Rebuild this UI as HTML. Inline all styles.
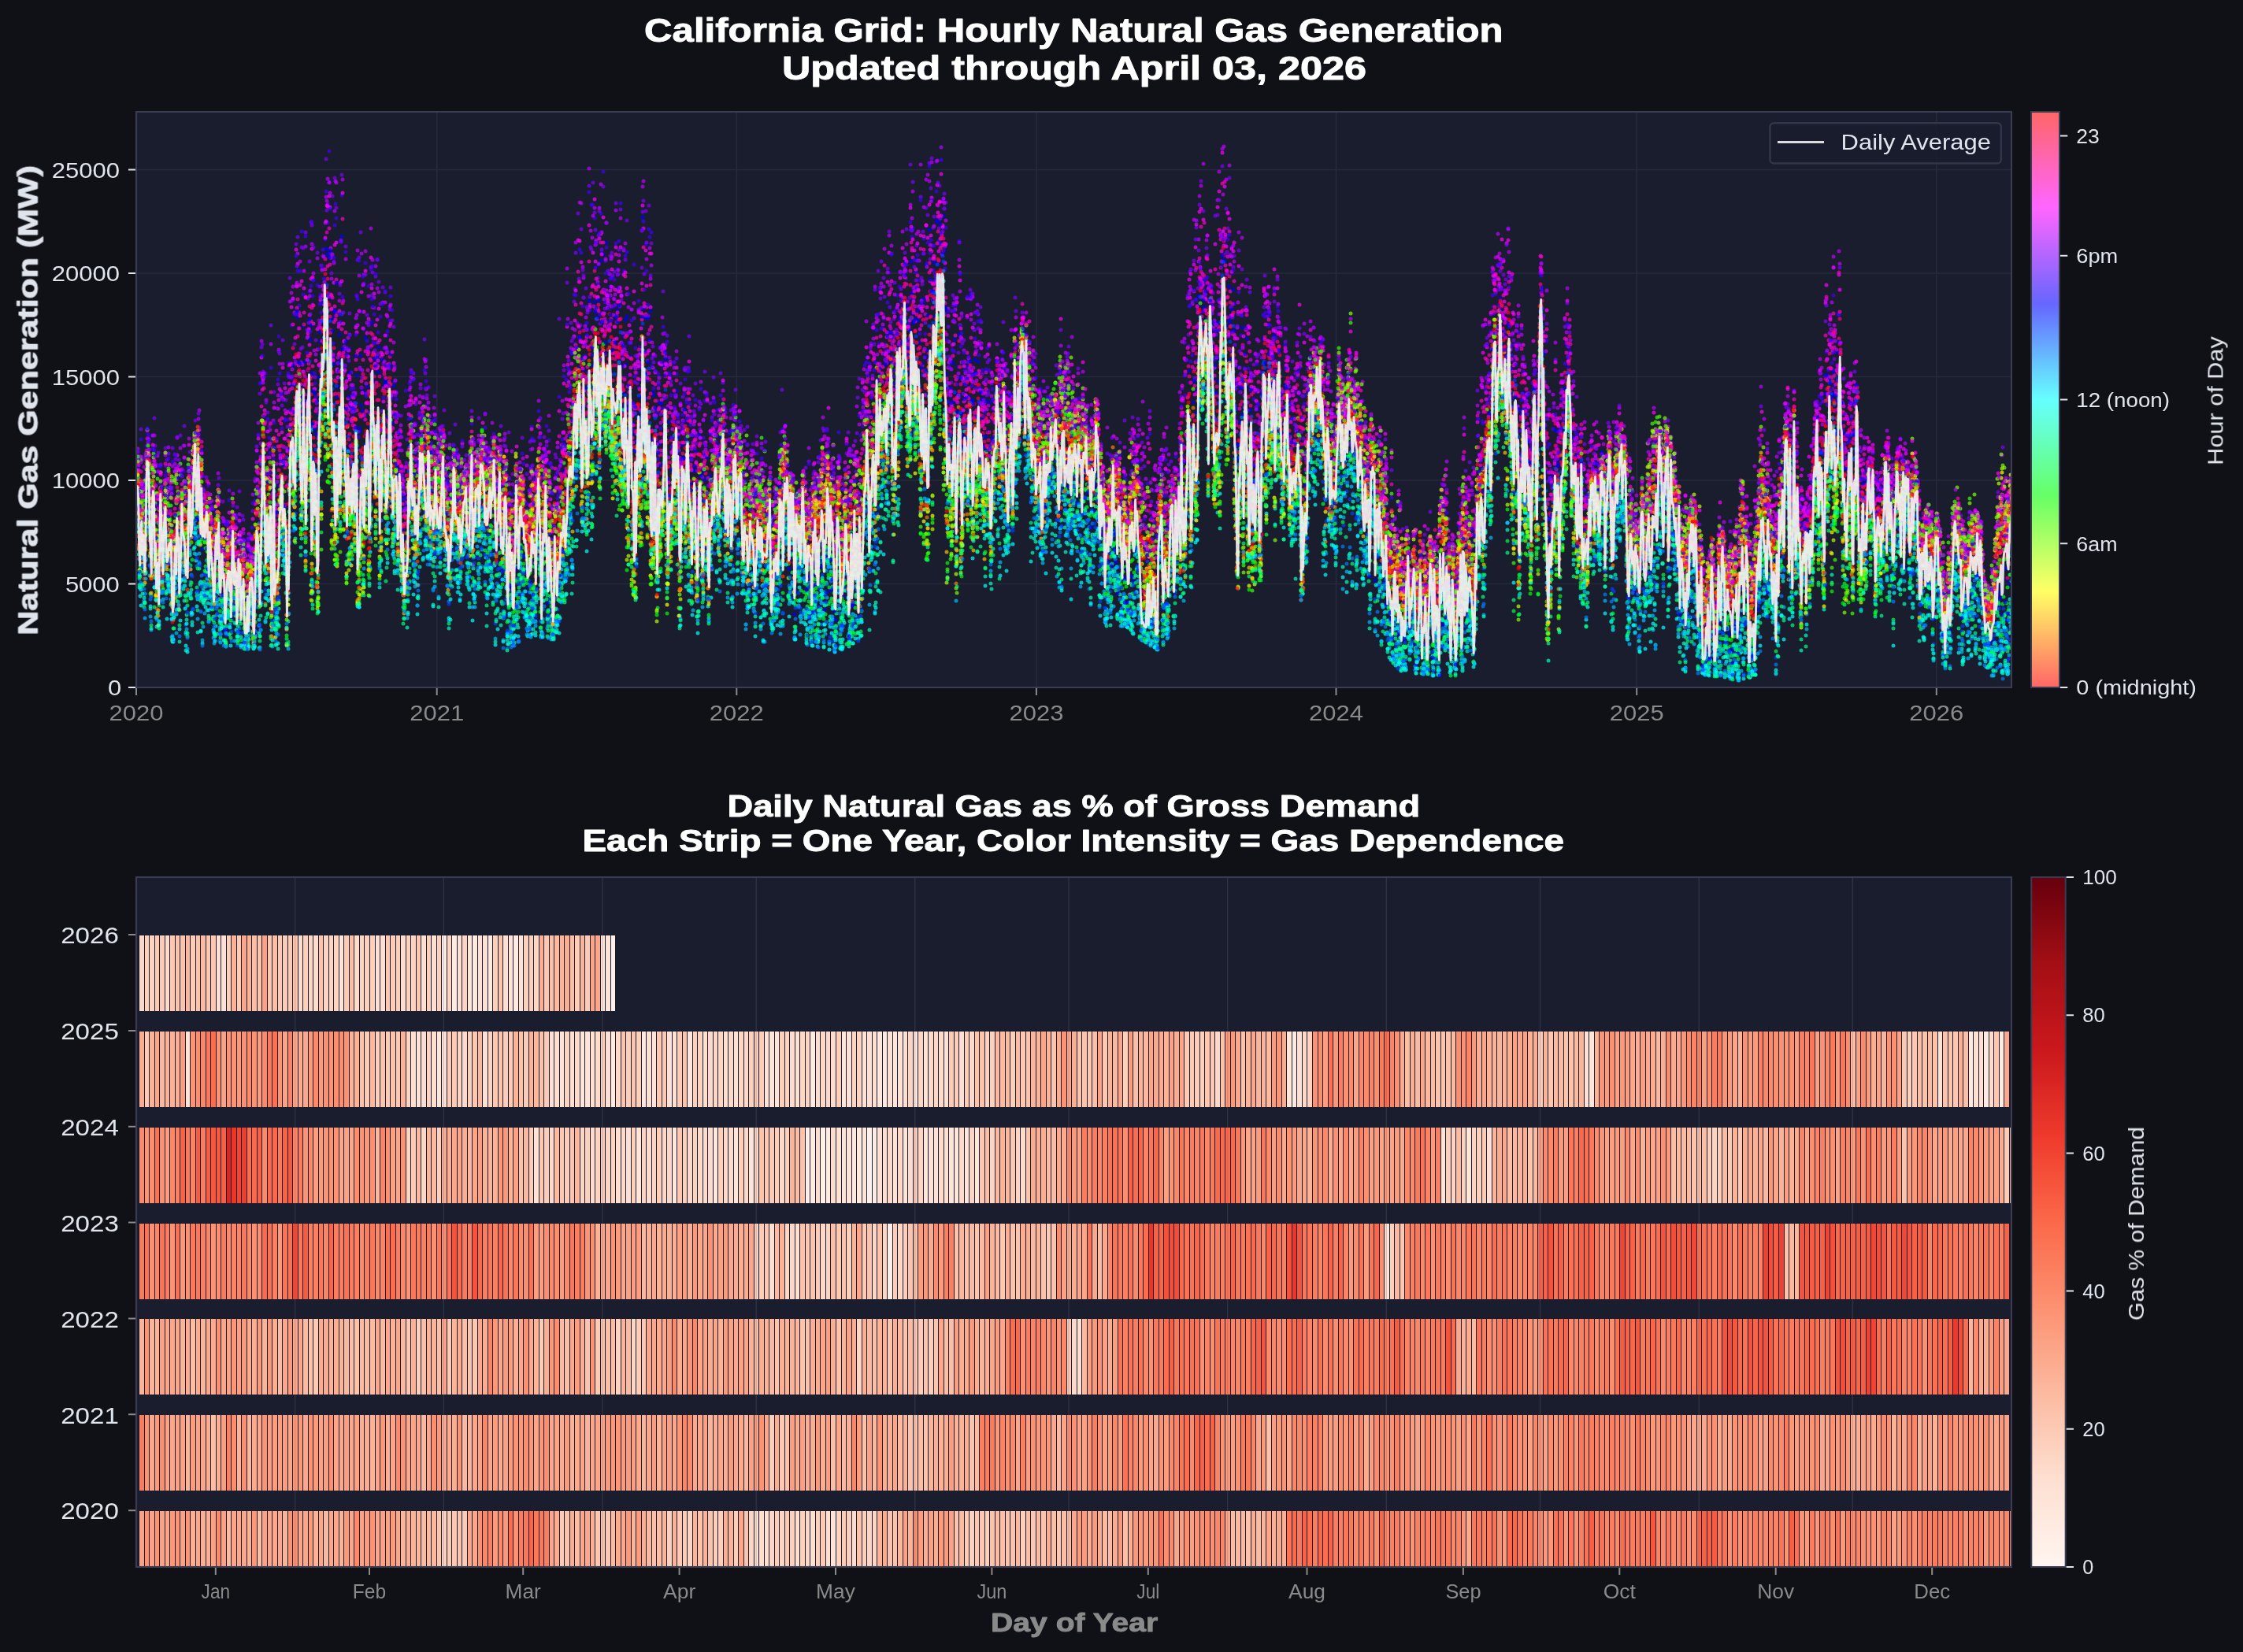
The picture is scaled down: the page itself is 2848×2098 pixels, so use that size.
<!DOCTYPE html>
<html><head><meta charset="utf-8"><title>California Grid: Hourly Natural Gas Generation</title><style>html,body{margin:0;padding:0;background:#101116;}svg{display:block}</style></head><body>
<svg width="2848" height="2098" viewBox="0 0 2848 2098" font-family='"Liberation Sans", sans-serif'>
<rect width="2848" height="2098" fill="#101116"/>
<rect x="173" y="142" width="2381" height="731" fill="#1a1d2e"/>
<path d="M173 873.0H2554M173 741.5H2554M173 610.0H2554M173 478.5H2554M173 347.0H2554M173 215.5H2554M173.0 142V873M554.7 142V873M935.3 142V873M1315.9 142V873M1696.5 142V873M2078.2 142V873M2458.8 142V873" stroke="#272a3d" stroke-width="1.6" fill="none"/>
<clipPath id="c1"><rect x="173" y="142" width="2381" height="731"/></clipPath>
<defs>
<marker id="m0" markerUnits="userSpaceOnUse" markerWidth="6" markerHeight="6" refX="3" refY="3" overflow="visible"><circle cx="3" cy="3" r="2.5" fill="#ff0000" fill-opacity="0.7"/></marker>
<marker id="m1" markerUnits="userSpaceOnUse" markerWidth="6" markerHeight="6" refX="3" refY="3" overflow="visible"><circle cx="3" cy="3" r="2.5" fill="#ff3f00" fill-opacity="0.7"/></marker>
<marker id="m2" markerUnits="userSpaceOnUse" markerWidth="6" markerHeight="6" refX="3" refY="3" overflow="visible"><circle cx="3" cy="3" r="2.5" fill="#ff7f00" fill-opacity="0.7"/></marker>
<marker id="m3" markerUnits="userSpaceOnUse" markerWidth="6" markerHeight="6" refX="3" refY="3" overflow="visible"><circle cx="3" cy="3" r="2.5" fill="#ffbf00" fill-opacity="0.7"/></marker>
<marker id="m4" markerUnits="userSpaceOnUse" markerWidth="6" markerHeight="6" refX="3" refY="3" overflow="visible"><circle cx="3" cy="3" r="2.5" fill="#ffff00" fill-opacity="0.7"/></marker>
<marker id="m5" markerUnits="userSpaceOnUse" markerWidth="6" markerHeight="6" refX="3" refY="3" overflow="visible"><circle cx="3" cy="3" r="2.5" fill="#bfff00" fill-opacity="0.7"/></marker>
<marker id="m6" markerUnits="userSpaceOnUse" markerWidth="6" markerHeight="6" refX="3" refY="3" overflow="visible"><circle cx="3" cy="3" r="2.5" fill="#7fff00" fill-opacity="0.7"/></marker>
<marker id="m7" markerUnits="userSpaceOnUse" markerWidth="6" markerHeight="6" refX="3" refY="3" overflow="visible"><circle cx="3" cy="3" r="2.5" fill="#3fff00" fill-opacity="0.7"/></marker>
<marker id="m8" markerUnits="userSpaceOnUse" markerWidth="6" markerHeight="6" refX="3" refY="3" overflow="visible"><circle cx="3" cy="3" r="2.5" fill="#00ff00" fill-opacity="0.7"/></marker>
<marker id="m9" markerUnits="userSpaceOnUse" markerWidth="6" markerHeight="6" refX="3" refY="3" overflow="visible"><circle cx="3" cy="3" r="2.5" fill="#00ff3f" fill-opacity="0.7"/></marker>
<marker id="m10" markerUnits="userSpaceOnUse" markerWidth="6" markerHeight="6" refX="3" refY="3" overflow="visible"><circle cx="3" cy="3" r="2.5" fill="#00ff7f" fill-opacity="0.7"/></marker>
<marker id="m11" markerUnits="userSpaceOnUse" markerWidth="6" markerHeight="6" refX="3" refY="3" overflow="visible"><circle cx="3" cy="3" r="2.5" fill="#00ffbf" fill-opacity="0.7"/></marker>
<marker id="m12" markerUnits="userSpaceOnUse" markerWidth="6" markerHeight="6" refX="3" refY="3" overflow="visible"><circle cx="3" cy="3" r="2.5" fill="#00ffff" fill-opacity="0.7"/></marker>
<marker id="m13" markerUnits="userSpaceOnUse" markerWidth="6" markerHeight="6" refX="3" refY="3" overflow="visible"><circle cx="3" cy="3" r="2.5" fill="#00bfff" fill-opacity="0.7"/></marker>
<marker id="m14" markerUnits="userSpaceOnUse" markerWidth="6" markerHeight="6" refX="3" refY="3" overflow="visible"><circle cx="3" cy="3" r="2.5" fill="#007fff" fill-opacity="0.7"/></marker>
<marker id="m15" markerUnits="userSpaceOnUse" markerWidth="6" markerHeight="6" refX="3" refY="3" overflow="visible"><circle cx="3" cy="3" r="2.5" fill="#003fff" fill-opacity="0.7"/></marker>
<marker id="m16" markerUnits="userSpaceOnUse" markerWidth="6" markerHeight="6" refX="3" refY="3" overflow="visible"><circle cx="3" cy="3" r="2.5" fill="#0000ff" fill-opacity="0.7"/></marker>
<marker id="m17" markerUnits="userSpaceOnUse" markerWidth="6" markerHeight="6" refX="3" refY="3" overflow="visible"><circle cx="3" cy="3" r="2.5" fill="#3f00ff" fill-opacity="0.7"/></marker>
<marker id="m18" markerUnits="userSpaceOnUse" markerWidth="6" markerHeight="6" refX="3" refY="3" overflow="visible"><circle cx="3" cy="3" r="2.5" fill="#7f00ff" fill-opacity="0.7"/></marker>
<marker id="m19" markerUnits="userSpaceOnUse" markerWidth="6" markerHeight="6" refX="3" refY="3" overflow="visible"><circle cx="3" cy="3" r="2.5" fill="#bf00ff" fill-opacity="0.7"/></marker>
<marker id="m20" markerUnits="userSpaceOnUse" markerWidth="6" markerHeight="6" refX="3" refY="3" overflow="visible"><circle cx="3" cy="3" r="2.5" fill="#ff00ff" fill-opacity="0.7"/></marker>
<marker id="m21" markerUnits="userSpaceOnUse" markerWidth="6" markerHeight="6" refX="3" refY="3" overflow="visible"><circle cx="3" cy="3" r="2.5" fill="#ff00bf" fill-opacity="0.7"/></marker>
<marker id="m22" markerUnits="userSpaceOnUse" markerWidth="6" markerHeight="6" refX="3" refY="3" overflow="visible"><circle cx="3" cy="3" r="2.5" fill="#ff007f" fill-opacity="0.7"/></marker>
<marker id="m23" markerUnits="userSpaceOnUse" markerWidth="6" markerHeight="6" refX="3" refY="3" overflow="visible"><circle cx="3" cy="3" r="2.5" fill="#ff003f" fill-opacity="0.7"/></marker>
</defs>
<g clip-path="url(#c1)" fill="none" stroke="none">
<path style="marker:url(#m19)" d="M174 608l8 14 4-50 5 51 4-27 4 97 4-67 4 38 4-38 5 23 4 38 4-81 4 20 4-1 4-1 5-26 4 0 4-31 4-46 4 118 4 25 5 43 4-61 4 26 4-37 4 38 4 32 5-42 4 5 4-10 4 27 4 10 4 9 5-26 4 7 4-74 4-74 4-104 5 103 4 61 8 57 4-152 9 19 4-23 4-126 4 25 4-75 4 138 5 18 4-51 8 18 4-117 4 49 5-19 4-131 4 88 4 19 4 138 4-113 5 75 4 98 4-19 4-14 4-99 4 67 5-118 4 61 4 30 4-10 4 24 4 91 5-52 8-104 4 155 4-45 5 47 4 52 4 6 4-109 4 45 4-32 5-5 8-37 4 62 4 21 4 5 5-10 8 22 4 87 4-32 4-49 5 17 8 6 4 4 4-69 4 84 5-61 8-27 4 47 4 7 4 15 5-1 4 37 4-80 4 120 4-6 9-40 4-18 4 44 4 20 4-76 5 19 4-2 4-5 4 7 4 5 4-4 5 54 4-101 4 42 4-146 4-123 4 186 5-78 4-38 4 21 4-79 4 66 4-32 5 2 8 45 12-86 5 52 4 1 4-36 4 58 4 28 5-30 4 105 4 46 4-90 4-245 9 78 8 213 4-48 4-77 4 50 5 27 4 46 4-22 4 68 8-102 9 82 4-37 4 78 4-13 4-82 17 83 4-16 4-27 9 34 4-39 4 58 4-42 4 11 5 111 4-99 4 4 4 40 4 10 9 35 4-1 4-3 4 10 9-118 4 24 8 86 4-20 4 39 5-73 4 87 4-70 4-32 4 17 4 15 5-34 4-31 4 99 8-11 4-63 5 91 4-114 4 11 4 85 4-81 4-35 5-22 4-109 4 61 4-53 9 46 4-50 4 46 4-159 4 137 4 7 5-48 4-101 4 50 4 71 4-138 4 112 5-58 4 26 4 42 4 59 4-252 4 166 5-63 4 14 4-11 4 80 4 77 4-60 5 65 4-76 4 61 4 45 4-98 4 13 5-20 4 43 4 74 8 94 5-100 4-51 4 49 4-42 4 4 4 79 5-40 4-23 4-59 4 7 4 22 4 44 5-46 4 93 4-44 4-19 8 68 5-31 4-2 4-34 4 13 4 33 4-13 5-30 4 34 4 13 4-63 4 57 4 23 5 18 4-63 4 71 4 13 4 40 5-7 4-14 4-11 4 0 4 18 4-14 5 51 4-100 4 34 4 24 4-28 4 49 5 74 4-29 4-81 4 3 4-17 4 65 5-71 4 48 4 30 4-13 4-118 4-94 5 10 4 104 4-75 4-76 4-157 4 134 5-3 4 2 4 38 4-153 4 43 4-111 5 85 8 61 4 84 4 68 5 18 4 9 4-54 4 20 4-46 4 99 5-164 4 8 4 62 4-18 4 47 4 13 5 39 4-64 4 107 4-44 4 25 4-116 5 92 4 57 4-109 4 24 4-10 4-15 5-24 4 121 4-37 4 42 4 7 4-122 5 35 4 29 4-71 4 37 4-13 5 75 4-58 4 57 4 39 4-3 4 67 5 13 4-25 4-36 4 89 4-114 4 87 5-36 4 117 4 0 4-59 4 51 4-20 5 21 4-24 8-37 4 11 4 9 5 23 4 2 4-101 4 108 4 29 4-71 5 31 4-57 4-126 4 102 4 38 9-155 12-78 4 38 5-124 4 44 4-60 4-5 8 84 5-8 4 7 4 175 4-132 4 53 4 46 5-97 4 72 4-127 4 2 4 41 4 51 5 4 4 69 4 40 4-124 4 26 4-96 5 104 12 88 4 28 4-38 5-1 4-28 4-19 4 6 4 75 5-89 4 108 4-80 4 5 4-33 4 15 5 114 4-38 4 49 8-33 4 41 5-116 4 36 4-12 4-17 4-24 4-11 5-4 4 13 4 32 4 36 4 48 4 46 5-28 4 3 4 8 4 4 4 17 4-13 5 9 4 21 4-28 4 43 4-82 5-8 4 56 4-44 4 26 4-41 4-7 5-22 4 13 4 52 4 29 4-21 4-96 5 9 4 27 4-2 4 19 4-9 4-94 5 7 4-23 4 75 4-5 4 33 4-6 5 8 4-8 4-35 4 50 4-139 4 10 5 14 4-157 4 97 4-95 4 49 5-114 4 179 4 28 4-27 4-5 4-33 9 174 4 18 4-53 4-14 4 55 5-20 8-18 4-47 4 50 4 10 5-37 4 46 4 43 4-81 4 26 4-37 5 35 4 83 4-21 4-28 4 5 4 33 5-11 4 4 4 19 4 67 8-90 5 3 4-6 4-7 4 41 4-53 5 17 4 15 4-5 4 27 4 61 4 2 5 6 4-90 4-27 8-49 4 5"/>
<path style="marker:url(#m3)" d="M173 638l4 72 4-19 9-8 4-48 4 122 4-57 4 36 5-35 4-3 4 73 4-13 4-5 5-100 4 46 4-76 4 45 4-64 4-6 5 72 4 6 4 30 4-24 4 12 4-72 5 81 4 83 8-92 4 9 4 3 5 22 4 69 4-16 4-62 4 43 4-61 5-27 4 6 4 25 4 55 4-12 4 5 5-119 4 38 4 88 4-177 4 31 5-72 4 116 4-59 4-46 4 55 9 137 4-207 4-34 4-2 4-47 4 104 5 147 8-58 4 84 4-72 4-52 5-2 4 113 4-27 4-91 8-39 5 27 4 142 4-121 4 33 4-140 4 180 5-56 8 81 4 9 4-14 5-44 4 30 4-49 4-37 4 39 4-46 5 41 4-36 8 9 4 79 4 60 5-76 4-1 4 37 4-45 4-20 4 28 5-117 4 98 4-25 4-28 4 41 4 16 5-43 4 13 4 23 8-39 4 133 9-30 4-42 4-42 4 32 5 40 4-9 4-13 4-56 4 65 4-28 5 38 4-7 8 68 4-64 4-44 5 26 4-63 4-27 4 30 4-75 4-32 5 148 4-163 8 61 4 30 4-125 5 70 4 10 4 20 4 6 4 6 4 26 5-15 12 161 4-105 4-214 5 193 4-39 4 9 4 104 4 19 5-76 4-115 4 193 4-41 4-63 4 43 5-21 4 18 4 10 4 91 4-121 4 73 5-21 4-22 8 41 4-77 4 33 5-41 4 30 4 45 4-8 4-66 4 37 5-62 4 64 4 83 4-49 4 55 4-88 5 50 8-27 4 69 4-34 5-2 4-29 4-55 4-42 8 97 5-23 4 40 4-66 4 99 4-62 4-27 5 10 4 25 4-27 8 26 9 2 4-24 4 55 4-90 4 114 4-10 9-81 4 68 4-85 4 76 4-83 5 52 4-73 8-61 4-32 5 88 4 41 4-50 4-71 4-48 4 73 5-49 8 14 4 133 4-70 4 80 5-122 4-35 4-54 4 22 4 71 4 131 5-8 4-79 4 31 4 93 4-111 4 52 5-11 4-44 4 19 4-1 4 35 9 65 4-112 4-67 4 66 4-86 4 125 5-35 4-4 4-26 4-73 4-33 5 60 4 31 4 23 4 60 4-47 4 14 5-14 8-40 4 57 4 34 4-77 5 37 4-7 4-2 4 4 4 0 4-49 5 11 4 23 8-32 4 101 4-41 5 100 8-73 4-1 4-22 4 83 5-28 4 38 4-74 4-4 4 32 5 52 4 57 4 27 4-14 4-16 4-88 5-33 4 68 8-61 4 91 4-73 5-105 4 133 4-159 4 180 4-98 4-25 5-127 4-33 4 78 4-62 4 169 4 7 5-202 4-18 4 102 4-32 4 63 9 54 4 105 4-50 4-93 4 74 5-5 4 69 4-178 4 131 4-114 4-47 9 85 4 52 4-38 4 77 4-29 5-30 8 140 4-61 4-168 4 50 5-35 4-38 4 50 4 130 4-84 9 55 4-138 4 29 4 8 4-47 4 43 5 1 4 26 4-5 4 56 4 15 5-33 4 121 4-24 4-20 4-35 4 95 5-80 4 45 4 5 4 52 4 21 4-89 5 66 4-22 4 43 4-45 4-2 4 32 5-53 4 7 4 40 4-17 4-46 9 146 4-65 4-6 4-67 4-54 4 136 5-46 4 50 4-151 4 25 4 34 4-103 5 31 4-168 4 76 4-112 4 89 5 12 4 7 4 112 4-83 4 196 4-188 5 10 4 76 4-61 4 75 8-52 5 78 4 50 4-56 4-41 4 146 9-187 4-101 4 118 4 9 4 85 4 19 5-31 4-17 4-49 4-18 4 56 4-75 5 124 4-133 8 49 4-32 5-22 4-7 4 159 12-12 5-55 4 39 4-100 4 102 4-59 4-14 5-49 4 33 4-45 4 20 4 59 4 24 5 29 4 46 4-43 4-24 4 33 9 38 4 19 4-17 4 0 4-26 4 43 5-79 4-5 4 53 4-25 4 1 5-13 4-13 4-75 8 169 4-15 5-48 4-72 4-8 4 78 4-46 4 78 5 58 4-159 4-27 4-55 4 168 4 5 5-18 8-13 4 1 4-29 4 43 5-78 4 41 4-73 4-14 4 30 4 71 5-58 4-89 4 17 4 127 4-1 9-67 4 16 4 108 4-51 4-67 5 22 4 20 8 29 4-56 9-15 4 64 4-94 8 97 4-82 5 62 4-45 4-15 4 67 4 52 9-40 4 50 4-75 4 23 4 57 4 25 5-17 4-86 4 17 4 16 4 12 4-1 5-18 4 5 4-13 4 23 4 24 5 45 4 7 4-22 8-104 13-13"/>
<path style="marker:url(#m12)" d="M174 661l4 96 4-47 4-50 8 6 5 130 4-43 4-2 4-22 4 7 4 79 5-35 4 19 4-74 4 95 4-128 4 102 5-82 4 4 4 101 4-46 4 18 4-37 5 43 4-54 4 26 4 52 4-39 4 8 5-30 4-3 4 26 4 38 4 5 5-55 4 40 4-78 4 20 4-27 4 55 5 21 4-1 4 18 4-168 4 56 4 33 5-135 4 57 4-89 8 47 4-34 5-7 4 42 8-108 4-30 4-31 5 31 4 69 4 138 4-25 4-71 4 140 5-94 4-42 4 10 4 88 9-122 4 129 12 14 4-95 5 67 4-162 4 179 4-66 4 34 4 44 5 26 4 5 4-51 4 11 4-30 4-47 5 58 4-67 4 34 4-11 4 116 4-112 5 47 4 90 8-51 4 12 4-44 5-25 8-33 4 113 4-32 4-45 5 40 4 35 4-33 4-4 4 81 9-91 4 96 4 7 4-25 9-51 4 35 4 29 8-41 4-58 5 109 4-66 4 42 4-20 4 47 4-20 9-119 4 50 4-82 4 53 4-8 5-91 4 9 4 96 4-120 4 63 4-44 5 20 4-132 4 48 4-18 9 47 4 47 4-14 8-47 4 117 5 49 4-131 4-137 4 191 4-69 4 14 5 80 4 28 4-13 4-149 4 182 4-28 5-66 4 54 4-55 4 85 4 14 4 36 5-66 4 96 4-53 4-17 4 58 4-11 5-103 4 45 4-72 4 46 4 66 5 20 4-83 4 46 4-71 4 74 4 46 5-61 4 34 4-51 4 100 4-41 4-18 5 54 4-25 4 29 4 1 4-98 4-44 5 25 4 88 4-40 4 57 8 30 5-23 4-17 8 29 4-24 4-10 5 28 4-35 4 43 4-31 4 39 5-92 4 96 4 1 4-59 4-30 4 22 5-82 4 58 4-61 4 107 8-139 5 14 4-120 4 67 4 52 4-28 4-94 5-67 4 72 4-36 4 72 4-63 4 93 5-28 4 68 4-133 4-18 4-32 4-8 5 90 8 103 4-102 4 63 4 131 5-146 8 49 4-63 4 132 5-30 4-9 4-27 4 97 8-185 5 110 4-117 4 156 4-67 4-5 4 15 5-110 4-40 4 125 4-24 4 15 4 69 5 32 4-15 4-22 4-20 4-37 4 95 5-36 4-36 4 54 4-33 4 38 4-17 5-10 4 1 4 38 4 16 4-30 9 64 4-45 4 80 4-46 4-18 5 18 4-1 4 51 4-7 4-2 4-43 5-12 4 37 4 45 4-3 4 3 4-23 5-2 4-68 4-42 4 81 4 38 4-73 5 58 4-97 4-85 4 123 8 9 5-97 4-22 4-139 4-21 4 90 5-107 4 186 4-10 4-153 4-54 4 62 9 52 4 209 4-155 4 98 4-32 5-81 4 69 4-19 4 74 4-165 4 135 9-146 4 66 4 12 4 57 4-51 5 53 4 25 4-28 4 10 4 96 4-37 5-138 4 33 4-41 4-39 4 53 4 153 5-55 4-3 4 43 4-90 4-31 5 11 4 100 4 38 4-135 4 46 17 41 4 107 4-60 4 73 5-10 4-17 4-8 4-32 4 96 4 1 5-2 4-100 4 84 4-40 4 51 9-8 4 26 4-89 8 63 4-1 5-20 4 34 4 8 8-34 5-79 4-1 4 84 4-8 4 34 4-155 5-1 8-67 4 0 4-129 4 53 5-116 4 101 4 24 4-2 8-2 5 160 12-85 4-41 4 57 5-147 4 100 4 87 4 61 4-83 4 9 5 102 8-153 4-122 4 136 5 34 4 41 8 9 4-21 4-45 5-17 4 56 4-60 4 148 4-137 4 147 5-90 4-27 4-28 4 17 4 151 4-83 5 74 4-41 4-40 4 61 4-89 4 121 5-47 4-50 4-67 4 21 4-34 4-7 5 92 4-6 4 70 4 6 4-9 4 0 5 13 8 21 4 36 4-3 5-11 4-16 4 30 4-24 4 5 4 5 5 16 4-37 4 26 4-37 8-39 5 91 4-33 8-65 4-53 4 67 5-10 8 85 4-158 8-77 5 170 4-3 4-29 4-25 4-5 4-16 5-1 8-16 4 7 4-78 5 8 4-7 8 23 4-72 4 10 5 119 4 8 4-70 4-14 4 39 4 97 9-123 4 43 8-17 4 72 5-41 4-28 4 4 4 82 4-116 4 112 9-84 4 59 4-30 4 31 4 43 5 42 4-50 4 3 4 73 4-53 5-2 4 11 4 37 8-81 4-6 5-8 4 101 4-43 4 11 4-16 9 56 4-17 4 21 4-19 4 2 4-6 5 9 4 19 4-37 4-11 4-10"/>
<path style="marker:url(#m22)" d="M174 621l4 40 4 4 4-63 5 64 4-49 4 91 4-44 4 34 4-39 5 4 4 78 4-70 4 38 4-59 5 40 4-84 8 8 8 45 5 5 4 42 4-13 4-17 4-24 4 25 5 85 4-76 12 20 4 6 5 67 4-30 4-37 4-13 4-104 4 1 5 4 4 63 4 1 4 45 4-103 4-40 5 28 4 30 4-161 4 69 4-105 5 122 4-33 4-46 4 8 4 88 9-99 4-31 4-82 4 39 4 49 4 132 5-11 4-41 4 76 4-18 4-26 4-33 5 51 4-46 4-15 4 69 4-91 4 2 5 140 4-52 4-32 4-94 4 149 4-27 5 28 4 53 4 9 4-57 4-5 5-20 4-19 4-9 4-7 4 25 4 35 5-10 4 5 4-11 4 33 4 77 4-45 5-40 4 31 4 1 8 19 4-99 9 20 4 5 4 14 4 10 4-9 5-1 4 36 4 6 4-50 4 137 4-37 5 1 4-51 4-24 4 57 4 16 4-47 5-20 4-3 4 54 4-37 4 48 5-8 4 46 4-48 4-32 4-73 4-26 5 23 4-95 4 55 4-76 4-26 4 90 5-85 4 58 4-36 4 66 4-159 4 6 5 38 4 52 4 0 4-27 4 89 4-1 5-15 4 92 4 43 8-277 4 103 5-37 4 86 4 92 4-23 4-29 5-70 4 97 4 1 4-47 4 48 4 2 5-29 8 93 4-79 4 74 4-7 5-42 4 96 4-75 4-40 4 46 4-32 5-29 4 88 4-20 4-88 4 82 4-54 5 57 4 58 4-69 4 76 4-57 4 21 5 22 4-20 4 33 4-7 4 7 5-46 4-76 4 17 4 20 8 41 5 54 4-81 8 59 4-52 4 18 5 28 4-37 4-65 4 87 4-57 4 66 5-43 4 61 4-84 4 80 4 29 4-79 5-44 4 19 4-109 4 72 4-27 4 43 5-85 4 24 4-31 4-93 4 127 5-39 4-12 4-89 4 7 4 85 4-108 5 91 8-3 4 29 4 42 9-131 4-55 4 22 4 51 4 78 4 73 5-95 4 60 4 28 4-38 8-47 5 14 4-20 4 37 4 49 4-12 4 74 5-75 4-43 4 32 4-46 4 84 4-30 5 1 4-1 4-71 4-29 4 24 5 43 4 1 4 74 4-37 4 4 4 19 5 0 4-28 4-20 4 19 4 2 4 38 5-31 4 7 4-9 4 13 4-26 4-3 5 45 4 7 4-74 4 104 4-14 4 66 5-33 4-14 4 10 4-42 4 79 4-49 5 103 4-119 8 43 4 40 5 71 4 0 4-23 4-61 4-15 9 17 4 1 4-25 4 46 4-44 4-126 5 23 4-86 4 149 8-135 4-134 5 49 4 18 4-34 4 131 4-63 4-106 5-50 4 87 4 68 4-20 4 149 4-60 5 65 4-26 4-38 4 46 4-50 5 50 4-107 4 31 4 8 4-63 4 82 5 2 4 51 4-69 4 89 4-19 4-1 5-40 4 131 4-17 4-153 4 36 4-28 5-19 4 6 4 106 4-47 4 58 4 24 5-135 4 25 4 21 4-88 4 80 4-9 5 43 4-11 4 16 4 46 4-18 9 81 8-16 4 63 4-72 5 51 4 20 4 29 4 16 4-75 4 66 5-26 4 39 4-17 4-17 8-13 5-48 4 51 8-49 4 83 9-29 4 4 4-47 4-79 4 100 4 12 5 0 4-90 4-11 4-19 4-108 4 71 5-165 4 54 4-66 4 19 4-11 5 76 4 56 12-41 9 89 4-62 4 61 4-140 4 49 4 72 5 47 8 15 4 63 4-126 4-12 5-113 4 148 4-2 4 52 4 57 4-2 5-30 4-28 4-25 4 20 4-29 4 94 5-117 4 106 8-92 4-21 5 23 4 137 4-52 4 38 4-4 4-38 5 43 4-62 4 25 4-84 4 33 4-54 5 17 4-15 4 5 4 55 4 46 9 66 4-28 4-12 4 12 4 20 4 19 5 25 4 3 4-19 8 19 4-68 5-15 4 59 4-35 4 8 4-25 5 2 4-39 4 13 4 103 8-65 5-82 4 7 4 65 4-37 8 64 9-147 4-37 4 122 4 33 4-28 5-1 4 11 8-52 4 60 4-118 5 11 4-22 4-82 4 34 4-21 4 28 5-92 4 102 4 71 4-68 4 8 4-8 5 75 4 67 4 3 4-83 4 21 5 18 4 14 4 17 4-56 4-19 4 25 5 59 4-78 8 86 4-71 4 36 5-36 4 4 4 74 4-4 4 18 4-3 5 43 4-63 4 33 4 11 4 57 9-102 4 14 4-17 4 44 4 3 4-15 5 2 4-7 4 20 4 1 4 61 5 2 4-20 4-29 4-62 4-17 4 1 5 17 4 5"/>
<path style="marker:url(#m7)" d="M173 596l4 65 5-20 4-66 4 76 4-60 4 87 5-16 4 5 4-47 4 41 4 36 4-42 5 40 4-55 4 27 4-61 4 25 4-20 5-18 4 41 4 16 4 89 4-48 4 5 5-33 4 45 4 47 4-31 4-4 13 0 4 49 4 6 4-58 4-8 5-84 4-36 8 93 8 11 5-7 4-64 4 35 4 85 4-189 5 28 4-35 4 101 4-57 4-20 4 31 5 10 4 158 4-262 4-22 4 12 4-15 5 99 4 130 4-10 4-45 4 79 4-71 5-37 4 15 12-46 4 110 5-141 4 12 4 158 4-141 4 26 4-110 5 125 4-22 4 7 4 58 4 21 5-88 4-3 4 6 4-51 4-21 4-4 5 17 4 62 4-33 4-21 4-9 4 46 5 91 4-81 4-19 8-8 4 17 5 24 4-61 4 72 8-68 4 33 5-4 4-21 4 10 4 32 8-3 5 113 4-22 4 6 4-65 4-18 5 55 4 19 4-11 4-21 4-29 4 77 5-57 8 8 4 71 4-40 4-40 5-72 4 24 4-51 4-55 4 49 4-77 5-22 4 124 4-81 4 52 4-8 4 29 5-96 4 56 4-10 4 67 4-17 4 75 5-40 4-13 4-2 8 158 4-123 5-167 4 130 4-12 4 41 4 84 5 7 4-54 4-113 4 164 4-31 4-59 5 8 4-5 4 63 4-86 4 111 9-58 4 31 8 30 4-102 4-56 5 60 4-17 4-4 4 59 4-33 4-64 5 47 4-39 4 28 4 93 8-59 5-25 4 52 4 3 4 7 4 22 5-16 4-2 4-62 4-5 4-24 4 33 5 57 8 32 4-64 8 26 5-1 4 18 4-33 4 50 4-60 4 56 9 2 8 30 4-114 4 91 5 2 4-60 4-42 4 38 4-73 4-13 5-12 4 74 4-76 8-20 5-45 8 120 4-21 4-83 4-27 5 96 4-74 4 77 4-28 8 50 5 68 4-67 4-42 4-94 4 54 4 52 5 129 4 7 4-124 4 60 8-29 5 48 4 21 4-98 4 27 4 4 4 28 5-2 4 83 4-145 4-54 4 14 5-29 4 77 4-25 4 6 4-40 4-64 5-10 4 25 4 21 4 9 4 65 4-24 5-18 4 49 4 2 4-36 4-7 9-32 4 48 4-14 4-18 4 20 4 56 5-34 4-2 8 56 4-80 4 111 5-11 4 73 4-41 4-26 4 10 4 4 5 66 4-54 4 48 4-74 4-1 5 49 4 24 4 45 4 41 4-59 4-31 5-36 4-44 4 81 4 20 4-57 4 52 5-47 4-106 4 76 4-112 4 144 4-51 5-45 4-126 4-6 4 67 4-44 4 158 5-46 4-99 4-28 4 26 4 10 4 47 5 198 4-137 4 128 4-68 4-61 9 24 4 81 4-176 4 114 4-79 5-49 4 53 4 17 4 59 4-96 4 108 5-21 4-29 4-11 4 74 4-14 4-161 5 55 4-45 4-8 8 95 4-37 5 25 4 0 4-126 4 63 4-13 4-19 5 39 4-22 4 49 4-20 4 22 9-1 4 115 4 26 4-18 4-88 5 119 4-67 4 46 4 30 4 56 4-4 5-55 8 32 4 41 4-20 4-2 9-45 4-2 4 47 8-67 5 49 4 47 4-47 4 20 4-67 4-48 5 63 4 16 4 22 4-144 4 24 4 36 5-95 4 23 4-145 4 96 4-140 5 117 4 13 4 25 4 94 4-96 4 212 5-207 4 48 4 48 4-39 4 63 4-148 5 129 4 27 4 59 8-75 4 121 5-88 4-82 4-131 4 127 8 56 5 65 4-37 4-36 4-48 4-8 4 50 5-70 8-12 4 104 4-59 5-34 4-18 4 19 4 116 4-59 4 32 5 13 4-16 4 6 4-112 8 2 5 2 4-13 4 30 4-35 4 8 4 41 5 33 12 62 4-19 4 35 5 22 4 9 4 30 4 1 4-5 4-28 5 46 4-66 8 37 4 0 5-26 4-12 4-3 4-34 4-18 4 123 5-42 4-20 4-73 4-14 4 56 4-12 5 47 4 11 12-207 4 189 5 18 4-27 4-8 4 12 4-22 4-6 5 56 4-66 4 46 4-105 4 2 4 25 5 76 4-10 4-127 4 36 4 140 4-7 5-63 4-11 4-12 4 93 4-37 5-87 4 31 4 3 4-16 4 67 4-88 5-13 4 4 4 54 4-80 4 66 4 26 9-63 4 4 4-20 4 67 4 27 5-50 4 23 4 12 4-12 4 12 4 15 5 54 4-36 4-55 4 12 4 0 4-7 5 51 4-91 8 44 4 8 5 45 4 18 4 23 4-22 4-51 9-23 4-30 4 43 4-26"/>
<path style="marker:url(#m16)" d="M174 621l4 47 4-12 4-56 4 83 5-63 4 106 4-72 4 63 4-53 4 18 5 86 4-91 4 63 4-90 8-16 5 48 4-73 8 88 4-22 9 48 4-5 4-56 4 64 4 75 4-55 5 0 4-11 4-28 8 104 5-15 4-62 4 16 8-125 4 17 5 37 4 20 4 24 4-56 4-77 4 1 5 32 4-133 4 36 4-123 8 111 5-56 4-45 4 86 8-65 4-26 5-86 4 56 4 18 4 108 4-45 4 15 5 97 4-6 4-36 4-52 4 71 5-50 4-7 4 52 4-59 8 109 5-35 4-12 4-81 4 147 4-51 4 38 5 48 4 49 4-100 4 6 4 19 4-27 5-48 4 46 4-18 4 41 4-21 4 48 5-50 4 52 4 60 4-50 4-14 4 32 5-13 4-31 4 46 4-107 4 92 5-67 8 75 4-24 4-26 4-26 5 57 4 89 4-94 4 138 4-33 4-31 5-9 4-59 4 90 4 13 4-10 4-45 5-56 4 89 4-45 4 57 4-37 4 63 5-28 4-40 4-102 4 25 4-42 4-100 5 80 8-91 4 63 8-69 5 30 4 28 4-199 4-15 4 56 5 77 4 11 4 3 4 44 4-36 4 13 5 62 4 97 4-116 4-243 4 127 4 0 5 95 4 64 4 2 4-45 4-63 4 80 5 37 4-36 4 44 4-16 4 15 4-30 5 120 4-97 4 40 4 20 4-24 4 100 5-76 4-61 4 64 4-41 4 31 5 19 4-1 4-62 4 4 4-8 4 73 5 75 4-92 4 65 8-17 4 30 5-27 4 48 4-37 4 23 4-28 4-64 5-37 4 30 4 80 4-25 4 61 4-79 13 39 4 3 4 18 4 22 5-70 4 81 4-17 8 4 5 21 4-57 4 94 4-26 8-100 5 11 4-91 4 81 4-143 4 100 4-100 5-20 4 18 4-103 4 102 4 10 4-16 5-109 4-19 8-18 4 89 4-54 5 55 4-9 4 29 4-123 4 43 4-66 5 15 4 39 4 111 4 41 4-111 4 70 5 24 4-37 4 68 4-80 4-1 5-16 4 38 4 71 8 77 4-86 5-93 4 61 4-34 4 112 4-49 4 27 5-46 4-85 4-4 4 12 4 54 4 17 5 66 4-15 4-27 4 50 4 0 9-79 4 54 4-39 4 57 4-24 4-10 5-7 4 33 4 15 4-44 4 31 5 27 4-35 4 78 4-13 4 87 4-54 5-23 4 55 4-20 4 67 4-26 4 42 5-82 4-64 4 87 4 62 4 26 4-13 5-8 4-34 4-92 4 14 4 35 4 18 5-86 4 106 4-89 4-94 4 23 4-59 5 101 4-79 8-209 4 50 5 15 4-14 4 140 4-121 4-24 4-55 5 74 4 52 4-37 8 116 4 71 9-86 4 35 4-44 4 102 4-184 5 54 4-10 4 2 4 57 4-31 4 89 5-63 4 99 8-65 4-8 4 140 5-33 4-171 4 66 4-45 4-33 4-1 5 143 4-61 4 51 4 18 4-111 5 20 4-10 4-34 8 60 4 16 5 16 4 19 4 19 4-21 4 135 4-39 5 15 4 21 4 5 4-26 4 25 9 106 4-46 4-68 4 77 4-53 4 81 5-37 4 45 4 9 4-118 4-16 4 85 5-16 4-17 4 20 4 44 4-46 5 5 4-87 4 2 4 72 4-27 4 78 5-215 4 21 4 17 8-64 4-148 5 60 4-123 4 61 4 16 4 20 4 92 5-65 4 157 4-161 4 41 4 42 4-39 5 35 4-136 4 39 4 108 4 57 4-42 5 26 4 31 4-74 4-39 4-99 5 128 4 1 4 58 4 42 4 15 4-45 5 0 4-61 4 56 4-69 4 142 4-143 5 137 4-89 4-41 4-9 4 19 4 167 5-95 4 91 4-26 4-56 4 61 4-69 5 60 4-63 8-81 4 19 4-27 5-8 4 99 4 43 8 57 5-29 4-18 4 26 4 32 4 10 4 58 5-16 4-44 4 15 4 38 4-45 4 9 5-13 4-16 4-6 4 9 4 4 4-15 5-37 4 131 4-43 4-57 4-71 4-32 5 85 4-46 4 80 8-130 4-46 5-40 4 162 4 11 4-27 4-11 4-1 5-18 4 10 4 9 4-115 4 57 5-60 4-72 4 65 4-59 4 44 4-102 5 89 4 80 4-16 4-52 4 7 4 24 5 141 4-56 4-54 4 21 4 35 4-16 5 41 4-59 4-41 4 25 4 97 4-118 5 95 4 29 4-102 4 74 4-60 4-1 5 67 4 18 4 2 4-2 4 70 5-122 4 48 4 61 4 19 4 9 4-110 5 4 4 17 4 41 4-15 4-2 4-4 9-2 4 12 4 57 4 18 4-24 5-19 4-5 4 32 4-79 4 19 4 5"/>
<path style="marker:url(#m0)" d="M173 627l4 82 4-36 5-65 8 10 4 131 4-60 4 35 5-4 4-19 4 89 4-71 4 7 4-57 5 28 4-79 12-47 4 81 5 21 4 45 4-8 4-36 4-37 4 56 5 43 4-66 4 38 4-12 8 15 5 29 4 50 4-63 4-10 4-81 5-33 4 31 4 45 4 58 4-2 4-17 5-116 4 54 4 86 4-173 4 10 9 36 4-53 4-70 4 37 4 70 4 147 5-257 4-15 4-87 8 148 4 125 5-12 8 36 4-84 4-13 4 5 5 70 4 5 4-120 4 123 4-160 9 149 4-61 4 28 4-138 4 157 5-62 4 21 4 101 4 12 4-81 4 22 5 18 4-51 4-63 4 109 4-84 4 48 5-52 4 88 4-71 4 24 4 107 4-74 9 19 4-21 4-40 4 59 4-102 5 103 4-70 8 36 4-3 4-21 5-17 4 60 4 5 4-85 9 105 4-17 4-11 8 23 4 13 5-50 4 37 4-77 4 87 4-66 4 71 5 6 8 0 8-88 4 21 5-47 4-23 8-59 4-30 4 95 5-53 4 20 4-16 4 59 4-159 4 73 5-95 4 105 4 14 4 4 4 47 5-20 4-5 4 98 4 62 4-97 4-154 5 126 4-56 4 25 4 102 4 35 4-32 5-128 4 150 4-18 4-68 4 56 4-35 5 40 4-34 4 62 4-44 4 41 4 6 5-47 4 86 4-28 4-105 4 57 4-31 5 38 4 42 4-3 4-96 4 57 5-57 4 81 4 39 4-45 4 27 4-74 5 91 4-32 4-20 4 72 8-48 5-10 4-83 4 12 4 6 4 75 4-19 5 28 4-62 4 83 4-11 4-49 4-16 5 5 4 7 4-33 4 40 4 2 4 38 5-56 4 107 4-147 4 126 4-33 4-42 5-1 4-10 8-10 4-55 5 25 4-57 4-7 4-18 4-32 4 87 5 7 4-77 4-52 4-5 4 48 4-35 5 67 4-19 4 88 4-39 4 112 4-202 5 17 4-116 4 49 8 184 4 14 5-95 4 71 4 60 4-109 4 79 4-53 5-56 4 36 4-7 4 71 4-3 5 61 4-99 8-63 4-17 4 139 5-54 4 6 4-16 4-92 4-37 9 94 4 27 4 54 4-28 4-7 4-2 5 15 4-18 4-30 4 38 4-26 4 26 5-20 4 4 4 19 4 15 4-35 4-29 5 65 4-8 4-56 4 101 4-30 5 103 4-45 4-51 4 37 4-38 4 54 5-17 4 74 4-102 4-6 4 34 4 37 5 86 4 0 4-27 4-46 4-29 4-22 5 51 8-57 4 81 4-45 4-114 9-61 4 158 4-73 4-4 4-158 5 9 4-6 4-4 4 140 4-14 4-118 5-81 4 137 4 2 4 6 4 229 5-161 4 135 4-104 4-46 4 76 4-49 5 57 4-168 4 58 4-40 4-10 4 87 5-30 4 77 4-57 4 79 4 4 4-49 5-30 4 159 4-48 4-195 4 58 4-45 5 0 4 15 4 123 4-49 8 32 5-120 4 43 8-31 4 10 5 37 4 19 4 19 4 12 8-8 5 103 4 0 4-19 4-7 8 64 5-30 4-3 4 106 4-36 4-76 4 78 9-20 4-26 4 2 4 46 4-82 5 10 4 31 4 23 4-91 4 63 4 88 5-77 4 22 4-51 4-37 4 58 5 3 4 15 4-111 4 23 4-29 4-75 5 45 4-174 4 97 4-130 4 102 4 5 5-19 4 132 4-91 4 176 4-148 4 26 5 33 4-48 4 66 4-197 4 104 4 120 5 68 4-88 4 6 4 93 4-95 4-78 5-75 4 99 4 1 4 102 4 11 4 6 5-55 4-34 4 8 4 21 4-53 5 116 4-126 4 119 8-100 9-19 4 150 4-57 4 40 4-4 4-61 9-7 4 33 4-14 4-51 4-55 5 37 4-34 4 18 4 53 4 35 4 30 5 52 4-43 8-11 4 34 4 40 5 12 4-19 4 12 4-32 4 49 5-70 4 1 4 34 8-33 4-10 5-33 4 11 4-21 8 98 4-43 5-62 4-32 4 81 4-20 4 44 4 28 5-150 8-57 4 158 4-8 9-8 4 11 4-17 4-2 4 25 4-110 5 42 4-27 4-65 4 44 4-21 5 55 4-102 4 24 4 130 4-48 4-71 5 52 4-2 4 131 4-66 4-53 4 17 5 14 4 2 4 43 4-55 4-57 4 36 5 56 4-85 4 91 4 9 4-65 4 36 5-66 4 16 4 69 4 35 4-38 9 66 4-63 4 7 8 96 9-92 4-29 4 17 4 47 4 15 5-50 4 15 4-42 4 63 4-4 4 56 5 2 4-1 4-57 4-47 4-3 4-11 5 6 4-16"/>
<path style="marker:url(#m10)" d="M173 663l5 60 4-36 4-39 8 0 4 136 5-44 4 9 4 5 4-9 8 18 5 31 4-75 4 84 4-131 4 107 9-91 4 103 4-31 4 25 4-50 5 33 4-44 4 39 4 51 4-37 9 5 4-38 4 31 4 44 4-8 4-57 5 36 4-44 4-31 4 7 4 17 4 69 5-19 4 5 4-158 4 71 4 28 9-64 4-103 4 137 4-85 4-20 5 11 8 78 4-147 4-44 4-11 5-26 4 96 4 105 4 5 8 65 9-126 4 35 4 52 4 37 4-143 13 2 4 130 4-94 4 113 5-216 4 170 4-53 4 51 4 32 4 26 5-26 4-36 4 31 4-51 4-34 5 41 4-48 4 67 4-78 8 14 5 70 4 94 4-58 4-26 4 44 4-49 5-24 4 42 4-101 4 120 4-39 4-24 5 75 4-26 4 14 4-36 4 48 4 28 5-77 4 105 4-10 4-25 4-9 4-28 5-12 4 50 4 5 4-31 4-57 4 106 5-62 4 73 4-34 4 16 4 13 5-72 4-31 4 24 4-72 4-21 4 63 5-102 4-9 4 70 4-86 4 65 4-32 5 21 4-145 4 70 4 22 4 37 4-40 5 41 4 29 4-48 4-14 4 106 4 83 5-131 4-164 4 157 4-41 4 16 4 102 5 25 4-72 4-105 4 156 4-28 5-31 4 39 4-35 4 33 4 66 4 18 5-108 4 118 4-79 4-25 4 64 4-19 5-46 4 12 8-22 4 91 4-14 5-76 4 71 4-113 4 82 4 53 4-61 5 72 4-70 4 98 4-53 8 44 5-19 4-6 4 7 4-85 4-26 5 6 4 78 4-26 4 47 4-68 4 115 5-6 4-54 4 4 4 23 4 32 4-68 5 43 8-4 4-28 4 32 4-69 5 75 4-9 4-25 4 0 4-4 4-113 5 112 4-46 4 41 4-159 4 16 4 45 5-98 4 97 4 9 4-21 4-111 4-60 5 73 4-28 4 67 4-49 4 75 5-22 4 60 4-54 4-90 8-38 5 75 4 105 4 52 4-158 4 81 4 91 5-121 4 84 4 16 4-112 4 130 4-6 5 9 4-75 4 102 4-104 4-78 4 97 9 37 4-69 4 13 4 33 4-140 5-28 4 88 4 22 4-4 4 61 5-8 4-22 4 9 4 2 8 50 5-58 4-1 4 50 4-67 4 18 4 43 5-34 8 24 4 54 4-37 4-48 5 136 4-77 4 85 4-60 4-12 4 35 5-7 4 51 8 4 4-31 4-52 5 27 4 77 4 1 4-6 4 0 5 7 4-108 4-6 4 74 4 34 9-39 4-65 4-111 8-22 4 176 5-112 4-11 4-150 4 4 4 54 4-85 5 175 4-22 4-137 4-11 4 56 4 26 5-38 4 231 4-140 4 106 4-38 4-73 5 85 4-49 4 82 8-38 4-115 5-25 4 68 4-18 4 40 4-18 5 72 4 25 4-67 4 21 4 112 4-55 5-166 4 71 4-57 4-11 4 39 4 126 5-78 4 44 4 41 4-101 4-25 4 3 5 60 4 71 4-106 4 50 4-17 4 17 5 78 4-71 4 122 4-62 4 92 4-35 5-12 4 22 4-43 4 64 4 35 5-28 4-90 4 67 4-18 4 45 4-8 5 4 4 22 4-92 4-5 4 71 9-6 4-10 4 46 4-43 4 2 4-75 5 4 4 86 8-1 4-134 4 17 5 39 4-110 4 27 4-180 4 69 4-92 5 111 4-30 4 41 4 100 4-132 5 207 4-186 4 33 4 61 4-56 4 42 5-126 4 112 4 62 4 52 4-59 4-28 5 142 4-161 4-29 4-103 4 137 9 69 4 30 4-19 4-12 4-60 4-32 5 80 4-74 4 116 4-128 4 173 4-97 5-36 4-27 4 38 4 127 4-71 5 58 4-28 4-49 4 59 4-67 4 40 5-5 4-11 4-85 4 20 8-26 5 71 4 33 4 53 4 21 4-42 4-12 5 56 8-2 4 31 8-30 5 1 4 49 4-39 4-9 8 44 9-63 4 5 4-8 4-35 4 106 5-38 4-22 4-56 4-43 4 78 5-9 8 85 4-191 4 1 9 94 4 35 8-73 4 2 4-22 5 18 4 15 8 6 4-133 4 36 5 31 4 66 4-88 4-94 4 46 4 164 5-46 4-17 4-43 4 11 4 103 4-61 5-64 4 35 4 18 4-28 4 75 5-55 4-35 4 18 4 55 4-97 4 118 5-6 4-103 4 89 4-50 4 26 4 56 5 44 4-55 8 81 4-53 4-16 5 45 4 7 4 2 4-96 4 24 4-15 5 68 4-31 4 6 4-4 4 48 4 3 5-14 8 19 4-2 4-9 5 6 4 2 4-27 4-16 4 17"/>
<path style="marker:url(#m20)" d="M174 612l4 30 4-20 4-34 5 44 12-4 4 32 4-37 5 43 4 27 4-61 4 27 4-16 4 8 5-67 4 23 4-42 4-19 4 100 4 5 5 57 4-39 4 25 4-58 4 40 4 64 5-89 4 23 4-2 4 7 9 27 4-12 4-11 4-43 4-83 4-103 9 153 4 2 4 59 4-149 4-22 5-4 4 30 4-133 4 64 4-119 4 153 5 1 4-66 4-69 4 140 4-76 4-37 5-11 4-108 4 65 4 32 4 110 4-58 5 22 4 85 4-6 4-7 4-83 9-26 4 27 4 33 4-8 4 20 5 110 4-68 4-110 4 14 4 179 4-69 5 40 4 61 4 20 4-136 4 46 4-49 5 5 4-6 4-11 4 40 4 41 4-23 5 6 4 3 4 33 4 69 4-45 4-28 5 21 4-48 4 59 4 14 4-73 5 39 4-43 4 5 4 13 4 39 4-27 5 0 4-5 4 42 4-30 4 132 9-60 4-34 8 3 4 40 4-78 5 15 4-21 4 71 4-94 4 51 4 13 5 19 4-91 4 68 4-143 4-72 4 93 5-81 4 50 4-43 4-56 4 50 4-38 5 26 4-11 4 67 4-196 4 7 5 86 4 65 4-4 4-64 4 90 4-8 9 92 4 60 4-106 4-233 4 57 5 4 4 145 4 85 4-52 4-55 4 17 5 18 4 65 4-43 4 41 4 6 4-25 5-65 4 119 4-28 4 27 4 36 4-86 5 116 4-85 4-21 4 39 4-1 5-11 4 60 8-101 4 86 4-47 5 14 4 91 4-89 4 19 4 17 4 21 5 36 4-10 8 5 4 2 4-67 5-34 4 18 4 16 8 41 4 26 5-44 4 95 4-78 4-22 4 23 4-6 5-41 4-32 4 78 4-48 4 55 5-42 4 72 4-121 4 72 4 35 4-60 5-79 4-17 4-67 4 25 4 15 4 39 5-54 4-17 4 0 4-128 4 141 4-7 5 4 4-144 12 3 4 90 5-19 4 6 4 37 4 72 4-253 4 116 5-48 4-7 4 22 4 67 4 113 4-114 5 102 4-72 8 135 4-166 5 36 8 7 4 69 4-61 4 152 5-69 4-41 4 17 4-34 4 49 4 8 5-11 4-23 4-50 4-23 4 17 4 50 5-11 4 108 4-60 4-6 4 29 4 5 5-43 8-51 8 61 4-4 5-42 4 42 4 31 4-91 4 59 5 39 4 8 4-46 4 93 4-18 4 47 9-29 4 15 4-23 4 50 4-17 5 27 4-120 4 39 4 29 4-37 4 80 5 50 4-8 4-107 4 30 4-50 4 85 5-44 4 19 4 20 4-17 4-126 4-53 5-40 4 149 4-63 4-104 4-132 5 109 4 25 4-28 4 96 4-204 4 36 5-62 4 33 4 131 4-93 4 122 4 57 5-36 4 78 4-50 4 13 4-33 4 93 5-182 4 13 4 57 4-20 8 58 5 49 4-57 4 85 4-53 4 43 4-158 5 158 4 41 4-126 4 39 9-69 4 15 8 98 4 16 4 2 5-90 8 51 4-59 4 88 4-95 5 89 8-1 4 43 4-41 4 75 5 29 8-99 4 135 4-105 4 90 5-43 4 121 4-28 4-17 4 40 4-30 5 21 4-11 4-56 4 59 4-41 4 9 5 27 4 0 4-74 4 71 4 28 5-53 4 27 4-62 4-107 4 99 4 29 5-81 4-63 4 47 4-60 4-82 4 42 5-125 4 59 4-88 4 3 4-23 4 116 5-26 4 44 4 140 4-145 4 64 4 47 5-116 4 64 8-76 4 6 4 99 5 1 4 48 4 44 4-133 4 19 5-91 4 86 4 40 8 82 4 22 5-34 4-10 4-18 4-17 4-10 4 95 9-44 4-21 4-6 4-18 4 17 5 126 4-69 4 51 4 4 4-40 4 35 5-122 4 21 4-10 4-9 4-21 4 23 5-11 4 13 4 56 4 11 4 36 5 42 4-28 4-23 4 28 13 33 4 39 4-36 4-32 4 67 4-124 5 43 4 52 4-38 8-29 4-22 5 3 4-17 4 119 4-12 4-50 17-27 4-10 4 5 4-95 5-4 4-18 4 83 4-26 4 41 4 24 5-26 4 12 4-66 4 53 4-121 5 7 4 9 4-143 4 83 4-43 4-6 5-70 4 155 4 28 4-45 4 24 4-15 5 83 4 50 4 11 4-46 4-12 4 58 5-5 4 15 4-49 4-28 4 40 4 21 5-56 4 56 4 51 4-85 4 33 4-52 5 33 4 57 4 22 4-42 4 28 5-4 4-8 4 13 4 48 4 38 9-94 8-6 4 13 8-15 9 15 4 2 4 54 13 11 4-77 4-13 4-41 4 15 4 39 5-19"/>
<path style="marker:url(#m5)" d="M173 618l4 74 5-38 4-58 4 69 4-33 4 97 4-55 5 21 4-19 4-10 8 32 4 21 5-49 4 20 4-69 4 8 4-36 4 0 5 54 8 74 4-40 4-1 4-42 5 60 4 67 4-92 4 30 4-25 5 10 4 39 4 53 4-36 4-21 4 17 5-102 4 4 4-12 4 60 4 48 4 19 5-29 4-124 4 54 4 76 4-189 4 78 5-83 4 139 4-64 4-26 4-16 4 28 5 172 4-247 4-12 4 37 4-83 4 95 5 120 4-39 4 28 4 45 4-67 5-53 8 102 4 7 4-105 4 113 5-134 4-6 4 157 8-73 9 31 4-60 4-3 4 71 4 53 4-51 5-52 4 11 4-48 4-57 4 66 4-45 5 60 4-47 4 49 4-42 4 45 9 23 4-23 4 9 4-45 4 8 5 45 4-81 4 55 4-41 4-4 4 18 5 41 4-35 4-2 4 15 4 38 9 89 4-89 4 26 4-49 4-29 4 56 5 40 4-51 4 12 4-43 4 60 4-51 5 54 4-11 4 36 4-23 4-39 4-22 5-46 4 17 4-48 4-5 4-29 5-32 4 183 4-164 4 96 4-45 4 41 5-100 4 77 4-15 8 0 4 37 5 21 4-12 4-17 4 95 4 78 4-140 5-129 4 117 4-45 4 66 4 72 4 9 5-48 4-102 4 139 4-7 4-52 9-19 4 63 4-38 4 93 4-101 4 67 5-40 4 7 4 77 4-55 4-98 5 39 4-33 4-8 4 96 4-20 4-78 5 16 4-29 4 48 4 100 4-78 4 27 5-58 4 49 4 27 4-20 4 24 4-24 9-32 4-45 8 15 4 44 5 1 4 22 4-26 8 11 4-48 5 26 4 18 4-25 4-53 4 92 5-107 4 120 4-58 4 75 4-71 4 67 5-9 4-30 4-44 4 50 4-68 4 36 5-60 4 54 4-76 4-12 4 16 4-37 5 41 4 62 12-127 4 51 5-43 4 82 4-27 4 48 4-24 4 69 5-88 4-75 4-67 4 53 4 75 5 119 4 38 4-134 4 55 4 87 4-127 5 55 4-37 4-24 4 90 4-54 4 27 5-37 4 88 4-134 4-38 4 44 4-79 5 126 4-41 4 16 4-64 4-57 4-36 5 36 4 55 4 14 4 64 4-45 4-23 5 41 8-44 4 18 4 2 4-26 5 50 4-32 4-14 4 27 4 20 5-67 4 13 4 80 4-22 4-68 4 110 5-20 4 64 8-52 4 47 4-42 5 48 4-19 4 44 4-113 4 13 4 62 5 15 4 80 4 17 4-32 4-14 4-58 5-50 4 101 4-4 4-49 4 56 4-44 5-95 4 89 4-148 4 153 4-49 5-39 4-154 4 38 4 45 4-58 4 172 5 16 8-194 4 80 4-14 9 191 4-109 4 115 8-143 4 70 5-22 4 93 4-201 4 149 4-132 4-18 5 70 4 15 4 22 4-53 4 87 4-45 5-17 4-4 4 150 4-60 4-169 5 56 4-43 4-43 4 35 4 102 4-44 5 44 4 28 4-160 4 22 4 20 4-39 5 43 4-31 4 82 4-39 4 9 4 55 5-27 4 101 4-39 4 37 4-57 4 99 9-32 4 14 4 60 4-27 4-53 9 50 4 42 4-40 13-19 4-11 4 54 4-24 4-47 5 50 4 68 4-77 8-26 4-79 5 97 4 12 4 38 4-153 4 43 4 22 5-124 4 55 4-142 4 71 4-110 4 73 5 28 4 3 4 113 12-99 9 91 4-24 4 42 4-153 4 107 9 158 4-95 8 131 5-104 4-98 4-92 4 123 4 28 4 23 5 14 4 8 4-49 4-46 4 4 4 56 13-112 4 104 4-28 4-49 5-36 4 39 4 126 4-64 4 37 4 12 5-57 4 68 4-113 4 27 4 12 4-55 5-20 4 40 4-53 8 33 13 161 4-60 4-8 4 28 5 35 4-6 4-14 4 35 4 2 4-50 5 69 4-72 4 13 4 21 4-24 4 1 9-26 4-37 4 28 4 90 4-18 5-46 4-51 4-33 4 77 8 23 5 35 4-120 4-46 4-54 4 195 9-25 4-10 4 38 4-50 4 9 5 50 4-89 4 57 4-100 4 14 4 22 5 62 4-42 8-71 13 109 4-47 8 113 4-39 4-104 5 34 4 28 4-24 4 68 4-87 4-23 5 4 4 69 4-96 4 69 4 31 4-74 5 70 4-81 4 8 4 59 9 0 4 16 4 43 4-56 4-8 4 66 5 33 4-33 4-63 4-2 4 15 4-1 5 23 4-44 4 35 4-31 4 2 4 65 5 34 4 8 4-12 4-81 4-72 4-19 5 53 4 2 4 14"/>
<path style="marker:url(#m14)" d="M174 675l4 67 8-93 4 69 4-61 5 130 4-34 4 12 4-5 4-28 4 75 5-29 4 30 4-72 4 57 4-108 5 89 4-99 4 39 4 106 4-64 4 34 5-37 4 4 4-9 4 22 4 45 4-63 5 20 4-16 4 0 4 15 4 46 4 3 5-68 4 15 4-4 4 2 4-66 4 62 5 18 4 9 4 18 4-165 4 65 4 15 5-111 8-85 4 124 4-70 5-35 4 3 8 198 8-286 5-64 4 51 4 74 4 127 4-3 4-28 5 59 4-60 4-10 4-9 4 52 4 0 5-78 4 101 4-121 4 39 4 133 4-106 5 55 4-151 4 174 4-56 4 23 4 66 9 13 8-47 4-44 5-27 4 67 4-55 4 41 4-42 9 11 4 66 4 54 4-53 4-6 4 18 5-4 4-45 4 59 4-85 4 100 4-27 9 18 4-27 4-8 4-28 4 75 5 15 4-67 4 118 4 5 4-2 4-85 5 8 4 8 4 49 4-1 4-34 4-69 5 93 4-19 4 7 4-19 4 53 5-22 4-66 4-65 4 63 4-55 4-54 5 40 4-76 4 10 4 38 4-74 4 38 5-19 4 15 4-100 4 40 4-36 4 68 5-8 4 15 4 4 4 3 13 140 4-139 8 11 4-18 4 5 5 86 4 40 4-46 4-124 4 142 5-4 4-71 4 46 4-31 4 60 4-7 5 93 4-88 4 68 4-29 4-18 4 45 9-91 4 44 4-40 4 28 4 64 5 6 4-71 4 32 4-82 4 92 4 59 5-62 4 47 4-58 4 85 4-34 4-30 5 73 4-38 4 10 4-6 4-58 5-48 4 26 4 66 4-34 8-1 5 109 4-21 4-21 4 5 4 11 4 0 5-51 4 51 4-6 4 15 4-23 4 18 9 6 4-12 4-46 4 21 17-113 4 88 4-149 9 18 8 11 4 12 8-133 5-42 4 68 4-75 4 96 4-47 5 55 4-31 4 82 4-117 4-35 4-67 5 6 4 106 4 99 4 3 4-60 4 45 5 43 4-52 4 58 4-25 4-59 4 68 5-78 4 72 4 2 4 102 4-85 9 15 4-112 4 126 4-64 4 11 4 23 5-112 4-13 4 79 4-13 4 20 5 73 8-56 4 54 8-67 5 91 4-11 4-76 4 50 4-14 4 24 5-7 4 1 4-18 4 65 4 47 4-83 5-37 4 143 4-73 4 91 4-56 4-29 5 38 4 1 4 45 4 4 4-21 4 4 5-72 8 95 8 9 5-11 4-10 8-74 4 44 4 32 5-85 4 55 4-63 4-130 4 122 4-132 5 144 4-70 4-30 4-158 4 0 4 69 5-76 4 153 4-16 4-153 4-50 4 142 5-32 12 91 4 110 4-63 5-65 4 59 4-19 4 78 4-191 5 113 4-80 4-9 4 58 4 19 4 49 5-60 4 99 4-11 4-32 4 9 4 115 5-39 4-160 4 71 4-79 4-20 4 42 5 140 4-53 4 0 4 46 4-116 4-6 5 39 8 96 4-79 4 34 4-25 5 49 4 12 4-39 4 139 8-7 5 3 4 15 4-32 4-13 4 51 5 17 4 13 8-31 4-26 9 17 4 13 4 29 4-94 4 4 4 62 5-16 4 18 4-10 4 35 4-50 4 9 5-72 4 34 4 19 4-4 4 41 9-134 4 76 4-152 8-154 4 66 5-78 8 81 4 15 4 61 5-66 4 165 4-173 4 20 4 42 4-21 5 41 4-159 4 97 4 86 4 40 4-18 5-1 8-9 4-65 4-110 4 100 5 34 4 64 8 55 4-38 4-59 5 19 4 50 4-94 4 149 4-142 4 151 5-96 4-29 4-22 4 39 4 117 5-64 4 78 4-24 4-65 4 54 4-56 9 50 4-50 4-54 4-2 4-35 5 27 4 61 4 45 4 39 4 30 4-28 5-21 4 37 4 37 4 3 4 12 4 4 5-24 4-7 4 35 4-38 4-12 4 29 5 10 4-44 4 3 4-3 4 36 4-86 5 101 4-43 4-10 4-33 4-87 5 73 4 4 4 56 4 33 4-172 4-20 5-67 4 176 4 10 4-52 4-29 4 31 5-33 4 14 4 10 4-67 4 39 4-99 5 9 4-2 4 15 4 30 4-131 4 51 5 114 4-28 4-73 4 39 4 52 4 74 5-30 8-44 4-1 4-1 5 80 4-80 12 69 4-111 5 119 4-12 4-81 4 85 4-34 4-17 9 117 4-54 4 7 4 82 4-69 5 1 4 35 4 29 4 21 4-115 4 15 9 73 4-41 4-13 4 19 4 33 5-7 4 5 4 2 4 29 4-7 5-2 4-16 4 41 4-64 4 20 4-29"/>
<path style="marker:url(#m23)" d="M174 617l4 64 4 2 5-85 4 67 4-53 4 108 4-67 4 59 5-44 4 24 4 65 4-76 4 58 9-49 4-53 4 21 8-56 4 69 5-12 4 70 4-4 4-33 4-68 4 63 5 73 4-36 8-22 4 18 4-19 5 78 8-62 4 21 4-102 5-62 4 32 8 102 4 22 4-64 5-63 4 38 4-1 4-93 4-25 4-70 5 99 4 6 4-74 4 18 4 35 4 139 5-202 4-50 4-39 4 35 4 127 4 65 5 0 4-56 4 129 4-99 4-18 4-5 9 13 4-21 4 48 4-105 4 36 5 95 4-85 4 35 4-98 9 79 4 30 4 80 4 40 4-95 4 14 5-23 4 3 4-37 4 6 4-1 4 28 5-5 4 44 4-38 4 32 4 56 4-46 5-1 4-16 4 18 4-10 4 29 4-100 5 81 4-49 4-17 4 66 4-28 4 1 5-16 4 34 4 46 4-61 4 116 5-57 4 17 8-66 4 29 4 66 9-57 4-51 4 52 4-10 4 36 5-10 4 83 4-65 4-43 4-85 4 20 5-7 4-89 4 54 4-64 4-73 4 136 5-79 4 27 4-10 4 40 4-134 4 63 5-55 4 32 8 2 4 110 5 2 4-19 4 55 4 91 4-110 4-171 5 118 4-36 4 40 4 113 4 42 9-174 4 126 4-8 4-60 4 26 4 21 5 9 4-50 4 99 4-57 4 27 4 18 5-30 4 86 4-70 4-53 4 42 4-32 5 17 4 56 4-9 4-84 4 45 5-41 4 47 8 19 4 31 4-20 5 26 8 10 4 47 4-31 4-11 5-20 4-48 4-23 4 13 4 58 4-11 5 27 4-52 4 81 4-8 4-79 4 28 5 3 4 7 4-68 4 49 4 1 4 57 5-21 4 45 4-91 4 93 4 4 4-113 5 1 4 22 4-147 4 120 4-125 5 90 4-65 8-18 8 57 5-25 4-47 4-66 4-10 4 87 4-101 5 74 4 19 4 38 4-24 4 105 4-199 5 28 4-62 4 16 4 57 4 99 4-6 5-61 4 91 4 7 4-57 4 75 4-24 5-52 4-22 4 29 4 69 4-25 5 87 4-93 4-66 4-9 4-2 9 63 4 7 4-49 4-32 4-47 4 51 5 33 4 18 4 50 4-64 4 64 4 2 5-8 4-35 4 8 4-13 4 5 9-2 8 25 4 11 4-51 4 24 5 27 4 5 4-46 4 108 4-33 5 87 4-61 4-16 8-4 9 27 4 105 8-146 4 50 9 132 8-61 4-9 4-53 4-12 5 43 4 18 4-73 4 64 4-46 4-125 5 64 4-98 4 129 4-98 4-39 4-130 5 57 4-7 4 9 4 108 4-10 4-141 5-57 4 97 8 30 4 210 5-108 4 96 4-77 4-42 4 83 9-3 4-159 4 65 4-44 4-7 4 64 5 7 8 2 4 89 4-26 4-8 5-66 4 123 4-9 4-164 4 53 4-18 5-23 4 2 4 155 4-63 4 49 4-24 5-113 4 39 4 4 4-55 4 63 5-3 4 20 4-4 4 13 4 40 4-29 5 135 4-47 4 17 4-10 4 50 4-26 5 17 4 33 8 20 4-72 4 52 5-26 4 58 4-22 4-23 4 45 4-79 5 14 4 27 4 1 4-2 4-7 4 62 5-34 4 7 4-85 4-56 4 116 5-17 4 23 4-164 4 35 8-74 5 15 4-139 4 82 4-127 4 50 4 33 5 32 4 57 4-55 4 202 4-197 4 62 5 28 4-55 4 64 4-166 4 111 4 48 5 56 4-22 4 17 4 45 4-102 4-17 5-118 4 152 4-13 4 40 4 66 4-17 5-34 4-17 8-3 4-32 5 90 4-101 4 125 4-61 4-73 4-23 5 35 4 155 4-89 8 62 4-58 5 49 4-95 4 73 4-39 4-26 9-27 4-34 4 7 4 77 4 34 4 43 5 24 4-24 4-33 8 38 4 36 5 25 4-4 4-22 4-3 4 32 5-60 4-13 4 55 4-29 4-20 4-4 5-4 4 20 4-46 4 120 4-27 4-64 5-48 4-11 4 50 4-23 4 36 4 48 5-141 4-44 4-28 4 167 4 15 4-55 5 1 4 17 12 3 4-130 5 52 4-61 4-25 4 35 4-23 5 30 4-98 4 64 4 83 4-44 4-53 5 61 4 20 4 118 4-45 4-91 4 28 5 35 4-17 4 58 4-70 4-12 4 2 5 55 4-87 4 85 4 15 4-75 4 54 5-25 4-13 4 53 4 49 4-29 4-8 5 84 4-125 4 59 4 49 4 17 5-16 4-64 4 11 4-31 4 61 4-12 5-11 4 8 4-24 4 3 4 41 4 25 5 35 4-13 4-45 4-12 4-27 4-39 5 8 4 2"/>
<path style="marker:url(#m2)" d="M173 632l4 67 9-80 4 67 4-76 4 145 4-39 4 27 5-22 4-12 4 104 4-97 4 37 4-68 5 32 4-82 8-39 4-8 5 78 4 15 4 57 4-35 4 13 4-65 5 59 4 41 4-51 4 3 4 14 4-15 5 27 4 63 4-6 4-40 4 38 4-91 9-42 4 48 8 62 4-7 5-128 8 85 4-144 4 32 9 31 4-50 8 22 4 27 5 117 4-223 4-47 4-20 4-1 4 83 9 109 4-59 4 127 4-97 4-21 5-21 4 118 4-30 4-59 4 77 4-131 5 12 4 136 4-86 4 59 4-153 9 107 4 5 4 72 4 35 4-41 4-48 5 39 4-39 4-34 4 12 4-37 4 60 5-23 4 73 4-90 4 58 4 57 5-48 4-12 4 19 4-12 8 23 5-110 4 71 4-29 4-61 8 83 5-27 4-16 4 46 4-10 4-32 4 117 5-35 4 14 4-74 4-17 4 69 4 27 5-70 4 20 4-42 4 82 4-38 4 50 5 6 4 44 4-9 4-73 4-48 5 23 4-55 4 5 4-8 4-65 4-36 5 143 4-133 4 57 4-31 4 43 4-104 5 43 4-37 4 64 8 35 4-9 5 37 4-44 4 107 8-57 4-167 5 134 8 6 4 93 4 8 4-36 5-128 4 182 4-31 4-60 9 16 4 23 4 2 8-28 4 72 5 1 4-23 4 50 8-108 4 27 5-16 4 19 4 63 4 1 4-82 4 10 5-51 4 79 4 59 4-28 4 19 4-39 5 24 4 4 4-15 4 55 4-30 4-9 5-23 4-38 4-61 4 53 4 47 4-21 5 41 4-76 4 96 4-60 4-24 5 4 4 24 4-29 4-18 4 33 4-34 5 65 4-12 4 52 4-94 4 94 4 38 5-64 4-52 4 44 4-67 4 97 4-120 5 56 4-112 8 40 8 5 5 16 4-84 4-65 4-32 4 118 4-96 5 106 4-37 4 73 4-6 4 63 5-135 4-10 4-108 4 38 4 107 4 137 9-114 4 22 4 75 4-86 4 80 5-2 8-15 4-65 4 86 4-45 5 56 4-84 4-46 4 25 4-58 4 122 5-16 4-36 4-19 4-75 4-42 4 67 5 27 4 48 4 52 4-36 4-10 5 18 4-22 4-34 4 11 4 53 4-36 5 8 8 1 4 41 4-30 4-18 5-5 4 13 4-17 4-63 4 151 4-39 5 72 4-56 4-11 4 7 4-11 4 76 5-46 4 48 4-81 4 13 4 47 4 45 5 68 4-3 4-30 4-19 4-53 5-44 4 60 4 82 4-139 4 82 4-47 5-97 4 79 4-129 4 136 4-69 4-7 5-158 4 14 4 17 4-26 4 162 9-180 4 1 4 42 4 17 4 48 4 196 5-133 4 113 4-88 4-30 4 34 4-49 5 104 4-195 4 114 4-74 4-16 4 64 5-1 4 44 4-48 4 75 4-9 5-37 4 11 4 131 4-65 4-158 4 38 5-32 4-3 4 19 4 154 4-79 4 15 5 6 4-143 4 39 4 12 4-73 4 87 5-17 4 29 4-1 4 22 4 30 4-25 5 110 4-21 4 9 8 43 4-64 5 29 4 32 4 58 4-19 4-59 5 52 4-34 4 45 4-29 4-17 4 38 5-78 4 24 4 40 4-17 4-45 4 60 5 66 4-51 4-6 4-58 4-16 4 46 5 31 4 31 4-172 4 30 4 56 9-72 4-190 4 86 4-128 4 92 4 30 5-17 4 89 4-43 4 148 4-160 5 39 4 56 4-59 4 55 4-171 9 186 8 20 4-14 4 97 9-170 4-89 4 116 4-15 8 112 5 0 4-43 4-36 4-13 4 58 4-82 5 145 4-145 4 116 4-58 4-44 4-31 5 32 4 135 4-63 4 70 4-25 4-51 5 38 4-56 4 17 4 3 4-29 9-40 4-31 4 9 4 58 4 23 5 54 4 26 4-27 4-14 4 6 4 21 5 23 4 11 4 1 4-1 4-30 4 59 5-90 4 12 4 53 4-45 8-37 5 16 4-37 4 27 4 88 4-13 4-44 5-66 4-31 4 88 4-19 4 48 5 35 4-157 4 18 4-77 4 162 4 15 5-25 4-19 8-4 4 13 4 18 5-82 4 21 4-54 4-15 4 5 4 65 9-137 4 63 4 100 4-15 4-61 5-24 4 41 4 114 4-8 4-127 4 56 5 12 4-16 4 53 4-68 4-28 5 32 4 56 4-125 4 129 4-9 4-77 5 86 4-75 4-11 4 66 4 59 4-21 5-18 4 56 4-75 4 21 4 45 4 37 5-19 4-72 4-10 4 11 4 38 4-14 5-42 8 13 8 49 4 41 5 2 4-26 4-25 4-64 4-42 4 20 5-5 4 40"/>
<path style="marker:url(#m9)" d="M173 640l5 79 4-25 8-16 4-61 4 144 5-50 4 36 4-29 4-14 4 109 4-52 5 14 4-72 4 55 4-116 4 69 4-50 5-4 4 104 4-42 8 3 9 5 4 14 4 75 8-66 5-4 4 8 4 26 4 19 4 17 4-77 5 42 4-63 4-18 4-21 4 76 4 56 5-41 4-5 4-109 4 19 4 66 4-124 5 15 4-67 4 93 4-49 4-64 4 71 5-1 4 148 4-251 4-6 8-33 5 67 4 170 4-39 4-29 4 75 5-58 4-37 4 5 8 109 4-143 5 129 4-138 4 5 8 12 4 84 5-160 4 155 4-31 4 6 4 63 4 29 5-9 4-63 4 15 4-9 4-69 4 79 5-82 4 67 4-63 4 63 4-56 4 52 5 83 4-85 4 10 4 31 4-5 5-63 4 62 4-83 8 58 4-49 5 68 4 12 4-42 4 21 4 13 4 43 5-60 4 102 4 16 8-65 4-38 5 39 4 46 4-1 4-42 8 34 5-63 4 42 4 1 4 52 4-62 9-80 4 37 4-57 4-40 4 0 5-51 4 15 4 108 4-130 4 43 4-55 5 96 4-133 4 75 4-23 4 74 4-28 5 4 4 28 4-24 8 73 4 70 5-120 4-173 4 184 4-72 4 19 4 85 5 55 4-68 8 34 4-22 4-19 5 15 4-15 4 38 4-9 4 50 4-83 5 70 4-5 4-25 4 70 4-62 5-61 4 28 4-31 4 3 4 78 4-5 5-91 4 72 4-90 4 85 4 75 4-87 5 91 8-37 4 2 4-13 4 48 5-33 4 28 4-19 4-68 4-39 4 29 5 43 4-2 4 36 4-61 4 129 4-31 5-23 4-26 4 59 4-26 4-47 5 52 4 2 4 8 4-21 4 26 4-88 5 109 4 3 4-38 8-36 4-81 5 47 4-69 4 102 4-142 4-8 4 22 5-76 4 132 4-19 4 3 8-171 5 77 4-76 4 107 4-50 4 80 4-37 5 108 4-138 4-16 4-79 4 34 5 106 4 97 4 24 4-150 13 25 4 93 4 21 4-104 4 81 4-11 5 7 4-49 4 93 4-93 4-85 4 65 5-67 4 135 4-70 4 10 4-30 4-80 9 29 8 39 4 58 4-5 5-2 4 7 4-9 4-34 4 35 4 5 5-35 4 39 4-15 4-7 4 26 5-5 4 14 4-14 4 47 4-36 4-38 5 102 4-40 4 99 4-82 4-4 4 19 5-5 4 96 4-23 4 25 4-42 4-67 5 39 4 82 4 19 4-5 4-22 4 28 5-106 4-39 4 77 4 25 4-83 9-8 4-88 4 92 4-108 4 157 5-113 4-50 4-121 4-8 4 85 4-85 5 183 4 4 4-167 4-2 4 43 4 6 5 16 4 199 4-148 4 88 4-25 4-57 5 74 4-52 4 121 4-197 4 151 4-132 5-26 4 74 4 2 4 51 4-69 4 69 5 11 4-52 4 0 4 143 4-57 5-150 4 52 4-56 4-22 4 27 4 150 9-35 4-10 4-90 4-19 4 18 5 20 4 28 4-31 4 47 4-10 4 26 9-20 4 146 4-40 4 9 4 8 5 29 4 4 4-20 4 36 4 20 4 40 5-121 4 78 4-35 4 48 4 1 5 0 4 34 4-110 4 9 4 44 4 18 5-6 4-25 4 73 4-47 4 8 4-96 5 4 4 60 4-4 4 58 4-170 4 23 5 52 4-156 4 40 4-143 4 58 4-97 9 91 4 12 4 107 4-80 4 156 5-172 4 34 4 70 4-38 4 42 4-128 5 124 4 45 4 25 4-47 4-27 5 103 4-73 8-177 4 122 4 49 9 50 8-62 4-27 4-24 5 88 4-94 4 119 4-121 4 139 4-79 5-51 4-30 4 21 4 136 4-67 4 100 5-55 4-36 4 66 4-83 4 69 4-21 5-49 4-65 4 3 4-28 4 5 5 68 4 49 4 58 4 19 8-68 5 43 4 24 4 23 4 21 4 7 4-20 5-11 4 32 4-51 4 4 4 20 9-10 4-25 4-13 4 35 4-60 4 125 5-48 4-24 4-49 4-27 4 55 4-24 5 40 4 44 4-160 13 106 4-1 8-40 4-2 4-30 13 4 4 39 4-120 4 14 9 105 4-76 4-78 4 13 4 129 5-23 4-4 4-36 4 4 4 71 4-18 5-89 4 52 4 12 4-14 4 69 4-83 5-11 8 75 4-99 4 101 4-10 5-95 4 115 4-76 4-27 4 83 5 34 4-26 4-25 8 3 4 22 5 52 8 24 8-96 4 11 5 63 4-33 4 11 8-11 4 14 5 9 4 20 4 30 4 3 4-37 4-28 5 44 4-32 4-8 4-3"/>
<path style="marker:url(#m18)" d="M174 610l8 6 8 10 5-41 4 102 4-74 4 45 4-66 4 38 5 59 4-80 4 42 4-37 4-2 5-38 4 52 4-60 4-23 4 62 4 35 5 79 4-55 4-3 4-54 4 77 4 54 5-115 4 51 4-20 8 36 4 5 5 2 4-15 4-74 4-55 4-112 4 98 5 29 4-10 4 84 4-154 4 14 4-15 5-10 4-95 4 55 4-136 4 142 9-64 4-97 8 39 4 57 5-13 4-106 4 68 4 5 4 66 4-36 5 78 4 84 4-13 4-8 4-127 4 93 5-109 4 40 4 9 8 43 4 82 5-72 4-18 4-51 4 166 4-61 4 50 5 47 4-7 8-41 4-34 5 11 4-20 4-47 4 72 4 41 4-17 5 11 4-23 4 58 4 51 4-24 4-87 5 68 4-40 4 31 4 4 4-80 4 61 5-52 4 26 4-32 4 43 4 8 4 16 5-15 4 50 4-71 4 146 4-44 4-23 5-18 4-12 4 43 4 0 4-77 4-11 5 56 4-1 4-60 4 44 4-11 5 55 4-43 4-11 4-119 4-111 4 130 5-106 4 72 4-42 4-63 4 40 4-13 5 39 4-37 4 32 4-174 4 46 4 65 5 31 4 30 4-20 4 61 4-27 4 31 5 60 4 36 4-57 4-224 4-1 4-7 5 179 4 118 4-97 4-22 4-1 5 16 4 75 4-25 4 62 4-27 4-72 5-40 4 140 4-80 8 118 4-133 5 162 4-104 4 12 4 26 4 10 9 1 4 24 4-70 4 45 4-37 4 5 5 134 4-96 4 19 4 2 4 26 4 7 5 8 4 18 4-17 4 0 4-98 5-6 4 23 8 66 4 0 4 22 5-52 4 80 4-47 4-33 4 18 4 13 5-86 4-2 4 101 4-80 8 20 5 51 4-61 4-5 4 78 4-50 4-118 5 30 8-41 4 7 4 43 9-121 4 57 4-162 4 160 9-45 8-56 4 65 4-125 4 75 9-7 4 49 4 58 4-267 4 156 5-67 4 6 4 17 4 102 4 71 4-107 5 69 4-46 4 58 4 45 4-125 4 31 5 6 4-8 8 51 4 121 4-63 5-40 4 18 4-34 4 10 4 29 4 11 5-18 4-49 4-42 4 7 4 88 5-35 4 123 4-71 4-18 4 65 4-8 5-15 4-63 4-2 4 6 4 42 4-31 5 3 4 19 4 55 4-68 4 44 4 1 9-24 4 114 4-32 4 44 4-26 5-10 4 2 4 25 4-1 4-10 4 20 5-117 4 41 4 36 4-45 4 67 5 72 4-15 4-77 4 10 4-6 4 29 5-52 4 23 4 42 4-4 4-147 4-69 5-10 4 105 4-50 4-114 4-136 4 130 5 0 4 3 4 47 4-137 4 27 9-10 4 100 4-65 4 89 4 61 4 17 5 29 4-48 4-10 4-10 4 86 5-149 4 12 8 31 8 36 9-5 4 113 8-69 4-91 5 140 4 30 4-132 4 41 4-22 4-14 5-29 4 134 8-20 4 23 4-112 5 32 4 27 4-67 4 65 4-22 4 67 5-49 4 27 4 39 4-16 4 75 4 30 5-18 4-88 8 39 4 60 5-20 4 120 4-13 4-61 4 58 4-31 5 24 4-24 4-31 4 25 4-7 4-7 5 45 4-27 4-76 4 111 4 27 9-68 4-59 4-99 4 82 4 64 4-96 5-98 4 89 4-28 4-128 4 75 4-148 9-12 4 5 4-38 4 135 5-14 4-18 4 168 4-129 8 108 5-97 4 63 4-114 4 12 8 95 9 46 4 43 4-111 4 6 4-90 5 108 8 22 4 68 4 21 4-14 5-25 4-13 8-4 4 63 4-103 5 103 4-46 4-25 4-14 4 0 5 139 4-60 4 58 4 1 4-48 4 43 5-127 8 40 4-30 4-11 4 14 5-40 4 28 4 19 4 46 4 51 4 61 5-42 4-29 4 5 4 34 4 12 4 9 5 11 4-5 4-17 4 56 4-101 4 2 5 59 4-71 4 43 4-23 8-60 5 34 8 82 4-46 4-78 5-3 4 58 4-8 4 3 4 9 4-98 5-20 4-38 8 108 4 42 13-24 4-24 4 36 4-144 4 59 5-42 4-120 4 70 4-30 13 62 4 43 8-24 4-57 4 100 5 33 8-16 4-2 4 45 5-28 4 55 4-42 4-47 4 26 4 50 5-78 4 47 4 47 4-68 4 20 4-3 5-1 4 75 4-9 4-22 4 7 4 31 5-13 4-7 4 33 4 68 4-68 4-32 5 19 8-18 4 34 4-57 4 42 5-18 4 26 4 25 4 41 4-7 5-19 4-20 4-80 4-73 8 68 5 36"/>
<path style="marker:url(#m4)" d="M173 620l4 104 5-44 4-65 4 48 4-23 4 116 4-57 5 25 4-17 4-7 4 112 4-84 4 46 5-99 4 21 4-77 4 39 8-65 5 63 4 0 4 52 4-23 4 19 4-48 5 28 4 91 4-97 4 14 4-9 9 46 4 55 4 15 4-75 4-1 5-41 4-15 4-34 4 67 4 73 4-8 9-115 4 3 4 85 4-144 4 17 5-62 4 122 4-80 8 16 4 28 5 105 4-240 4-5 4 19 4-49 4 105 5 149 4-46 4-30 4 85 4-77 4-34 5 2 4 79 4 54 4-169 4 94 5-97 4-12 4 139 4-84 8-126 5 181 4-79 4 30 4 63 8-44 5 9 4 40 4-51 4-65 4 51 4-29 5 53 4-68 4 75 4-52 4 63 4 58 5-66 4-14 4 38 4-32 4-30 4 29 5-97 4 107 4-87 4 10 4 58 4-18 5-38 4 30 8 43 4-85 5 130 4-26 4 6 4-52 4-39 4 68 5 43 8-50 4-30 4 48 4-41 5 76 12 18 4-52 4-30 5-13 4-47 4-42 4 15 4-16 4-44 5 130 4-104 4 69 4-61 4 82 4-164 5 94 4-31 4 116 4-71 4 20 5 30 4 3 4-22 4 104 4 62 4-136 9-14 4-18 4 32 4 61 4 48 5-58 4-146 4 173 4-54 8 24 5-43 8 56 4 55 4-81 4 48 5-6 4-49 8 9 8 7 5-62 4 34 4 64 4-25 4-76 5 44 4-65 4 86 4 71 4-64 4 22 5-39 4 14 4 23 4 11 4 22 4-46 5 41 4-69 4-47 4-5 4 17 4 43 5-22 4 77 4-101 4 107 4-22 4-62 5 19 12-38 8 13 5 53 4-33 8-27 4 112 4-2 5-93 4 19 8-49 4 103 5-155 4 121 4-125 4 6 4-1 4-65 5 115 4 41 4-56 4-112 4-20 4 88 5-55 4 104 4-83 4 95 8 58 5-88 4-91 8-59 4 94 9 153 4-111 8 140 4-118 4 69 5-13 4-59 4 94 4-40 4 33 5-53 8-23 4-74 4 37 4-72 5 155 4-62 4-7 8-89 4-25 5 35 8 72 4 22 4-10 4-26 5 34 4-1 4-40 4-47 8 44 5 32 4-4 8 8 4 3 4-39 5 4 4 33 4 27 4-72 4 125 5-37 4 53 12-75 4 23 5 46 4-41 4 71 4-84 4 4 4 31 5 63 4 38 4-1 4-27 4-32 4-35 5-4 4 52 4 23 8 5 13-72 4-116 4 127 4-64 4-12 5-140 4-3 4 58 4-79 4 200 4-40 5-131 8 7 4 44 4-5 5 216 4-129 8 34 4-55 4 85 5-77 4 102 4-169 4 144 4-102 4-55 5 74 4 0 4 42 4-32 4 79 4-18 5-52 4 19 4 104 4-64 4-142 4 38 5-66 4 4 4 17 4 144 4-68 4 38 5 9 4-160 4 55 4-5 4-32 5 9 4 29 4 60 4-32 4 43 9-36 4 121 4-7 4 6 4-64 13 56 4 40 4 60 8-76 5 55 4-19 4 17 4 10 8-8 5-41 4-11 4 41 4 10 4-59 9 112 4-34 4-24 4-64 4-28 5 95 4-17 4 82 4-195 4 29 4 20 5-101 8-124 4 93 4-131 4 107 5 19 4 29 4 63 4-70 4 159 4-145 5 18 4 30 4-19 4 60 4-148 9 171 4 59 4-57 4-37 8 29 5-91 4-87 4 135 4 21 4 68 5 18 4-30 4-54 4-34 4-7 4 25 5-45 4 132 4-138 4 99 4-45 4-55 5-25 4 23 4 166 4-91 8 54 5-52 4 44 4-96 4 12 4 10 4-1 5-82 4 37 4-36 4 16 4 72 4-10 5 75 4 65 4-75 4 9 8 16 5 25 4 25 4-6 4-38 4-5 5 61 4-84 4 26 4 30 4-27 4-8 5-13 8-27 8 83 4-13 5-9 4-84 4-24 4 79 4-45 13-20 4-30 4-70 4 178 4 18 5-9 4-26 4 12 4-21 4 8 4 1 5-67 4 76 4-109 4 3 4 57 5 14 4-3 4-81 4 3 4 136 4-45 5-10 4-30 4 0 8 90 4-104 5 27 4 26 4-15 4 58 4-82 4-9 5-14 4 75 4-96 4 101 4-1 4-100 5 71 4-43 4-5 4 72 4 21 4-7 5-29 4 66 4-82 4 25 4 49 5 31 4-16 4-65 4 9 8 4 5 8 4-22 4 25 4-41 4 26 4 31 5 38 4 0 4-5 4-56 4-41 4-66 5 11 4 52 4-30"/>
<path style="marker:url(#m13)" d="M174 670l4 77 4-39 4-81 4 104 4-64 5 118 4-22 4-2 8-14 4 67 5-10 8-87 4 88 4-113 4 88 5-76 4-1 4 110 4-68 4 30 5-4 4-10 4-20 4 16 8 21 5-32 4 26 4-10 4 6 4 51 4 2 5-71 4 57 4-89 4-48 4 48 4 23 5 53 4 2 4-10 4-117 4 45 4 26 5-139 4 54 8 3 4-65 4-40 5-8 4 53 4 164 4-244 4-35 4-32 5 14 4 77 12 57 5 106 4-88 4-8 4-43 4 119 4 57 5-176 4 98 4-114 4 3 4 188 4-140 5 66 4-134 4 170 4-73 4 43 9 71 4-17 8-22 4-40 4-8 5 30 4-54 4 52 4-50 4 123 4-119 5 55 4 94 4-64 4 12 4 1 5-32 4-23 4 36 4-68 4 121 4-29 5-44 4 28 4-5 4 5 4-31 4 81 13 42 4-16 4 7 4-42 5-4 4 21 4 17 4 8 4-49 4-50 5 91 8-3 4-33 4 46 4-19 5-51 4-40 4-6 4-38 4-13 5 30 8-95 4 67 4-103 4 101 5-52 4 15 4-134 4 64 4-14 9 45 8 33 4-30 4-14 13 59 8-23 4-70 4 49 5 107 8-22 8 42 4-32 5-40 4 18 4-28 4 51 4 17 4 61 5-111 4 96 4-17 4-44 9 53 4-56 4 30 4-44 4 33 4 73 5-22 4-75 4 80 4-104 8 131 9-13 4-53 4 96 4-24 4-24 5 42 4-5 4-33 4 50 4-98 4-33 5 5 4 63 4-24 4 88 4-95 4 105 5-20 4-9 4-31 4 21 4 1 5-19 4 34 4 4 4-2 4 18 4 10 5-95 4 70 4 0 4-3 4-45 4 10 5-84 4 92 4-117 4 63 4-97 4-41 5 63 4-135 4 93 4 35 4 7 4-131 5-28 4 71 4-83 4 88 4-44 4 58 5-49 4 115 4-131 4-14 4-89 5 33 4 90 4 80 4 36 4-82 4 16 5 73 4-70 4 59 4-58 4-21 4 94 5-61 4 52 4-3 4 85 4-87 4-71 5 67 4-114 4 146 4-44 4 34 4-47 5-70 4-40 4 105 4-26 8 88 5 37 4-19 4-14 4-7 4-61 5 130 8-98 4 45 4-18 4 5 5 13 4-20 4 6 4 17 4 44 4-41 5-30 4 74 4-7 4 66 4-60 4-12 5 20 8 58 4-24 8 23 5-97 4 74 4 11 8 30 4-14 5 24 4-125 4-29 4 125 4 17 4-93 5 34 4-63 4-98 4 105 4-138 5 190 4-127 4-37 4-150 4 21 4 57 9 92 4-5 4-147 4-62 4 115 5 6 4 16 8 40 4 136 4-88 5-44 4 76 4-43 4 80 4-208 4 131 5-83 4 0 4 42 4 15 4 61 4-51 5 91 4-2 4-49 4-39 4 164 5-71 4-115 4 32 4-29 4-28 4 15 5 157 4-48 4-6 4 42 4-68 4-43 5 6 8 141 4-109 4 29 4-13 5 43 4 41 4-52 4 113 4-33 4 56 9-22 4-12 4-8 4 67 4 12 5-29 4-86 4 85 4-42 4 59 5-25 4 28 8-71 4-17 4 70 5-3 4-8 4 10 4 30 4-28 4-11 5-73 4-1 4 77 4-5 4 29 4-167 5 26 4 82 4-144 12-84 9-46 4 11 4 47 4 72 4-101 5 194 4-196 4 39 4 38 4-18 4 57 5-172 4 92 4 108 4 26 4-36 5-24 4 119 4-102 4-65 4-76 4 115 9 78 4 52 4-56 4-13 4-42 5-11 4 51 4-88 4 157 4-132 4 158 5-83 4-55 4 5 4-3 4 128 4-45 5 68 4-35 4-59 4 47 4-47 4 30 5 35 8-144 4 31 4-31 5-5 4 69 4 9 4 83 4 45 4-62 5-11 4 59 4 8 4-12 4 27 4-4 5-29 4-6 4 43 4 4 4-22 4-5 5 40 4-59 4 19 4-11 4 30 9 13 4-18 4-43 4-42 4-71 4 94 5-24 4 35 4 71 4-162 4-26 5-79 4 185 4 4 4-45 4-15 4 21 5-35 4-1 4-1 4-25 4-8 4-55 5 24 4-4 4 33 4-28 4-106 4 43 5 121 4-44 4-16 4-31 4 62 4 106 9-135 4 31 4 13 4-14 9 4 8-13 4 39 4-69 4 109 5-1 4-65 4 58 4-23 9 53 4 51 4-69 4-13 4 109 4-68 5-3 4 53 4-4 4 12 4-89 4 7 5 11 4 82 4-61 4-3 4-17 4 59 5 18 8-6 4 4 4 10 13-19 4-3 4 10 4-38"/>
<path style="marker:url(#m21)" d="M174 623l4 28 4-4 4-63 5 62 4-56 4 102 4-23 4 24 4-45 5 40 4 16 4-65 4 27 4-16 4 23 5-63 4 10 4-54 4 5 4 67 5 11 4 68 4-35 4-6 4-53 4 70 5 76 4-75 4 6 4-20 4 25 4-7 5 29 4-7 4-19 4-6 4-94 4-85 9 91 4 12 4 42 4-94 4-29 5 19 4 3 4-98 4 23 4-105 4 160 5-39 4-49 4-44 4 134 4-98 4-28 5-33 4-45 4 36 4 35 4 102 5-40 4 1 4 111 4-17 4-35 4-81 5 79 4-49 8 17 4-29 4 18 5 102 4-45 4-95 8 127 4-39 5 61 4 21 4 21 4-99 4 42 4-11 5-40 4-8 4 31 4-5 4 80 4-59 5 6 4-10 4 49 4 90 4-47 5-55 4 21 4-38 4 19 4 30 4-87 9 37 4 10 4 10 4 11 4-16 5-20 4 53 4 27 8 71 4-45 5 17 4-76 8 32 4 15 4-21 5-35 4-16 4 58 4-12 4 17 4-13 5 50 4-48 4-52 4-53 4-59 5 45 4-91 4 53 4-40 4-17 4 41 5-53 4 13 4 15 4 1 4-149 4 61 5 6 4 62 4 15 4-2 4 46 4-46 5 26 4 86 4 40 12-203 5 20 4 67 4 85 4-53 4 5 4-49 5 50 4 11 4-12 4 58 4-19 5-17 4-38 4 152 4-101 4 41 4 28 5-65 4 101 4-83 4-14 4 42 4-20 5-1 4 31 4-11 4-84 4 64 4-21 5 38 4 78 4-67 4 20 4 11 4 8 5 7 4-4 4 30 4-4 4 2 4-59 5-33 4-28 4 38 4 55 4-18 4 57 5-55 4 77 4-87 4-25 4 47 5 16 4-92 4 7 4 97 4-74 4 85 5-78 8-53 4 61 4 56 9-97 4-32 4-57 4 30 4-33 4 97 9-121 4-19 4-73 4 114 4 13 5-67 4-98 8 105 4-126 4 105 5-18 4 30 4 0 4 100 4-213 5 70 4-58 4-32 4 86 4 82 4 30 5-71 4 79 4-45 4 48 4 46 4-125 5 21 4 25 4-39 4 108 8 94 5-102 4-46 4-9 4 18 4 8 4 25 5 6 4 4 4-106 4 7 4 18 4 46 5-14 4 100 4-70 4-11 4 50 5 9 4-36 4 4 4-42 4 42 4 6 9-37 4 5 4 58 4-69 4 44 5 14 4 12 4-58 4 128 4 3 4-5 5 6 4-27 4-33 4 12 4 42 4 4 5 42 4-109 4 0 8 43 4 51 5 57 4-14 8-76 8 6 5-46 4 6 4 75 4-37 4-124 5-46 4-24 4 106 4-64 4-64 4-138 5 90 4 27 4-24 4 96 4-116 4-57 5-73 4 95 4 88 4-57 4 125 4 16 5 61 4-27 8-34 4-24 4 93 5-200 8 67 4 5 4 50 4 7 9 3 4 78 4-56 4 27 5-83 4 112 4 30 4-118 4 13 4-30 5 10 4 3 4 108 4-59 4 53 4-2 5-118 4 37 4 6 4-54 4 58 4-13 5 71 4-26 4-24 4 59 4 8 4 78 5 9 4-7 4-65 4 96 4-85 4 58 5 23 4 61 4-8 4-49 4 50 5-26 4 42 8-64 4 31 4-35 5-10 4 39 4 25 4-118 8 151 5-85 4 28 4-55 4-99 4 103 4 19 5-94 4-74 4 63 4-20 4-114 4 42 5-139 4 76 8-61 4-2 4 65 5 26 4-8 4 125 4-105 4 18 5 83 4-71 4 60 4-143 4 4 4 63 5 38 4 2 4 66 4 37 4-136 4 36 5-127 4 135 8 49 4 31 4 39 5-43 4-33 4-6 4 6 4-28 4 100 5-98 4 102 4-71 4-17 4-34 4 19 5 125 4-33 4 54 4-7 4-58 4 71 5-126 4 23 4 11 8-50 5 7 4-12 4 4 4 46 4 22 4 53 5 41 4-41 4-21 8 61 9 11 4 32 4-26 4-25 8-49 5 44 4 13 4-20 4-1 4-30 4 11 5-47 4 6 4 116 4-5 4-57 4-80 5-10 4 60 4-36 4 34 4-1 5-72 4-28 4-33 4 114 4-17 4 34 5 1 4 6 4-33 4-17 4 39 4-116 5 40 8-159 4 6 4 3 4-12 5-77 4 178 4 45 4-31 4-31 4-15 5 94 4 39 4 36 4-58 4-9 4 54 5-26 4 41 4-30 4-70 4 49 5 13 4-50 4 49 4 50 4-88 4 26 5 1 4 1 4 77 4-16 4-16 4 20 5 20 4-47 4 29 4 33 4 51 4-54 5-31 4 1 4-1 4 26 4-9 4-20 5 19 4-1 4 12 4-3 4 52 4 4 5-11 4-44 4-54 4-22 4 32 4 5 5-17"/>
<path style="marker:url(#m1)" d="M173 637l4 61 4-20 5-63 4 70 4-56 8 83 4 20 5 0 4-36 4 75 4-61 4 59 4-92 5 56 4-104 4 43 4-101 8 94 5 0 4 51 4-15 4-15 4-33 4 50 5 66 4-77 4-18 4 19 4 12 5 22 4 59 4-21 4-39 4 19 4-73 9-27 4 73 4 21 4-4 4 13 5-130 4 48 4 33 4-133 4 8 9 42 4-43 4-42 4 44 4 37 4 131 5-281 4 24 4-56 4 19 4 108 4 108 5-41 4-23 4 70 4-41 4-24 5 0 4 47 4-7 4-69 4 119 4-131 5 7 4 105 4-101 4 75 4-149 13 117 8 91 4-29 4-32 9-21 4-38 4 68 4-90 4 88 13-57 4 48 4 106 4-71 9 4 4-3 4-46 4 19 5-87 4 104 4-59 4-29 4 56 4 30 5-61 4 27 4-2 4 34 4-37 4 106 5-45 12-72 4 41 4 30 5 0 4-69 4 11 4 45 4-40 4 90 5-15 4 30 4-21 4-45 4-25 4-45 5-23 4-42 4 20 4-18 4-61 4 113 5-92 4 53 8 3 4-120 5 76 4-76 4 76 4 2 4 31 4 43 9-56 4 110 4 82 4-109 4-221 5 187 4-26 4 19 4 93 4-12 4-2 5-138 4 167 4-30 4-90 4 30 4 1 5 61 8 81 4-106 4 50 4 2 5-7 4 68 4-80 4-59 4 48 5-43 4-16 4 82 4-2 4-61 4 54 5-62 4 79 4 50 4-62 4 60 4-66 5 40 4-9 4-11 4 46 4-19 4 9 5-47 4-48 4-18 4 10 8 22 5 57 4-58 4 90 8-106 9 33 4-28 4-14 4 74 4-51 5 73 4-80 4 91 4-122 4 133 9-52 4-32 4 21 4-110 4 91 4-94 5 77 4-104 8 6 4-43 4 89 5 61 4-107 4-46 4-31 4 56 4-39 5 63 12 29 4 43 4-149 17 34 4 105 5-3 4-52 4 17 4 123 4-127 9 5 4 20 4-12 4-3 4 42 4 7 5 78 4-103 4-97 4 65 4-67 4 88 5 1 4 13 4-59 8-107 4 80 5 20 4 45 4 28 4-45 4 24 4 1 5 29 4-52 4-25 4 42 8-1 5-9 4 22 4-44 4 46 4-27 5-27 4 21 4 43 4-87 4 121 4 4 5 63 4-62 4-26 8-10 4 62 5 4 4 17 4-67 8 33 4 61 5 20 4 20 4 15 4-63 4-49 4-8 5 56 4 35 4-100 4 91 4-70 4-110 5 123 4-149 4 153 4-87 4-5 5-179 4 25 4 32 4-14 4 150 4-54 5-97 4-37 4 58 4 22 4-11 4 237 5-146 4 103 4-54 4-79 4 114 4-61 5 55 4-159 4 96 4-68 4-34 4 84 5-31 8 4 4 89 4-51 4 39 5-24 4 140 4-73 4-159 4 58 5-68 12 129 4-57 4 47 5 5 4-125 4 29 4 13 4-51 4 45 5 2 4 46 4-26 4 61 4 2 4-46 5 127 4-10 4 25 4-66 4 77 4-55 5 20 4 41 4 59 4-33 4-59 4 61 5-20 4 17 8-41 4 51 4-70 5 18 4 50 4-25 4-39 4 34 5 75 4-63 4 11 4-56 4-39 4 79 5 9 4 24 4-135 4 13 4 15 4-116 5 20 16-103 4 38 5-2 4 91 4-69 4 196 4-192 4 38 5 47 4-36 4 58 4-170 4 89 4 89 5 58 4-45 8 65 4-92 5-55 4-84 4 108 4 8 4 62 4 30 5 2 4-43 4-47 4-5 4 54 4-73 5 115 4-134 4 116 4-41 4-54 4-43 5 28 4 171 4-85 4 53 4 4 4-57 5 43 4-84 4 60 4-47 4 9 4-65 5 12 12 55 4 33 5 28 4 40 4-33 4-20 4 3 4 45 5 18 4 29 4-25 8-15 4 26 5-59 4 4 4 33 4-11 4-2 4-42 5 19 4-46 4 0 4 108 4-14 4-28 5-86 4-20 4 91 4-64 4 64 4 59 5-148 4-22 4-53 8 192 4-54 5 2 8-27 4 14 4 44 5-97 16-10 4-7 5 29 4-98 4 25 4 118 4-45 4-62 5 31 4 37 4 85 4-34 4-75 4 17 5 28 4-21 4 57 4-68 4-33 4 29 5 77 4-127 4 112 4 9 13-67 4-4 4 52 4 57 4-22 5-12 4 30 4-45 4 29 4 37 4 35 5-4 4-101 4 0 4 20 4 42 4-24 5-11 4-14 4-7 8 56 4 15 5 25 4-32 4-31 4-36 4-37 4 14 5 18 4-19"/>
<path style="marker:url(#m8)" d="M173 625l9 23 4-70 4 87 4-69 4 110 5-39 4 25 4-16 4-19 4 107 4-57 5 8 4-63 4 42 4-81 4 35 4-14 5-46 4 85 4 23 8 47 4-15 5-45 4 28 4 102 4-91 4 20 9-12 4 19 4 47 13-36 4-62 4-30 4-3 4 69 4 50 5-8 4-70 4-68 4 30 4 67 4-191 9-27 4 159 4-88 4-23 9 68 4 146 4-283 4 31 4-54 9 107 4 135 4-40 8 66 4-95 9-59 4 129 4-22 4-111 5 140 4-151 4 3 4 134 4-105 4 97 5-174 4 130 4-67 4 39 4 57 4 27 5-49 4-10 4-25 4 2 4-76 4 29 5 8 4 65 4-63 4 38 4-64 4 57 5 77 4-47 4-29 4 3 4 16 4-46 5 56 4-85 4 61 8-26 4 43 5-4 4-59 8 93 4 37 5-68 4 111 4-3 4-4 8-59 5 29 4 20 4 6 4-41 4-54 4 63 5-10 4 45 4 14 4 36 4-48 4-78 5-21 4-8 4-46 4-31 4 23 4-57 5-23 4 102 4-107 4 42 4 2 4 67 5-180 4 92 4-15 4 104 4-34 5 58 4-5 4-39 4-14 4 98 4 72 5-139 4-122 4 153 4-51 4 35 4 38 9-17 4-99 4 124 4 8 4-50 5 33 4-51 4 55 4-24 4 116 4-144 5 32 8 23 4 52 4-87 4-53 5 43 4-20 4-17 8 73 5-67 4 16 4-30 4 38 4 88 4-49 5 18 8-42 4 31 4 8 4 42 5-28 4 17 4-53 8-67 4 63 9 12 4 57 4-69 4 105 4 2 5-60 8 17 4 24 4-83 4 91 5-31 4 20 4 28 4-18 4-63 4 90 5-38 4-48 4 23 4-13 4-76 9-69 8-8 4 24 4 2 5-50 4 87 12-117 4-39 5 90 4-68 8 93 4 71 9 66 4-110 4-88 4-49 4 7 4 90 5 103 8-119 4 83 4 72 4-89 5 70 4-6 4-63 4 40 4-51 5 39 4-3 4 59 4-99 4-67 4 31 5-75 4 158 4-68 4 15 4-20 4-94 9 10 4 54 4 0 4 65 4-58 5-32 4 70 4 5 8-32 4-9 5-23 8 17 4 17 4 15 4 28 5-3 4-69 8 65 4-58 5 115 4-2 4 96 4-63 4-24 9 27 4 68 4-27 4 67 4-92 4-28 5 59 4 46 8 21 4-18 4 0 5-108 4 8 4 33 4 24 4-79 4 66 5-56 4-113 8-21 4 121 17-192 4 40 4-68 5 183 4-45 4-110 8 46 4 3 9 220 4-139 4 126 4-71 4-54 5 43 4-20 4 102 4-195 4 145 4-117 5-34 4 73 4-19 4 47 4-64 4 107 5-38 4-20 4-6 4 125 4-41 4-193 5 56 4-35 4-45 4 43 4 123 4-52 5 39 8-149 4 36 4 16 5-24 4 69 4 2 4 1 4 1 4 18 5 31 4-12 8 91 4-12 4-9 5 77 4-16 4-4 4 67 4 8 9-108 8 56 4 77 4-45 4 25 5 37 4-133 4 14 4 66 4-23 4 43 5-41 4 47 8-32 4-77 5-26 4 105 4-27 4 79 4-188 4 8 5 36 4-105 4 37 4-160 4 63 9-28 4 11 4 37 4 120 4-110 4 168 5-147 4 14 4 44 4-21 4 48 4-145 5 122 4 13 4 92 4-60 4-22 4 114 5-83 4-99 4-93 4 129 4 33 5 41 4 23 4-20 4-46 13 18 4-89 4 115 4-118 4 106 4-63 5-33 8-16 4 153 4-73 4 62 5-20 4-37 4 45 4-101 4 26 4 1 9-93 4 68 4-40 4-6 9 100 4 45 4 43 4-47 4-13 4 34 5 24 4 2 4 63 4-4 4-42 5-2 4 49 4-15 4-40 4 24 4-11 5-21 4-1 4-32 4 30 4-88 4 176 5-47 4-42 4-73 4-22 4 53 4-35 5 75 4 44 4-151 8-95 4 174 5 34 4-28 4-39 4 17 4 11 4-13 5 15 4-36 4 27 4-78 4-15 5 20 4 109 4-87 4-76 4 61 4 92 5 24 4-44 4-58 4 21 4 56 4-9 5-86 4 38 4 16 4-21 4 41 4-68 5-18 4 9 4 81 4-127 4 92 4 19 5-74 8-4 4-10 4 71 4 19 5-5 4-12 4 68 4-81 4 24 5 41 4 32 4-2 4-93 4-12 4 31 5 32 4 7 4-25 4 17 4-40 4 33 5 47 4 17 4 9 4-12 4-34 4-16 5 32 4-77 4 16 4 8"/>
<path style="marker:url(#m17)" d="M174 610l4 13 4 14 4-71 4 60 5-55 4 114 4-46 4 17 4-57 4 55 5 66 4-127 4 53 8-30 4-22 5 0 4-28 4-8 4 45 4 34 5 62 4-27 4 3 4-50 4 61 4 48 5-99 8 31 4 17 4 21 4 18 5-24 4-28 4-34 4-84 4-66 4 62 5 53 4 30 4 25 4-174 4 18 4 32 5-58 4-61 4-14 4-55 8 128 9-109 4 111 4-112 4 12 4-20 5-71 4 39 4 5 4 155 4-73 5 35 4 96 4-23 4-24 4-118 9 43 4 15 4 8 4-6 4 27 4 100 5-57 4-79 4-19 4 160 4-60 4 62 5 47 4-23 4-106 4 61 4-10 4-11 5 3 4-46 4 51 4 40 4-27 4 30 5-27 4 40 4 70 4-28 4-56 5 17 4-34 4 35 4 25 4-82 4 85 5-62 4 0 4-18 4 43 4-4 4 11 9 58 4-64 4 112 8-47 5-24 8 28 4-4 4-59 4 27 5-24 4 71 4-59 4-20 4 2 4 78 5-35 4-43 4-112 4-66 4 81 5-119 4 97 4-51 4-42 4 32 4-16 5 27 4-26 4 4 4-181 4 96 4 62 5 13 4 12 4-18 4 59 4 7 4-14 5 77 4 49 4-94 8-157 4-19 5 161 8 36 4-47 4 8 4 25 13 76 4-4 4-64 5-11 4 82 4-45 8 87 4-86 5 142 4-117 4 15 4 41 4-8 4-61 5 89 4-16 4-74 4 67 4-21 4 35 5 84 4-100 4 45 4-9 4 31 9 8 4 26 4-19 4-10 4-72 4-1 9 19 4 48 8 3 4-41 5 62 4-43 4-6 4-8 4 36 5-72 4-35 4 103 4-53 8-16 5 89 4-106 4 67 4 25 4-73 4-55 5 13 4-81 4 2 8 84 4-109 5-20 4 27 4-98 4 111 4 5 13-132 4 80 4-109 4 97 4-42 5 25 4 43 4 25 4-195 4 93 5-41 4 4 4 31 4 54 4 100 9-29 4-43 4 48 4 64 4-162 4 45 5-10 4 30 4 85 4-81 4 162 4-69 5-64 4 33 4-36 8 60 4 0 5-10 4-60 4-26 4 9 4 90 4-38 5 89 4-88 4 33 4 22 4 18 5-42 4 32 4-33 4-19 4 33 4-17 5-12 4 17 4 37 4-58 4 29 4 35 5 12 4-73 8 99 4 57 4-37 5-16 4 19 4-8 4 19 4-32 4 76 5-98 4 3 4 37 4 8 4 60 4 60 5-51 4-61 4-4 4-33 4 66 4-72 5 22 4 75 8-181 4-39 5-37 4 134 4-92 4-59 8-30 9-28 4 92 17-153 4 99 4-17 4 103 4 0 4 22 5 24 4-40 4 12 4-45 4 90 4-152 5 12 4 28 4-11 4 56 4 9 4 44 5-54 4 99 4-68 4 30 4-78 5 97 4 22 4-126 4 47 4-41 4 4 9 106 4-43 4 21 4 13 4-93 5 40 4 4 8-5 4-4 4 54 9-3 4 46 4-31 4 101 4 5 5 5 4-74 4 68 4-48 4 56 4-47 5 127 4-10 4-71 4 69 4-33 9-2 4 3 4 3 4-17 4-15 5 52 4-10 4-81 4 58 4 86 4-73 5 24 4-71 4-62 4 83 4 8 4-30 5-125 4 54 4-50 4-120 4 88 4-137 5 56 4-81 4 34 4-28 4 84 4 3 5-13 4 178 4-150 4 31 4 56 4-73 9-55 4 15 8 118 5-19 4 38 4 66 4-106 4-41 4-61 5 115 4-7 4 11 4 84 4 14 4-30 5-23 4-6 4-9 4-13 4 104 4-124 5 94 4-52 4-8 4-32 4 8 4 143 5-68 12 16 4 48 4-100 5 38 4-26 8-65 4 43 5-42 4 24 4 52 4 23 4 50 4 34 5-36 8-5 4 54 8 14 5 4 4-17 4-27 4 57 4-84 9 69 4-30 4-19 4-22 4-18 4-46 5 32 4 126 4-32 4-30 4-88 4-16 5 69 4-15 4 32 4 22 4-142 5-7 4-31 4 124 4 8 4 3 4-21 5 0 4-14 4-17 4 33 4-110 4 1 9-80 4-8 4-9 4 29 4-91 5 113 4 81 4-31 4-48 4-3 4 70 5 76 4-2 4-61 8 40 4-12 5 42 4-50 4-37 4 48 4 43 5-87 4 61 4 63 4-100 4 34 4-11 5-17 4 63 4 40 4-21 4-5 4 39 5-72 4 34 4 41 4 61 4-15 4-97 5 3 4 10 4 53 4-29 4-38 4 24 5-9 4 23 4 15 4 41 4 20 4-7 5-54 4-38 4-54 4 21 4 11 4-7"/>
<path style="marker:url(#m6)" d="M173 604l4 33 5 13 8-7 8 68 4-64 5 40 4-60 4 45 4 61 8-53 5-33 4-10 4-39 4 34 4-44 5-7 4 60 4 28 4 30 4-26 4 13 5-61 4 73 4 62 4-59 4 0 4-6 9 33 8 22 4-35 4-14 5-50 4-117 4 80 4 45 4 55 4 8 5-47 4-70 4 19 4 69 4-102 4 17 5-117 4 163 4-71 4-5 4 10 5 29 4 148 8-254 8-17 5 63 4 159 4-64 4 21 4 67 4-74 5-40 4 9 4 35 4 83 4-153 4 125 5-175 8 139 4-80 4 47 4-152 5 151 4-59 4 34 4 37 4 30 4-40 5-32 4-6 8-65 4-1 4 8 5 48 4-27 4 9 4-16 4 22 5 74 4-33 4-39 4 19 4-30 4 23 5 11 4-88 4 99 4-62 4-5 4-13 5 49 4-23 4 33 4 18 4 22 4-66 5 113 4-18 4-17 4-43 4-15 9 75 4-33 8-52 4 27 4-37 5 78 8 71 4-86 4 7 5-88 4 0 4-8 4-45 4 43 4-73 5-23 4 136 4-88 4 59 8 43 9-65 4-45 4 71 4 0 4 42 5 0 4-15 4-32 8 179 9-296 4 193 4-103 4 40 4 115 4 8 5-61 4-104 4 146 4 5 4-51 9-43 4 60 4-46 4 122 4-106 5 32 4 4 4-22 4 46 4-58 4-69 5 71 4-20 4-21 4 62 4-47 4-51 5 50 4-36 4 27 4 88 4-89 4 17 5 26 4 12 4 30 4-47 4 68 4-16 5-38 4-56 4-13 4 7 4 20 5 63 4-37 4 50 4-55 4 70 4-35 9 9 4-8 4-41 4-28 9-9 4 107 4-51 4 71 4-95 4 63 5 8 4-56 4-31 4 4 4-63 4 70 5-51 4 64 4-113 4 6 8-39 5 123 4-7 4-39 4-52 4-38 9-1 4 106 4-35 4 60 4-12 5 110 4-120 4-62 8-16 4 61 5 123 4 26 4-161 8 185 4-140 5 77 4-11 4-94 4 83 4-51 9 21 4 58 4-86 4-57 4-1 4-15 5 74 4-32 4 3 4-27 4-75 4-18 5 14 4 60 4 4 4 49 4-32 5-19 4 49 4 11 4-51 4 16 4-57 5 18 4 49 4-22 4-27 4 22 4 27 5-54 4 49 4 40 4-3 4-68 4 120 5-7 4 79 4-71 4-29 4 11 4-7 5 61 4-6 4 43 4-143 4 59 4 3 5 19 4 47 4 73 4-58 4-53 5 0 4-49 4 88 4 11 4-67 4 53 5-29 8-54 4-82 4 162 4-109 5-10 4-126 4 2 8-16 4 204 5-28 4-129 4-4 4 9 4 38 4-6 5 204 4-120 4 133 4-72 4-100 4 90 5-13 4 94 4-233 4 131 4-85 4-58 5 98 4-12 4 60 4-85 9 70 4-30 4-28 4 132 4-47 4-149 5 34 4-60 4 5 4 3 4 117 4-67 5 65 4-10 4-129 4 50 4-4 4-31 9 9 4 64 4-48 4 40 4 39 5-27 4 79 4 35 4-26 4-48 4 95 5-100 4 121 4-59 4 109 4 5 5-67 8 50 4-13 4 1 4-20 5-10 4 20 4-13 4 34 4-11 4-81 5 87 4 51 4-71 4 36 4-80 4-58 5 76 4 22 4 24 4-160 4 51 4-23 5-76 4 71 4-166 4 107 4-132 4 88 5 55 4-13 4 87 4-53 4 177 5-183 4 42 4 37 4-23 4 38 4-125 5 90 4 78 4 72 4-64 4-31 9 8 4-99 4-81 4 122 4-15 4 104 9-12 4-37 4-54 4-8 4 38 5-53 4 100 4-101 4 93 4-84 4-9 5-30 4 7 4 133 4-54 4 44 4 11 5-45 4 53 8-117 4-3 5-9 4 2 4 6 8-27 4 72 5-4 4 31 4 67 4-57 4 13 4-8 5 45 4 25 8-1 4-5 4-48 5 78 4-80 4 4 4 42 4-29 4 8 5-39 4-1 4-56 4 56 4 77 4-3 5-40 4-82 4-15 4 71 4-40 9 72 4-84 4-37 4-46 4 154 5 9 4-19 4 12 4 12 4-15 4 3 5 10 4-62 4 33 4-39 4-32 4 42 13-59 4 11 4 177 4-28 9-112 4 36 4 75 4-33 4-84 5 7 4 54 4-35 4 47 4-78 5-26 4 26 4 56 8-23 4 41 5-85 4 12 4-11 8 67 4-12 9-4 4 32 4-48 4 24 4 13 5 67 4-38 4-48 4 9 4 0 4 1 5 44 4-85 4 46 4-14 4 24 4 14 5 38 4 19 4-2 4-69 4-48 5-56 4 61 4-7 4 34"/>
<path style="marker:url(#m11)" d="M173 668l5 64 4-28 4-56 4 58 4-40 9 85 4 20 4-19 4-14 4 71 5-35 4 41 4-90 4 101 4-143 4 107 5-107 4 39 12 60 4-21 5 2 4-2 4 22 4 36 4-41 4-14 5-9 4 26 4-6 4 21 4 23 4-56 5 39 4-59 8-23 4 60 4 40 5-22 4 26 4-192 4 79 4 31 5-147 4 42 4-52 4 110 4-72 4-50 9 71 4 61 4-177 4-29 4-18 9 71 4 120 4-34 8 75 5-67 4-40 4-21 4 115 4 42 4-165 5 107 4-112 8 174 4-126 4 30 5-109 4 144 4-46 8 71 5 31 4-29 4-26 4 41 4-49 4-61 5 53 8-2 4-26 4 129 4-133 5 56 4 104 4-53 8-4 4-44 5-22 4 71 4-93 4 112 4-17 4-66 5 61 4 5 4-17 4-16 4 58 4 21 5-70 4 94 4-10 4 8 4-23 5-59 4 44 4 30 4-2 4-59 4-56 5 116 4-58 4 38 4-2 8 15 5-67 4-15 8-65 4 35 4-2 5-112 4 21 4 81 8-35 4-39 5 6 4-114 4 55 4-20 4 54 4-29 5 36 4-15 4 24 4-28 4 102 5 86 4-163 4-151 8 132 4 35 5 72 4 65 4-91 4-126 4 151 4-7 5-36 4 48 4-64 4 50 4 56 4 20 5-76 4 102 4-39 4-15 4 39 4-61 5-17 4 4 4-30 8 108 4-39 5-53 4 41 4-65 4 63 4 66 4-48 5 47 4-88 4 95 4-8 4-39 5 35 4-9 8 27 4-108 4-8 5 16 4 54 4-12 4 31 4-48 4 102 5-44 4-11 4 0 4 19 4 1 4-57 5 63 4-16 8 19 4 30 4-71 5 54 4 13 4-61 8-3 4-89 5 136 4-127 4 92 4-143 4-4 5 42 4-103 4 64 8 46 4-180 5-1 4 74 4-64 4 54 4-17 4 78 5-38 4 63 4-101 4-46 4-71 4 40 5 62 4 115 4 58 4-168 4 87 4 110 5-174 4 119 4-23 4-71 4 91 4-11 5 31 4-18 4 75 4-101 4-94 5 82 4-108 4 159 4-54 4 2 4 18 5-112 4-20 8 70 4 37 4 39 5 30 4-35 4-5 4 12 8 60 5-28 4-69 8 24 4-1 4 31 5 2 4-18 4 23 4 54 4-60 4-36 5 113 4-59 4 76 4-52 4 3 4 18 5-7 4 58 4-17 4 10 4 8 5-95 4 58 4 24 4 26 4-1 4-3 5-39 4-42 4-4 4 69 4 4 4-60 5 52 4-84 4-103 4 111 4-149 4 187 5-120 4 28 4-174 4-18 4 109 4-104 5 165 4 20 4-197 4-45 4 115 4-22 5 19 4 209 4-133 4 116 4-110 5-35 8 45 4 81 4-187 4 135 5-94 4-47 4 81 4 12 4 40 4-28 5 66 4-34 4-11 4-11 4 138 4-39 5-161 4 70 4-64 4-24 4 24 4 159 5-53 4 12 4 40 4-96 4-39 9 126 4 35 4-78 4-15 4-18 5 53 4 37 4-46 4 109 4-30 4 33 5-12 4 0 4 33 4-24 4 38 4 28 5-30 4-80 4 77 4-30 4 60 4-29 5 26 4 5 4-90 4-8 4 63 4 0 5-36 8 71 4-26 4-6 4-84 5-29 4 121 4-32 8-124 4-2 5 114 4-171 4 54 4-165 4 65 5-132 4 90 4 14 4 31 4 78 4-71 5 166 4-174 4 31 4 30 4-51 4 72 5-152 4 72 4 107 4 34 4-36 4-23 5 149 4-117 4-88 4-75 4 134 4 4 5 40 8 32 4-54 4-9 4 0 5 36 4-57 4 98 4-123 4 158 5-50 4-67 4-15 4 26 4 131 4-107 5 96 4-55 4-31 4 50 4-60 4 65 5 3 4-57 4-68 4 23 4-45 4 21 5 89 4 7 4 57 4 24 4-48 4-15 5 52 4 27 4-11 4 31 4-4 4-12 5-18 4 39 4-34 4 0 4 5 5 10 4-17 4-1 4-15 4 17 4-66 5 103 4-33 4-38 4-6 4-82 4 81 5-20 4 28 8-112 4-1 4-66 9 167 4-44 4-14 4 13 9-33 4 39 4-66 4 30 8-52 9 79 4-80 4-87 4 32 5 140 4-34 4-30 4 0 4-19 9 60 4-50 4 15 4 14 4-15 4 67 5-58 4-16 4 5 4 71 4-85 4 79 5 28 4-117 8 43 4 20 9 100 4-53 4-13 4 83 4-67 4 8 5 25 4 38 4 15 4-107 4-2 4-1 5 99 4-53 4-3 4-3 4 51 5 4 4-29 4 25 4 14 4-6 4 14 9 3 4-40 4 8 4-22"/>
<path style="marker:url(#m15)" d="M174 652l8 45 4-64 4 51 5-43 4 136 4-71 4 45 4-17 4-18 5 95 4-58 8-48 4 66 4-98 5 100 4-88 4-13 4 84 4-26 4 21 5 14 4 4 4-45 8 74 9-31 4-30 4 21 4 17 4 45 4-17 5-57 4 55 12-143 4 65 5 66 4-12 4-2 8-130 5 113 4-180 4 40 4-110 4 130 4-82 5-47 4 32 4 68 4 92 4-234 4-8 5-44 4 7 4 92 4 93 4-3 4-74 5 148 4-87 4 3 4-23 4 66 4-25 5-40 4 78 4-115 4 19 4 142 4-123 5 67 4-121 4 137 4-51 4 27 5 62 4 59 4-77 4-29 4 15 4-13 5-55 4 88 4-63 4 41 4-70 4 111 5-80 4 52 4 94 4-68 4-20 4 35 5-5 4-58 4 45 4-84 4 96 4-22 5-32 4 50 4-24 4 8 4-25 4 60 5 60 4-110 4 132 4-2 4-20 5-42 4-14 4 8 4 47 4-40 4 25 9 22 4-43 4 49 4-34 4 37 5-24 4-66 4-54 4 9 4-33 4-60 5 37 12 20 4-98 4 34 5-29 4 58 4-102 4-5 4-52 4 76 9 55 4-6 8-45 5 90 4 116 4-135 4-173 4 95 4-38 5 53 4 129 4 1 4-16 4-140 4 142 5-1 4-30 4 21 4-11 4 23 4-14 5 101 4-92 4 67 4-13 4-7 4 79 5-39 4-103 8 9 4 1 4 88 5-17 4-64 4 62 4-84 4 72 4 67 5-65 4 56 4-85 4 69 4 8 5-18 4 46 4-33 4 38 4-24 4-64 9-27 4 97 4-52 4 74 4-103 5 138 4-23 4-25 4-15 4 4 4 18 5-41 4 84 4 5 4-5 8-15 5-96 4 119 4-52 4-44 4 0 4 23 5-97 4 75 4-88 4 54 4-133 5 17 4-11 4-39 4 93 4 18 4-116 5-41 4-21 4 50 4-52 4 60 4-31 5 58 4-39 4 85 4-122 4-28 4-59 5 26 4 50 4 113 8-68 4 66 5 6 4-27 4 97 4-72 4-38 4 46 5 9 4 29 4 24 4 42 4-97 5-55 4 48 4-62 4 120 4-37 4 21 5-27 4-84 4-61 4 109 4 11 4 21 5 50 4 56 4-53 4-5 4-24 4-41 5 90 4 1 4-48 4 13 4-35 4 28 5-1 4 22 4-9 4 2 4 36 4-49 5-16 4 115 4-24 4 94 4-87 4-18 5 23 4 13 4 63 8 7 5-22 4-71 8 114 4-19 4 26 5-3 4-23 4-70 4-38 4 63 4 59 5-105 4 52 4-68 4-119 4 123 4-148 5 145 4-74 4-13 4-192 4 25 4 27 5-45 4 195 4-97 4-103 4-77 4 153 5-4 4 1 4 160 4-90 4 90 5-69 4-26 4 67 4-64 4 61 4-149 5 89 4-58 4-15 4 72 4-5 4 40 5-47 4 99 4-5 4-23 4-52 4 168 5-55 4-151 4 53 4-43 4-11 4 23 5 121 4-37 4 13 4 25 4-120 4 6 5 22 4-6 4 87 4-61 4 27 5 8 8 44 8 91 4-18 5 16 4 10 4-5 8-3 4 88 5-1 4-32 4-79 4 77 4-31 13 51 4 17 4-90 4-29 9 89 4-49 4 29 4 32 13-107 4-20 4 94 13-139 4 0 4 61 4-151 4 36 4-173 5 95 4-120 4 71 4 11 4 14 4 84 5-67 4 162 4-163 4 29 4 41 4-53 5 65 4-145 4 69 4 96 4 58 4-50 9 64 4-90 4-27 4-119 4 138 5 20 4 62 4 60 4-34 13-85 4 68 4-78 4 115 4-122 5 145 4-73 4-54 12 142 5-48 4 63 4-24 4-77 4 84 4-63 5 25 4 17 4-48 4-79 4 15 4-11 9 82 4 18 4 55 4 19 4-29 5-28 4 49 4 4 4 11 4 49 4-5 5-34 4 12 4 25 4-35 4-7 5 15 4 40 8-63 4-12 9-39 4 114 4-38 4-26 4-88 4-17 5 59 4-9 4 35 4 61 4-186 4-15 9 101 4 21 4-25 8-43 5-19 4 27 4 15 4-109 4 68 4-96 5-19 4 36 4 12 4-23 4-99 9 191 8-120 4 32 4 42 5 110 4-8 4-116 4 39 4 25 4-22 5 62 4-63 4-46 4 32 4 59 4-98 5 120 4 3 4-101 4 68 8-34 5 48 8 36 4-17 4 95 4-90 5 19 4 26 4 38 4 11 4-105 4 15 5-15 4 63 4-23 8 10 5 15 4 14 4 5 4 18 4 18 4-12 5-23 4 12 8-35 4 33 4-24"/>
<path style="marker:url(#m16)" d="M175 593l4 50 4 24 4-84 4 110 5-88 8 18 4 61 4 3 4-4 5 88 4-165 4 98 4-23 8-57 5-28 4 64 4-28 8 20 5 20 4 67 4-39 4 49 4 7 4 47 5-38 4-63 8 37 4 12 4 48 5-12 4-57 4-12 4-11 8-19 5-10 4 67 4-25 4-103 4-36 4 61 5-55 4-63 4 12 4-59 4 29 4-46 5 9 4 6 4 70 4 74 4-186 4-107 5 124 4-45 4-3 4 89 4-40 5 42 4-12 4 55 4 6 8-90 5 138 4-90 4-27 4-17 4-2 4 23 5 11 4 42 4-80 4 40 4 102 4 4 5 88 4-40 4-92 4 66 4 8 4-62 9 50 8 34 4-23 4-13 5-29 4 57 4 10 4-24 9 44 4-32 4-34 4 78 4-27 4-48 5 79 4-121 4 64 4-9 4-16 4 72 5-78 4 82 4-29 4 48 4 65 4-41 5 32 4-49 4 1 4 38 4-42 4-12 5-94 4 175 8-6 4 7 4-99 5 40 4-51 4 10 4-111 4-44 5-69 4-37 4 43 4 53 4 36 4-127 5-34 4 20 4-72 4 94 4-34 4 9 5 35 4-41 8 33 4-25 4 51 5 13 8 38 8-100 4 28 5 70 8 10 4-47 8 50 5 62 4-81 4 171 4-81 4 31 4-33 5-16 4 81 4-97 4 137 4-50 5 81 4-146 4 19 4 4 4-33 4 56 5-31 4 55 4-76 4 9 4 75 4 20 5 8 4-12 4 47 8-58 4 38 5-37 8 50 4 11 4-102 4-5 5 38 8 130 4-97 4 34 9 26 4-8 4-4 4 46 4-57 5 54 4-114 4 14 4 77 4-89 4 132 5-73 4 29 4-10 4-58 4-40 4 68 5-57 4-115 4 85 12-155 5 33 4 25 4-80 4 41 4 5 4-89 5 42 4-56 4 85 4-76 4 7 4 30 5-48 4-51 4-44 4 128 4-37 5-73 4 11 4 72 4 100 4 18 4-2 5-84 4 142 4-34 4-29 4 4 4-51 5 37 4 13 4 3 4 38 4 10 4-32 5-29 4 43 4 14 4 52 4-105 4-55 5 22 4-27 4 51 4 1 4 29 4 30 5 47 4 1 4-21 4 11 4-61 9 16 4 7 4-9 4 35 4 12 5-31 4 80 4-52 4 12 13 50 4-86 4 129 4-25 4 72 4-42 5-77 8 76 4 37 4-10 4-17 5 33 4-39 4 50 4 25 4 3 4-59 5 43 4 41 4-128 4 56 4-39 4 33 5-85 4 6 4-30 4-19 4 42 5-168 4 94 4-40 4-149 4 43 4 16 5 97 4-108 4 40 4 20 4-66 4-87 5 201 4-139 4 99 4 91 4-90 4 26 9-25 4 128 4-102 4 121 4-212 5 41 4-19 4-26 4 38 4 38 4 98 5-111 4 81 4-10 4-9 4 13 5 69 4-19 4-106 4-36 4 4 4-10 5 70 4 40 4 32 12-70 5 52 4-27 4-13 4 20 4 3 4 19 5 78 8 63 4-138 4 79 4-22 5 35 4-9 8 134 8-6 5-5 4 1 4-20 8 37 5 1 4 37 4-68 4-4 4-27 4 62 5 34 4-117 4 43 4 2 4 27 4 7 5-79 8 14 4 3 4-3 4 39 5-162 4-14 4 54 4-122 4 36 4-160 9-27 4 67 8 39 4 52 5 20 4 20 4-47 4 17 4 70 4-138 5 137 4-258 4 77 4 149 4 59 5-40 4-8 8-49 4-85 4 1 5 87 8 68 4 66 4 3 4-80 5-20 4 24 4 37 4-39 8-37 5 33 4-24 4 6 4 34 4-29 4 138 5-47 4 19 4 26 4-96 4 79 4-73 5 43 8-110 4 33 4 4 5 96 4-71 8 55 4 1 4 43 5 14 4-93 4 46 4 89 4-72 4 102 5-56 4-14 4 92 4-53 4 27 4-77 5 35 4 41 4-33 4 35 4-86 4 50 5-42 4 71 4-25 4-106 4 57 4-78 5 82 8-17 13-57 4-116 4 3 4 56 4 11 4 57 9 56 4-48 4-36 4-105 4-23 5 86 4-143 4 6 4 18 4 83 4-149 5 116 4 73 4-64 4 117 4-100 4 90 5-14 4 10 4-75 4 33 8 48 5 4 4-67 4-8 4 23 4 24 9-22 4 9 4-26 4 15 4-8 5 100 4 38 4-58 4 31 4-2 4 0 5-41 4 62 4 64 4-30 4 17 4-119 5 0 4 62 4 8 4 11 4-70 4 22 5-31 4 1 4 91 4 25 8 19 9-52 4-39 4 14 4-31"/>
<path style="marker:url(#m7)" d="M174 598l5-14 4 27 4-65 4 106 4-76 4 50 5-26 4 66 4-34 8 67 4-85 5-25 4 65 4 29 4-68 4-43 4 57 5 10 4 20 4-5 4-3 4 91 4-66 5 66 4-10 4 15 8-66 4 24 5-15 4 28 4 71 4-23 4-66 5-33 4-2 4-131 4 141 8 59 5-8 4-19 4-119 4 92 4 50 4-167 5 60 4-52 4 90 4 6 4-120 4 196 5-58 4 73 4-60 4-261 4 160 4-19 5 133 4-91 4-9 8 30 4 18 9 93 4 4 4-42 4-82 5 12 8-42 8-70 4 144 5-143 4 74 4 20 4-21 8 50 5-87 4 4 4 31 8-8 4-31 5 58 4-1 4-16 4-26 8 16 5-27 4 46 4 11 4-20 4 17 4-25 9-8 4 22 4 27 4-91 4 56 5 2 4 19 4 14 4-20 4 17 5-40 4 76 4-25 8 54 4-35 5 12 4 32 4-58 4 30 8 60 5-111 4 78 4-11 4-57 4 49 4-59 5-5 4-100 4 29 4-44 4-55 4 51 5 26 4 64 4-65 4-99 4 8 4 47 5-11 4-7 4 60 4 9 9 9 4-8 4 126 4-131 4 219 4-91 5 2 4-39 4-49 4 67 4 37 4 20 5-43 4-33 4 25 4 18 4-25 4-95 5 190 4-102 4 3 4 14 4-9 4 32 5-76 8 57 4 47 4-119 4 3 5 6 4-41 4 48 4-30 4 30 5-71 8 73 4 10 8-2 5 50 4-17 4-88 4 70 4-2 4 83 5-60 4 29 4-105 4-17 4 72 9 83 4-75 4 48 4 6 4 11 4-27 5 3 4 57 4-88 4 43 8-29 5 27 4-37 4 98 4-59 4 15 4-23 5-52 4 7 4 55 4-69 4-88 9 13 8-67 4 61 4 27 5-80 4 95 4-42 4-55 4-2 4 5 5 53 4-19 4-44 4 32 4 8 9 25 4 122 4-159 4-29 4-30 4 124 5 25 4 73 4-40 4-57 4 132 4-98 5-26 4 26 4-12 8 21 5 52 4-72 4 70 4-94 4-75 4 43 5 25 4 44 4-81 4-76 4 26 4-41 5 32 4 12 4 46 8 22 4-8 5-11 4-20 4 7 4-21 4 18 4-54 5 31 4 11 4 18 4 32 4 43 4-63 5 28 4 36 4 6 4 3 4-58 5 97 4-16 4 87 4-72 4-54 4 20 5 3 4 91 4-4 4-65 4 46 4-49 5 22 4 53 4 33 4-69 4 67 9-102 4 76 4-44 4 31 4-67 4-3 5-12 4-10 4 35 4-98 4 178 4-113 5-140 4 9 8 139 4-151 5 152 4-18 4-59 4-105 4 127 4-26 5 113 4 58 4-128 4 29 4 106 4-133 5 105 4-75 4 120 4-213 4 34 4 48 5-78 4-39 4 99 4 45 4-99 4 74 5 5 4-42 4 19 4 25 4-41 4-111 5 21 4-34 4 6 4 56 4 8 4 11 5 46 4-22 4-65 4 15 4-2 5-10 4 27 4-57 4 74 4 56 4 44 5-83 4 20 4 65 4-70 4 47 4-7 5 111 4 5 4 11 4-4 4-8 4 34 5-36 4 55 4-24 4-4 4 38 4-34 5 25 4-46 4 49 4 21 4-96 4 54 5-40 4 53 4 5 4-54 4 57 5-29 4-23 4 1 4 40 4-141 4-10 5 50 4-110 4 36 4-163 4 70 4-59 5 50 8 53 4 177 4-75 4 0 5-55 4 90 4 71 4-176 4 134 4-243 5 136 4 167 4-30 4-56 4 36 4-18 5-55 4-55 4-44 4 72 4 58 5-4 4 88 4-19 8-119 4-8 5 45 4-54 4 32 4-85 4 56 4-9 5-35 4 39 4-15 8 38 4 32 5-8 4-39 4 32 4-23 4 45 4-19 5-95 4 17 4-12 4 104 4-69 4-11 5 99 8-1 4 5 4-44 4 42 9 31 4 93 4-55 4-10 5 73 4-46 8-43 4 13 4 0 5 9 4 26 4-107 4 81 4-49 4 36 5 11 4-71 4-11 4-40 4 9 4 21 5 42 4-32 4-16 8-99 4 39 5 75 4-11 4 35 4 20 4 72 4-29 5-29 4-127 4 39 4 81 4-145 5 0 4-1 4 91 4-119 4 121 4 51 5-34 4 107 4-108 4 58 8-33 5-83 4 23 4 126 4-75 4-10 4-82 5-2 4 45 4 15 8-42 4 27 5-30 4-5 4 9 8 90 4-31 5-14 4 16 4 13 4-28 4 71 5 22 4-16 4 10 4-101 4-4 4 27 5 26 4-11 4-9 4 4 4-26 9 87 4 27 4 15 4-30 4-43 4 4 5-13 4-46 4-9"/>
<path style="marker:url(#m22)" d="M175 589l4 31 4 56 5-99 4 108 8-24 4-40 4 36 5 2 4 19 4 47 4-106 4 35 4 6 5 14 4-67 4-30 4 17 4 41 4 30 5-35 4 33 4 57 4-54 4 64 4-23 5 24 8-58 4 34 4 8 4 15 5 66 4-47 4-65 4-16 4-21 5-119 4 82 8 124 4-38 4-99 9 9 4 13 4-93 4 27 4-81 5 23 4-9 4-24 4 26 4 121 4 50 5-242 4-88 4 154 4-32 4 32 4 54 5-85 4 72 4 3 4 41 4 44 9-120 4 123 4-103 4-54 4 20 4 30 5 36 4-69 4 74 4-61 4 35 5 62 4 14 4 78 4-40 4-93 4 37 5 34 4-71 4 28 4 18 4 51 4 7 5-18 4 3 4-87 4 100 4 25 4-45 5 22 4-14 4 12 8-13 9-18 4 46 4-101 4 33 4 6 4 4 9-2 8 28 4 24 5-10 4 10 8 4 4 24 4 11 5-31 4-5 4-86 4 174 4-112 4 106 5-35 4-79 4 48 4-68 8-90 5 34 4-77 4-58 4-14 4 107 4 31 9-193 4 48 8 35 4-9 5-13 4 43 4 0 4-43 4 103 5-55 4 31 4 84 4-17 4-14 4-108 5 20 4 51 4 59 4 47 4-55 4-19 5-3 8 44 4-47 4 177 4-127 5 47 4-12 4 23 4 22 4-79 4 97 5-45 4 49 4-82 8 0 4-35 5 66 4-32 8-37 4 20 4 54 5 28 4 16 4-33 4 69 9-101 4 67 4-37 4 101 4-74 4 28 5-98 4-27 4 46 4 6 4 98 4-83 5 49 4-14 4 33 4-21 4-51 4 100 5-113 4 35 4-49 4 29 4 30 4-20 5 100 4-75 4 25 4-11 4-70 4 8 5 62 4-61 4-139 4 67 4-95 9-11 4 32 4 22 4-68 4 102 5-48 4-74 4 18 4-47 4 97 4-93 5 12 4 42 4-35 4-1 4-71 4 152 5-80 4-60 4-35 8 211 4 1 5 24 4-114 4 127 4-27 4-27 9-19 4 9 4 44 4-22 9 45 4-29 4-35 4 30 4 6 4 64 5-86 4-80 4 59 4-51 4 56 4-13 5 64 4 5 4-11 4 57 4-30 4-32 5-4 4 1 4 15 4-40 4-4 4 12 5 59 4-34 4 75 8-64 4 31 5 47 4-45 4-31 4 129 4-59 5 58 4-65 4 0 4 5 4-9 4 58 9-52 4 11 4 2 4 19 4 19 9-29 4 29 4 99 4-128 4 49 5-28 4 37 4-63 4-32 4 17 4-62 9-82 4 51 4-87 4-31 4-9 9 128 4-114 4 27 4 0 4-56 5-33 4 134 8-2 4 121 5-130 8 27 4-3 4 124 4-98 5 94 4-193 4 11 4 30 4-26 4-9 5 60 4 70 4-93 4 99 4-5 4-76 5 45 4-5 4 29 4-82 4-16 9-5 4 54 4 12 4 53 8-6 5-70 4 58 4 4 4-70 4 51 5 4 4 18 4 39 4 40 4 10 4-63 5 63 4-51 4 29 4-19 4 115 9 36 4-25 4-20 4 63 4-46 4 14 13 46 8-47 4-20 5 41 4 26 4-113 4 59 4-35 4 75 5-1 4-56 4 32 4-21 4-19 9 9 8-163 4 75 4-123 5-2 4-121 4 16 4-9 4 44 4 45 5 5 4 34 4 37 4 28 4-49 4 32 5 73 4-158 4 131 4-258 8 189 5 104 4-80 4 34 4 16 4-72 9-80 4 66 4 64 4 17 4 56 4 10 5-79 4-5 4 7 4 20 4 14 5-6 4-81 4 34 4-7 4-18 4 36 5-9 8 80 4-18 4 49 4-84 9 19 4 42 4-50 4-66 4 29 5-19 4 93 4-47 4 16 4 37 4 37 5-2 4 27 4-86 8 129 4-81 5 114 4-62 4-24 4 78 4-38 5-16 4-37 4 11 8 17 4 58 5-116 4 61 4-50 4 45 4 11 4-54 5-73 4-14 4 18 4 34 4 35 4-35 5-1 4 39 4-140 4 2 4 23 4 51 5 10 4 45 4 16 4-14 4-71 4-64 5-22 4 39 4-114 4-9 4 35 5 47 4-126 4 150 4 62 4-71 9 27 4 73 4 5 4-3 4-62 4 28 5 61 4-43 4-23 8-31 9 47 4-33 4 1 4 54 4-35 4 13 5-30 4 92 4 48 4-67 4 25 4-16 5 44 4-54 4 74 4 32 4-35 5 14 4-106 4 35 4 29 4-9 4 12 5-26 4 2 4-29 4 4 8 104 5 20 4-39 4-34 4-14 4-30 4 32 5-67"/>
<path style="marker:url(#m12)" d="M175 641l4 128 4-3 4-152 4 156 4-87 5 95 4-80 4 14 4 74 4-47 4 76 5-93 4 66 4-61 4 65 4-87 4-29 5 94 4-14 4-14 4-16 4 2 5 72 4-37 4 19 4 14 4 25 4-15 5-97 4 91 4-32 4-2 4 52 4 3 5-40 4-43 4 66 4-126 4 81 4 4 5 50 4-4 4-15 4-140 4 75 4 51 5-190 4 81 4-114 4 99 4-26 4-87 5 143 4 4 4 87 4-178 4-206 4 185 5-64 4 106 4-3 4-36 4-11 5 24 4 21 4 51 4 104 4-83 4 56 5-129 4 45 4-75 4 15 4 11 4-51 5 156 4-153 4 138 4-60 4-6 4 122 9-138 4 137 4-54 4-26 4 34 5-18 8 79 4-93 4 24 4-22 5 21 4 28 4-25 4-17 4 46 5-28 4-10 4 77 4 17 4-105 4 62 5-74 4 37 4 38 4-4 4 77 4-74 5-9 4-4 8 28 4 47 4 1 5-49 4 7 4 22 4-6 4-29 4-74 5 124 4-101 8 93 4-45 4 44 5-30 8-75 4 11 4-140 5-9 4 10 8 79 4-95 4-57 5 25 4-11 4-27 4 12 4 69 4 12 5 60 4-119 4 42 8-43 4 152 9-41 4-59 4-6 4 20 4 124 5 30 4-86 4-23 4 47 4 5 4-37 5-42 4 190 4-110 4 73 4 5 4 31 5-68 4-38 4 62 4-25 4 77 5-136 4-12 4 63 4-82 4 112 4-96 5 133 4-146 4 68 4 60 4-27 4 36 9 46 4-93 4-11 4 78 4-41 5 53 4-32 4 12 4-79 4-34 4 20 5 9 4 122 4-84 4 62 4 1 4 9 5 12 4-28 4 37 4-39 4 40 5-111 4 24 4 84 4-73 4 77 4-49 5 4 4 26 8-66 4 14 4-2 5-130 4 131 4-26 8-168 4 52 5 20 4-92 4 125 4-98 4-17 9-49 4 39 4 0 8-18 4 25 5 41 4-69 4 77 4-131 4-49 5-4 4 136 4 13 8 94 4-123 5 163 4-96 4-43 4 67 4-4 4-54 5 46 4 136 4-126 4 95 4-124 4 92 5-48 4 61 4 7 4-91 4-54 4-18 5-52 4 69 4 38 4 120 4-42 4 25 5 8 4-79 4 42 4-84 4 37 5 14 8-40 4 57 4 2 4 2 5 57 8-9 4-30 4 51 4-4 5-62 4 124 4-66 4 69 4-50 4-33 5 18 4 15 4 43 4 17 4-14 4 23 5-52 4 33 8 28 4-62 4 65 5 4 4-126 4 94 4-19 4 0 4-101 5-7 4 17 4-45 4 112 4-172 5 142 4-26 8-190 4-41 4 164 5-169 4 172 4-29 4-86 4-83 4 141 5-69 4 110 4 138 4-156 4-14 4 69 5-72 4 101 4-59 4 116 4-213 4 29 5 14 4-18 4-1 4 36 4 91 4-141 5 92 4 40 4-19 4 37 4-1 5-14 4-64 4 6 4-86 4-19 4 218 5-110 8 84 4 6 4-139 4 173 5 19 4-25 4-82 4 97 4-89 4 81 5-19 4 59 4-127 4 96 4-56 4 81 9 49 4 11 4 17 4-3 4-10 5 19 4-31 4-18 4 49 13-43 4 2 4-26 4 48 4 24 5-86 8 34 4 20 4 20 4-63 9 57 4-27 4-17 4 49 4-107 5-67 8-62 4 49 4-160 4 35 5-20 4 5 4 148 4-90 4 166 4-112 5 50 4-76 4 38 4 63 4-144 4 127 5-252 4 106 4 181 4-4 4-52 5 18 4 65 8-145 4-68 4 94 9 49 4 89 4 20 4-125 4-12 5 40 4 26 8-8 8 13 5-13 4-65 4 15 4 3 4 110 4-31 5-15 4 89 4-119 4 129 4-72 4-3 5 70 4-166 4 29 4-8 4 109 5-113 8 139 4-52 4 45 9-76 4 36 4 88 4-58 4 58 4-45 5-24 4 62 4-18 4 30 4-75 4 4 5 69 4-8 4 14 8 3 4-88 5 56 4-30 8 20 4-48 4 8 5-32 8-8 4-18 4 11 5-112 4-12 4 53 4 54 4 8 4 16 5 53 4-34 4-32 4-115 4 0 4 109 5-166 4-17 4 18 4 65 4-88 4 81 5 49 4-42 4 102 4-70 4 61 4 16 5-14 4-106 4 48 4 88 4-23 4 22 5-112 8 102 4-42 4 1 4-21 9-31 4 50 4-1 4 66 5 29 4-70 4 49 4-31 4 49 4-72 5 100 4 3 4-33 4 43 4-98 4 34 5 21 4 3 4 23 4-61 4 7 4-20 5 10 4 68 4 20 4 2 4 25 4-34 5 8 4-45 4 66 4-92"/>
<path style="marker:url(#m3)" d="M174 610l4 74 5 34 4-134 4 100 4-51 4 94 4-79 5 34 4 41 4-37 4 81 4-133 9 46 4 14 4-69 4-48 4 72 4-29 5 60 8-27 4 67 4-50 4 75 5-32 4 25 8-57 4 21 4 19 5 9 4 67 4-26 4-27 9-18 4-73 4 66 8 74 4 17 5-110 4-78 4 59 4 99 4-186 4 36 5-68 4 68 8-79 4 211 4-73 5 63 4-128 4-217 4 174 4-36 4 147 5-45 4-34 4-54 4-17 4 97 4 14 5 111 4-79 4 21 4-104 4 63 4-87 5 28 4-1 4-63 4 104 4-86 5 84 4-30 4 14 4 113 4 4 4-124 5 53 4-23 4-27 4 19 4 26 4 8 5 20 4-58 4-4 4-54 4 101 4-1 5-21 4 5 4-17 8-34 9 86 4-74 4 55 4-118 4 70 4-21 5-6 4 32 4-52 4 67 4-48 5 67 4-9 4-16 4 52 4-71 4 36 9-47 4 17 8 123 4-139 5 119 4-34 4-17 4 18 4 10 4-32 5-45 4-28 4-59 4-6 8 16 5 72 4-82 4-51 4-10 4 13 4-23 5 18 4 38 4 29 4 17 4-67 5 61 4 108 4-147 4 191 4-89 4 18 5-83 4-32 4 119 4 38 4 23 4-76 5 4 4 28 4-13 4-14 4-80 4 202 5-141 4 67 4 14 4-20 4 15 4-84 5 104 4-36 4 72 4-116 4-9 4 58 5-136 4 125 4-59 4 70 4-95 5-11 4 111 4-10 4 4 4-16 4 58 5-50 4-29 4 49 4-58 4 98 4-50 5 19 4-114 4-5 4 21 4 1 4 124 5-100 12 52 4-15 4-36 5 87 4-92 4-1 4-29 4 12 4 65 5-28 8 42 4 16 4-6 4-20 9 18 4-55 4-123 4 139 5-105 4-48 4 2 4 35 4 40 4-64 5 86 4-71 12-42 9 2 4-25 8 61 4 1 4-49 5 138 4-125 4-56 4-51 4 157 4 38 5 76 4-39 4-78 4 125 4-96 4-20 5 35 4-17 4-6 4 7 4 130 5-103 4 75 4-116 4 11 4-3 4 50 5 33 4-98 4-78 4 10 4-28 4 58 5 11 4 22 4 27 4 10 4 40 4-63 9-12 4 3 8 25 4-47 5 47 4 35 4-48 4 42 8-44 5 20 4 27 4 25 4-107 4 142 5-60 4 75 4-56 4-51 4 24 4-20 5 81 4-6 4-43 4 52 4-46 4 31 5 47 4 54 4-51 4 33 4 60 4-125 5 66 4-8 8-91 4-8 4 4 5 9 4 86 4-184 4 110 4-45 4-140 5-9 4-30 8 34 4 171 4-75 5-69 4-77 4 153 4-76 4 126 5 93 4-151 4 10 8 13 4 113 5-109 4 134 4-199 4 29 4-17 4-16 5 8 4 34 4 70 4-144 4 115 13 9 4 100 4-84 8-114 5-17 4-35 4 119 4-24 8 64 5-66 4-57 4 50 4 5 4-45 5 48 4-23 4 37 4 66 4 6 4 18 5-73 4 78 4-56 4 65 4-43 4 93 5 38 4-12 4-24 4-29 4 75 4-31 5 12 8-1 4 9 4-45 4 45 5-31 4 36 4 18 4-87 4 37 4-8 5 53 4 21 4-93 4 82 4-46 5-5 4 17 4 48 4-164 4-2 4 78 5-160 4 78 4-188 4 27 4-8 4 37 5 104 4-69 4 158 4-60 4-4 4-42 5 38 4 72 4-157 12 2 5 182 4-14 4-47 4 24 4 20 4-60 5-57 4-62 4 85 4 48 4 12 5 63 4-4 4-105 4-23 4 56 4 2 5-29 4 14 4-75 4 53 4-28 4 4 5 15 8 113 4 8 4-35 4 29 5-97 4 37 4-27 4 36 4-66 4-52 5 35 4-15 4 98 4-62 4-16 4 103 5-12 4 1 4 28 4-72 8 94 5-51 4 95 4-59 4-14 4 59 5-19 4 2 4-50 4 2 4 34 4-16 5 36 4-105 4 67 4-38 4 39 4 9 5-61 4 4 4-27 4 41 4 8 4 0 5-25 4 0 4-2 4-132 4 21 4 69 5 17 4 53 4-12 4 66 8-36 5-132 4-8 4 135 4-128 4-37 5-9 8-68 4 163 4 22 4-41 5 127 4-98 4 91 4-16 4-46 4-75 5 29 4 125 4-40 4-33 4-100 4 9 5 64 4 12 8-50 4 37 4-57 5 36 4-28 4 102 4 31 4-53 4 20 9 33 4-73 4 92 4 5 5 3 4 2 4-121 4 17 4 49 4 3 5 2 4-32 4 17 4-32 4 29 4 50 5 22 4-1 4 8 4-74 4-15 4-5 5-32 4-23"/>
<path style="marker:url(#m19)" d="M175 570l4 17 4 6 4-46 5 106 4-100 4 26 4 24 4 49 4-44 5 13 4 61 4-126 4 13 8 64 9-67 4 35 4 5 4 30 9 11 4 55 4-66 4 66 4-25 4 6 9-56 8 26 4 35 5 68 4-72 4-56 8 2 4-155 5 33 4 58 4 61 4 22 4-205 4 61 5-6 4-35 4 5 4-7 4-13 9-136 8-3 4 184 4 63 9-274 4 94 4-23 4-86 4 186 4-147 5 136 4-14 4 60 4 33 4-204 5 4 8 119 4-151 4 88 4-12 9 93 4-57 4-15 4 48 4 96 5 9 4 71 4-36 4-83 4-11 4 101 5-94 4 50 4-32 4 112 8-34 5-37 4 3 4 54 4-39 4 39 4 15 5 14 4-13 4-16 4-18 4 10 5-6 4 48 4-84 4 8 4 24 4-49 5 32 4 5 4 39 4-3 4-3 4-34 5 45 4-7 4-7 4 60 4-7 4-60 5 3 4-91 4 162 4-85 8 39 9 14 4-74 4 37 4-197 4 37 5-23 8-161 4 177 4-41 4-101 5-29 4 94 4-124 4 146 4-2 5-49 4 51 4 3 4-106 4 41 4 56 5 47 4-36 4 80 4-4 4-231 4 99 5 25 8 188 4-81 4-37 4 50 5-15 4 69 4-82 4 168 4-94 4 66 5-92 4 68 4-9 4-35 4 103 4-50 5 63 4-90 4 8 4-24 4 7 5-5 4 28 4-13 4 1 4 15 9 30 4 31 4-12 4 10 4 24 4-81 5 28 4 24 4 76 4-68 4 41 4-87 9 24 4 13 8 12 4 39 9-15 4-10 4-27 4 92 4-123 5-28 4 12 4 22 4 32 4-6 5 87 4-68 4 4 4-26 4-45 4-50 5 94 4-141 4 5 4-8 4-36 4-26 5-39 4-1 4 58 4-60 4 82 4-18 5-81 4 33 4-68 4 82 4-149 4 121 5 25 8-161 4 2 4 141 4-11 5-86 4-18 4 24 4 154 4 4 4-45 5-63 4 149 4-5 4-19 4 29 5-44 4-2 4 58 4-43 4 62 4-12 5-2 4 3 4-33 4 27 4 71 4-150 5 23 4-4 4-27 4 50 4-10 4 49 5 20 4-8 4 28 4-17 4-11 4-10 5 6 4 12 4-81 4 55 4-36 4 74 5 2 4 32 4-11 4-17 4 26 5 19 4-28 4-35 4 98 4 5 4 57 5-71 4-19 4-33 4 16 4 42 4 45 5-88 4 14 4 6 4-46 4-36 4 98 5-78 4 78 4 100 4-111 4-13 4 12 5 67 4-54 4-33 8-142 4 23 5-84 4 13 4-43 4-39 4 61 9 0 4 33 8-50 4-16 5-31 4 121 4-96 4 101 4-43 13 39 4 52 4 75 4-53 4 84 5-206 4 58 4 13 4-80 4-15 4 75 9 31 8 26 4-44 4 22 5-50 4 16 4-19 4 33 4 4 5-17 4 35 4 23 4-15 4 42 4 28 5-64 4 26 4 10 4-23 4 28 4-64 5 86 4 30 4 27 4-27 4 3 9-8 4 9 4 9 4 110 4-22 4 54 5-9 4-8 4 5 4-5 4 21 4-52 5 46 4-2 4-12 4 34 4-53 4 57 5 26 4-150 4 73 4-37 4 72 5 25 8-23 4-61 4-43 4 50 5-32 4-123 4-44 4 36 4-55 9-105 4-59 4 68 4 39 4 54 4-14 5 18 4 40 4 31 4-16 4-17 4 75 5-112 4 80 4-198 4 87 4-63 4 222 5-79 4 23 4 13 4-31 4-95 5 10 4 40 8 109 4 55 4-4 5-70 4 42 4-68 8 66 4 4 5-54 4 46 4-41 4-39 4 68 4-7 5 3 4 25 4 43 4 18 4-46 4 10 9-11 4-25 4-59 4 35 4-37 5 105 4-28 4-37 4 98 4 17 5-60 4 60 4-59 4 5 4 108 4-50 5 74 4-59 8 61 4-10 4-17 5-45 4 16 4-23 4-17 4 75 4-125 5 59 4-18 4 0 4 25 4-39 4-86 5-33 4 31 12 17 4 39 5 6 4-100 4 16 4 3 4 33 4 84 5-5 8-12 8-113 5-75 8-76 4 43 4 0 4 73 5-161 4 178 8-14 4 121 4-114 5 62 4 50 4-11 4-34 4 28 4 52 5-21 8-53 4-14 4 26 4-1 5-19 8-8 8 54 4-25 5 46 4 49 4-15 4-13 4-6 5 39 8 31 4 22 4-16 4 6 5-88 4 12 4 9 4 11 4 25 4-23 5-15 4-11 4 7 4 75 4 16 4 25 5-65 4-35 4-11 4-22 4-2 4-13"/>
<path style="marker:url(#m15)" d="M175 614l4 79 4 36 8-9 5-73 4 91 4-79 4 44 4 32 4-23 5 101 4-135 4 65 4-46 4 73 4-101 5-8 4 48 4 9 4 33 4-39 4-2 5 75 4-24 4 29 4-6 4 22 9-124 4 76 4 26 4-13 4 47 5-17 4-16 4-59 4 20 4-116 4 119 5 5 4 37 4-16 4-17 4-132 4 59 5 68 4-192 4 91 4-107 4 85 4-3 5-125 8 129 4 47 4-157 4-153 5 170 4-84 4 111 4 8 4-31 4 6 5 6 4 21 8 117 4-112 5 91 4-106 8-17 4 24 4 42 5-75 4 108 4-103 4 117 4-24 4-17 5 99 4 20 4-161 4 134 4-39 4-55 5 26 4 7 4 53 4 16 4-63 4 37 5-81 4 66 4 22 4-52 4 38 4 2 5 1 4-39 4 82 4 9 4-81 4 48 5-96 4 92 8 0 4 87 5-70 4 4 4-38 4 82 4-20 4 39 5 24 4-53 4-9 4 18 4-3 4-51 5-88 4 182 4-119 4 92 4-5 9-21 4-26 4-28 4-57 4 6 4-87 5-54 4 46 4-41 4 99 4-93 4-27 5-46 4 31 4-7 4 0 4 5 5-2 4 24 4-77 4 101 4 26 4-57 5 124 4-31 4-2 4-90 4-18 4 62 5 99 4 31 4-89 4-6 4 46 4 14 5-41 4-66 4 196 4-119 4 74 4-24 5 0 4 70 4-70 4 97 4-55 4 67 5-130 4-14 4 74 4-109 4 93 9 43 4-111 4 39 4 60 4 3 5 39 4-19 4 50 4-74 4-17 4 55 5-70 4 86 4-30 4 20 4-74 4-7 5-8 4-6 4 157 4-83 4 50 4-44 5 50 4-3 4-4 4 28 8-12 5-83 4-1 4 95 8-6 5-52 4 25 4 23 4-62 4-13 4 17 9-161 4 150 4-70 4-163 4 36 5 11 4 59 4-92 4 87 4-62 4-70 5 16 4-19 4 94 4-89 4-36 4 63 5-14 4-2 4-60 4 101 4-77 4-69 5-44 4 160 4 65 4 58 4-18 4-87 5 171 4-142 4-3 4 11 4 6 5-36 4 45 4 111 4-70 4 60 4-52 5-56 4 25 4 15 4 82 4-100 4-98 5 22 4-42 4 80 4 1 4 102 4-27 5 29 4 11 4-63 4 24 4-46 4 16 5 23 4 20 4-47 4 64 4 32 4-33 5 35 4 7 4-28 4 9 4 28 5-9 4-55 4 139 4-60 4 57 4-37 5-50 4 55 8 36 4 21 4-20 5-23 4-36 4 76 4 29 4-15 4-40 5 34 4 22 4-102 4 50 4-11 4-22 5-75 4 5 4-23 4 27 4 34 4-118 9 40 4-159 4 6 4-24 5 179 4-186 4 110 4 47 4-150 4-72 5 189 4-109 4 66 4 146 8-144 5 29 4-17 4 83 4-38 4 97 4-212 5 45 4-18 4-4 4 7 4 40 4 85 5-123 4 130 4-7 4 11 4 45 4 3 5 10 4-132 4-13 4-50 4 16 4 108 5-20 8 66 4-35 4-76 5 120 4-43 4 10 4-34 4 59 4-39 5 76 4 11 8-70 4 67 4-31 5 41 4 13 4 60 4 48 4-27 4-6 5 24 4 22 4-51 4 6 4 48 4-34 13 2 8 19 4 6 5-76 4 52 4-35 4 23 4 18 5-51 4 51 4-31 4-37 4 4 4 52 5-134 4-33 4 47 4-137 4 66 4-172 5 21 4-35 4 28 4 62 4-19 4 117 5-57 4 49 4-79 4 51 4 39 4-116 9-118 4 79 4 164 4 41 4-41 5 14 4-10 4-47 4-75 4-9 5 77 4 65 4 4 4 75 4 6 4-101 5-19 4 26 4 44 4-29 8-75 5 76 4-5 4-30 4-2 4 0 4 137 5-31 4-11 4 46 4-105 4 103 4-67 5 24 4 30 4-120 4 27 8 70 5-67 4 51 4 69 4-47 4 44 5 24 4-116 4 51 4 89 8 34 5-64 4-16 4 52 4-13 4 25 4-52 5-15 8 56 4 10 4-49 4 65 5-85 4 27 4 34 4-57 4-11 9 19 4-46 4 0 4-31 4-5 4 6 5-133 4-6 4 72 4 54 4 1 4 16 5 66 4-38 4-63 4-121 4 17 5 84 4-104 4-66 4 64 4 32 4-106 5 90 4 48 4-15 8 16 4 91 5-42 16 81 4-81 5-1 8-69 4 105 4-29 4 15 5-59 4 40 4-52 4 51 4-22 4 85 5 29 4-60 4 64 4-38 4 24 5-57 4 104 4 11 4-31 4 33 4-114 5 51 4-20 4 38 4 21 4-70 4 34 5-50 4 23 4 57 4 32 4 16 4-5 5-17 4 24 4-54 4 33 4-34"/>
<path style="marker:url(#m11)" d="M175 651l4 97 4 11 4-139 4 153 4-96 5 102 4-87 4 26 4 20 4 10 4 64 5-116 4 43 4 9 4 39 4-85 4-45 5 100 4-15 4 23 4-40 4-7 9 34 4 48 4-12 4 28 4-34 4-47 5 26 4 28 4-16 4 51 4-12 5-4 4-70 4 49 8 3 4-49 9 78 4-73 8-24 4 67 5-187 4 82 4-125 4 125 4-13 4-124 5 191 4-67 4 106 4-139 4-210 4 116 5-19 4 147 4-80 4-16 8 17 5 55 4 36 4 56 8 0 5-71 4-1 4-65 4 25 8-75 5 156 4-134 4 97 4-10 4-26 4 135 5 26 4-148 4 89 4-53 4 35 4-9 5-37 4 35 4 59 4-111 4 34 4-12 5 26 4 28 4-47 4 38 4-24 4 4 5-26 4 71 8-63 4 43 4-61 5 55 4-26 4 37 4 81 4-71 5-30 4 23 4 32 4-3 4-10 4 41 5-20 4-26 4 43 4-26 4 3 4-114 5 149 4-78 4 47 4 34 4-107 4 80 5-39 4 14 4-70 4-27 4-84 9 9 4-13 4 69 4-69 4-56 4 8 5-2 4-53 4 22 4 40 4 51 5 52 4-136 4 39 4 94 4-106 4 168 5-73 4-4 8-56 4 57 4 51 5 54 4-77 4-15 4 30 4-2 9-55 4 192 4-143 4 55 4 56 9-33 4-78 4 88 4-21 4 66 4-123 5-31 4 70 4-79 4 108 9 29 4-131 4 61 4 27 4 5 4 41 5-24 4 45 4-76 4 6 4 50 4-40 5 68 4-30 4 14 4-109 8 23 5-14 4 135 4-82 4 57 4-10 4 23 5 16 4-34 4 22 4-29 4 48 4-125 5 30 4 94 4-72 4 76 4-36 4 30 5-22 4-66 4 14 4 16 4-34 5-87 4 61 4-23 4-124 4-7 4 70 5 12 4-79 4 163 4-141 8-77 5 7 4 65 4-61 4-31 4 59 4 21 5-2 4-49 8-8 4-74 4-9 5 115 4 43 4 105 4-33 4-57 4 135 5-126 4-43 4 116 4-44 4-73 5 85 4 97 4-100 4 116 4-134 4 64 5-60 4 45 4 21 4-56 4-69 4-27 5-37 4 70 8 117 4 2 4-16 5 23 4-60 4 21 12-1 5 19 4-89 4 73 4 17 4-3 4 63 5-3 4-2 4-50 4 38 4-16 5-22 4 83 4-39 4 75 4-68 4-33 5 37 4 24 4 9 8 24 4 8 5-92 4 106 4 2 4 4 4-72 4 70 5 1 4-94 4 46 4 21 4-12 4-92 5-9 4-13 4-8 4 77 4-202 4 158 5-15 4-142 4-40 4-35 4 129 5-104 4 125 4 0 4-41 4-153 4 150 5-72 4 111 8-7 4-12 4 89 5-97 4 83 4-61 4 122 4-189 4 9 5 77 4-62 4-36 4 49 4 120 4-167 5 114 4 8 4-21 4 73 4 2 4 19 5-130 4-17 4-28 4-26 4 178 4-71 5 53 4 3 4 19 4-136 4 162 5 19 4-36 4-66 4 110 4-102 4 90 5-28 4 91 4-148 4 54 4 0 4 42 5 1 4 88 4 3 4-13 4-10 4 9 5 26 4-41 4-3 4 17 21-48 4 51 4 22 4-75 5 53 4-5 4 19 4-11 4-28 5 36 4-15 4-47 4 26 8-37 5-112 4 78 4-148 4 67 4-173 4 44 5-13 4 6 4 160 4-102 8 117 5-29 4-47 4 49 4 40 4-152 4 104 5-248 4 138 4 186 4 7 4-58 4 34 9-28 4-34 4-122 4 109 5 26 4 16 4 67 4 50 4-140 4-3 5 54 4 17 4-34 4 41 4-128 4 83 5 76 4-130 4 30 4-4 4 128 4-40 5-13 4 65 4-125 4 128 4-69 4 10 5 52 4-152 4 51 4-47 4 128 4-100 5 62 4 64 4-50 4 55 4-1 4-76 5 37 4 81 4-55 4 54 4-43 5-16 4 69 4-32 4 31 4-56 4-1 5 57 4-22 4 29 4-32 4 12 4-51 5 60 4-6 4-86 4-4 8 10 5-28 4 42 4-21 4-32 4 13 4-127 5-10 4 84 4 26 4 32 4-4 4 68 5-36 4-45 4-87 4-38 4 90 5-98 4-69 4 46 4 83 8-11 5 63 4-67 4 107 4-83 4 74 4-28 5 24 4-116 4 22 4 145 4-42 9-102 4 5 4 87 4-21 4-9 4-18 9-36 4 25 4 25 4 63 4 30 5-66 4 58 4-40 4 7 4-12 13 60 12-20 5-6 4-1 4 18 4-43 4 11 4-40 5 29 4 58 4 4 4 28 4-9 4 0 5 18 4-29 8-25"/>
<path style="marker:url(#m6)" d="M174 585l4 27 5 51 8 3 4-85 4 46 5-16 4 44 4-13 4-23 4 94 4-115 5 5 4 43 4 9 4-43 4-40 4 23 5 24 4 51 4-33 4 16 4 80 4-74 5 38 4-11 4 20 4 15 4-88 4 74 5 1 4 19 8 28 4-56 4-33 9-132 4 73 4 21 4 128 4-8 5-78 4-83 4 104 4 70 4-160 5 16 4-70 4 60 4 71 4-136 4 133 5 9 4 82 4-107 4-225 4 178 4-37 5 136 4-84 4-48 4 20 4 41 4 11 5 34 4 79 4-55 8-56 4-5 5-76 4 37 4-10 4-69 4 107 4-135 5 103 4 20 4-21 4 100 4-12 5-132 4-13 4 73 4-47 4-10 4 21 5 66 4-1 4-37 4-6 8 16 5-28 4 17 4 0 4 24 4-13 4-29 5 22 4-39 4 34 4 23 4-80 4 43 5 13 4-33 4 60 8-10 4-20 5 28 4 2 4 8 8-18 5 45 4-7 4-65 4 76 4-134 4 175 5-103 4 71 4 5 4-66 4 22 9 10 4-123 4 49 4-92 4-20 4 7 5 71 4 31 4-53 4-46 4-11 4-2 5 6 4 7 4 68 4 22 4 29 4-26 5-4 4 72 4-86 4 201 4-115 4 43 9-102 4 87 4 54 4-18 5-90 4 35 4 54 4-49 4-41 4-48 5 190 4-123 4 25 4-1 4 15 4 38 5-109 4 116 4-53 4 47 4-96 4-22 5 17 4-38 4 5 4 1 4 22 4-56 5 28 4 22 4 26 4 22 4-7 4 9 5-17 4-29 4-24 4 50 4 88 5-73 4 19 4-72 4-22 4 52 4 2 5 60 4-50 4 48 4-1 4-5 4-17 5-2 4 41 4-94 4 32 4-39 4 44 5 3 8 76 4-48 4 24 4-25 5-50 4-30 4 64 4-46 4-90 4 69 5-68 4-46 4 21 4 32 4 31 5-50 4 94 4-62 4-64 4 37 4-23 9 34 4-17 4 43 4-7 9-44 4 137 4-130 4-71 4 11 4 106 5 51 4 71 4 1 4-75 4 77 4-60 5-47 4 45 4-19 4-45 4 55 4 62 5-91 4 82 4-86 4-63 4 54 5-4 4 51 8-171 4 28 4-32 5 64 8 30 4 28 4 1 4 17 5-25 4-22 4-13 4 3 4 24 4-83 5 47 4-32 4 65 4 8 4 17 4-4 5-27 4 61 4 6 4 7 4-75 4 103 5-21 4 74 4-86 4-11 4-6 4 23 5 79 4-15 4-86 4 42 4-10 5 16 4 19 4 46 4-69 4 54 4 55 9-60 4-34 4 68 8-99 5 18 4-6 4 42 4-141 4 129 4 0 5-190 4-12 4-10 4 143 4-115 4 163 5-36 4 10 4-177 4 150 4-44 9 213 4-144 4-6 4 89 4-64 5 65 4-98 4 145 4-205 4 15 4 36 5-28 4-28 4 42 4 50 4-106 4 89 5-18 4-1 4-5 4 54 4 13 4-136 5-38 4-2 4-16 4 65 4 13 4 9 5 29 4-23 4-61 4 8 4 42 4-42 5 33 4-51 4 66 4 57 4 26 5-61 4 4 4 57 4-35 4 27 4-42 5 108 4-11 4 63 4-17 4-19 4 57 5-24 4 5 4-58 4 51 4 31 4-43 9-8 4 61 4 16 4-149 4 83 5-5 4 43 8-66 4 45 4-40 5-14 4 31 4 0 4-124 8 51 5-96 4 20 4-154 4 74 4-61 5 79 4 100 4-43 4 131 4-9 4 4 5-66 4 54 4 62 4-191 4 135 4-222 5 124 4 234 4-65 4-77 4 61 4-7 5-79 4-49 4-47 4 60 4 50 4 8 13-40 4-10 4 16 4 14 5-34 4 23 4-78 4 57 4-33 5-29 4 60 8 44 8 10 5-3 4-43 4 22 4-39 4 37 4-40 5-63 4 52 4-58 4 115 4-41 4-29 5 88 4 30 4-38 4 26 4-34 9 85 4-53 8 54 4-11 4 43 5-9 4-17 4-35 4 4 4 5 5-11 4 32 4-115 4 114 4-44 4-2 5 9 4-48 4-63 4-18 4 21 4 63 5 20 4-44 4 33 4 1 4-100 4 6 5 43 4 45 4 21 4 22 4 64 4-4 5-89 4-54 4-10 4 104 4-127 4-13 5 1 4 63 4-105 4 110 8 4 5 83 4-68 8 68 4-4 5-116 4 36 8 45 4-19 4-79 5 5 4 60 4-17 4-40 4 5 4 15 5-16 4 11 4-29 4 81 4 38 4-29 5 4 4-8 4 20 4-12 4 46 4 35 5-42 4 27 4-87 4-37 4 27 4 26 5 15 8-12 4-17 4 12 5 75 4 22 4 0 4-12 4-98 4-2 5-3 4 0 4-41"/>
<path style="marker:url(#m17)" d="M175 573l4-15 4 59 4-73 4 94 5-66 4 27 4-7 4 51 4-23 4-2 5 72 8-90 4-2 4 53 5-46 4-42 4 60 4-30 4 31 4 18 9 69 4-62 4 44 4-14 4-3 5 16 4-38 4 1 4 8 4 33 9 25 4-82 4-12 4-16 4-159 4 22 5 82 4 99 4-6 4-222 4 117 4-10 5-73 4 20 4 7 4-35 4-159 5 6 4 118 4-136 4 205 4 38 4-128 5-93 4 118 4-45 4-91 4 176 4-155 5 158 4-13 4 42 4 27 4-141 4 16 5 137 4-87 4-104 4 57 4-70 4 73 5 67 4-48 4-45 8 180 4-6 5 84 4-43 4-89 4-20 4 90 5-26 4 24 4-55 4 123 4-23 9-30 4-29 4 58 4-32 4 12 9 22 4 1 4-19 4 26 4-22 4-8 5 35 4-59 4 16 4-2 4-22 4 11 5 10 4 33 4-15 4 7 4 20 4-5 5 9 4-56 4 77 4-1 4-110 4 66 5-86 12 142 4-20 5-36 4 21 4-60 4 0 4-104 4-19 5-9 8-116 4 135 4-30 9-149 4 84 4-90 4 99 4 2 4-18 5 1 4-13 4-84 4 86 4-24 4 116 5-100 4 138 4-33 4-160 4 63 4-43 5 192 4 30 4-82 4-26 4 90 5-29 4 58 4-59 4 141 4-89 4 30 5-44 4 18 4 22 4-33 4 120 4-75 5 102 4-95 4-11 4-21 4 2 4-23 5 31 4 24 4-48 4 37 4 40 4 8 5 50 4-36 4-3 4 22 4-62 4-10 5 48 4 82 4-61 8-76 5-25 4 81 4-10 4 83 4-65 4 32 5 4 4 5 4-3 4-50 4 79 4-79 9-39 4 34 4 18 4-9 4 91 5-69 4 21 4-35 4-17 4-30 4 46 5-116 4-58 4 32 4-69 4 2 4-52 5 38 4 76 8-3 4-23 4-91 5 24 4-52 4 92 4-138 4 56 5 78 4-102 4-35 4-76 4 170 4-25 5-78 4 11 4 0 4 176 4-21 9-138 4 154 4 28 4-35 4 37 4-60 5 21 4 19 4 15 4 11 4-11 4 38 5-34 4-33 4 55 4 64 4-121 4-34 5 35 4-30 4 43 4 5 4 23 5 53 4-8 4 47 4-46 4-38 4 2 5 26 4-13 4-47 4 29 4-6 4 59 5-24 4 69 4-43 4-19 4 42 4 0 5 17 4-49 4 88 4-12 4 74 4-70 5-30 4-16 4-4 8 94 9-49 4-38 4 2 4 31 4 83 5-149 4 134 4 51 12-152 5 96 4-71 4-29 4 22 8-100 5-113 4 62 4-71 4-23 4 21 4-3 5 49 4-36 8 11 4-60 4-16 5 138 4-114 4 110 8-31 4 42 5 0 4 11 4 86 8 13 5-176 4 12 4 42 4-86 4 19 9 149 8-5 4-12 4-42 4 22 5 12 4-23 4-37 8 5 4-18 5 87 4-12 4 7 4 18 4 11 13-47 4 3 4 33 4-36 4 74 5 46 4-19 4 5 4-16 4 41 4-74 5 65 4 29 4 43 4 11 4 43 5-31 8 29 4-43 4 23 4 3 5 19 4 19 4-37 4 31 4-49 4 49 5 26 4-136 4 69 4-10 4 45 4 17 9-31 4-7 4-62 4 45 4-34 5-155 8 77 4-97 4-91 4-23 5-62 4 53 4 21 8 58 5 60 4 20 4-1 4-27 4 0 4 93 5-123 4 88 4-236 8 91 4 174 5-74 4 34 8-33 4-97 4 10 5 43 4 62 4 49 4 64 4 2 4-62 5-5 4-11 4 44 4-33 4 27 4-77 5 53 4-28 4-4 4 40 4-33 5 96 4-20 4 25 4 11 4-59 4 51 5-49 4 30 4-37 8-16 4-24 5 91 4-59 4-22 8 106 4-32 5 36 4-43 4-18 4 115 4-48 4 70 5-56 4 4 4 55 4-33 4 11 4-59 5 7 4 45 8 27 4-139 4 67 5-30 4 64 4-6 8-115 5-13 4 28 4 17 4 33 4-57 4 24 5-4 4-100 4 12 4 17 4 71 4 18 5 10 4 14 4-32 4-44 4-75 4-40 5 85 4-141 8 22 4 52 4-121 5 146 4 28 4-21 4 66 4-66 4 68 5 24 4-12 4-41 4 12 4 60 5-35 4-20 4-23 4-9 4 28 4 21 5-31 4-13 4 50 4-37 4 35 4-34 5 81 4 39 4-40 4-3 4 7 9-5 4 66 4 12 4-12 4 21 4-111 9 27 8 49 4-47 4 17 5-32 4 2 4 86 4 1 4 28 5-15 8-67 4-21 8-43"/>
<path style="marker:url(#m8)" d="M174 589l5 37 12 56 4-82 4 73 5-54 4 52 4 30 4-41 4 92 4-113 5 45 4-10 4 21 4-87 4-7 4 35 5 10 4 28 4 0 4 15 4 74 4-51 5 64 4-34 4 20 4-6 4-72 5 71 4-31 4 35 4 52 8-54 5-55 4 25 4-121 4 122 4-2 4 66 5-61 4 0 4-124 4 72 4 89 9-132 8 37 4-23 4-116 4 169 5-12 4 68 4-105 4-235 4 192 4-64 5 139 4-48 8-55 4 23 5 35 4 57 4 41 4-12 4 19 4-130 5 30 4-69 4 52 4-31 4-48 4 140 9-56 4-1 4-14 4 106 4-6 5-131 4 49 4 11 4-75 4 33 4 34 5 20 4 5 4-30 4-25 4-56 4 87 5 11 4-37 4 18 4 10 4 10 5-34 4 47 4-35 4-2 4 46 4-129 5 96 4-39 4 52 4 60 4-86 4 41 5-47 4 110 4 2 4 2 4 22 4-58 5-4 4 40 4-30 8-102 4 167 5-131 4 136 4-7 4-81 4 32 4-26 5-29 8-72 4-48 4-28 5 38 4 15 4 34 4-75 4-44 4-2 5 12 4-27 4 39 4 30 4-4 4 92 5-39 8 137 8 2 4-75 5 9 4-24 4-91 4 94 8 100 5-50 4-45 4 60 4-48 8-62 5 143 4-73 12 17 4 7 5-73 4 96 4-27 4 46 4-121 5-1 4 18 4-50 4 53 4-29 4 47 5-101 4 26 4 39 4 45 4 6 4-8 5 62 4-52 4-49 8 22 4 105 9-21 4-101 4-9 4 12 4 2 5 130 4-74 4 26 4-1 4 37 4 6 5-8 4 17 4-19 4 3 4-111 5 54 4 68 4-75 4 115 4-29 4-54 5 45 4-63 4 15 4-25 4-11 4-135 5 120 4-88 4-77 8 55 4 77 5-116 4 121 4-78 4-37 4-33 4 0 5 94 8-95 4 42 4 23 4 15 5-51 4 151 4-141 4-46 4-33 5 134 4 47 4 73 4-54 4-74 4 167 5-120 4-52 4 60 4-23 4-58 4 74 5 88 4-83 8-43 4-17 4 26 5-20 4 97 4-145 4-63 4 10 4-28 5 72 4-31 4 55 4 10 4 34 4 31 5-63 4 31 4-46 4 7 4 3 4-32 5 14 4 14 4 41 4-7 4 49 5-54 4 13 4 39 4 40 4-33 4-55 5 130 4-70 4 109 4-64 4-44 4 38 5 9 4 51 4 19 4-50 4 16 4-24 5 58 4 64 4-36 4-16 4-2 4 52 5-122 4 73 4-1 4-20 4-102 4 8 13 75 8-47 5-36 4-146 4 7 4-32 4 139 4-130 5 171 4-41 4-50 4-118 4 148 4-65 5 151 4 58 4-142 4 17 4 101 4-100 5 71 12-164 4 59 4 16 5-32 4-32 4 33 4 100 4-145 4 91 5 11 4 25 4-5 4 72 4-103 5-93 4-15 4-21 4-25 4 128 4-9 5 26 4-7 4-34 4-27 4 37 4-54 5-8 4 56 4-26 4 40 8 80 5 4 4-77 4 81 4-27 4 55 4-10 5 63 4 54 4-12 4-4 4 13 4 12 5-37 8 42 4-7 4 28 5-70 4 37 4-46 4 54 4 33 4-76 5 24 4-5 4 14 4 17 4-69 4 88 5-59 8-9 4 38 4-143 4-18 5 40 4-113 12-54 4-40 5 10 4 168 4-70 8 67 4 60 9-25 4 75 4-186 4 128 4-222 5 82 4 243 4-44 4-65 4 40 5 27 4-94 4-22 4-107 4 96 4 6 5 30 4 79 8-100 8-5 5 41 4-39 4 31 4-100 4 61 4-48 5-1 4 25 4-32 4 95 4-16 4 30 5 4 4-60 4 61 4-50 4 23 4-48 9-10 4-11 4 79 4-51 5 42 4 33 4 4 4 8 4 37 4-77 9 126 4-56 4 107 4-64 4-40 5 98 4-43 4 12 4-85 4 28 4 67 5-44 4 15 4-49 4 42 4-43 4 31 5 20 4-104 4 45 4-23 4 27 4-30 9-1 4-36 8-106 5 20 8 91 8 32 4 65 5-24 4-45 4-67 4-7 4 63 4-86 5-46 12-28 4 132 4 13 5-40 8 26 4 87 4-15 4-12 5-102 4 15 4 143 4-49 4-21 4-86 5-15 4 85 4-9 4-36 4-18 4 18 5-43 4 31 4-11 4 73 4 41 5-51 4 1 4-16 4 57 4-64 4 81 5 3 4-18 4 32 4-109 4 16 4 11 5 46 4 2 4-34 4-12 4-17 9 92 4 12 4 34 4-10 4-29 4-33 5-23 4-26 4-16"/>
<path style="marker:url(#m1)" d="M174 616l4 39 4 44 5-109 4 113 4-72 4 142 4-152 4 71 5 21 4-16 4 81 8-57 4-47 5 37 4-90 4-34 4 34 4 27 5 21 4-3 4-13 4 88 4-80 4 63 5-38 8 48 4-72 4 43 4 30 9 81 4-48 4-55 4-35 4 66 5-172 8 130 4 93 4-42 4-21 5-100 4 55 4 37 4-140 4 59 4-83 5 72 4-9 4-89 4 146 4-45 5 90 4-173 4-167 4 165 4-33 4 104 5-12 4-6 4-24 4 9 4 34 4 47 5 57 4-119 4 78 8-68 9 23 4-39 4-58 4 79 4-93 4 94 5 15 4-29 4 126 4 9 4-153 4 87 5-46 4-54 4 19 4 57 4 38 4-22 5-30 4 7 4-65 8 115 9-23 4-2 4-12 4-57 4 93 5-19 4-47 4 34 4-74 4 40 4-10 5-29 4 77 8-12 4-35 4 31 9 28 4 24 4-99 4 58 4 40 5-33 4-3 4-69 4 150 4-121 4 113 5-9 4-68 4 70 4-72 4-5 5-46 4-12 4-103 4 19 4 51 4-7 5 59 4-103 4-29 4-23 4 14 4-4 5 4 4 0 8 95 4-103 4 77 5 63 4-100 4 164 8-67 4-70 5 2 4 86 4 54 4 24 4-48 4-40 5-7 4 54 4-56 4-46 4 158 5-72 4 27 4-9 8 51 4-78 5 66 4-17 12-56 4 37 5-77 8 3 4 70 4-89 4 33 5 58 4 30 4-8 4 0 4 60 4-52 5-40 4 27 4-16 4 82 4-33 4-6 5-74 4-53 4 57 4-14 4 119 4-86 5 39 4 1 4 11 4 5 4-78 5 93 4-117 4 66 4-86 8 76 5-11 8 24 4 28 4-14 4-33 5-15 4 38 4-88 4-60 4 127 4-80 5-86 4 8 4 38 4 39 4-103 4 88 5-19 4-100 4 12 4 6 4 84 4-66 5-25 4 46 8-15 4 7 5 34 4-70 4-15 4-89 4 156 4 49 5 85 4 21 4-120 4 161 4-124 4-33 5 29 4-39 4-16 4 52 4 47 4-24 5 51 4-86 4-3 4 27 4-21 4 81 5-101 4-87 4 32 12-12 5 64 4 44 4 25 4 4 9-14 4-68 4 25 4-7 4 16 13 17 4-28 4 58 4-16 4-32 5 39 4 8 4-14 4-58 4 102 4-5 5 46 4-49 4-54 4 23 4 12 4 52 5-5 4-2 4-6 4-7 4 22 4 9 5 49 4-13 4 9 4 55 4-118 5 45 4 36 4-22 4-83 4-9 4-12 5 10 4 75 4-154 4 124 4-84 4-123 5 3 4-24 4 160 4-153 4 98 4 22 9-152 8 67 4 105 4 126 5-154 4-2 4 23 4-21 4 89 4-59 5 114 8-173 4-11 4-14 4 0 5 36 4 72 4-121 4 103 4-18 9 5 4 159 4-106 4-113 4-29 9-28 4 92 4 19 4 40 4-5 5-49 4-46 4 6 4 3 4-9 4 35 5 18 8 74 8 11 4-67 5 80 4-86 4 78 4-1 4 77 4-18 5 20 8-4 4 19 4-19 5-5 4-25 8 44 4-5 4 14 5-36 4 58 4 28 4-143 4 63 4-9 5 47 4 5 4-62 4 89 4-66 4-11 5 13 4 24 4-151 4 1 4 65 4-125 5 45 4-160 4 44 4-36 4 28 4 76 5-30 4 130 4-53 4 35 4-70 5 20 4 87 4-159 4 172 4-270 4 108 5 185 4-12 4-40 4-13 4 51 4-99 5-93 8 79 4 65 4 11 4 59 5-18 4-60 4-26 4 21 4 19 4-32 5 24 4-69 4 21 4 37 4-54 4 27 5-12 4 129 4-28 4 5 4 15 4-84 5 59 4-50 4 59 4-53 4-46 5 32 4-35 4 95 4-73 4 32 4 51 5 13 4-11 4 42 4-93 4 5 4 108 5-45 4 68 4-42 4-23 4 70 4-30 5 7 4-56 4 17 4-15 4-12 4 71 5-112 8 29 4 35 4 9 9-71 4-16 4 32 4 11 4-1 5-9 4-23 4 34 4-131 4 13 4 62 5 20 4 32 4 14 8 38 4-74 5-104 4 35 4 106 4-192 4-17 4 60 5 67 8-41 4 76 4-56 4 108 5-70 4 104 4-71 4 1 4-78 4 19 9 55 4 5 4-73 4-30 5 100 4-36 4 20 8-5 4-46 5 28 4-24 4 94 4 41 4-65 4 45 5-19 4 26 4-60 4 69 4 32 4-22 5 22 4-103 4 8 4 31 4 14 4 2 5-52 8 6 4 7 4 78 4 19 5 7 4 0 4-84 8-11 4-20 5-47"/>
<path style="marker:url(#m21)" d="M175 586l4 13 4 59 4-101 5 89 8-17 4-28 4 54 4-22 5 20 4 54 4-112 4 63 4 0 5 12 4-63 4-37 4 48 4-13 4 51 5-45 4 44 4 96 4-72 4 21 4-23 5 15 4 11 4-65 4 65 4-24 4 32 5 63 4-36 8-88 4-24 4-131 5 76 4 26 4 119 4-50 4-114 4-21 5 56 4-35 4-59 4 12 4-41 9-86 4 42 4-29 4 150 4 64 5-172 4-91 4 97 4-64 4 14 4 138 5-109 4 75 4 13 4 27 4 12 4-99 5 38 4 141 4-155 4-47 4 27 4 17 5-14 4 18 4-8 4-31 4 38 4 94 5-16 4 101 4-30 4-71 4-9 5 52 4-37 4 40 4-37 4 68 4 17 5-25 4-38 4-24 4 72 4-38 4 44 5-15 4 28 4-43 4-13 4 27 4 6 5-21 8-34 4 27 4 11 4-19 5 43 4-35 4 43 4-46 4 56 4-12 5 8 4-3 4-34 4 61 4 25 4-71 5 21 4-101 4 198 4-140 4 83 5-8 4-80 4 52 4-40 4-3 4-141 5 17 4-32 4-103 4 40 8 81 5-93 4 3 4 2 4-70 4 64 4 19 5-2 4 42 4-34 4-27 4 15 4 41 5 41 4-3 4 83 4-26 4-207 4 76 5-28 4 156 4 73 4-89 4-53 5 98 4-35 4 60 4-89 4 173 4-106 9-16 4 32 4 23 4-23 4 84 9 18 4-80 4-3 4-5 4-32 5 11 4 15 4 33 4-53 4 34 9 48 4 54 4-67 4 56 8-68 5 13 4 27 4 62 4-59 4 34 5-100 8 41 4-6 4 95 9-39 4 22 4-39 4-3 4 3 4 13 5-71 4 16 4-14 8 11 4 25 5 82 4-62 4 13 4-4 4-65 4-32 5 71 4-122 4-22 4 76 4-128 4-20 5-2 4 13 4 46 4-72 4 90 5-39 4-50 8-54 4 69 4-103 5 37 4 85 4-60 4-103 4 60 4 45 5-24 4-110 4 29 4 92 4 109 4 30 5-35 4-77 4 130 4-33 4-9 4 21 9-43 4 47 4-30 4 38 4 4 5 7 4-15 4-24 4 6 4 99 4-153 5-17 4 38 4-47 4 60 4-8 5 23 4 40 4-1 4 7 8-1 5-20 8 12 4-45 4-3 4 14 5 36 4 9 4 52 4-54 4-29 4 36 5 42 4-10 4-75 4 107 4 14 4 32 5-45 8-26 8 78 4-23 5-65 4-7 4-1 8 56 5 46 4-105 4 91 8-32 4-13 5 9 4 56 4-72 4-11 4 12 4-84 9-117 4 57 4-6 8-83 5 17 4 44 4-46 4-50 4 76 4-61 5-20 4 135 4-127 4 117 4 19 4-32 5 29 4-54 4 60 4 98 4-85 5 101 4-167 4 2 4 9 4-68 4 28 9 149 4-93 4 105 4-42 4-59 5 81 4-46 4-3 4-63 4-15 4 45 5-12 4 61 4 10 4 11 4-2 4 0 5-39 4 24 8-7 4 58 4-114 5 119 4 31 4 36 4-85 4 22 4 62 5-60 4 54 4-41 4 93 4-10 5 48 4 12 4-40 4 36 4-6 4 29 5-26 4 8 4 21 4-30 4 24 4-29 5 40 4 25 4-162 4 113 4-52 4 73 5 9 4-86 8 3 4-21 4 52 5-42 4-103 4-59 4 56 8-132 5-72 4-8 4 14 4 60 4 25 5 4 4 70 4-9 4 12 4-14 4 23 5 46 4-100 8-144 4 87 4-9 5 210 4-94 4 46 4-29 4-13 4-90 5-11 4 90 4 29 4 37 8 46 5-48 4 15 4-40 4 30 4-4 4 44 5-71 4 35 4-36 4-17 9 29 8 67 4 34 4 1 9-17 12-21 4-81 4 14 5-9 4 108 4-56 4-22 4 53 9-5 4 36 4-29 4-4 4 100 9 31 4-49 4-17 4 56 4-27 4-8 5-45 4 35 4 3 4-7 4 31 5-129 4 110 4-41 4 3 4 26 4-61 9-74 4 15 4 34 4 11 4-3 5-9 8-95 4 24 4 4 4 23 5 65 4-2 4 33 4-39 4-34 4-82 5-53 4 55 4-152 4 60 4 8 4 43 5-92 4 127 8-5 4 95 4-97 5 94 4 16 4 5 4-60 4 22 5 66 4-12 4-69 4-11 4-11 4 64 5-4 4-20 4-10 4 18 4-7 4 15 5-37 4 106 4 6 4-30 4 9 4 2 9 0 4 72 4 28 4-35 4 14 5-96 4-18 4 27 4 47 4 7 4-35 5 0 4-21 4 5 4 71 4 27 5 20 4-47 4-39 4-12 4-18 4 7 5-18"/>
<path style="marker:url(#m13)" d="M175 634l4 115 4 14 4-154 4 174 4-130 9 43 4 18 4 23 4 15 4 28 5-85 4 60 4-46 4 90 4-100 5-34 4 88 4-13 4 56 4-54 4-13 5 81 4-29 4 16 4-16 4 23 4-8 5-71 4 40 12 59 4-17 9-64 4 51 4-106 4 100 4-34 5 67 4-38 4-20 4-141 4 103 4 99 5-221 4 69 4-138 4 124 9-126 4 222 4-71 4 68 4-189 4-180 5 146 4 0 4 139 4-70 4 10 4-31 5-3 4 55 4 35 4 65 4-66 4 60 5-115 8-62 4 85 4-3 4-94 5 140 4-108 4 142 4-62 4-20 9 160 4-140 4 73 4-26 4-5 5 21 4-10 4 19 4 31 4-91 4 24 9 30 4 21 4-47 4 18 4-9 5 5 4-5 4 53 4 24 4-97 4 66 5-76 4 27 4 29 4 26 4 65 4-54 5-21 4-21 4 74 4-33 4 41 4 18 5-53 8 33 4-23 4 1 4-140 9 99 4 78 4 2 4-85 5 62 4-66 4 13 4-35 4-44 4-28 5-44 4-11 4 17 4 43 4-106 4-12 5-14 4-14 4-20 4 4 4 77 4 7 5 25 4-79 4 18 4 102 4-87 4 102 5-11 4 3 4-21 4-33 4 22 4 84 5 16 4-56 4-10 4 24 4-13 5 3 8 82 4-76 4 46 4 45 5 33 8-113 4 109 4-47 9-41 4-51 4 104 4-114 4 97 4-69 5 115 4-132 4 52 4 42 4 5 4 10 5-13 4 62 4-82 4-5 4 111 4-97 5 48 4-32 4 43 4-102 4-14 5 38 4 4 4 108 8-29 4-4 5 20 8-5 4 20 4-51 4 54 5-106 4 10 4 88 4-55 4 63 4-39 5 2 4 30 4-77 4 2 4 36 4-53 5-87 4 120 4-48 4-160 4-2 9 93 4-87 4 133 4-120 4-3 4-52 5-20 4 83 4-75 4 1 4 9 5 27 4 57 4-64 4 22 4-67 4-71 5-28 4 112 4 80 4 49 4-4 4-81 5 157 4-121 4-18 4 76 4-54 9 21 4 85 4-67 4 71 4-95 4 50 9 22 8-61 4-61 4 9 5-61 4 76 4 29 4 79 4 5 5-19 4 10 4-64 4 38 4-63 9 71 4 12 4-70 4 87 4-23 4 8 5 48 4 34 4-30 4-27 4 24 4 15 5-71 8 100 4 30 4-56 4-53 5 67 4-7 4 26 4 11 8 28 5-50 4 30 4 17 13-11 4 23 4-116 4 92 4 12 4 2 5-119 4-29 4 7 4 2 4 35 9-17 4-20 4-155 4 10 4-81 4 176 5-134 4 121 4-3 4-62 4-118 4 137 5-60 4 92 4 118 4-133 4-12 4 112 5-102 4 100 8 39 4-193 5 51 4 9 4-52 4 19 4 15 4 99 5-139 4 124 4 3 4-33 4 85 4 22 5-15 4-119 8-56 4-13 4 200 5-113 4 61 4 18 4 23 4-116 4 163 5-22 4-54 4-43 4 88 4-70 4 67 5 12 4 64 4-137 4 70 4-29 4 50 9 79 4-5 4 19 4-7 5 1 4 16 4-35 4-9 4 43 4-17 9-5 4 3 4-35 4 10 4 50 5-90 4 60 4-17 8 36 4-74 5 59 4 14 4-55 4 13 4 45 4-124 5-76 4 105 4-163 4 98 4-208 4 32 5-17 4 11 4 163 4-123 4 149 5-64 4 39 4-94 4 58 4 72 4-192 5 157 4-258 4 97 4 235 4-20 9-38 4 14 4-94 4-16 4-84 4 101 5 70 4-15 4 88 4 14 4-108 4-12 5 66 4 6 4-25 4 9 4-75 4 112 5 2 4-97 4 26 4-3 4 126 5-46 4-16 4 99 4-146 4 90 4-27 5 19 4 64 4-177 4 28 4 0 4 91 5-74 4 27 4 86 4-55 4 31 4 23 5-102 4 41 8 36 8 19 5-22 4 64 4-9 4 26 4-65 4 7 5 54 4-4 4 3 4-43 4 27 4-60 5 52 4 3 4-42 4 20 4-28 9-20 4-10 4 15 4-35 4 0 5-131 4-7 4 73 8 55 4-7 5 85 4-60 16-33 5-146 4-51 4 75 4 62 4-137 4 106 5 37 4-38 4 135 4-128 4 92 4-14 5-3 4-99 4 47 4 118 4-48 5 33 4-124 4-13 4 127 4-47 4-26 5 1 4 11 4-21 4 22 4 26 4 40 5 39 4-55 4 54 4-42 4 21 4-36 5 81 4 18 4-39 4 29 4-105 4 55 5 1 4 17 4 13 4-43 4-3 4-13 5 14 4 49 4 27 4 22 4 4 5-27 4 21 4-50 4 21 4-41"/>
<path style="marker:url(#m4)" d="M174 601l4 92 5 33 4-141 4 117 4-84 4 101 4-85 5 46 4 22 4-10 4 72 4-111 4 68 5-61 4 11 4-42 4-30 4 47 4-23 5 31 4 3 4 18 4 55 4-87 4 92 5-43 4 53 4-16 8-10 9 4 4 70 8-64 4-16 5 19 4-130 4 135 4-15 4 73 4-46 5-13 4-115 8 147 8-124 5-91 4 101 4-24 4-99 4 212 4-46 5 72 4-116 4-235 4 162 4-43 9 85 4-21 4 6 4 9 4 39 5 5 4 106 4-18 8-126 9-24 4 32 4-20 4-62 4 142 4-152 5 118 4-25 4-17 4 135 4-8 4-120 5 75 4-36 4-92 4 52 4 41 4 21 5 15 4-66 4 6 4-48 4 81 4 23 5-52 4 23 4 15 4-3 4-62 5 92 4-1 4-81 4 38 4-90 4 58 5-28 4 40 4 4 4-36 4 51 4-39 5 61 4-34 4-6 4 33 4-29 4 7 5 27 4-52 4 49 4-95 4 166 4-121 5 78 4 12 4-66 4 53 4-39 4 22 5-39 4-49 4-89 4-14 4 56 4 23 5 22 4-66 4-46 4 5 4 8 5-7 4 2 4 16 4 49 4 18 4-41 5 5 8-8 4 198 4-96 4 32 5-111 4-22 4 60 4 78 4 55 9-65 4 23 4-39 4-8 4-71 4 215 5-141 4 47 4 7 4-23 4 16 9 19 4-16 4 76 4-116 4-36 5 40 4-81 4 105 8-11 4-93 5 24 4 49 4 48 4-12 8 50 5-61 4-31 4 42 4-36 4 101 4-77 5 52 4-97 4-38 4 31 4 13 4 119 5-98 4 47 4-15 4 20 4-42 4-34 5 70 4-48 8-40 4 2 5 11 4 30 4 71 4-54 4 26 4 19 5-52 4-28 4 67 4-63 4-83 4 127 5-111 4-70 4-5 4 53 4 44 4-74 5 113 4-100 4-40 4-17 4-2 4 88 5-69 4 8 8 45 4 35 4-91 5 163 4-164 4-28 4-31 4 151 9 104 4-31 4-79 4 106 4-52 5-80 4 73 4-25 4-44 4 33 9 15 4 20 4-44 4-10 4 10 4 9 5 69 4-110 4-85 4 37 8 30 9 48 4 0 4 15 4 11 4-40 5 26 4-57 8 16 4-7 4-30 5 32 4 70 4-45 4 37 4-39 5-33 4 48 4 32 4 9 4-81 4 110 5-30 4 60 4-71 4-7 4 19 4-26 5 95 4-21 4-89 4 82 8-44 5 107 4 30 4-76 4 60 4 39 4-106 5 51 4-18 4 35 4-104 4-2 4 0 5 11 4 46 4-141 4 130 4-55 5-143 4-17 4-5 4 157 4-168 4 184 5-31 4-72 4-112 4 137 4-3 4 81 5 112 4-161 4-9 4 126 4-124 4 109 5-87 4 115 4-216 4 49 4 47 4-54 5-4 4 43 4 72 4-149 4 132 4-4 5-37 4 10 4 67 4-13 4-135 5-34 4-18 4-15 4 97 4 6 4 94 5-25 4-79 4-39 4 35 4 3 9 10 4-27 4 61 4 30 4 1 4 39 5-79 4 59 4-50 4 45 8 61 5 22 4 43 4-18 4-61 4 90 4-45 5 8 4-8 4 33 4 1 4-40 4 33 5-44 4 54 4 19 4-111 4 36 5 21 4 46 4 10 4-71 4 65 4-15 5-50 4 7 4 79 4-148 4-26 4 67 5-135 4 50 4-182 4 62 4-82 4 80 5 121 4-61 4 149 4-61 4 14 4-69 5 47 4 101 4-184 4 122 4-233 4 117 5 218 4-30 4-73 4 39 4 66 5-139 4-45 4-51 4 83 4 54 4 4 5 64 4 2 4-107 4-7 4 34 4 24 5-46 4 6 4-83 4 68 4-46 4 9 5 24 4-31 4 112 4-4 4-11 4 27 5-72 4 26 4-33 4 36 8-97 5 38 4-29 4 105 4-67 4-8 5 69 4 13 4-11 4 35 4-78 4 16 5 115 4-85 4 80 4-50 4 9 4 49 5-9 4-22 4-35 4 25 4-16 4-15 9-47 4 95 4-62 4 41 4 0 5-58 4-39 4-10 4 48 8 28 5-2 4-16 4-3 4-116 4 32 5 44 4 45 4 11 4 15 4 72 4-30 5-43 4-101 4 10 4 54 8-134 5 20 4 84 8-14 4 54 4-56 5 99 4-74 4 93 8-30 4-85 5 10 4 121 4-78 4-15 4-67 4-1 9 41 4-16 4 10 8-24 5 30 4-13 4 67 4 22 4-22 5 14 4-14 4 11 4-26 4 72 4 32 5-41 4 8 4-87 4-4 4 29 9 34 4-33 4-6 4-20 4 17 4 64 5 34 4 16 4-41 4-66 4 18 4-34 5-29 4-22"/>
<path style="marker:url(#m18)" d="M175 574l4-29 4 38 9 59 4-111 4 60 4-1 4 50 4-56 5 37 4 67 4-133 4-2 4 13 9 41 4-52 4 55 4-20 4 31 4-15 5 32 4 81 4-68 4 49 4-63 4 29 5 7 4-31 4 16 4-34 4 31 4 86 5-29 4-63 4-56 8-156 5 74 4 30 4 91 4-3 4-183 4 69 5-7 4-29 4-1 4-19 4-42 4-103 5-19 4 115 4-124 4 193 4 74 4-216 9 36 4-26 4-121 4 235 4-156 5 159 4-19 4 28 4 39 4-182 4-35 5 233 4-85 4-104 4 52 4-61 4 56 5 56 4 5 4-82 4 50 4 111 5 2 4 92 4-62 4-74 4-10 4 89 5-70 4 37 4-28 4 85 4 21 4-33 5-24 4 1 4 52 4-54 4 42 4 24 5 5 4-14 4-29 4 12 4-32 4 31 5 12 4-46 4 15 4 20 4-34 4 58 5-34 4 57 4-70 4-18 9 69 4 29 4-91 4 102 4 10 4-109 5 41 8 56 4-84 4 62 4 9 5-66 4 19 8-26 8-160 5-43 4-96 4 20 4 144 4-38 4-83 5-44 4 83 8 15 4 9 4-52 5 20 4 4 4-83 4 50 4-36 5 155 4-31 4 83 4-23 4-209 4 53 5 42 4 110 4 49 4-67 4-72 4 92 9 74 4-81 4 159 4-110 4 92 5-43 4-51 4 61 4-53 4 96 4-40 5 77 4-91 4 2 4-20 4-2 4-8 5 35 4 5 4-69 4 79 4-4 4 31 5 24 4-18 4 21 4-9 4-50 5-8 4 78 4 42 4-49 4 34 4-92 5-17 4 78 4-33 4 79 4-48 4 39 5-36 4 24 4-3 4-58 4 95 4-135 5 30 4 11 4 8 4-7 4-14 4 115 5-50 4-9 4-18 8-75 4 67 5-108 4-39 4-28 4-30 4-12 5-21 4-26 4 108 4-71 4 39 4-10 5-73 4 67 4-122 4 87 4-147 4 125 5 35 4-97 4-30 4-57 4 105 4 39 5-115 4 58 4-37 4 196 4-58 4-8 5-79 4 128 4 46 4-22 4 17 4-80 5 37 4 41 8 25 4-13 9-5 4-36 4 46 4 57 9-171 4 89 8 1 4-3 4 27 5 22 4 36 4-14 4 4 4-48 4 15 5-5 4 9 4-92 4 55 4-21 4 64 5 5 4 45 4 15 4-68 4 57 4 14 5 6 4-67 4 86 4-6 4 40 5-66 4 1 4-3 4-14 4 81 4 21 5-114 4 18 4-3 8 10 4 50 5-103 4 101 4 73 4-108 4 14 4-30 5 96 8-74 4 3 4-104 4-17 5-106 4 13 4-79 4 14 4 35 4 20 5 10 8-109 4 108 4-83 4 4 5 124 4-113 4 124 4-39 4 1 5 69 4-52 4 60 4 91 4-73 4 50 5-195 4 15 4 81 4-63 4-28 4 61 5 122 4-47 4 29 4-22 4-63 4 18 5-29 4 64 4-60 4-12 4 38 4-16 5 47 4 0 8 41 4 36 4-97 5 16 8 25 4 39 4-50 9 112 4 3 8-43 4 61 5-74 4 58 4-24 8 74 4 62 5 2 4-54 4 58 4-27 4 31 4-35 5 34 4 25 8-6 4-49 4 48 5 33 4-169 4 89 4-12 4 65 4-12 5-67 12-16 4 33 5-31 4-111 4-64 4 84 4-87 4-87 5-31 4-31 4 63 4 21 4 46 4-25 5 60 4 19 8-15 4 20 4 53 5-104 4 90 4-218 4 54 4 10 4 196 5-90 4 66 4-36 4-22 4-90 4-13 5 62 4 20 4 68 4 58 4 7 4-49 5 9 4-27 4 22 4 15 4 16 5-73 4 48 4-55 4-28 4 83 4-23 5 18 4 31 4 42 4 2 4-54 4 30 5-29 4 35 4-50 4-54 4 26 9 80 4-62 4 15 4 31 8 14 5 26 4-20 8 71 4-41 4 84 5-45 4-15 4 63 4-18 4-6 5-50 4 24 4-11 4 2 4 41 4-139 5 103 4-30 8 0 4-14 4-115 5-14 4 24 4 39 4 21 4-31 4 29 5 12 4-106 4 19 4 8 4 1 4 78 5-6 4 42 4-15 4-68 4-58 4-63 5 38 4-122 4 24 4 21 4 79 5-172 8 246 4-96 4 125 4-101 5 35 4 49 4 9 4-24 4 18 9 11 4-17 4-27 4-6 4 20 4 29 5-32 4 0 4 29 4-1 4 6 4-18 5 70 4 46 4-47 4-5 4 3 9 1 4 54 4 21 4-12 4 23 4-107 5 0 4 13 4 42 4 3 4-15 5-7 4-23 4 12 4 68 4 29 4 11 5-21 4-91 4 13 4-11 4-31 4 23"/>
<path style="marker:url(#m9)" d="M174 615l5 88 4 39 4-154 4 118 4-81 4 126 5-93 4 24 4 30 4 35 4 38 4-131 5 98 4-47 4 58 8-114 5 41 4-2 4 56 4-18 4-13 4 61 5-29 4 46 4-20 4 48 4-43 4-88 5 84 4-22 8 47 4-7 4-32 5-23 4 36 4-131 12 153 5-2 4 5 4-163 4 52 4 130 4-215 5 89 4-127 8 101 4-105 5 183 4-47 4 74 4-92 8-107 5-23 4 129 8-44 4-45 4 39 5 39 4-1 8 28 4 46 4-82 5 33 4-85 4 24 4-10 4-72 4 160 5-170 4 145 4-47 4 13 4 101 4-1 5-124 4 94 4-63 4-22 4 10 4 24 5 28 4 26 4-66 4 11 4-44 5 64 4 44 4-73 4 17 4 9 4-16 5-24 4 85 4 8 4-90 4 72 9-33 4-9 4 7 4 78 4-86 4 41 5-3 4 61 4-42 4 46 4 1 4-70 5 29 4 37 4-54 4 1 4-72 4 149 5-93 4 91 4-6 4-86 4 52 5-8 4 15 4-114 4-12 8-106 5 45 4 15 4 41 4-87 4-67 4 50 9-16 4-25 4 78 4-5 4 42 5-39 4 23 4 110 4-146 4 155 4-66 5 55 4-94 4-66 4 92 8 112 5-86 4 17 4 2 4-14 4 3 5-87 4 201 4-114 4 61 4 0 9-29 4-25 4 99 4-53 4 69 4-155 5 8 4 33 4-72 4 98 4-82 4 96 5-106 4 17 4 71 4 3 4 20 4 1 5 47 8-113 4 79 4-58 4 104 5-22 4-19 4-74 4-7 4 9 5 0 4 137 8-46 4 2 4 18 5 0 4-44 4 88 8-28 4-107 5 27 4 66 4-55 4 89 4-64 4 29 5 23 8-107 4 63 4-61 4-110 5 123 4-91 4-116 4 45 4 45 9-80 4 154 4-84 4-53 4-24 4-34 5 108 4-59 4-30 4 42 4-14 5 50 4-58 4 138 4-148 4-48 4-14 5 156 4 20 4 47 4 12 4-80 4 108 5-91 4-47 8 72 8-26 5 120 4-118 4 63 4-68 4 26 4-29 5 40 4 19 4-69 4-96 4 34 4-52 5 47 8 88 4-10 4 47 5 12 4-80 4 46 4-77 4 28 4 9 5 33 4-43 4 16 4 54 4-45 9 60 4-20 4 7 4 46 4 3 4-70 5 101 4-28 4 50 4-48 4-45 9 53 4 81 4-28 4-27 4 22 4-14 5 50 4-4 4 19 8-30 5 45 4-146 4 127 4-8 13-127 4-22 8 78 4-137 4 82 5-25 4-115 4-25 4-35 4 155 4-153 5 145 4-5 4-35 4-112 4 99 4-32 5 108 4 96 4-139 4 8 4 109 4-102 5 91 4-76 4 113 4-189 4 28 4 26 5-15 4-50 4 20 4 99 4-142 5 120 8-6 4 35 4 45 4-7 5-176 4 11 4-28 4-16 4 148 4-37 5 27 4 27 4-32 4-84 4 122 4-83 5 5 4 43 8-6 4 51 4 26 5 56 4-141 4 77 8 4 4 14 5 109 4 0 4-13 4 17 4-18 5 17 4-21 4-4 4 35 4-40 4 57 5-60 4 41 8 3 4 19 4-114 5 65 4-39 4 42 4 43 4-96 4 80 5-19 4-25 4-10 4 46 4-121 4-24 5 41 4-134 4 75 4-181 4 22 4-3 5 2 4 186 4-130 4 219 4-88 5 15 8 2 4 35 8-39 5-265 4 135 4 227 4-87 4-38 4 30 5 21 8-68 4-103 8 132 5-22 4 100 4 5 4-115 4-17 4 21 5 22 4-14 4 19 4-91 8 70 5-59 4 20 4-16 4 156 4-23 5-24 4 56 4-120 4 108 8-30 5-22 4-104 4 52 4-18 4 82 4-75 5 46 4 70 4-28 4 47 4 10 4-99 5 26 4 111 4-65 4 90 4-71 4-13 5 81 4-30 4 6 4-77 8 79 5-21 4 24 4-68 8-37 4 81 5 10 4-68 8-2 4 24 5-11 4-6 4-18 12-149 5 7 4 98 4 40 4-17 4 8 4 37 5 9 4-61 4-93 4 6 4 82 4-115 5-29 4 21 4 68 4-106 4 140 9-39 8-6 8 91 4 6 5-122 4 19 4 146 4-29 4 13 5-139 4-5 4 91 4-45 8 1 5 7 4-41 4 14 4 18 4 59 4 36 5-61 4 74 4-42 4 23 4-46 4 77 5 10 8 1 4-112 4 23 4 41 5-3 4 23 8-35 4-45 4 33 5 55 4 20 4 28 4 6 4-27 5 8 4-51 4 8 4-36"/>
<path style="marker:url(#m2)" d="M174 613l4 87 4 17 5-117 4 105 4-84 4 142 4-105 4 30 5 30 4-5 4 74 8-63 5-39 4 6 8-103 4 65 4-10 5 20 4-20 4 29 4 67 4-74 4 58 5-19 4 37 4-12 4-60 4 58 4-14 5 40 4 52 4-18 4-51 4-19 4 5 5-122 4 167 4-73 4 114 4-44 4-24 5-106 4 39 4 36 4-96 4 30 5-73 8 52 4-89 4 195 4-62 5 68 4-88 4-251 4 176 4-32 4 117 5-38 4-10 4-31 4 22 4 36 4 32 5 95 4-89 4 9 4-111 4 53 4-55 5 27 4 31 4-100 4 129 4-112 4 86 5 20 8 105 4-60 4-75 5 32 4 18 4-75 4 49 4 9 4 16 5 42 4-59 4-18 4-51 4 86 4 61 5-86 4 22 4 0 4-8 4-30 9 89 4-90 8-42 4 54 4-6 5 0 4 21 8 4 4-2 4-19 5 47 4-35 4 41 4-44 4 14 5 44 4-63 4-9 4-24 4 143 4-127 5 119 4-19 4-52 4 38 4-41 4-8 5-101 4 61 4-77 4-34 4 80 4-41 5 41 4-57 8-73 4 45 4-60 5 20 4 75 4-26 4 26 4-59 9 189 4-124 4 153 4-96 4 17 4-38 5-64 4 79 4 92 4-1 4-62 5 9 4 24 4 25 4-43 4-90 4 178 5-93 4 16 4 28 4 27 4-11 4-51 5 56 4-36 4 80 8-120 4 49 5-111 8 39 4 81 4-99 4 20 5 90 4 2 4 41 4-32 4 36 4-51 5-13 4 17 4-40 4 98 4-38 5-2 4-63 4-50 4 29 4 9 4 97 5-87 4 51 4-9 4-7 4 25 4-51 5 72 4-59 4-26 4-13 4 1 4 22 5 4 4 77 4-31 4-1 4 18 4-69 5 1 4 37 4-50 4-91 4 136 4-76 5-111 4 6 8 94 9 1 4-52 4-57 4 3 4-34 9 20 4-10 4 53 4 0 4 17 4-72 5 106 4-114 4-23 4-51 4 162 4 33 5 62 4 4 4-128 4 167 4-88 4-51 5 54 4-65 4 16 4 42 4 47 4-44 9-42 4 39 4-33 4 33 4 56 5-102 4-48 4-23 4-16 4 63 5-17 8 70 4 49 4 6 4-56 5 8 8-16 4-9 4 17 4-33 5 48 4 53 4-72 4 56 8-66 5 33 4 13 8-76 4 126 4-17 5 46 4-57 4-60 4 38 4 7 4 71 5 9 4-64 4 45 4-53 4 29 5 51 8-8 4 35 4 63 4-125 5 75 4-54 4 29 4-67 4-12 4-11 5 10 4 67 4-168 4 112 4-49 4-89 5-20 4-58 12 148 4 18 9-183 4 154 4-63 4 70 4 129 5-123 4 6 4 52 4-66 4 82 5-97 4 152 4-210 4 28 4 54 4-77 5-43 4 72 4 96 4-121 4 133 4-45 5 8 4 11 8 32 4-109 4-35 5-31 4-3 4 105 4 5 4 65 4 7 5-64 4-76 4 77 4-33 4-48 4 75 5-76 4 76 4 72 4 9 4 5 5-70 4 79 4-56 4 50 4-52 4 114 5 31 4-15 4-17 4-19 4 65 4-46 5 8 4-23 4 39 4 11 4-46 4 29 5-29 4 23 4 56 4-113 8 34 5 54 4-8 4-52 4 59 4-23 4-61 5 68 4 30 4-154 4-20 4 48 4-101 5 43 4-162 4 43 4-66 4 66 5 77 4-40 4 128 4-19 4 13 4-68 5 54 4 53 4-157 4 144 4-255 4 115 5 215 4-31 4-72 4 38 4 10 4-55 5-93 4-10 4 81 4 49 4-6 4 65 9-75 4-45 4 43 4 25 4-51 5 37 4-90 4 58 4-32 9 26 4-23 4 135 4-34 4 9 4 27 5-92 4 61 4-65 4 62 4-47 4-75 5 33 4-27 4 129 4-86 4 10 4 47 5 34 4 2 4-16 4-57 4 5 4 131 5-65 4 72 4-64 4-18 4 76 4-25 5 1 4-70 4 34 4 17 4-38 5 53 4-100 4 65 4-26 4 40 4 9 5-51 4-8 4-58 4 63 4-21 4 26 5-27 4 17 4 19 4-143 4 17 4 56 5 25 4 21 4 29 12-7 5-124 4 58 4 29 4-112 4-47 4 41 9-57 4 137 8-7 4 111 5-91 4 80 4-38 4-1 4-87 5 29 4 132 4-61 4-31 4-61 4-7 5 36 4 20 4-10 8 25 4-57 5 24 4 7 4 69 4 31 4-50 9 8 4 28 4-42 4 74 4 23 4-22 5 19 4-109 12 46 4 24 9-16 4-48 4-4 4 80 5 22 4 9 4-2 4-84 4 26 4-62 5-17 4-3"/>
<path style="marker:url(#m23)" d="M175 601l4 9 4 65 5-103 4 116 4-73 4 89 4-82 9 59 8 82 4-126 4 56 4-34 5 33 4-54 4-72 4 61 4-5 4 23 5-19 8 100 4-49 4 46 4 4 5 29 4-30 4-60 4 43 4 3 5 8 4 54 4-1 4-74 4-6 4-23 5-98 4 81 4 25 4 78 4-20 4-108 5-47 4 37 8-73 4 47 4-76 5 81 4-49 4-80 4 169 4-19 4 93 5-244 4-119 4 161 4-38 4 89 4 15 5-65 4 39 4-9 4 47 4 22 5 29 4-63 4 68 4-105 4-52 4 9 5 37 4 8 4-40 4 102 4-89 4 47 5 54 4-22 4 125 4-48 8-47 5 7 4-54 4 23 8 76 4-2 5-51 4-1 4-50 4 77 4 36 4-41 5-9 4 10 4 12 4-45 4 68 5-37 4-18 4 31 4-79 4 47 4-13 5 25 4 24 4-41 4 44 13 1 4 9 4 37 4-56 4 14 4 36 5-68 8-29 4 145 4-126 4 87 5 14 4-66 4 24 4 6 4-52 4-59 5-14 4-85 8-14 4 47 4 50 5-91 4-49 4 1 4-5 4 49 5-23 4-16 4 86 4-14 4-85 4 80 5 37 4-40 4 115 4-2 4-42 4-60 5 10 4 35 4 93 4 32 4-95 4-1 5-15 4 59 4-36 8 135 9-84 4-4 4-14 4 44 4-71 4 87 5-26 4 72 4-114 4-18 4 52 5-79 4 49 4-16 4 81 4-95 4-9 5 78 4 8 4 30 4-22 4 72 4-60 5-52 4 53 4-32 4 83 4-20 4 2 9-129 4 35 4 14 4 104 4-81 5 39 4-5 4 11 4-3 4-32 4 44 5-63 4 27 4-71 4 45 4 53 5-60 4 114 4-50 4 2 4 7 4-63 5-21 4 38 4-50 4-110 4 112 4-87 5-67 4 14 4-3 4 65 4-64 4 37 5 6 4-99 4 18 4 6 4 83 4-53 5-43 4 26 4 10 4 5 4-73 4 90 5-59 4-59 4-30 4 151 4 36 4 57 5-7 4-85 4 170 4-107 4-33 5 35 4-4 4-69 4 39 4 39 4-8 5 35 4-64 4 2 4 14 4 18 4 60 5-115 4-62 4 35 4-27 8 35 5 51 4 20 4 23 4 26 4-55 4 6 5-49 4 20 4 34 4-49 4 24 4 29 5 38 4-29 4 35 4-15 4-55 5 58 4-1 4 24 4-53 4 105 9 29 4-46 4-58 4 28 8 47 5 14 4-50 4 35 4-25 4 26 4 23 5 39 4-55 4 48 4 54 4-119 4 63 5-25 4-3 4-81 4 0 4 4 4-22 5 67 4-170 4 88 4-36 4-131 5 3 4-13 4 129 4-99 4 72 4 26 5-109 4-62 4 133 4-50 4 79 4 159 5-179 4 38 4 25 4-39 8 21 5 124 4-243 12 6 4 4 5 71 4 87 4-124 4 100 4-3 4-54 5 41 4 60 4-50 4-74 4-48 5 24 4-35 4 84 4 18 4 53 4 4 5-47 4-35 4 49 4-36 4-13 4 48 5-3 4 35 4 19 4 40 4 27 4-94 5 71 4-35 4 31 4 8 4 44 4 51 5 2 4-23 4-12 4 56 4-43 13 15 4 43 4-66 4 33 4-26 5 39 4 37 8-70 4 1 5 48 4-11 4-65 4 77 4-51 4-16 5 1 4 29 4-139 4-17 4 33 4-91 9-133 4 17 4-41 4 69 4 55 5-6 4 56 4 15 4 29 4-50 4 20 5 44 4-121 4 125 4-233 4 76 13 168 4-24 4 66 4-87 5-109 4 11 4 74 4 53 4 3 4 83 5-17 4-70 4-10 4 23 4 22 4-46 5 40 4-86 4 76 4-47 4-1 9-9 4 154 4-47 4 11 4 33 4-96 5 60 4-63 4 66 4-49 4-40 4 1 5 19 4 66 8-31 4 41 5 5 4-20 4 44 4-73 4-9 4 144 5-89 4 99 4-58 4-21 4 84 4-15 5-32 4-50 4 28 4 19 4 2 4 37 5-85 4 31 4-52 4 76 4-6 4-65 5-25 4-35 4 36 4 8 4 11 4-9 5-27 4 3 4-111 4 24 4 39 4 5 5 70 4 3 4 55 4-27 4-72 5-77 4-9 4 101 4-124 4-41 4 34 5 48 4-141 4 121 4 33 4-8 4 102 5-84 4 83 4-9 4-30 4-58 4 20 5 89 4-39 4-7 4-55 8 57 9-46 4 18 4 15 4-35 4 32 5-2 4 58 4 52 4-60 4 34 5-20 4 38 4-55 4 68 4 26 4-18 5 23 4-111 4 4 4 26 4 25 4-2 5-32 8-15 4 17 4 85 4 12 5 8 4-12 4-77 4-6 4-11 4-4 5-42"/>
<path style="marker:url(#m14)" d="M175 626l4 114 4 8 4-139 4 152 5-98 4 78 4-69 4 46 4 19 4 2 5 45 4-96 4 57 4-28 13-47 4 49 4 40 8-37 4 6 5 74 4-29 4 41 4-38 4 45 9-106 4 66 4 17 4-20 4 37 4-15 9-29 4 24 4-128 4 92 4-9 5 44 4 20 8-184 4 76 5 73 4-199 4 51 4-73 4 78 4-2 5-93 8 129 8-138 9-3 4-42 4 99 4 27 4-53 4 8 5 16 4 52 4 20 4 28 4-31 4 56 5-138 4 70 4-89 4 53 4 2 9 91 4-171 4 125 4-16 4 14 5 106 4-14 4-111 4 106 4-64 4 17 5 9 4-16 4 28 4 39 4-74 4-1 5-7 4 27 4 17 12-12 5-19 4-12 4 63 12-3 5-84 4 73 4-2 4 3 8 13 5-12 4-19 4 64 4 25 4-7 5 32 4-61 4 26 4 10 4-27 4 15 5-122 4 134 4-107 4 108 4-4 4-75 5 40 4 13 8-38 4-91 9-80 4 39 8 6 4-60 4-30 9-7 4-30 4 4 4-3 4 62 5 29 8-27 4 59 4-101 5 139 4-38 4 2 4-15 4-26 4 11 5 106 8-36 4-21 4-1 4 30 5-48 4-42 4 169 4-82 4 68 4 19 5-33 8-30 4 65 4-29 4 84 9-159 4 45 4-60 4 98 4-85 5 130 4-120 4 14 4 50 4 25 9 1 4 67 4-85 4 1 4 67 5-67 4 93 4-57 4 20 4-89 4-23 5 26 4-4 4 132 8-25 4-4 5 3 4 34 4-58 4 57 8-3 5-114 4 39 4 87 4-78 4 57 4-36 5 11 4 35 4-68 4 3 4 2 9-130 4 122 4-115 4-97 4-12 5 75 4 30 4-103 4 140 4-85 9-91 4 21 4 35 4-50 4-37 4 76 5-20 4 47 4-67 4 69 4-104 4-55 5-29 8 200 4 51 4-2 4-69 5 159 4-134 4-42 4 72 4-26 4-40 5 74 4 32 4-40 4 84 9-19 4-83 4 68 4 39 4-112 4-38 5-21 4-52 4 72 4 14 4 80 4 20 5 10 4-7 4-59 4 57 4-80 4 27 5 4 4 60 4-75 4 72 4 19 4-44 5 58 4 3 4-6 4-21 4 28 4 15 5-63 8 69 8 9 4-54 5 41 4 40 4 33 4-3 9 13 4-46 4 32 4 14 4 4 4-26 5 35 4-13 4-106 4 99 4-12 4-12 5-109 4 3 4-17 4 17 4 40 4-122 5 97 4-53 4-144 4 4 4-51 4 192 5-174 12 18 4-61 4 145 5-44 4 52 4 145 4-161 4 14 9-28 4 112 4-59 4 109 4-213 5 60 4 2 4-32 8 34 4 79 5-105 4 107 4 20 4-38 4 56 4 38 5-39 4-88 4-39 4-31 4-18 9 130 12 53 8 20 5 22 4-21 4-68 4 85 4-64 5 52 4-4 4 83 4-114 4 55 9 34 4-18 4 68 4 24 4 4 4 0 5 8 4-3 4-35 4-5 4 30 4 9 5 15 4-42 12 27 4 20 5-101 4 43 4-9 4 40 4 20 4-89 5 80 4-37 4-21 4 8 4 36 5-144 4-22 4 82 4-151 4 52 4-185 5 45 4-41 4 48 4 113 4-84 4 118 5-13 4-25 4-33 4 45 4 39 4-147 5 145 4-272 8 275 4 43 4-62 5 12 4 23 4-58 4-89 4-34 4 107 5 57 4-26 4 98 4 42 4-137 4-13 5 38 4 12 4 0 4 17 4-100 5 81 4 1 4-55 4 29 4-2 4 142 5-44 4-25 4 81 4-133 4 101 9-44 4 87 4-196 4 42 4 5 4 91 5-107 4 64 4 77 4-28 4 16 4 37 5-109 4 49 4 94 4-68 4 67 4-24 5-53 4 72 4-24 4 33 4-64 9 59 4-15 4 17 4-34 4 37 5-78 4 69 4-15 4-37 4 30 4-65 5-20 4 6 4-7 4 14 4-41 4 18 5-150 4 8 4 101 4 18 4-7 4 37 5 41 4-13 4-73 4-105 8 63 5-92 4-47 4 18 4 70 4-101 5 95 4 62 4-77 4 129 4-66 4 79 5-20 4-23 4-76 4 31 4 131 4-57 9-114 4 30 4 112 4-48 4-8 9 2 8-7 4-1 4 71 5 22 4-49 4 19 4-8 4 43 4-61 5 86 4 19 4-21 4 19 4-101 4 29 5 21 4 4 4 12 4-54 4 24 5-19 8 80 4 1 4 32 4 13 5-8 4-2 4-62 4 25 4-31"/>
<path style="marker:url(#m5)" d="M174 604l4 20 5 52 4-86 4 109 4-94 4 52 4-31 5 51 4-18 4 28 4 73 4-157 4 64 5-18 4 62 4-97 4-20 4 42 5-19 4 63 4-31 4-16 8 38 5 51 4-50 4 59 4 0 4-81 4 66 5-37 4 46 4 48 4-44 4-22 4-27 5 13 4-72 4 74 4 4 4 83 4-52 5 36 4-156 4 58 4 85 4-170 4 104 5-113 4 63 4-11 8 127 5-49 4 56 4-106 4-213 4 135 4-10 5 119 4-27 4-59 4 16 4-36 4 74 5 12 4 102 4-65 4 44 4-71 9-73 4 11 4-17 4-60 4 106 4-96 5 74 4 13 4-20 4 118 8-163 5 82 4-1 4-66 4 34 8 55 5-18 4-6 4-30 4-51 4 71 5 12 4-11 4 5 4-3 4 11 4-51 9 19 4-2 4 32 4-82 4 54 5-18 4-10 4 16 4-1 8 26 5 15 4 6 4 14 4 6 4-80 4 53 5 36 4-68 4 62 4-94 4 169 4-140 5 111 4 13 4-91 4 56 4-9 5-34 4-21 4-27 4-94 4-32 4 65 5-14 4 63 4-86 4-29 4-32 4 50 5-35 4 1 4 76 4 9 4 56 4-79 5 44 4 136 4-170 4 170 4-73 4 44 5-95 8 23 4 100 13-61 4 43 4 16 4-71 4-66 5 179 4-112 4 39 4-9 4 22 4 19 5-91 4 106 8 12 4-116 4-10 5 45 4-90 4 78 4-44 4 38 4-80 5 33 4 4 4 58 4 20 4-35 4 61 5-48 4-27 4 20 4-8 4 75 9 2 4-114 4-23 4 64 4-20 5 95 4-62 4 35 4-13 4 9 4-15 5-41 4 86 4-88 4-4 8-5 5 16 4 8 4 100 4-41 4 14 4-31 5-33 4-46 4 65 4-32 4-84 4 118 5-121 8-55 4 63 4 55 4-77 9 34 4-70 4-8 4-17 4 77 5-39 4-27 4 49 8 28 9 110 4-175 4-51 4-3 4 111 5 53 4 52 4 9 8 22 9-158 4 101 8-83 4 63 4 40 5-47 4 95 4-133 4-15 4 17 4-25 5 99 4-98 4-117 4 57 4-45 4 70 5-33 4 74 4 26 4-21 4 43 5-59 4 22 4-31 4-8 8-58 5 65 4 22 4 13 4-20 4 55 4-38 5-11 4 18 4 29 4 3 4-54 4 99 5-24 4 70 4-76 4-30 4 5 4-18 5 96 4-13 4-21 4-11 4-6 4 42 5-23 4 88 4-59 4 72 4 29 5-127 4 48 4 26 4-25 4-55 4-6 5-8 4-7 4 75 4-126 4 122 4-101 5-82 4-48 4 4 4 168 4-178 4 162 13-188 4 162 4-67 4 122 5 62 4-132 4 38 4 74 4-87 4 102 5-82 4 104 4-206 4 34 4 0 4-5 5-18 4 8 4 122 4-151 4 87 5 7 4 34 4-41 4 83 8-152 5-72 4 27 4-20 4 75 4 34 4 2 5-3 4-9 4-58 4 0 4 44 9 11 4-62 4 64 12 46 5-33 4 76 4-69 4 72 4-23 9 33 4 81 4-6 4-21 4 44 5-28 4 8 4-4 4 2 4 29 4-29 5 12 4-25 4 61 4 14 4-171 4 111 5-5 8 62 4-90 4 74 4-62 5 6 4 7 4 33 4-119 4-37 4 80 5-130 4 43 4-136 4 8 4-26 4 43 5 157 4-105 4 167 4-42 4-8 5-58 4 81 4 62 4-168 8-125 5 93 4 243 4-53 8-20 4 24 5-82 8-104 4 68 4 64 9 51 4 8 8-129 4 31 4 5 5-8 4 8 4-80 4 41 4-24 4-26 5 65 4-41 4 103 4-18 4 5 4 3 5-39 12 26 4-40 5-56 4 36 4-30 4 79 4-59 4-2 5 96 4 13 4-22 4 26 4-55 4-17 5 135 8-3 4-34 4 0 9 24 4-5 4-32 4 5 4 14 4-33 5 66 4-119 4 52 8 5 4 33 5-46 4-90 4-3 4 35 4 16 5 35 4-11 4-1 4-6 4-111 4 12 5 69 8 45 4 44 4 54 4-28 5-40 4-116 4-4 4 118 4-142 4-17 5 23 4 85 8-5 4 53 4-53 5 105 4-80 4 46 4-23 4 23 4-105 5 15 8 72 4-5 9-117 4 51 4 14 4-21 4-24 9 9 4 22 4-18 4 63 4 50 9-57 4 11 4 16 4-24 4 64 4 22 5-13 4 16 4-118 4 26 4-1 4 27 5 14 4-31 4 14 4-33 4 4 4 59 5 39 4 26 4-49 4-57 4 11 5-51 4-1 4-18"/>
<path style="marker:url(#m20)" d="M175 584l4-4 4 49 9 6 4-50 8 15 4 51 4 1 5-39 4 73 4-108 4 19 4 26 4 30 5-59 4-19 4 24 4-1 4 42 9-12 4 102 4-52 4 32 4-52 5 40 4-1 8-27 4-9 4 37 5 58 4-51 4-46 4-8 4-28 4-145 9 103 4 72 4-7 4-138 4 41 5-24 4-38 8-58 4 24 4-96 5 20 4 41 4-102 4 192 4 63 4-164 5-105 4 128 4-38 4-81 4 168 5-122 4 113 4-17 8 88 4-128 5-42 4 209 4-130 4-123 4 46 4 33 5 42 4 20 4-1 4-56 4 50 4 89 5 5 4 73 8-114 4-3 4 80 5-14 4-42 4 9 4 64 4 5 4-13 5-7 4-36 4 62 8-23 5 20 4 15 4 7 4-46 4 12 4-22 5 30 4 12 4-87 4 31 4 13 9 39 8 2 8-7 9 5 4 22 4-27 4 47 8-117 5 73 4-84 4 178 4-125 4 53 4 24 5-57 4 12 4-33 4-15 4-118 5 9 4-55 4-102 4 28 4 163 4-55 9-188 4 124 4-80 4 101 4-23 5-11 4 51 8-101 4 35 4 17 5 89 4-85 4 145 4-66 4-159 4 73 5 27 4 60 4 114 4-102 4-24 4 25 5 0 4 102 4-98 4 169 4-102 5 48 4-60 4 26 4 39 4-48 9 39 4 93 4-120 4 24 4-27 4-2 5 1 4 24 4 16 4-71 4 48 4 17 5 47 4-1 4-27 8 42 4-52 5 31 4-7 4 75 4-70 4 62 9-140 4 83 4-1 4 106 4-88 4 29 5-13 4 4 4 13 4-86 4 123 5-112 4 19 4-23 4 0 4 27 4-11 5 130 4-94 4 24 4-31 4-52 4 4 5 44 4-99 4-14 4 20 4-127 4-7 5-38 4 32 4 25 4-57 4 124 4-49 5-93 4 30 4-51 4 75 4-103 4 38 5 76 8-132 4-26 4 100 5-2 4-102 4 32 4 22 4 150 9-59 4-63 4 143 4 21 4-25 4-6 5-24 8 67 4-15 4 36 4-62 5 38 4-29 4-4 4 39 4 57 4-122 5-33 4 35 4-43 4 67 4-17 4 58 5 19 4-23 4 12 4 2 4-9 5-5 4-5 4 3 4-108 4 68 4 9 9 58 4 47 4-68 4-6 4 55 5 16 4 0 4-42 4 101 4-50 4 51 5-23 4-67 4 47 4-19 4 94 4-26 5-92 8 15 4-7 4-15 4 91 5-97 4 106 8-56 4 31 4-31 5 87 4-64 4-22 4 7 4-113 5-33 4-102 4 78 4-119 4 18 4 26 5 22 8 14 4-84 4 61 4-52 5-21 4 127 4-109 4 114 4-34 4 0 5 82 4-64 4 77 4 68 13-183 4 14 4 59 4-107 4 24 4 57 5 102 4-57 4 68 4-44 4-26 9-31 4 27 4-43 4 13 4 24 9 26 4-2 8 34 9-53 4 44 4 3 4-60 4 68 4-68 5 81 8 80 8-31 4 45 5-80 4 53 4-3 4 103 4-10 4 40 5-32 8 37 8-7 5-51 4 59 4 12 4-15 4-4 4-18 5 36 4 18 4-122 4 71 4-36 13-10 4 48 4-44 4-3 4-1 5-1 4-79 4-95 4 69 8-161 5-29 4-42 8 57 4 94 4-69 5 82 4 26 8-10 4 8 5 57 4-119 8-127 4 108 4-39 5 182 8-45 4 0 4-4 4-96 5 18 4 41 8 83 4 73 4-5 5-69 4 16 4-40 4 70 4-19 4 26 5-77 8 1 4-24 8 41 5 62 8 33 4 2 4-52 4 19 5-15 4 27 4-38 4-50 4 22 5-21 4 99 4-57 8 69 4 41 5-78 4 52 4-37 4 14 4 106 4-69 5 78 4-55 4-2 4 51 4-42 4 6 9-13 4-13 4-27 4 53 4-121 5 111 4-53 4-14 4 31 4-41 4-98 9 29 4 22 13 31 8-92 4 5 4 35 4-3 5 70 4 4 4 21 4-19 4-63 4-65 5-51 8-108 4 76 8 62 5-132 4 129 4 61 4-53 8 19 9 73 4 19 4-55 4 27 4 48 5-17 4-41 8 2 4 26 5 10 4-43 4 28 4 28 4-42 4 5 9 55 4 51 4-35 4-22 4 23 5 35 4-38 8 89 4-21 9-84 4 9 8 45 4 7 4-22 9-33 4 21 4 71 4 20 4 6 5-18 4-84 4 2 4-48 4 8 4-16"/>
<path style="marker:url(#m10)" d="M174 626l5 100 4 45 4-155 4 138 4-81 5 109 8-70 4 39 8 47 9-42 4-42 4 67 4-94 4-32 5 91 4 14 4-13 4-21 4 6 9 15 4 41 4-2 4 9 4-10 4-70 5 77 4-21 4 11 4 30 8-26 5-35 4 72 4-130 4 76 4-19 4 69 5-19 4-27 4-143 4 65 4 124 5-228 8-17 4 64 4 2 4-105 5 201 4-34 4 28 4-88 4-213 4 141 5-19 4 146 4-41 4-45 4-13 9 36 4 57 4 77 4-67 4 55 4-107 5 12 8-1 4-75 4-15 4 151 5-166 4 130 4-40 4-5 4 152 5-29 4-148 4 71 8 17 4-31 5 19 4 14 4 23 4-64 4 16 4-38 5 58 4 3 4-20 4-1 4 23 4-20 9 81 4-22 8-9 4-87 5 74 4-9 8 66 8-15 5-71 4 71 4-22 4 47 4-5 5-45 4 22 4 28 4-9 4-3 4-150 5 179 4-110 4 105 4-1 4-70 4 52 5-24 4 7 4-78 4-23 4-42 4-37 5 2 4-22 4 34 4-23 4-65 9-8 4 2 4-16 4 90 4 10 4 66 5-92 4-41 4 138 4-128 4 217 4-110 5 7 4-27 4-78 4 96 4 72 5 23 4-47 4-5 4 38 4-80 4 38 5-86 4 208 4-141 4 51 4 36 4 21 5-45 4-61 4 79 8 54 4-128 5-22 4 51 4-80 4 93 4-63 4 118 5-116 4 46 4 30 4 7 4 24 4 16 5 28 4-71 4-23 4 77 4-43 5 62 4-37 4-1 4-80 4-8 9-11 4 142 12-41 4 15 5 32 4-42 4 32 4-43 4 45 4-98 5 2 4 102 4-76 4 81 4-45 4 10 5 40 4-94 8 26 4-14 4-141 5 158 4-116 4-79 4 3 4 30 5 42 4-66 4 148 4-159 4-3 4-29 5 1 4 31 4-44 4-39 8 37 5 33 4-61 4 157 4-132 4-92 4 12 5 146 4 42 4 67 8-99 4 118 5-80 4-45 4 48 4-34 4-11 4 64 5 79 4-95 4 85 8-38 5-69 4 81 4 2 4-76 4-62 4-23 5-48 4 68 4 24 4 94 4-15 4 8 5 30 4-74 4 14 4-54 4 33 4 17 5 8 4-41 4 86 4-29 4-8 4 56 5 30 4-14 4-33 4 32 4-17 4-41 5 106 4-30 4 46 4-66 4-19 4 61 5-20 4 35 4 6 4 6 4-11 5-43 4 85 4-21 4-3 4 9 4-19 5 48 4-102 4 88 8-34 4-112 5 11 4-11 4 11 4 47 4-149 9 84 8-134 4-46 4 154 4-157 5 156 4-15 4 0 4-177 4 119 4-40 5 140 4 67 4-126 4-4 4 114 5-104 4 81 8 45 4-178 4 9 5 60 4-57 4-10 4 12 4 121 4-152 5 124 4-15 4-2 4 45 4-24 9-74 4 9 4-73 4-12 4 191 4-89 5 42 4-12 4 29 4-123 8 133 5-15 4-22 4 74 4-75 4 82 5-18 4 65 4-137 4 80 4-16 4 31 5 1 4 85 4 12 4-18 4 26 4 12 5-15 4-23 4-9 4 12 4 4 4 37 5-56 4 23 4-39 4 31 4 43 4-99 5 45 4 5 4 27 4 13 4-98 4 93 5-31 4-11 4-19 4 42 4-104 4-38 5 66 4-160 4 75 4-186 4 19 9 21 4 185 4-134 4 194 4-72 5-12 4-63 4 68 4 37 4-177 4 166 5-266 8 334 4-45 4-66 4 57 5 10 4-67 4 6 4-124 4 53 4 83 5-9 4 91 4 29 4-138 4-6 4 34 5 22 4-15 4 29 4-122 4 109 5-12 4-65 4 15 4 6 4 150 4-27 5-43 8-72 4 110 4-49 4 21 5 44 4-147 4 23 4 8 4 105 4-94 5 48 4 56 4-47 4 58 4 18 4-120 5 61 4 93 4-56 4 50 4-38 4-28 5 83 4-12 4-2 4-54 4-2 9 56 4-19 4-39 4 57 4-69 5 51 4 4 4-42 4 3 4-66 4 43 5-18 4 5 4 16 8-50 4-128 5 10 4 59 4 90 4-24 4 7 4 86 5-66 4-33 4-82 4-2 4 70 4-123 5-18 4 33 4 42 4-114 4 124 5 31 4-56 4 132 4-113 4 115 4-53 5 40 4-152 4 73 4 98 4-14 4 29 5-153 4-1 4 116 8-64 4-22 5 12 4-21 4 10 4 12 4 66 4 62 5-80 4 47 4-25 4 15 4-45 4 70 5 35 4-32 4 30 4-116 4 71 4 11 5-5 8-34 4 17 4-42 5 21 4 78 4 5 4 24 4 8 9-18 4-43 4 56"/>
<path style="marker:url(#m0)" d="M174 589l4 72 4 39 5-126 4 124 4-66 4 100 4-106 4 67 5 4 4-8 4 50 8-38 4-31 9-51 4-32 4 61 4-24 4 48 5-34 4 37 4 44 4-50 4 52 9 33 4-25 4-72 8 43 5 34 4 56 4-26 4-66 4-16 4 31 5-149 4 128 4 34 4 51 8-33 5-139 4 76 4 69 4-150 4 1 4-72 5 86 4 27 4-107 8 115 4 76 5-191 4-162 4 193 4-83 4 130 4 11 5-74 4-5 4 45 4 60 4 13 5 24 4-89 4 92 12-158 5 93 4-46 4-39 4 63 4-78 4 68 5 38 4-21 4 122 4 19 4-141 4 9 5 33 4-66 4 23 4 8 4 74 4 1 5-64 4 21 4-65 4 74 4 25 4-37 5-4 4 23 4-26 4-18 4 63 5-26 4-46 4 49 4-83 4 69 4-31 5-7 4 59 4-45 8 2 4 28 5-10 4 9 4 36 4-36 4 8 9-44 4 39 4-60 4 156 4-133 4 111 5 6 4-96 4 47 4-68 4 27 13-148 4 15 4 40 4 4 4 44 5-94 4-36 4-40 4 58 4-23 5 1 4-1 4 72 4 13 4-107 4 82 5 75 4-92 4 183 8-55 4-115 5 8 4 87 4 52 4 21 4-45 4-51 5 22 4 18 4-39 4-47 4 164 4-92 5 63 4-54 4 16 4 50 4-80 4 99 5-58 4 82 4-123 4-9 4 69 5-101 4 109 4-62 4 25 4-95 4 29 5 88 4 4 4 18 4-27 4 76 4-74 9 38 4-50 4 91 4-57 4 18 5-109 4 3 4 25 4 19 4 73 4-58 5 50 4-6 4-1 8-76 4 96 9-59 4-64 4 29 4 8 5 8 4 100 4-60 4 21 4-13 4-23 5-35 4 65 4-102 8 33 4-64 5-58 4-10 8 81 4-57 4 22 5-43 4-52 4 23 4-14 4 77 4-60 5 3 4 32 4 13 4 19 4-92 4 90 5-65 4-85 4-40 4 154 4 74 5 76 4-46 4-73 4 131 4-87 4-62 5 29 4 2 4-57 4 76 4 58 4-16 5 17 4-71 4-14 4 22 4 4 4 86 9-184 4 12 4-34 4 67 4-26 5 81 4 20 4 7 4 24 4-65 4 48 5-62 4-4 4-7 4 26 4-11 4 28 5 32 4-32 8 23 4-53 5 50 4 10 4-15 4-46 4 123 4-27 5 41 4-36 4-42 4 6 4 1 4 80 5-11 4-28 4 3 4-30 4 18 4 60 5 62 4-111 8 118 4-102 4 39 5-19 4 7 4-52 4 8 4-28 4-12 5 64 4-161 4 129 4-13 9-158 4-40 4 175 4-154 4 102 4 16 5-136 4-13 4 124 4-40 4 51 4 193 5-186 4-22 4 55 4-44 4 137 4-125 5 131 4-201 4 7 4 28 4-65 4 15 5 68 4 63 8 2 4-28 4 40 5-4 4 34 4-64 4-79 4-3 5-43 8 51 4 75 4 34 4-13 9-107 4 43 4-5 4-27 4 45 5-27 4 60 4 62 4-15 4 15 4-76 5 69 4-12 4 44 4-45 4 82 4 17 5 13 4-25 4-19 4 60 4-34 4 16 5-9 4-3 4 54 4-72 4 40 4-25 5 45 4 27 4-113 4 41 9 42 4 25 4-99 4 75 4-33 4-6 5 18 4 13 4-122 4-6 8-86 5 7 4-138 4 33 4-18 4 17 4 56 5 13 4 72 4 4 4 10 4-51 4 36 5 45 4-135 4 157 4-269 4 119 4 159 5 11 4-23 4 2 4 1 9-179 4 36 4 88 4 48 4-6 4 92 5-38 4-79 4-2 4 5 4 25 4-20 9-64 4 62 4-19 4-12 4 31 5-44 4 125 4-5 4 1 4-2 4-73 5 66 4-41 8-9 4-64 4 17 5 5 4 90 4-72 4 2 4 77 5 0 4-2 4 42 8-70 4 91 5-51 4 94 4-67 4-4 4 65 4-32 5-3 4-51 4 11 4 22 4 0 4 15 5-112 4 73 4-29 4 73 4-19 4-35 9-93 4 59 4-7 4 21 4-30 5 1 4 20 8-116 8 65 5 57 4 11 4 63 8-106 5-103 4 30 4 48 4-89 4-29 4 27 5 57 4-103 4 107 4 47 4-58 4 78 5-51 8 58 4-36 4-47 4 37 5 88 4-62 4 12 8-73 4 56 5 17 4-33 4-16 4 40 4-47 4 3 5-22 4 112 4 18 4-49 4 23 5 0 4 21 4-51 4 90 4 25 4-30 5 8 4-82 4-25 4 45 4 27 4 15 5-50 4 10 4-32 4 9 4 71 4 26 5 42 8-84 4-9 4-30 4-4 5-44"/>
<path style="marker:url(#m2)" d="M175 623l4 28 5 78 4-151 4 156 4-18 4-18 4-56 5 9 4 45 4 7 4 50 4-57 9 18 4 11 4-70 4-56 4 55 4 11 5 4 4-9 4 0 4 73 4-52 4 48 5 15 4-20 4-21 4-26 8 31 5 4 4 80 4-44 4 64 4-160 9-89 4 141 4-16 4 5 9-46 4 39 4 15 4-25 4-89 4-22 9 85 4 7 4-92 4 156 4-74 5-69 8-23 4-32 4 143 4 15 5-90 4-85 4 140 4-26 4 74 4-29 5 46 8-111 4-15 4-82 4 102 5-61 4 138 4-113 4 70 4-23 5 45 8 55 4 34 4-43 4-156 5 101 4 52 4-66 4-25 4 28 4 12 5 13 4-17 4 45 4-73 4 104 4 10 5-134 4 61 4 18 4-35 4 40 4-70 5 83 4-92 4 13 4-3 4 14 4-14 5-9 4 100 4-116 4 97 4-82 5 46 4 90 4-143 4 55 4 13 4 11 5 5 4-17 4 75 4-134 4 83 4-83 5 46 4 62 4-11 4 2 4-19 9-111 4 29 4-67 4-6 4 110 4-74 5 33 4 35 4-152 4-12 4 63 4 4 5-64 4 59 4-9 4-14 4 49 5 33 8-13 4 143 4-157 4-3 5-26 4 105 4 89 4-52 4 79 4-76 5-65 4 108 8-156 4 80 4 101 5-118 4-55 4 76 4 44 4 49 4-118 5 101 4-58 4 12 4-33 4-31 4 62 5-140 4 118 4-13 4 11 4-19 5-48 4 120 4-20 4 27 4-9 4 3 5-5 4 8 4-30 4-13 4 55 9-66 8-22 4 67 4-31 4 59 5-45 4-51 4 44 4-14 4 29 4-60 5 49 4-69 4 46 4-69 4 56 9-25 4 84 4-63 4 22 4 3 4-37 5 99 4-38 4-77 4-27 4 30 5-23 4-26 4-21 4 29 4-64 4-15 5 121 4-152 4 36 8 0 4 28 5-48 4 39 4 70 4-36 4 79 4-176 5-32 4 1 4-10 4-41 4 182 4 37 9 143 4-205 4 125 4-76 4 3 5 88 4-82 4 3 4-15 9 68 4-41 4-26 4 5 4-20 4 38 5 29 4 5 4-111 4 14 4-115 4 123 9 30 4 29 4-1 4 50 4-12 5-64 4-6 4-28 4 87 4-33 4-5 5-6 4 6 4-33 4 22 4 10 4-17 5 26 4-9 4-8 4-57 4 90 5 27 4-21 4 37 4-11 4-5 4 50 5-86 4 87 4-52 4 5 4-38 4 104 9 29 4-12 4-23 4 58 4-120 5 89 4-4 4-43 4 14 4-41 4 13 5-28 4-25 4-73 4 23 4 14 4-89 5-15 8-2 4 37 4 53 4-27 5-149 4 47 4 60 4 35 4 47 5 31 4-42 4-58 4 155 4 3 4 37 5-96 4-44 4-52 4 32 4 23 9-56 4 74 4-55 4 78 4 3 4-8 5 1 8 66 4-126 4-45 4 34 5-25 4 30 4 25 4-14 4 15 4 35 5-47 4-26 8 30 4-39 5-20 4 58 4 7 4 73 4-7 4 27 5-57 4 4 4 65 4 2 4 5 4 44 5 22 4-15 4-29 4 78 4-92 4 66 5-49 8 18 4 0 4 9 4 12 5-3 4-4 4 24 8-90 4 33 5 0 4 116 4-97 4 38 4-73 5 22 4 31 4-27 4-75 4-33 4-15 5-11 4-41 4-118 4 51 4 1 4-2 5-1 4 134 4-106 4 70 4 25 4 45 5-22 4 90 4-189 4 39 4-156 4 215 5 187 4-45 4-76 4-37 4 13 4-75 5-59 4 18 4 87 4 66 4-23 5 9 4-21 4 28 4-48 4-17 4 54 5-70 4 40 4-66 4 135 4-119 4-8 5-6 4 73 4 30 4 15 4-9 4 42 5-96 4 77 8-67 4-65 4-5 5 61 4-73 4 101 4-32 4 4 4-10 9 131 4-51 4-10 4-44 4 58 5 15 4 47 4-9 4-75 4 102 5-92 4-16 8 55 4 6 4-31 5 40 4-39 8 19 4 37 4 12 5-80 4-126 4 107 4-38 4 35 4 12 5 19 4-76 4 37 4-82 4 107 4-172 5 103 4 118 4-35 4-21 4-33 4-54 5-61 4 97 4 65 4-115 4-15 5 36 4-4 4-121 4 174 4 37 4-44 5 59 4-177 4 158 4-47 4 33 4-43 5-37 4 95 4-12 4-9 4-92 4 65 5 52 8-71 4 25 4-59 4 87 5-54 8 47 4 26 4 22 4-19 5 9 4-24 4 21 4 54 4 49 5-87 4 11 4-82 4 14 8 72 5 25 8-90 4 28 4-35 4 120 5-21 4 33 4-52 4-69 4-9 4 2 5 2 4-40"/>
<path style="marker:url(#m9)" d="M175 665l5 1 4 88 4-162 4 165 4-47 5-11 4-34 4 13 4 53 4-22 4 3 5 0 4-8 4 19 4 46 4-51 4-71 5 75 4 17 8-28 4 31 4 46 5-57 4 54 4-13 4 7 4-11 4-32 5 38 8-35 4 68 4-36 4 50 5-110 4 97 4-219 4 146 4-43 4 1 5 75 4-121 8 44 4-41 5-46 4-5 4-84 4 122 4 77 4-130 5 189 4-149 8-149 4 89 4-33 5 137 4 49 4-117 4-120 4 157 4 10 5 28 4 11 4 38 4-43 4-41 4-33 5-89 4 93 4-51 4 167 4-99 4 30 5-38 4 95 4-1 4-8 4 69 5-20 4-187 4 122 4 0 4-30 4-44 5 54 4-1 4-15 8 43 4-55 5 83 4 2 4-94 4 54 4 0 9 28 4-57 4 48 4-81 4 43 4-44 5 91 4-32 4-6 4 54 4-53 4 89 5-52 4 14 8-67 4 68 5 3 8 50 4-30 4 24 4-67 5 64 4-115 4 60 4 63 4-37 9-34 4 13 4-86 4 46 4-115 4-10 5 90 4-24 4 1 4 44 4-153 4 2 9 2 4-5 4 62 4-28 4-13 5 83 4-5 4 21 4-53 4 147 4-106 5-43 4-45 4 108 4 71 4-18 5 75 4-69 4-82 4 131 4-92 4-76 5 95 4 94 4-90 4-72 4 53 9 53 4-69 4 94 4-91 4 28 4-2 5-7 4 42 4-164 8 100 4 37 5-43 4-28 4 102 8-4 4 3 5-1 4-14 4 34 4-9 4-29 5 72 8-78 4-5 4-14 4 87 5-53 4 64 4-38 4-44 4 24 4 12 5 74 4-61 4 57 4-107 4 66 4-36 5 44 4 37 4-104 4 95 4-47 4 34 5-37 4-57 4 122 4-51 4-114 4-19 5 75 4-52 4 17 4-2 4-44 5-90 4-26 4 168 4-175 4 34 4-78 5 100 4 34 4-42 4-12 8 14 5 150 4-220 4 3 4 19 4 34 4-119 5 238 4 1 4-4 4 77 4-112 4 69 5-61 4 0 4 68 4-16 4-48 4 3 5 1 4 36 4-19 4-17 4-25 5 0 4 24 4 39 4-5 4-84 4-5 5-124 4 128 4 0 4 25 4 19 4 4 5 69 4-59 8-41 4-38 4 85 5 25 4-8 4-17 4 19 4-76 4 71 5-14 4 11 4 35 4 37 8-95 5 43 4 22 4 30 4 17 4-29 4 77 5-6 4-21 8-33 4 59 5-95 4 34 4 92 4-29 4-8 4-30 5 68 4-131 4 109 4 1 4-85 4 8 5-53 4-1 4 44 4-40 4-124 4 48 5 18 4-117 4 47 4-75 4 69 4-33 5 94 4-17 4-192 8 115 4 40 5 55 4 22 4 9 4-102 4 167 5 35 4-5 4-39 4-69 4-84 4 98 5-38 4 55 4-53 4 74 4-72 4 3 5 78 4-2 4-51 4 136 4-64 4-78 5-97 4 59 4-34 8 79 4-70 5 45 8 18 4-20 4-2 4 11 5-24 4-25 4 74 4-39 4 101 5-7 4 29 4-73 4 34 4 25 4 60 5 34 4-15 4 27 8-20 4 50 5-78 4 47 4-44 4 75 4-24 4 10 5 17 4-41 4 60 4-65 4 66 4-70 5 2 4-28 4-13 4 110 4-105 4 78 5-99 4 10 4 45 4-40 4-65 4-17 5 30 4-59 4-41 4-122 4 81 5-58 4 12 4-10 4 156 4-87 4 39 5 10 4 66 4 13 4 37 4-189 4 56 5-167 4 265 4 96 8-89 4-24 5-3 4-54 4-64 4 18 8 145 5 25 4-6 4-24 4-17 4-31 4-11 5 28 4-73 4 56 4-57 4 167 5-153 4-12 4-3 4 106 4 19 4 29 5-44 4 48 4-104 4 77 4 16 4-47 5-88 8 41 4-67 4 114 4-47 5 3 4-8 4 72 4 108 4-51 4-37 5-49 4 97 4 34 4 16 4 8 4-97 5 92 4-91 4-7 4 80 4-11 5 36 4-94 4 72 4-39 4-26 4 19 5 37 4 7 4-39 8-85 9 47 4-9 4 61 4-116 8-67 5 95 4-147 4 84 4 125 4-33 4-61 5 6 4-58 4-40 4 104 4 44 4-108 5-39 4 66 4-8 4-137 4 225 5-1 4-34 8-77 4 85 9 21 4-69 4-20 4 126 4-54 4-10 5-116 4 148 4-27 4-50 4 33 4 6 5-78 4 86 4-3 4-40 4 56 4 3 5 40 4-59 4 25 4-12 4 18 4 47 5 58 4-90 4 8 4-75 4 3 4 78 5-19 4 36 4-1 4-62 4-14 5 18 4 88 4-12 4 18 4 0 4-49 5 11 4-3 4 40 4-92"/>
<path style="marker:url(#m18)" d="M176 579l4 40 4 40 4-103 5 65 4-55 4 9 4 43 4 24 9-23 4-42 4 53 4 8 4-97 4 109 5-45 4-45 8 33 4 30 13 51 4-35 4 59 4-39 4 3 5 12 8-30 4 32 4-16 5 58 4-19 4 8 4-140 4-67 4-28 5 126 4-61 4 51 4-70 4-69 4-17 5 149 4-228 4 28 4-71 8 131 5 68 4-177 4 22 4 78 4-25 4-65 5-140 4 29 4 18 12-27 5 91 4 145 4 65 4-22 4 47 5-69 4-130 4 64 4-38 4 70 4 4 5 73 4-151 4 163 4-31 4-38 4 114 5-24 4 91 4-24 4-152 4 68 4 14 5 2 4-123 4 118 8-14 4 20 5-13 4-21 4 60 4 21 4-37 4 6 5 62 4-18 4-24 4-28 4-6 5 14 4 15 4-24 4 9 4 25 4-14 5-26 4 18 4 49 4-31 4 34 4-24 5-8 4 1 4 13 4 48 8-65 5 12 4-60 4 37 4-5 4-28 4 79 5-45 4-176 4 127 8-74 4-25 5-112 4 33 4 149 4-65 4 36 4-157 5-25 4 7 4 18 4 75 4-48 5-23 4 66 4-39 4 33 4 99 4 31 5-118 4 92 4-31 4-63 4-43 4 110 5-149 4 219 4 63 4-65 4-20 4-80 5 58 4-24 4 68 4-41 4 56 4-36 5 22 4-7 4 76 4-53 4-11 4-35 5 13 4-33 4 60 4-5 4-48 5 99 4-7 4-37 4 2 4-21 4 89 9-17 4-30 4 47 4-23 4 16 5 28 4 16 4 8 4-33 4-10 4-118 5 107 4 70 4-28 4-9 4 2 4-16 5-27 4-8 4 32 4 13 4-44 4-8 5 5 4-23 4 31 4 71 4-76 5 74 4-64 4-48 4 23 4 10 4-77 5 23 4-30 8-62 4 1 4 48 5-153 4 45 4-36 4 68 4-4 4-15 5-23 4-29 4 97 4-226 4 171 4-68 5-62 4 72 4 56 4-49 4-40 4-84 5 72 12 222 4-124 4 5 5-34 4 154 4-28 4 0 4-99 5 72 4 68 4 0 4-31 4-25 4 21 9-5 4-26 12 30 5-82 4 31 4-29 4 83 8-33 5 2 4 46 4 111 4-89 4 23 4-15 5-11 8-24 4 11 4-52 4 35 5 40 4-56 4 73 8-24 5 14 4 21 4-23 4 35 4 56 4-44 5 7 4 6 4-5 4 66 4-55 4 67 5-59 4-46 4 29 4 38 4 42 4 3 5-18 4 1 4-29 4-35 4-16 4-2 5 73 4-8 4-6 4-91 4-10 4 21 5-204 4 90 4-146 4-29 4 93 5-38 4 68 4-11 4 53 4-171 4-43 5 54 4-39 4 177 4 91 4-176 4 24 5 48 8 166 4-106 4 0 4 4 5-79 4 17 4 81 4-2 4-68 4 95 5-64 4 49 4-4 4 60 4-65 4 75 5-60 4-20 4 9 4-45 4 22 9 78 4-44 4 38 4 44 4-44 5-16 4 0 4-31 4-27 4 37 4 58 5-20 4 77 4-3 4 58 8-95 5 65 4-28 4 4 4 108 8 17 5-92 4 110 4-79 4 62 4-23 4 35 5-25 4-32 4 40 4-20 4-4 4 18 5-44 4 32 4-75 4 56 9 54 4-92 4 20 4-74 4 35 4-17 5 19 4-58 4-87 4-51 8 4 5-91 4 16 4-38 4 31 4-71 4 62 5 110 4-60 4 15 4 46 4 94 4 4 5-91 4 12 4-148 8 198 4 65 5-16 4-21 4-47 4-4 4-124 5 109 4 73 4 70 4-56 4 8 4 42 5-6 4-49 4 32 4-5 4-23 4 23 5-53 4 11 4-12 4-3 4 8 4 51 5 16 4 32 4-5 8-15 4 52 5-93 4-29 4-15 4 8 4 47 4-33 5 71 4-37 4 25 8 59 5 46 8-52 4-31 4 64 4-14 5 75 4-12 4-67 4 103 4-122 4 4 5 73 4-25 4-5 8 4 4-25 5-36 8 47 4-80 4 7 4-126 5 123 4-52 4 73 4-37 4 58 4-77 5-39 4-52 4 13 4-30 4 41 4 97 5 34 4-37 4-22 4-49 4-50 5-36 4 82 4-100 8-117 9 97 4 45 4 9 4-4 4 73 4-64 5 115 4-27 4 71 4-85 4 6 4 32 5 42 4-15 4-70 4 63 4 27 4-45 5-1 4 19 4-34 4 53 4-70 4 9 5 38 4 60 4-20 4-12 9 38 4-11 4 81 4 23 4-73 4 8 5-70 4-2 4 83 4-37 4 22 4-39 5-6 4-8 4 3 4 91 4 6 4 6 5-41 4-100 4 23 4-5 4 40"/>
<path style="marker:url(#m4)" d="M175 618l4 40 5 64 4-134 4 144 4-12 4-16 4-43 5 14 4 34 4-29 4 15 4 4 4-13 5-15 4 53 4-59 4-70 4 31 5 25 4 7 4 16 4 7 4 42 9 0 4-7 4 2 4-27 4-21 4 75 5-59 4 21 4 79 4-42 4 58 9-33 4-203 4 135 4-40 4-4 4 76 5-47 4-18 4 41 4-88 4-34 4-47 5-39 4 137 4 45 4-118 4 151 5-79 4-34 4-101 4 27 4 0 4 137 5 13 4-53 4-105 4 137 4-13 4 73 5-40 4 38 4-58 8-73 9 40 4-84 4 158 4-70 4 2 4-15 9 89 4 14 4 44 4-32 4-156 5 79 4 39 4-69 4-2 4 30 9 1 4 17 4-20 4-12 4 45 5 7 4-93 4 47 4 24 4-19 4 18 5-89 4 69 4-63 4 24 4-1 4 56 5-37 8 38 4-91 4 111 4-44 9 67 4-127 4 41 4 14 9 49 4-38 4 39 4-83 4 88 4-88 5 23 4 102 4 3 4-28 4-10 5 7 4-100 4 34 4-107 4-8 4 82 5-18 4 32 4 0 4-115 4 1 4 31 5-22 4-7 4 68 4-30 4-49 4 93 5 35 4 52 4-66 4 134 4-140 4-15 5-64 4 137 4 5 4 53 4 60 4-83 5-53 4 129 4-89 4-88 4 80 5 77 4-97 4-73 8 96 4 61 5-102 4 55 4-28 4 18 4-33 4-23 5 59 4-134 4 91 8-16 4-16 5-9 4 94 4-27 4 17 4-25 4 36 5-27 4 37 4-26 4 7 4 45 4-17 5-66 4-23 4 11 4 80 4-32 4 45 5-66 8 2 4-5 4-2 5-20 4 21 4-55 4 53 4-73 4 80 5 58 4-58 4 59 4-77 4 56 4-47 9 76 8-113 4-52 9 35 4 3 4-21 4-28 4-18 4-27 5 122 4-171 4 35 4-40 4 75 4 18 5-36 4-10 4 96 4-35 9-72 4-29 4 11 4 34 4-93 4 243 5-37 4 28 4 61 4-164 4 136 4-83 9 67 4-44 4-22 4-16 4 18 5 14 4 10 4-31 4 0 4-2 4-40 9 91 4-76 4-13 4-130 4 127 5 15 4 14 4 5 4 1 4 85 5-69 4-32 4-3 4-21 4 82 4-37 5-7 4-7 4 9 4-22 4-12 4 20 5 16 8 31 4-46 4-31 4 49 5 41 4 9 8-49 4 26 4 71 5-45 4 51 4-61 4-26 4-15 4 97 5 78 4-44 4 4 4 5 4 3 5-91 4 82 4-4 4-26 4-2 4-47 5 1 4 39 4-38 8-76 4 37 5-142 4 6 4-36 4 62 4 27 4 42 5-9 4-174 4 101 4 18 4 47 4 69 5-16 4 29 8 39 4 30 4 40 5-99 4-57 4-95 4 102 4-14 4 53 5-53 4 78 4-94 4 48 4 4 5 11 4-74 4 190 4-100 4-65 4-87 5 33 4-44 8 99 4-26 4 27 9-35 4 3 4-7 8-72 5 54 8 3 4 121 4-3 4 33 5-82 4 17 4 40 4 39 4-8 9 49 4-14 4-22 4 75 4-71 5 25 4-21 4 67 4-44 4 16 4 15 5-40 4 33 4 0 4-11 4-11 4-50 5 39 4-19 4 100 4-101 4 52 4-75 9 80 4-30 4-82 4 14 4-60 5-28 4 8 4-137 4 82 4-22 4-10 5-26 4 168 4-89 8 73 5 52 4 0 4 70 4-196 4 34 4-136 5 195 4 159 4-46 4-44 4-64 4 35 5-63 4-82 4 46 4 108 4 18 4 7 9-18 8-41 4-27 4 37 5-57 4 39 4-60 4 93 4-84 4-12 5 21 4 45 4 47 4 23 4-15 4 25 5-82 4 63 4-83 4-3 9-52 4 65 4-63 4 111 4-63 4 17 5 15 4 55 4 31 4-25 4-22 4-22 5 61 4-13 4 61 8-73 4 111 9-116 4 47 4 3 4-21 4-19 5 28 4-47 4-7 4 63 4-12 4-22 5-33 4-80 8 51 4 20 5 50 4 6 4-73 4 48 4-86 4 106 5-198 4 117 8 97 4-49 9-72 4-44 4 101 4 55 8-142 5 61 4-6 4-148 4 195 4 76 4-108 5 86 4-133 4 91 4-41 4 67 4-72 9 98 4-60 4-3 4-85 5 69 4 31 4-60 4-16 4 21 4-37 5 68 4-102 4 36 4 54 4 35 4-4 5-4 4-22 4 42 4-23 4 67 4 41 5-75 4 10 4-75 4 1 4 73 4-22 5 35 4-55 4-10 4 6 4 6 4 76 5-10 4 18 4-28 4-77 4-38 5 25 4 27 4-82"/>
<path style="marker:url(#m13)" d="M176 676l4 25 4 84 4-174 4 189 5-56 4-2 4-49 4 28 4 29 4 11 5-6 4-21 4 13 8 77 4-67 5-54 4 83 4-47 4 12 4 1 4-8 5 73 8-1 4-28 4-7 4 12 5-33 4 49 4-60 8 61 4-37 5 45 8 4 4-192 4 98 4-23 5 9 4 90 4-130 4 31 4 5 5 4 4-109 4 5 4-117 4 158 4 54 5-132 4 172 4-126 4-31 4-127 4-9 9 151 4 37 4-49 8 2 5 6 4 95 4-45 4 45 4-76 9-17 4-111 4 96 4-51 4 159 4-115 5 85 4-28 4 52 4 40 4-5 9 39 4-167 4 113 4 26 4-44 9 19 4-13 4-23 4 47 4-6 5-49 4 79 4-6 4-55 4 19 4 59 9-24 4-37 4 54 4-100 4 18 5-2 4 86 4-57 8 88 4-85 5 111 4-68 4 35 4 33 4-125 5 34 4 34 4 24 4 27 4-18 4 6 5-77 4 68 4-96 8 102 4-6 5-47 4-23 4 22 4-57 4 30 4-148 9 99 4 5 4-39 4 13 4-78 5-89 4 44 4 10 4-38 4 60 4-27 5-4 4 46 4 33 4 36 4-84 5 161 4-159 4-4 4-79 8 203 9 68 4-63 4-64 4 82 4-41 5-73 4 78 4 127 4-135 4-62 4 65 5 41 4 59 4-100 4 103 4-78 4 25 5-48 8 84 4-171 4 144 4-28 5 53 4-77 4-28 4 99 4 67 4-50 9-2 4-23 4 42 4-10 5-36 4 60 4-5 4-34 4-17 4-35 5 78 4-23 4 58 4-33 4-34 4-11 5-12 4 51 4-4 4 49 4-42 4 1 5-51 4 67 4 28 4-109 4 113 4-78 9 4 4-34 8 101 4-143 5 18 4 28 4-26 4 11 4-8 5-16 4-98 4-71 4 149 4-153 4 4 5-32 4 56 4 40 8-31 9-14 4 115 4-181 4-22 4 16 4-75 5-7 4 173 4 59 4-7 4 170 4-202 5 79 4-43 4 24 4 46 4-41 4-11 5-3 4 1 4 48 4-46 9-12 4 7 4 87 4-23 4-34 4-26 5-16 4-128 4 137 4-30 4 55 4 13 5-6 4 70 4-33 4-46 4-37 4 37 5 64 4 28 4-61 4 12 4 49 4-87 5 23 4 60 4-16 4 35 4 31 4-71 5-25 4 37 4 42 4 29 4-5 4-5 5 15 4 10 4-27 4 23 4-3 5 0 4-81 4 62 4 43 4-6 4 7 5-30 4 30 4-129 4 122 4-6 4-45 5-42 4-29 4 2 4 2 4-37 4-73 5-6 4 67 4-131 4-13 4-87 4 88 5 8 4 81 4 5 8-155 9 66 4 77 4 38 8-127 5 191 4-6 4 8 4-69 4-30 4-77 5 85 4-16 4 63 4-107 4 106 4-47 5 19 4 79 4-38 4-28 4 113 4-50 5-62 4-98 4 105 4-46 4 8 4 84 5-86 4 45 4 39 4-25 4 23 4-15 5-16 4-47 4 15 4 134 4-98 5 96 4-26 4 54 4-112 4 48 4 43 5 42 4 15 4-14 4 40 4 9 4-39 5 30 4-36 4 43 4-53 4 70 4-45 5 37 4 1 4-60 4 70 4-17 4 16 5-55 4-8 4-24 4-2 8-2 5 76 4-90 4 11 4 43 4-44 5-84 4-4 4 3 4-33 8-147 5 54 4-66 4 16 4-2 4 93 4-63 5 99 4-18 4 52 4 4 4 40 4-194 5 65 4-160 4 207 4 161 4-50 4-64 5-13 4-15 8-120 4 37 4 133 5 6 4 36 4 10 4-28 4 1 4-1 5-33 4 10 4-67 4 37 4-34 5 141 4-116 4 32 4-40 4 72 4 99 5-24 4-52 4 80 4-122 4 67 4-4 5 37 4-128 4 6 4 38 4-87 4 130 5-57 4-10 4 36 4 40 4 83 4-87 5 27 4-69 4 106 4 26 4-1 4 2 5-89 4 90 4-84 4 2 4 81 5-2 4 6 4-57 4 62 4-12 4-65 5 48 4-9 4 19 4-15 4-104 4 28 5-55 4 57 4 20 4 42 4-107 4 60 5-133 4 91 4-152 4 64 13 57 4 20 4-95 4-54 4 97 4 34 5-54 8-105 4 49 4-95 5 145 4 96 4-108 4 111 4-203 4 165 5-65 4 77 4-55 4-23 4 91 9-21 8 56 4-30 4-15 4 25 5-13 4-85 4 68 4 56 4-86 4 50 5 56 4-3 4-38 12 21 5 40 4 37 4-59 4-9 4-17 4-27 5 96 4-61 4 69 8-57 5-16 4-8 4 66 4 9 4 2 4-6 5-30 4 25 4 4 4 31 4-61"/>
<path style="marker:url(#m21)" d="M176 607l4 20 4 65 5-121 4 90 4-20 4-12 4 4 4 8 5 2 4-10 4 13 4 24 4-22 4-18 5 45 4-60 4-41 4 38 4 37 4 3 5 19 4-15 4 56 4-26 4 37 4-20 9-4 4-29 4 51 4-45 4 10 5 64 8-19 4-133 4-13 5-92 8 117 4 4 4-54 4-26 5-27 8-12 4-83 4-13 4 18 5 95 4 102 4-214 4 65 4 57 4-59 5-88 4-10 4-75 4 88 4 28 4 44 5-172 4 144 4 98 4 15 4-2 4 70 5-75 4-82 4 1 12 18 5 95 4-92 4 68 4-12 4 2 5 101 4-24 4 62 4-3 4-159 4 89 5 5 4 5 4-68 4 60 4-15 4 11 5 2 4 9 4-45 4 80 4-3 4-47 5 28 4 13 8-8 4-34 4 32 5-34 4 4 4-13 4 46 4-21 4-13 5 9 4-25 4 73 4-58 9 102 4-98 4 33 4 11 4 48 4-15 5-53 4 60 4-90 8 14 4 4 5 74 4-18 4-103 4 21 4 32 4-91 5-43 4-86 4 68 4 62 4-39 4 38 5-98 4-53 4 30 4-24 4 54 4-40 9 30 4-32 4 52 4 47 5 78 4-130 4 95 4-44 4-50 4-46 5 145 4-115 4 176 4 54 4-73 4 6 5-62 8-20 4 75 4 31 4-40 5-28 4 56 4-23 4 77 4-81 13-6 4-11 4 24 4-26 4-15 5 82 4-14 4-52 4 32 4-8 4 85 9-17 4-47 4 53 4-12 5 3 8 8 4 53 4-26 4-19 5-74 8 98 4-37 4 46 4-1 5-58 4-11 4 21 4 35 4-15 4 5 5-85 4 68 4-40 4 59 4 37 4-79 5 63 4-86 4 35 4-12 8-31 5-12 4-24 4-71 4 49 4-40 5 23 4-115 4-61 4 68 4 36 4-8 5-10 4-7 4-52 4 82 4-102 4 53 5-47 4-34 4 1 4 60 4-20 4 4 5-101 4 55 4-59 4 225 4 42 4-71 5 53 4-92 4 119 4-16 4-5 4-26 5 36 4 6 4 12 4-45 4-9 5 23 4 27 4-61 4 23 4 12 4 21 5 8 4-66 4 3 4-89 4 137 4-6 5 1 4-1 12 66 4-15 5-18 4-49 4 99 4-97 4 34 4-26 5-26 4 43 4-7 12 38 5-24 4 16 4-19 4 66 4 33 5-9 4-4 4-2 4-24 4 76 4-69 5 77 4-56 4-55 4 4 4 104 4 54 5-33 4-34 4 9 8-72 4 55 5-33 4 40 4-8 4-26 4-81 4-20 5 45 4-157 4 33 4-105 4-12 4 34 5-36 4 104 4-39 4 49 4-148 4-59 9 61 4 130 4 65 4-123 5 28 4 25 4 64 4 100 4-111 4 13 5 2 4-75 4-6 4 49 4 47 4-78 5 103 4-81 4 40 4 28 4 46 4-84 5 147 4-102 4-9 4-33 4-22 4 18 5 16 4 48 4-24 12 1 5 5 4-7 8-53 4 44 5 29 4-38 4 117 8 37 4-68 5 6 4 48 4-19 4 18 4 72 4 1 5-8 4-25 4 42 4-32 4 39 4-24 5 60 8-64 4 37 4-35 4 20 5 18 4-22 4-6 4-67 4 58 4-8 5 75 4-84 4 13 4-71 4 11 5 14 4 38 4-74 4-130 4-28 4 74 5-70 4-88 4 24 4-55 4 56 9 15 4 51 4-35 4 16 4 43 4 68 5 21 4-87 4 8 4-170 4 188 4 42 5 72 4-27 4-62 4-24 4-4 4-112 5 94 4 99 4 16 4 2 4-14 4 41 5-2 12-24 4-23 5 31 4-51 4 34 4-24 4-16 4 9 5 33 4 14 4 54 4-1 4 42 4-70 5 33 4-67 4-24 4-28 4 6 4 47 5-49 4 70 4-16 4 1 4 10 4 58 5 36 4-41 4-4 8 31 4 24 5 36 4 0 4-67 4 116 4-117 5-16 4 72 4-14 4 22 4-65 4 41 5-35 4-41 4 42 4 30 4-41 4-31 5-109 4 91 4-56 4 68 4-14 4 15 5-54 4-22 4-89 4 41 4-26 4 60 5 56 4 56 4-54 4 8 4-50 4-44 5-47 4 67 4-76 4-79 4-6 5 75 8 25 4 31 4-15 4 49 5-59 4 87 4 13 4 60 4-61 4-33 5 65 4 0 4 4 4-54 4 18 4 50 5-42 4 5 4-6 4-19 4 66 4-54 5-13 4 45 8 37 4-11 4-6 5 33 4 0 4 77 4 17 13-119 4-24 4 83 4-49 4 41 5-20 4-36 4 17 4 3 4 95 4-9 5 8 4-35 4-87 4 1 8 37 5-62"/>
<path style="marker:url(#m1)" d="M175 613l8 122 5-159 4 159 4-5 4-34 4-40 4 10 5 37 4-30 4 36 4-3 4-36 5 2 4 77 4-76 4-69 8 60 5 7 4-1 4 3 4 70 4-41 9 7 4-8 4-6 4-7 4 66 4-42 5 5 4 64 8-15 4-81 4 79 5-210 4 96 4 12 4 18 4 62 4-107 5 16 4 24 4 15 4-98 4-81 5-14 4 131 4 85 4-197 4 212 4-121 5-19 4-114 4 15 4 6 4 153 4 1 5-62 4-78 4 121 4-14 4 60 4 11 5 10 4-54 4-9 4-38 4-110 4 126 5-82 4 156 4-99 4 56 4-32 4 23 5 63 4-10 4 69 4-41 9-42 4 40 4-97 4 7 4 17 4 2 5 0 4 22 4 8 4-12 4 51 4 24 5-148 4 74 4 15 8 13 9-12 4-67 4 20 4-5 4-9 4 20 5-31 4 110 4-136 4 112 4-70 4 29 5 75 4-129 4 41 4 11 4 17 5 32 4-54 4 89 4-116 8 5 5 20 4 65 4 5 4-7 4-21 4 7 5-57 4-41 4-61 4-5 4 97 4-5 5-16 8-134 4 16 4 32 4 0 5-30 4 8 4 61 4-45 4 34 4 32 5 53 4-76 8 24 4-12 4-69 5 130 4 45 4 12 4 53 4-82 5-43 4 86 8-117 4 77 4 91 5-97 4-55 4 41 4 14 4 89 4-145 5 148 4-110 8-5 4 8 4 13 5-97 4 94 4-23 4 32 4-34 4-20 5 108 4-13 4-11 4 19 4 7 4-28 5 54 4-36 4-29 4 44 4 8 5-57 4-12 4-31 4 80 4-33 4 58 5-43 4-45 4 28 4-24 4 39 9-14 4-32 4-2 4-45 4 72 4 99 5-109 4 78 4-59 4-24 4-17 9 126 4-41 4-89 4-59 4 71 4-62 5-10 4 31 4-100 4-59 4 50 5 109 4-154 4 38 4-65 4 110 4 4 5-38 4-39 4 135 4-64 4 85 4-149 5-29 4 23 4-77 4-23 4 197 4 53 5-26 4 119 4-165 4 98 4-55 4-6 5 96 4-107 4 23 4 9 4 9 4-13 5 17 4-24 4-7 4 28 4-43 4 62 5 6 4-80 8-116 4 119 5 10 4 2 4 13 4 26 4 65 4-35 5-42 4-34 4-5 4 67 4 29 4-49 5-42 4 47 4-45 4-5 4 29 4-10 5 15 4 34 4-39 4-19 4 42 4 28 5 19 4 13 4-38 4 25 4 34 4-59 5 62 4-47 4-28 4-15 4 110 5 66 4-49 4-4 4-31 8-45 5 118 4-40 4-32 4 29 4-67 4-1 5 18 4-25 4-121 4 31 4 74 4-192 5 55 4-68 4 60 4 31 4 46 4 0 9-119 4 38 4 28 4 113 4 19 5-91 4-65 4 201 4-19 4 55 5-113 4-68 4-58 4 59 4 23 4 36 5-79 4 83 4-100 4 110 4 6 4 11 5-35 4 156 4-65 4-133 4-45 4-10 5-25 4 61 4 40 4-29 4 30 4 46 5-65 4-3 4 15 8-63 4 37 5 8 4-22 4 119 4-21 4 62 5-90 4 47 4 34 4 5 4 1 4 50 5 26 4-12 4-20 4 29 4-56 4 65 5-52 4 57 4-48 4 17 4-1 4-21 5 21 8 22 4-13 4-86 4 48 5-6 4 109 4-89 8-47 4 44 5 0 4-13 4-58 4-43 8-68 5 6 4-124 4 45 4-43 4 30 5-32 4 108 4-12 4 56 4 34 4 29 5-34 4 86 4-166 4 31 4-166 4 217 5 157 4-30 4-59 4-18 4-10 4-71 5-87 4 72 4 52 4 75 4 4 4-31 5 1 4 19 4-56 4 6 4 12 4-38 5 35 4-60 4 126 4-107 4-21 5 5 4 87 4 40 4-23 4 8 4 48 5-92 8 11 4-60 4-8 4-34 5 94 4-98 4 102 4-28 4 8 4-11 9 172 4-85 4-22 4-52 4 87 5 4 4 70 4-29 4-64 4 102 4-115 5 12 8 32 4 0 4-19 5 44 4-74 8 26 4 45 4-6 5-83 4-72 16 121 5-11 4-70 4 52 4-110 8-53 5 106 4 65 8-2 4-16 4-82 5-54 4 97 4 66 8-140 13-93 4 183 4 43 4-62 4 94 5-201 4 141 8 26 4-67 5-31 4 133 4-34 4-18 4-98 4 65 5 38 4-53 4 9 4 14 8 31 5-80 4 16 4 43 4 27 4 40 4-44 5 23 4-17 8 81 4 41 4-78 5 8 4-86 4 11 4 86 8-6 5-36 4-45 4 25 4-7 4 94 5 0 4 25 4-71 4-44 4-28 9 27 4-57"/>
<path style="marker:url(#m8)" d="M175 607l5 32 4 58 4-120 8 82 4 24 5-32 4 8 4 40 4-24 4 13 4-25 5 9 4 6 4 42 4-46 4-60 5 41 4 36 4-16 4 25 4 6 4 56 5-61 4 67 4-28 4 15 4-15 4-28 5 96 4-73 4 6 4 40 4-33 4 56 5-129 4 91 4-214 4 136 4-16 4 19 5 47 4-78 4 30 4-21 4 34 4-104 5-72 4-18 8 177 4-98 5 136 4-110 4 6 4-119 4 83 4-94 5 202 4 12 4-101 4-133 4 191 4-28 5 33 8 30 4-12 4-14 4-91 5-70 4 101 4-62 8 34 4 27 5-2 4 40 4 65 4 16 4 22 4-50 5-170 4 101 4 27 4-52 4-32 4 50 5-4 4 10 4-10 4-13 4-22 5 57 4 18 4-55 4 36 4 34 4-56 5 57 4-72 4 76 8-66 4-12 5 42 4-31 4 7 4 68 4-74 4 128 5-64 4 32 4 68 4-152 4 67 4 2 5 4 4 30 4-30 4 59 4-96 4 86 5-130 4 99 4 38 8-40 5-38 4-3 4-60 4-48 4-88 4 80 5 57 4-23 4 34 4-45 4-73 9 18 4 15 4-61 4 99 4-60 4 12 9 94 4 3 4-22 4 142 4-125 5-50 4-28 4 134 4 21 4 17 4 64 5-59 8 57 4-131 9 21 4 56 4-107 4-17 4 37 4 39 5 51 4-116 4 96 4-70 4-5 4-11 5-29 4 31 4-94 4 99 4-1 4-3 5-15 4-22 4 57 4 26 4-33 4-10 5 48 8 11 4 7 4-29 4 42 5-15 4-42 4-26 4 8 4 84 5-32 4 78 4-56 4-42 4 29 4 9 5 71 4-99 4 101 4-111 4 60 4-62 5 68 8-25 4 34 4-71 4 72 5-64 4-41 4 153 4-51 4-91 4-65 5 63 4-55 4-1 4-10 4 8 4-77 5-40 4 137 4-131 4 21 4-37 9 102 4-36 4 32 4 39 4-33 5 144 4-223 4-32 4 37 4 32 4-119 9 231 4-10 4 93 4-120 4 81 5-47 4-5 4 53 4-26 4-61 4 12 5-29 4 55 4-32 8-42 4 22 5-28 4 54 4-16 4-82 4 39 4-127 5 122 4 4 4-15 4 8 4 30 5 75 4-50 4-27 4 6 4-25 4 70 5-52 4-37 4 24 4 35 4-33 4 19 5 0 4 9 4 10 4 15 4 1 4-44 5 67 4 31 4 28 4-6 4 11 4-4 5 53 8-2 4-58 4 4 4-27 5 82 4 53 8-17 4-31 5 50 4-113 4 88 8-61 4 7 5-53 4-14 4 32 4-48 4-100 4 66 5 29 4-164 4 34 4-55 4 50 4 4 5 81 4 31 4-205 4 58 4 22 4 55 5 84 4 64 4-96 4-39 8 172 5-10 4-65 4-56 4-69 4 53 4 34 5 56 4-103 4 32 4-31 4 1 5 110 4-68 4-25 4 166 4-99 4-74 5-85 4 21 4-32 4 48 4 64 9-20 4 15 4-6 4-66 4 29 4-3 5-74 8 80 4-12 4 123 4-26 5 29 4-71 8 83 4 20 4 19 5 33 4 42 4-8 4-11 4 23 9 25 4-70 4 87 4-76 4 73 5-5 4-71 4 64 4-39 4 61 4-71 5 4 4-28 4-18 4 107 4-63 4 29 5-90 4 24 4 49 4-61 4-62 4-8 5-42 4-18 4 9 4-162 4 90 4-46 5 16 4 10 4 97 4-69 4 50 17 145 4-192 4 75 5-166 8 343 4-39 4-59 4-34 5-7 4-32 4-59 4 15 4 125 4-4 5 41 4-25 4-41 4 15 4-16 4-36 9-34 4 56 4-79 4 90 4-87 5-24 4 37 8 65 4 31 5-13 4 34 4-68 4 78 4-87 4-10 5-28 4-38 4 69 4-64 4 108 4-48 5 19 4-6 4 64 4 66 4-38 4-20 5-50 8 119 4 35 4 1 4-87 5 113 4-113 4 4 4 87 4-33 4 27 5-58 8 8 4-34 4 41 4 43 5 12 4-66 4-105 4 42 4-28 5 43 4 9 4 22 4-77 4 6 4-60 5 107 8-88 4 137 8-71 5-5 4-81 4-16 4 98 4 52 4-53 5-74 4 53 4-45 8 141 4-19 5-54 4 69 4-167 4 104 4-22 4 57 5-70 4-31 4 116 4-43 4-13 5-93 4 90 4 13 4-37 4-32 4 27 5-53 4 67 4-61 4 1 4 60 4 42 5-1 4-12 4 0 4-9 4 7 4 41 5 59 4-88 4 20 4-74 4 0 4 79 5-22 4 22 16-46 5 88 4 13 4 17 4-51 4-34 5-12 4-25 4 57 4-30"/>
<path style="marker:url(#m17)" d="M176 583l4 32 8-63 5 116 4-89 4 13 4 28 4-9 4 20 5-6 4-27 4 71 8-87 9 16 4-21 4-2 4 73 4-12 4 26 5-15 4 56 4-49 4 74 4-64 4 0 5 14 8 12 4-7 4 2 9 19 4 8 4-139 4-86 4-6 5 121 4-27 4 8 4-26 4-83 4 34 5 64 12-247 4 63 4 85 5 38 4-141 4 6 4 128 4-61 4-104 5-96 4-51 8 67 8-11 5 72 4 123 4 77 8 35 4-62 5-159 4 29 4 17 4 56 4-14 4 125 5-177 4 119 4 17 4-21 4 124 5-6 4 37 4-6 4-161 4 80 4 33 5-34 4-82 8 128 4-63 4 61 5-45 4 6 4 53 4 0 4-44 4 46 5 20 8-10 4-46 4-2 4 0 5 9 4-4 4 2 4 4 4 1 4 30 5-28 4 61 4-35 4 27 4 1 5-40 4 21 4 3 4 23 4-8 4-84 5 85 8-50 4-12 4-21 4 68 5-24 4-99 4 54 4 8 4-97 4-20 5-74 4 53 4 93 4-69 4 57 4-249 5 80 4-4 4-15 4 63 8-31 9 13 4 8 4 66 4 79 5-112 4 71 4-20 8-90 4 115 5-188 4 260 4 28 4-39 4-25 4-85 5 68 4-42 4 116 4-64 4 23 4-24 5 29 4 7 4 74 4-64 4-1 4-54 5 49 4-43 4 13 4 44 4-58 4 99 5 2 4-94 4 41 4-20 4 79 9 8 4-50 4 54 4-17 4 20 5 13 4-15 4 38 4-39 4 6 4-86 5 66 8 27 4 3 4 9 4-36 5 4 4-30 4 89 4-21 8-67 5 3 4-19 4 30 4 107 4-121 4 98 5-92 4 9 4-26 4 1 8-27 5-89 4 13 4 22 4-29 4 12 5-65 8-33 4 45 4 42 4-96 5 7 4-36 4 104 4-168 4 86 4-37 5-77 4 49 4 32 4-14 4 22 4-100 5 53 4-43 4 179 8-44 4-1 5-39 4 172 4-54 4 0 4-89 4 116 5-1 4 28 4-51 4 1 4 24 5 11 4-33 4 5 4 21 4 30 4-2 5-89 4 29 4-63 4 111 4-5 4-26 5-3 4 40 4 112 4-61 4-34 4-8 5-15 4 65 4-72 4 4 4-23 4 31 5 23 4-30 4 44 4 9 4-24 4 30 5-3 4-8 4 23 4 49 8 2 5-4 4-7 4 43 4-47 9 25 4-68 4 14 4 78 4 69 4-47 9 3 4-13 4-83 4 33 4-1 5 33 8-27 4-74 4 18 9-191 8-7 4-48 4 63 4-41 5 53 4 1 4 11 12-109 5-13 4 124 4 65 4-116 4 30 5 16 8 147 4-67 4 17 4-41 5-76 4-1 4 59 4 68 4-128 4 106 5-63 4 67 4 11 8-44 4 111 5-80 4-4 4-17 4-25 4 17 9 54 8 2 4 41 4-18 4-39 5 12 4-4 4-51 4 32 4 63 5-29 4 98 4-19 4 25 4-73 4 30 5 45 4 0 4-3 4 71 4 25 4-13 5-14 4 28 4-55 4 63 4-29 4 44 5-28 4 11 4-1 4-11 4 15 4 8 5-17 8-73 4 43 4-15 4 85 5-109 4 51 4-89 4 40 9 12 4-83 4-64 4-41 4 13 4-22 5-112 4 15 4-21 4 40 8 44 5 27 4-56 4 86 4 16 4 54 4-7 5-98 4 25 4-148 4 203 4 15 4 65 5-8 4-77 4-4 4-40 4-92 4 100 13 76 4 21 4 28 4-2 5-46 4 9 4 29 4-48 4 24 5-47 4 57 4-65 4 22 4-3 4 36 5 22 4 33 4-6 4 71 4-75 4 49 5-58 4-13 4-66 4 13 4 33 4-38 5 91 4-39 4 10 4 19 4 67 4 19 5-24 4-8 4-61 4 80 4-16 9 78 4-90 4 119 4-117 4 6 5 66 4-20 4 36 4-34 4-4 4-48 5-23 4 55 4 19 4-15 4-78 4-74 5 61 4-26 4 59 4 0 4-7 9-81 4-38 4 70 4-92 4 47 4 82 5 24 4-33 4-5 4-72 4-54 4-4 5 64 4-63 4-82 4-57 4 135 9 16 8-15 4 96 4-117 5 139 4-21 4 47 4-67 4-5 4 85 5-8 4-21 4-71 4 76 4 30 9-61 4 25 4-46 4 64 8-53 5 56 4 27 4 8 4-23 4 20 9-3 4 69 8-29 4-22 4-59 5 14 4 69 4-21 4 13 4-25 5-49 4 21 4 9 4 69 4 28 9-23 4-83 4 3 4-13 4 30 4-58"/>
<path style="marker:url(#m6)" d="M175 586l5 58 4 25 4-90 4 71 4-51 9 36 4-3 4 7 4-7 8 37 9-42 4 49 4-38 4-70 4 36 5 24 4 34 4-18 4 8 4 65 4-36 5 27 4-31 4 20 4-1 4-38 4 79 9-46 4 61 4-31 4 31 5-159 4 71 4-120 4 111 4-34 9 72 4-55 4 17 12-64 5-39 4-52 4 130 4 71 4-154 4 216 5-158 4-30 4-78 4 54 4-14 4 160 5-9 4-69 4-89 4 123 4-8 4 56 5-12 4 40 4-58 4-44 4-50 5-78 4 95 4-58 4 139 4-106 4 53 5-24 4-13 4 119 8 17 4-33 5-149 4 59 4 45 4-60 4-49 4 49 5-3 8 6 4 39 4-47 4 61 5-4 4-63 4 33 4 22 4-10 4 1 5-24 8-9 4-8 4 13 4 22 5-26 4 28 4-28 4-34 4 106 5-69 4 83 4 8 4-77 4 12 9 82 4-43 4-53 8-27 4 23 5 9 4-1 4 56 4-9 8-33 5-8 4-36 8-127 4 45 9 64 4 45 4-8 4-116 4-4 4 60 5-2 4-39 4 80 4-18 4-44 9 106 4 27 4-26 4 138 4-123 5-49 4-33 4 132 4 34 4-38 4 57 9-114 4 107 4-68 4-54 4 80 5 39 4-89 4-43 4 39 4 49 4 39 5-103 4 52 4-45 4 16 4-58 4 16 5 1 4-81 4 94 4-6 4-51 5 12 4-16 4 92 4-56 4 34 4-37 5 33 4-16 4 26 4 10 4 18 4 24 5-29 4-26 4-45 4 29 4 76 4-19 5-14 4-7 4-15 4 8 8 33 5-18 4-46 8 37 4-65 9 106 4-46 4 56 4-54 4-35 4-20 5 3 4 58 4-46 4-48 4-38 5 62 4-38 4 31 4-72 4 4 4 6 5-22 4 108 4-141 4 48 8 34 5 35 4-49 4 60 8 19 4 91 5-201 4-2 4 1 4 15 4-69 4 170 5 26 4 21 4 95 4-201 4 136 9-65 4 45 4-17 4-54 4 7 5-24 4 62 4-68 4-5 4-2 4 9 5-25 4 29 4-1 4-103 4 50 4-100 5 76 4 25 4 6 4-13 4 12 4 82 5-44 4-26 4-1 4-12 4 65 4-91 5 6 4-43 4-8 4 81 4-7 4 28 5 9 4-8 4 7 4-14 4-11 5 42 4 55 4-24 4 33 4-14 4 5 5 44 4-68 4 64 4-39 4-36 4-7 5 75 4 38 4-4 4-8 4-1 4-7 9 8 4-22 4 4 4 12 4-31 5-33 4 21 4-27 4-72 4-4 4 79 9-113 4-66 4 69 4-8 4 87 5 8 4-192 4 87 4-27 4 72 5 71 4 12 4-1 4-72 4 152 4 20 5-27 4-57 4-40 4-104 4 86 4-12 5 119 4-131 4 51 4-52 4 35 4 45 5-22 4-81 4 158 4-78 4-91 4-53 9 26 4 17 4 25 4-2 4 10 5 30 4-59 4-2 4 13 4-58 5-69 4 107 4 9 4-1 4 90 4-7 5 38 4-67 4 6 4 79 4-50 4 20 5 57 4 29 4 9 4-69 4 79 4-43 5 42 4-19 4 39 4-20 4-34 4 62 5-45 4 22 4 4 4-22 4 11 4-120 5 102 4-12 4 67 4-84 4 16 5-55 4 50 4-29 4 27 4-71 4-58 5 16 4-23 4-2 4-134 8 54 5-5 8 150 4-69 4 58 4 12 5 34 4 27 4 36 4-183 4 85 4-173 5 255 4 55 4 12 4-69 4-26 4 9 5-89 4-47 4 29 8 164 5-36 4-34 4-2 4 32 4-68 4 0 5-2 4-28 4 24 4-57 4 51 4-59 5 29 4-20 4 65 4-30 4 67 4-17 5 21 4-21 4 39 4-97 4-43 4-2 5 7 4 36 4-47 4 100 4-41 4-3 5 21 4 68 4 16 4-35 4 1 9 26 4 11 4 64 4-16 4-49 5 93 4-106 4 2 4 53 4-7 4 5 5-65 4 55 4-44 8 28 9-42 4-27 4-107 4 87 4-27 4 75 5-5 4 20 4-60 4 5 4-93 4 105 5-128 4 85 4 116 4 1 4-31 4 2 5-70 4-41 4 95 4 45 4-85 5-29 4 22 4 14 8 60 4 48 5-37 4 34 4-148 4 126 4-84 4 84 5-85 4-37 4 137 4-46 4-17 4-78 5 51 4 19 4-36 4-2 4 7 4-38 5 59 4-105 4 56 4 28 4 58 4-7 5-39 8 31 8 57 5 38 4-71 4-7 4-53 4 10 4 37 9 29 8-96 4 26 4 37 5 59 4 1 4-4 4-24 4-115 4 37 5-51 4 43 4-21"/>
<path style="marker:url(#m11)" d="M176 704l4-6 4 56 8 44 4-52 5-8 4-64 4 24 4 36 4 17 4 33 5-20 4-27 4 26 4 41 4-44 4-63 5 106 4-2 4-34 4-32 4 22 5 48 4 0 4 0 4-44 4 15 4 5 5-6 8-18 4-3 4 41 9 29 4-115 4 99 8-48 4-52 9 111 4-128 4 27 4 11 4-9 5-149 4-12 4-42 8 208 4-160 5 203 4-157 4-8 4-109 4 58 9 53 4 85 4-99 4-77 4 126 5-1 4 71 4-10 4 5 4-48 4-11 5-67 4-34 4 63 8 117 9-48 4-60 4 111 4 21 4-18 4 54 5-7 4-181 4 112 4 60 4-88 4-37 5 62 8 7 4-45 4 47 4-44 5 82 4 34 4-103 4 40 4 8 5-42 4 38 4-31 4 25 4-64 4 29 5-31 4 139 4-106 4 76 4 11 4-47 13 53 4 36 4-139 4 72 5-28 4 57 4 16 4-15 4 22 4-103 5 49 4-87 4 31 4 89 4 20 4-40 5-56 8-35 4 83 4-163 5-25 4 94 4 10 4-6 4 1 4-101 5-70 4 49 4-23 4-28 4 61 4 0 5-14 4 71 4-13 4 40 4-68 4 116 5-95 8-30 8 90 4 46 5 41 4-11 4-105 4 139 4-72 4-94 5 76 4 102 4-103 4-66 4 64 4 27 5 69 4-103 4 101 4-101 4 32 5-31 4 64 4-2 4-148 4 135 4-21 5 34 4-71 4-22 4 107 4 56 4-22 5-60 4 31 4-40 8 37 4-37 5 98 4-24 4-41 4-17 4-31 4 69 5 9 4 35 4-37 4-44 4 22 4 12 5 67 4-53 4 48 4-60 4 38 5-59 4 60 4 28 4-96 4 73 4-28 5-2 4-36 4-48 8 122 4-138 5 22 8-27 4 41 4 47 4-84 5-82 4-58 4 130 4-152 4 22 4-74 5 109 4 2 4-50 4 28 4 31 4 1 5 91 4-183 4-33 4-6 4-2 5-59 4 212 4 29 4-9 4 96 4-170 9 72 4 17 4 29 4 23 4-80 5 27 4-3 4 52 4-33 4 1 4-12 9 65 4-16 4-47 8-55 5-122 4 138 4-8 4 35 4 8 4 23 9 27 4-64 4-3 4 4 9 128 4-77 4 21 4 44 4-108 5 33 4 58 4-15 4 31 4 25 4-71 5-17 4 42 4-15 4 87 4 9 4-48 5 35 4-4 4-7 4 21 4-36 4 50 5-84 4 58 4 30 4-22 4 8 4-27 5 57 4-143 4 134 4-24 4-35 4-11 5-42 4-22 4 28 4-26 4-99 9 58 4-111 4-12 4-78 4 59 9 83 4-11 4-163 4 70 4 51 5 12 4 49 4 14 4-25 4-71 4 194 5-2 4 22 8-114 4-86 4 78 5-18 4 62 4-40 4 45 4-42 4 8 5 76 4-34 4-39 8 84 5-46 4-116 4 70 4 3 4-29 4 89 5-95 4 59 4 18 4-23 4 13 4-41 5 11 4-34 4 27 4 114 4-95 4 114 5-31 4 49 4-97 4 40 4 30 4 54 5 15 4-10 4 49 4-16 4 16 4 1 5-62 4 46 4-36 4 64 4-43 5 38 4-5 4-57 4 45 4-4 9-13 4 2 4-50 4-30 4 118 4-76 5 70 4-91 8 31 4-49 4-54 5 6 4 12 4-76 4 26 4-159 4 63 5-63 4 20 4-30 4 174 4-109 4 54 5 18 4 36 4-7 4 88 4-192 4 39 5-176 4 233 4 146 4-34 9-80 8-51 4-79 4 24 4 147 5 9 4 34 4-19 4-7 4-26 4 10 9-9 4-59 4 51 4-91 4 186 5-157 4 43 4-34 4 64 4 74 9-52 4 94 8-61 4 32 4-1 9-107 4 9 4-82 4 147 5-54 4-8 4 25 4 47 4 78 4-62 5 3 4-72 4 99 4 27 4 3 4 5 5-92 4 94 4-82 4 4 4 76 4-21 5 26 4-43 4 33 4-23 4-43 4 35 5 9 4 27 4-52 4-108 4 50 4-40 5 55 4 24 4 48 4-146 4 97 5-146 4 107 4-159 4 61 4 130 4-43 5-36 4 7 4-81 8 70 4 54 5-91 4-46 8-4 4-106 4 218 5-26 4-11 4 52 4-126 4 97 4-70 5 92 4-67 4-31 4 120 4-26 4-9 5-89 4 132 4-21 4-28 8 17 5-82 4 80 4 61 4-98 4 38 5 41 4 20 4-39 4 26 4-30 4 21 5 51 4 31 4-76 4 5 4-34 4-7 5 91 4-36 4 38 4 5 4-77 4 7 5-35 4 109 4-14 4 19 4-2 4-32 5-5 4-4 4 59 4-90"/>
<path style="marker:url(#m15)" d="M176 662l4 0 4 92 4-162 4 166 5-17 4-20 4-28 4-3 4 25 4 15 5-20 4 11 4 6 4-1 4 52 4-56 5-39 4 67 4 26 4-47 4 10 5 10 4 64 4-34 4 25 4-33 4 12 5-14 4-25 4 76 4-80 4 17 4 67 5-40 4 30 4-87 4 66 4-188 4 96 5-8 4 1 4 78 4-71 4-53 4 49 5-8 4-108 4-58 4-24 4 109 4 97 5-246 4 199 4-87 4-30 4-133 4-33 5 76 4 43 4 80 4-29 4-146 5 138 8 96 4-1 8-28 5-39 4-6 4-81 4 107 4-51 4 156 5-130 4 81 4-41 4 19 4 64 4 22 5 48 4-12 4-159 4 97 4 51 4-101 5-17 4 71 4-23 4 15 4 13 4 20 5-66 4 75 4 29 8-51 5 26 4-63 4 50 4-69 4 70 4-61 5-5 4 7 8 18 8 92 5-75 4 91 4-39 4 6 4 70 4-123 9 49 4 37 4 21 4-24 4 9 5-57 4 49 4-104 4 33 8 57 5 29 4-79 4 28 4-119 9-82 4-21 4 129 8-17 4-19 5-134 4 19 4 7 4 3 4-19 4 23 5 18 4-46 4 44 4 33 4 51 9 63 4-141 4-7 4-72 4 137 4 1 9 105 8-117 4 42 4 11 5-63 4 38 4 101 4-99 4-41 4 65 5 8 4 100 4-112 4 88 4-72 5 13 4-20 4 30 4 25 4-141 4 107 5-2 4 27 4-34 4-35 4 117 4 23 5-11 8-37 4 4 8 9 5-17 4 40 4 18 8-73 4-12 9 85 4 13 4-19 4-57 4 8 5 42 4 68 4-58 4 53 4-96 5 43 8 37 4 35 4-147 4 113 5-80 4 46 4-27 4-62 4 113 4-2 5-145 4-12 4 22 4-9 4 15 9-68 4-45 4-43 4 116 8-142 5-62 4 109 4 29 4-110 4 19 4 71 5 38 4-24 4-116 4-15 4-23 5-35 4-20 4 188 4 59 4-43 4 117 5-129 4 93 4-60 4-3 4 62 4-63 5 30 4-2 8 48 4-43 9-15 4 22 4-22 4 76 4-9 4-75 5-1 4-113 4 129 4-22 4 62 4-26 5 57 4 38 4-34 4-45 4-5 5-26 4 83 4 8 4-34 4 41 4-4 5-66 4 35 4 14 8 9 4 59 5-57 4-29 4 35 4 45 4 41 4-6 9 36 4-5 4-27 4 40 4-38 5 3 4-41 4 53 4 34 4-18 4-14 5-29 4 65 4-134 4 112 4-22 4-39 5-18 4-25 8-22 4-21 5-92 4 23 4 41 4-172 4 60 4-85 5 62 4-9 4 90 8-209 4 108 5-15 4 43 4 79 4 25 4-109 4 7 5 134 4 30 4 16 4-60 4-104 4-37 5 42 4 32 4 70 4-114 4 112 9-11 4 38 4-7 4-42 4 170 5-67 4-103 4-90 4 60 4-16 4-6 5 98 4-61 4 27 8 11 4 8 5-31 4 15 4-40 4 17 4 77 4-65 5 98 4-8 4 77 4-130 4 76 4 15 5 69 4-51 4 41 4 57 4-14 9 19 4-57 8-5 4 60 9 15 4-3 4-52 4 30 4-10 5 33 12-75 4-37 4 110 5-82 4 85 4-113 4 25 4 42 4-73 9-72 4-26 4-41 4-11 9-89 4-36 4-30 4 47 4 81 4-73 5 72 4 24 4 18 4-23 4 77 4-148 5 20 4-157 4 167 4 167 4 25 5-78 4-46 4 51 4-113 4-59 4 73 5 55 4 82 4-9 4-12 4 19 4-10 5-33 4 2 4 26 4-80 4 79 4-76 5 155 4-108 4-24 4 4 4 68 4 73 5-15 4-15 4 62 4-108 4 67 4-27 5-17 4-56 4-40 4 85 4-87 5 110 4-58 4 15 4 30 4 22 4 106 5-55 4-20 4-67 4 113 4-2 4 40 5-1 4-105 4 109 4-81 4-15 4 102 5-23 4 17 4-60 4 35 4-28 9 33 4-8 4 31 4-83 4-66 4 41 5-91 4 79 4 35 4 12 4-105 5 49 4-106 4 83 4-149 4 78 4 103 5 1 4-52 4-3 4-77 4-63 4 112 5 33 4-97 4-56 4-52 8-15 5 150 4 55 4-71 4 116 4-205 4 175 5-51 4 81 4-101 4-13 4 67 4 7 5 15 4-101 4 90 4 26 4-72 5 40 4 6 4-69 4 91 4-8 4-50 5 46 4 56 4-23 4 19 4 2 4-22 5 39 4 34 4 47 4-92 4 13 4-50 5-14 4 105 4-60 4 47 4-11 4-35 5-4 4-5 4 84 4-1 4 7 4-17 5-44 4 49 4-12 4 41 4-61"/>
<path style="marker:url(#m19)" d="M176 591l4 38 4 38 4-105 5 59 4-32 4 10 4 32 4-16 4-4 5 16 4-38 12-23 9 27 4-19 4 9 4 37 4 11 5 19 4 13 4 28 4-14 4 24 4-39 5 31 4-12 4-13 4 20 4-2 4-9 5 35 4-4 4-11 4-110 4-113 4 12 5 95 4-35 4-12 4 55 4-127 4 0 5 107 4-186 4-19 4-2 4 35 4 66 5 50 4-137 4 11 4 63 4-35 4-72 5-93 4-18 4 91 4-93 4 181 5-183 4 101 4 116 4 59 4-5 9-29 4-151 4 57 4-15 4 68 4 6 5 111 4-162 4 122 4-4 4-34 4 88 5 16 4 76 4-3 4-166 4 76 4 14 5-22 4-91 4 120 4-9 4-49 4 39 5 8 4-9 8 32 4-14 5 14 4 36 4-25 4 14 4-52 4 15 5 2 4 11 4-5 8-9 4 27 5-18 4-17 4 73 4-67 4 67 4-25 9-28 4-5 4 74 4-33 4-53 5 32 4-47 4 24 4-1 4-50 4 66 5 13 8-98 4 48 4-82 5-58 4-109 4 50 4 119 4-63 4 70 5-182 4 9 4 24 4-40 4 110 4-20 5-59 4 48 4-31 4 32 4 69 4 47 5-98 4 124 4-66 4-54 8 50 5-110 4 190 4 46 4-36 4-35 4-37 5 24 4-22 4 102 4-56 4 38 5-57 4 42 4 3 4 72 8-78 5-24 4 39 4-43 4 62 4-47 4-24 5 87 4-4 4-60 4 28 4-3 4 67 9-16 4-22 4 48 4-22 4-11 5 38 4 6 4 8 4-31 4 5 9-25 4 68 4-26 8 5 4-7 5-16 4-44 4 79 4-29 4-38 5 27 4-23 4-28 4 50 4 88 4-89 5 29 4-28 4-29 4 0 4 0 4-86 5 38 4-46 4 16 4-61 4 12 4-1 5-90 4-44 4 30 4 71 4-20 4-6 5-15 4-31 4 70 4-155 4 105 4-68 5-88 4 54 4 76 4-28 9-107 8 48 4 173 4 32 4-49 5-30 4-8 4 114 4-4 4-12 4-91 5 106 4 12 4 5 4-27 4-34 4 37 13-19 4 5 4 36 4-19 5-76 4 63 8 12 4 17 4-44 5 16 4 30 4 92 4-92 4 31 5-19 4 5 4 47 8-96 4-5 5-32 4 92 4-46 4 77 8-36 5-1 4 14 4-14 4 53 4 44 4-68 5 73 4-19 4-8 4 55 8 18 5-35 4-80 4 37 4 55 4 53 4-44 5-35 4 39 4-35 4-34 4-5 4-35 5 88 4 7 4-17 4-123 4 11 5 20 4-165 4 78 4-162 4-31 4 113 5-57 4 85 4 1 4 22 4-195 4-29 5 39 4-18 4 176 4 78 4-169 4 7 5 62 4 71 4 149 4-135 4-16 4 13 5-73 8 74 4 12 4-73 4 125 5-94 4 37 12-30 5 149 4-93 4-18 4 4 4-25 4 32 5 1 4 21 4 0 4 2 4 51 4-43 5-1 4 19 4-56 4-62 4 89 4 43 5-26 8 86 17 38 4-11 4-29 4 72 4 26 4-9 5-41 4 71 4-33 4 48 4-23 5 57 4-53 4-10 4 45 4-61 4 14 5 0 4-26 4 40 4-108 4 90 4-9 5 59 4-123 4 18 4-30 4 14 4 0 5 28 8-167 4-72 4 65 4-54 5-96 4 36 8 6 4-78 4 65 5 97 4-65 4 37 4 50 4 41 4 16 5-70 4-4 4-123 4 150 4 7 5 118 4-24 4-68 4-19 4-15 4-118 5 108 4 71 4 75 4-48 4 21 4 11 9-37 4 49 4-8 4-44 4 32 5-39 4-21 4 15 4-9 4 22 4 22 5 9 4 72 4-38 8 9 4 35 5-115 4 13 4-25 4 20 4 19 5-36 4 84 4-38 4 16 4 16 4 39 5 50 4-63 4-3 4-8 4 80 4-22 5 62 4-8 4-67 4 121 8-118 5 73 4-30 4 2 4-35 4 36 4-72 9 19 4 38 4-129 4 46 4-147 5 100 4-1 4 54 4-40 4 62 5-51 4-102 4-10 4 25 4-11 4 32 5 70 4 32 8-43 4-46 4-47 5-33 4 48 4-85 4-45 4-74 4 118 5-9 4 33 8 46 4 36 4-53 5 88 4 15 4 35 4-54 4-8 4 40 5 47 4-35 8-12 4 51 5-80 4 25 4-7 4-30 8 19 5 2 4 49 4 54 8-55 4 15 5 23 4 10 4 59 4 18 4-85 4 22 5-81 4 29 4 38 4-7 4 24 4-17 5-39 4 16 4 2 4 76 4 15 4 7 5-29 4-106 4 12 4-32 4 70 4-74"/>
<path style="marker:url(#m3)" d="M175 652l4 2 5 86 4-142 4 155 4-23 4-13 4-43 5-11 4 45 4-26 4 36 4-6 4-5 5-30 4 30 4 16 4-138 8 107 5-44 4 14 4 16 4 79 4-54 4 51 5-62 4 38 4 16 4-54 4 39 5-22 4 14 4 75 4-49 4 45 4-112 5 87 4-223 4 167 4-40 4-4 4 60 5-83 4 16 4 12 4-7 4-62 4-29 5-68 4 114 4 90 4-173 4 211 4-125 5-54 4-102 4 54 4-37 4 203 4-18 5-49 4-129 4 131 4 12 9 9 4 56 4-23 4-42 4-18 4-114 5 126 8 54 4-80 4 25 4 3 5 8 4 61 4 16 4 62 4-69 4-129 9 162 4-119 4-14 4 53 4-17 5 20 4-1 4 16 4-43 4 35 4 61 5-143 4 69 8 0 4 31 5-57 4 54 4-74 4-7 4-12 4 46 5-19 4-24 4 93 4-96 4 115 4-103 5 51 4 45 4-108 4 31 4 17 4 27 9-22 4 67 4-118 4 106 4-101 5 73 4 68 4-1 4-54 4 11 4-5 9-66 4-99 4 9 4 102 4-50 5 23 4-63 4-49 4-13 4 27 5 35 4-56 4 73 4-14 4-54 4 118 5-11 4 20 4-41 4 143 4-158 4 34 9 77 4 31 4-3 4 48 4-57 9 8 4-50 8 6 4 70 5-84 4-63 4 74 4 8 4 90 4-125 5 65 4-54 4 35 4-32 4-5 5 62 4-147 8 78 4 36 4-22 5-48 4 102 4-37 4 70 4-49 4 38 5-20 4 18 4-11 4-42 4 77 4-45 5-17 4-50 4 9 4 89 8-31 5-34 8-19 8 71 4-69 9-38 4 46 4-65 4 86 5 64 4-117 4 90 8-34 4-17 5-35 4 114 4-23 8-141 4 67 5-50 4 19 4-51 4-6 4-6 4-64 5 162 4-180 4 28 4-56 4 97 4 4 5-37 4 39 4 30 4 4 4 96 4-201 5-25 8 5 4-37 4 196 5-1 4-10 4 82 4-133 4 119 4-77 5 8 4 81 4-47 4-29 4-2 4-6 5 19 4 7 4-19 4-44 4 31 4-21 5 47 4 23 4-96 4-9 4-109 4 133 5 7 4 39 4-16 4 13 4 78 4-21 5-89 4 8 4-29 4 91 4-31 4-20 5 8 4 34 4-85 8 44 5-34 4 37 4 21 4-54 4-16 4 28 5 74 4 0 4 33 4-33 4-16 4 26 5 17 4 11 4-49 4-9 4-32 4 103 5 68 4-37 4-11 8 86 4-155 5 129 4-45 8-36 4-27 4-15 5 34 4-24 4-102 4 6 4 44 5-119 4 7 4-59 4 36 4 37 4 88 5 7 4-229 4 64 4 19 4 46 4 88 5 19 4-52 4-31 4 144 4 15 4 11 5-45 4-89 4-71 4 67 4 13 4 61 5-74 4 65 4-63 4 39 4 33 4-15 5-33 4 167 4-70 4-125 4-55 5 25 4-59 4 62 4 13 4 3 4 36 5 34 4-55 4-27 8 20 4-46 5 19 4 16 4-25 4 153 4-48 4 56 5-101 4 23 8 34 4 36 4 68 5-3 4-14 4-14 4 54 4-71 9 11 4 59 4-55 4 33 4 16 4-37 5 22 4-16 4 18 4-17 4-49 5 23 4 5 4 102 4-120 4 77 4-92 5 34 4 13 4 10 4-83 4-5 4-40 5-32 4 34 4-167 4 53 4-23 4-28 5 41 4 91 4-56 4 81 4-7 9 62 4 47 4-195 4 67 8 48 5 187 4-41 4-70 8-26 5-81 4-58 4 31 4 116 4 17 4-7 5 10 8-15 4-39 4-4 4 30 5-82 4 48 4-56 4 92 4-71 4-3 5-5 4 50 4 30 4-4 4 27 4 17 5-66 4 67 4-49 4-23 8-74 5 58 8 57 4-51 4-2 5 22 4 38 4 51 4-33 4-40 4-13 5 68 4 7 4 55 4-29 4-68 4 102 5-100 4-6 4 85 4-35 4-4 4-16 5 17 4-23 4-32 4 55 8 6 5-65 4-103 4 98 4-40 4 59 4 26 5 20 4-68 4 22 4-121 4 153 5-196 4 104 8 89 4-45 4 21 5-93 4-64 4 131 4 41 4-124 4 2 5 31 4 8 4-137 4 196 4 23 4-68 5 81 4-166 4 141 4-57 4 102 4-91 5-47 4 130 4-39 4-18 4-87 4 66 5 40 8-72 4 43 4-70 4 65 5-55 4 13 4 67 4 10 4 15 5-28 4 6 4 10 4 6 4 56 9-47 4 20 4-67 4-4 4 106 4-46 5-5 4-29 4-22 4 15 4-1 4 92 5 7 4-2 4-38 4-52 4-19 4-4 5 39 4-90"/>
<path style="marker:url(#m12)" d="M176 697l4-5 4 73 4-134 8 115 5-14 4-23 4-2 4 24 4 37 4-19 5-25 4 12 4 0 4 92 4-75 5-58 4 66 4 41 4-39 4 12 4-18 5 46 8-14 4 24 4-28 4 12 5-26 8-10 4-18 4 65 4-41 5 56 4-102 8-110 4 131 4-59 5 31 4 71 4-81 4-5 4 20 4-37 5-93 4 12 4-86 4 157 4 28 5-117 4 169 4-126 4-63 4-77 4 35 5-13 4 126 8-24 4-139 4 210 5-48 4 21 4 4 4 57 4-74 4-9 5-29 4-97 4 82 4-28 4 152 4-83 5 44 8 52 4-1 4-2 4 44 5 14 4-193 4 144 4 49 4-103 5-42 4 72 4-3 12 24 5-66 8 99 4-83 4 5 4 80 5-62 4 32 4-17 4 39 4-91 4 5 5 21 4 89 4-93 4 69 4 0 9 60 4-68 4 32 4 40 4-137 4 89 5-7 4 20 4 6 4 15 4 2 4-119 5 121 4-106 4 45 4 58 4-15 5 13 4-47 4-19 4-58 4 40 4-145 5 17 4 83 4-16 4 15 4 11 4-122 5-70 4 64 8-59 8 42 5-35 4 91 4 12 4 29 8 115 5-175 4-6 4-76 4 133 4 63 4-13 5 71 4-71 4-69 4 138 4-77 5-93 4 113 4 104 4-124 4-73 4 92 5 7 4 87 4-114 4 85 4-110 4 60 5-51 4 74 4 11 4-175 8 112 5 65 4-92 4 5 4 101 4 0 4 16 5-34 4 26 4-11 4-7 4 5 4-29 5 77 4-24 4-58 4-1 4-30 5 99 4-43 4 72 8-93 4 19 5 38 8-5 4 41 4-62 4 43 5-73 4 84 4 24 4-112 4 105 4-30 5-32 4-13 4-13 4 55 4-1 4-131 5 49 4-3 4-46 4 82 4-37 4 3 5-127 4-49 8-24 4 30 4-59 5 53 4 56 4-65 4 5 4 48 5-31 4 96 4-162 8-28 4 2 5-92 4 231 4 3 4-28 4 156 4-186 5 131 8-49 4 94 4-83 13-17 8 28 4 25 4-35 5-30 4 90 4 5 4-54 8-73 9 30 4-10 8 33 5 57 4 27 4-27 4-49 4-3 4-5 5 94 4 38 4-109 4 22 4 98 4-148 5 71 4 56 8-12 4 38 9-94 4 12 4 38 4 26 4 16 4-33 5 49 4 5 4-26 4 37 4-31 4 17 9-7 4 37 4-19 4 4 9 23 4-113 8 98 4-56 5-30 4-19 4-40 4 57 4-49 4-94 5 24 4 21 4-110 4 2 4-78 4 78 5-12 4 84 12-96 4-25 5 79 4 74 4-4 4-36 4-45 4 175 5-47 4 47 4-84 4-35 4-72 4 96 5-27 4 83 4-95 4 77 4-42 5 25 4 45 4-33 4-22 4 129 4-47 9-158 4 61 8-12 4 110 5-135 4 62 4 41 4-44 4 28 4-28 5 15 8-41 4 113 4-99 4 119 5-31 4 50 4-85 4 31 4 51 4 20 13 66 4-4 4 8 5 7 4-51 4 28 4-22 4 46 4-42 5 49 4-3 4-77 4 65 4-20 4 30 5-63 4 2 4-22 4-8 4 89 4-51 5 49 4-107 8 38 4-10 4-69 5-20 4-5 4-59 4 17 8-25 5-123 4-7 4 6 4 117 4-62 5 85 4-13 4 18 4 22 4 75 4-201 5 67 8 56 4 93 4 6 4-46 5-38 4 13 8-145 4 47 4 134 5 16 4 30 8-46 4-1 4-11 5-29 4 47 4-70 4 40 8 113 5-154 4 38 4-43 4 97 4 47 5 9 4-50 4 83 4-150 4 91 4 14 5 10 4-150 4 57 4 17 4-109 9 85 4 21 4 40 4-5 4 100 4-53 5-19 4-50 4 80 4 44 4 7 4-8 5-78 4 79 4-68 4-8 4 86 4-2 5-9 4-49 4 56 4-42 4-4 4 3 5 26 4 18 4-68 4-84 4 48 5-44 4 40 4 14 4 51 4-118 4 116 5-167 4 92 4-132 4 44 4 96 9-45 4 7 4-93 4-38 4 105 4 67 5-86 4-56 4 13 4-3 4-127 4 212 5 8 4-17 8-122 4 135 4-44 5 64 4-74 4-25 8 77 5 8 4-94 4 135 8-33 4 28 9-107 4 82 4 1 4-38 4 39 5 63 4-24 4-2 4 11 4-22 4-1 5 55 4 37 4-64 4 8 4-51 4-18 9 42 4 57 4 18 4-63 4-9 5-21 4 97 4 11 4-7 4-7 5-43 4 23 4-17 4 51"/>
<path style="marker:url(#m22)" d="M176 616l4 22 4 72 5-118 4 99 4-33 4-12 4 5 9 23 8-22 4 19 4-10 4-12 5 39 4-18 4-95 4 58 8 15 5 10 4 11 4 71 4-44 8 13 5 0 4-13 4-15 4 52 9-23 4 68 4-50 4 23 4-113 4-25 5-76 8 61 4 17 4 65 4-113 5 11 8-27 4-109 4 35 4-28 5 65 4 96 4-221 4 187 8-75 5-98 8-16 4 86 4 27 4 0 5-115 4 103 4 70 4 22 4-11 5 93 4-79 4-50 4-36 4-58 4 61 5 8 4 104 4-115 4 70 4-20 4-17 5 101 4 35 4 25 4-32 4-131 4 89 5 19 4-70 4-20 4 56 4-11 4 30 5 6 4-11 4-30 4 75 4-2 4-73 5 45 4 12 4-4 4-13 4-33 5 52 4-58 4 7 4 11 4 35 4-45 5-17 4 75 12-49 4 60 5 38 4-106 4 44 4-21 4 78 4-8 5-69 4 29 4-57 4 62 4-55 4 12 9 41 4-42 4 21 4-7 4-88 5-9 4-89 4 20 4 101 8-8 5-116 4-44 4-4 4 19 4 44 5-38 4 43 4 1 4-15 4 39 4 48 5 36 4-108 4 163 4-102 13 32 4 26 4 32 4 66 4-48 4-70 5 38 4-34 4-42 4 97 4 5 4-32 5-56 4 63 4-15 8 12 4 71 5-87 4 38 4-51 4 16 4 29 5-100 4 125 4-4 4-34 4 22 4-34 5 67 4-14 8 15 4 4 4 3 5-8 4 47 4-38 4 33 4-27 4-11 5-68 4 17 8 78 4 5 4-24 5-48 4 75 4-12 4 32 4-55 4 8 5-43 8-29 4 60 4 79 5-105 4 80 4-87 4 44 4-26 4-6 5 67 4-47 4-120 4-14 8 7 5 13 4-55 4-60 4 54 4-30 4 111 5-143 4-14 4-13 4 84 4-106 4 32 5-32 4 39 4 45 4-9 4-67 4 7 5-68 8-6 4 199 4 45 4-26 5-12 4-43 4 117 4-49 4-9 5 6 4-2 4 12 4-4 4-6 4 18 5-17 4 24 4-67 4 41 4-8 4 29 5 29 4-82 4-13 4-58 4 75 4 28 5 30 4-23 4 12 4 81 4-48 4-5 5-23 4-20 4 85 4-63 4-15 4 2 5-26 4 6 4 13 4 40 4-18 5 3 12-8 4 21 4 65 5-23 4 23 4-35 4 53 4 18 4-57 5 63 4-64 4 26 4-33 4 95 4 46 5-46 4-29 4 21 4-3 4-66 4 55 5-22 4 12 4-1 4-38 4-50 4-13 5 26 4-111 8-37 4-97 5 58 4-12 4 30 4 8 4 66 4-85 5-114 4 40 4 8 4 117 4 66 4-53 5-43 4 14 4 99 8-16 4 2 5-41 4-50 4 6 4 48 4 46 4-102 5 120 4-58 4 23 4 45 4 31 4-89 5 135 4-87 4-31 4-60 4 21 5-18 4 41 4 5 8 36 4 25 5-25 4-19 4 6 4-17 4-58 4 45 5 41 4-15 4 109 4-23 4 55 4-127 5 41 4 70 4 1 4-8 4 70 9 7 8 39 4-59 4 33 4-20 5 41 4-42 4-4 4 22 4-42 4 49 5-4 4 38 4-60 4-62 4 55 5-7 4 73 4-83 4-1 4-39 4 9 5 45 4-41 4-41 4-61 4-51 4 13 5-16 4-170 4 64 4-26 4 22 4-43 5 119 4-8 4-2 4 10 4 44 4 41 5 11 4-93 4 14 4-131 4 174 4 94 5 27 4-60 4-36 4-9 4-59 5-67 4 78 4 67 4 72 4-43 4 24 5 24 4-6 4-45 4 23 4-7 9 16 4-62 4 38 4-35 4-40 4 40 9 76 4 24 4-4 4 41 9-31 4-62 4-33 4-22 4-7 4 50 5-41 4 118 4-72 4 9 4-8 5 80 4 57 4-67 4-1 4-41 4 94 5 13 4 40 4-7 4-92 4 119 4-121 5 6 4 64 4-9 4 6 4-29 4 6 5-48 4 9 4 53 4 26 4-23 4-66 5-103 4 84 4-55 17 17 4-32 4-46 4 80 4-116 4 77 5 66 4 31 4-35 4-14 4-70 5-30 4 15 4 79 4-141 4-27 4-45 5 98 4-76 4 97 4 46 4-39 4 99 5-155 4 142 4-33 4 86 4-73 4-31 5 100 4-14 4-21 4-86 4 80 4 34 5-68 8 39 4-48 4 55 4-37 5 2 4 27 4 55 4 1 4-20 5 0 4 12 4 10 4 61 4 43 4-95 5 6 4-47 4-5 8 53 4 24 5-52 4-21 4 16 4-2 4 85 4 9 5 13 4-46 8-55 4-47 9-17"/>
<path style="marker:url(#m7)" d="M175 580l5 44 4 50 4-108 4 72 8-30 5 40 4-16 4 26 4-16 4-30 4 65 5-35 4-31 4 92 4-78 4-23 4 8 9 50 4-16 4 29 4 84 4-69 5 54 4-34 4 19 4-10 4-19 5 70 4-49 4-21 4 68 4-21 4 29 5-147 4 28 4-112 4 105 4-4 4 11 5 83 4-116 4-9 4 48 4-38 4-61 5-29 4-58 4 165 4 49 4-105 4 168 5-153 4-11 4-82 4 74 4-53 4 161 5 17 4-93 4-53 4 99 4-9 5 56 4-8 4 25 4-38 4-33 4-33 9-22 4-71 4 163 4-124 4 60 5-33 4 23 12 108 4-45 5-135 4 32 4 47 4-21 4-84 4 86 5-23 4-12 4 46 4-39 4-14 4 35 5 10 4-34 4 18 4 50 4-12 9-50 8-3 4 15 4 0 5 16 4 3 4-4 4 41 4-55 4 109 5-83 4 54 4 38 4-116 4 52 4-4 5 45 4 30 4-48 4 34 4-71 9-18 4-14 4 114 4-57 4-46 4 28 5 23 4-121 4-22 4-63 4 5 5 137 4-50 4 42 4-48 4-102 4 23 5 72 4 1 4-53 4 71 4-6 4-12 5 77 4 29 4-13 12-42 5 1 4-34 4 86 4 104 4-30 4 65 5-86 4-82 4 150 4-106 4-63 4 77 5 45 4-87 4-79 4 92 4 36 4 47 5-108 4 70 4-89 4 33 4-49 5 1 4 14 4-80 8 80 9-23 4-14 4 74 4-46 4 34 4-28 5 11 4 21 8 19 4 1 4-5 9 1 4-54 4 43 4 61 4-14 5-22 4 15 4-34 4 24 4-12 4 122 5-96 4 47 4-113 4 89 4-84 5 69 4 67 4-110 4 94 4-68 4-13 9-25 8-6 4-61 4-24 5 27 8-9 4-22 4-51 4 31 5-21 4 119 4-163 4 54 4-57 4 126 5 38 4-88 4 24 4 59 4-65 4 175 5-240 4 3 4 39 4 4 4-96 5 208 8 7 8-49 4 82 5-68 4 21 4 42 4-52 4-5 4-20 5 13 8-24 4-19 8-2 5 34 4-47 8-46 4-3 9 10 4 16 4-4 4-12 4 17 4 92 5-49 4-10 4-21 4-24 4 81 4-95 5 12 4-5 4 0 4 25 4-36 5 71 4 21 4-11 4-2 4-20 4-7 5 35 4 59 4 26 4-3 4-16 4 16 5 34 4-40 4 46 4-8 4-38 9 52 4 64 4-25 4-10 4-24 4 53 5-147 4 76 4-10 4 12 4-8 4-38 9-33 8-33 4-36 5 52 4-169 4 72 4-92 4 86 4-2 5 90 4 37 4-195 4 64 4-3 4 50 5 103 4-36 4 14 4-57 4 133 4 12 5 18 4-73 8-134 4 78 4-30 5 72 4-106 4 70 4-42 4 26 13-31 4 155 4-131 4-38 5-55 4-5 4-11 4 44 4 30 9 0 4 30 4-87 4 45 4-7 4-65 5-47 8 139 4-28 4 75 9 34 4-62 4-2 4 73 4-25 4 25 5 93 4 12 4-17 4-27 4 67 4-69 5 55 4-21 8 20 4-5 9-8 4 43 4-9 4 27 4-65 5-51 4 30 4-8 4 77 4-93 4 54 5-86 4 19 4 34 4-6 4-59 4-43 5 10 4-30 4-24 4-132 4 22 4 31 5-2 4 26 4 83 8-8 4 50 5 14 4 38 4 67 4-193 4 46 9 105 4 75 4-11 4-82 4-29 5 6 4-48 4-74 8 146 4 22 5 20 4-48 4 9 4-18 4-41 4-11 5 19 4-61 4 43 4-56 4 44 4-40 5-9 8 51 4 10 4 48 4-31 5 57 4-49 4 29 8-139 4-2 5-7 4 65 4-47 4 107 4-49 5 13 4 19 4 55 4 45 4-59 4 0 5-26 4 95 4-5 4 43 4-21 4-69 5 131 4-111 8 80 4-46 4-12 5-11 4 38 4-36 4-56 4 60 4 38 5-67 4 0 4-121 4 64 4-23 4 63 5 11 4-10 4-38 4 32 4-111 5 128 4-151 4 79 4 121 4-26 4-24 5-9 4-64 4-31 4 82 4 78 4-119 5-16 4 53 4-43 4-107 4 188 4 48 5-65 4 51 4-108 4 84 8 9 5-83 4-24 4 93 4-15 4-27 4-70 5 27 4 58 4-52 4-25 4 44 4-67 5 71 8-73 4 55 4 63 5-8 4-54 4 25 4 39 4-23 4 62 5 19 4-74 4 29 4-81 4 9 4 82 5-44 4 26 4-46 4-8 4 2 4 11 5 91 4-4 4 22 4-41 4-61 9-19 4 32"/>
<path style="marker:url(#m16)" d="M176 624l4 26 4 45 4-114 4 119 5-20 4-23 4-9 4 1 4 29 4-9 5 44 4-18 4-9 4 35 4 2 5-40 4-50 4 24 4 25 4-9 4 24 5 9 4 86 8-39 4-26 4 15 5-13 4-3 4 47 4-31 4 0 4 66 5-53 4 15 4-82 4-25 8 14 5-46 4-9 4 29 4-77 4 11 9-15 4-106 4-65 4 61 4 67 5 57 4-178 4 132 4 13 4-72 4-93 5-70 4 11 4 93 4-26 4 77 4-171 5 134 4 70 4 67 4-28 4 73 4-101 5-86 8-19 8 62 4 157 5-147 4 73 4-14 4-15 4 95 4 14 5 79 4-20 4-162 4 71 4 38 5-51 4-32 4 35 4-18 4 65 4 1 5 2 4-36 4 36 4 67 4-123 4 54 5 15 4-12 4 5 4-70 4 85 4-59 5 4 4-1 4 61 4-27 8 59 5-81 4 105 4-73 4 57 4 109 4-195 5 91 4-36 4 41 4 19 4-58 4 107 5-111 4 86 4-155 8 134 5-25 4 15 4-34 4-61 4-60 4 2 9-111 8 64 4 28 4-117 5-46 4-15 4 28 4 40 4-40 4-2 5 28 4-27 4 57 4 50 4 30 9 28 8-127 4-55 4 152 4-148 5 230 4 30 4-64 4-36 4-36 5 37 4-39 4 67 4 31 4-33 4-47 5 80 4-17 4 74 4-76 4 61 4-75 5 23 4-32 8 4 4-33 4 47 5 33 4 0 4-12 8 85 9-4 8 4 4 7 4 5 4-20 5-16 4 39 4 1 8-87 5 15 4 81 4-38 4 68 4-66 4-33 5 56 4 12 4 57 4-62 4 23 4-87 5 54 4-80 4 85 4 65 4-104 4 88 5-63 4 34 4-53 4-33 4 83 4-35 5-96 4-21 4 34 4-44 4-34 4-58 5-24 4-23 4 32 4 77 4-112 4 16 5-43 4 68 4-44 4-11 4-45 9 15 4 65 4-90 4 15 4-89 5 4 4-11 4 201 4 28 4-42 4 70 5-117 4 140 4-49 4 17 4-13 4 20 5 3 4 20 4 3 4-44 4-3 4 52 5-70 4 22 4 13 4 50 4-6 4-93 5 35 8 25 4-17 4 55 5-42 4 48 4 93 4-29 4-58 4-28 5 0 4 52 4 22 4-28 4 14 4 10 5-69 4 15 4 13 4-19 4 57 4 45 5-51 4-35 4 55 4 32 4 40 4-3 5-11 4 57 4-25 4-28 4 64 4-34 5 5 8-11 4 67 4-15 5 9 4-72 4 70 4-111 4 100 4-40 5-43 4 13 4-53 4-42 4 17 4 5 5-144 4 25 4-15 4-109 4 64 4-81 5 58 4 12 4 59 4-80 4-94 4 76 5-37 4 82 4 85 4-65 4-50 4 34 5 154 4 18 4-65 8-57 5-39 4-11 4 58 4 21 4-32 4 63 5-71 4 65 4 8 4 37 4-48 4 141 5-76 4-63 4-50 4 6 4-2 4 40 5 25 4-29 4 39 4 32 4-25 4-55 5 49 4-1 4-45 4-3 4 48 4-44 5 132 4-11 4 23 8-32 4 35 5 55 4 27 4 11 4 12 4 10 5-12 4 24 8-14 4-41 4 87 5-56 4 31 4 0 4-51 4 67 4-29 5 52 4-65 4-9 4-58 4 15 4 103 5-102 4 80 4-111 4 4 4 50 4-39 5-72 4-59 4-11 4-20 4-31 4-110 5-8 4 5 4 7 4-16 4 94 5-2 4 16 4 7 4 24 4 35 4 45 5-137 4 27 4-128 4 152 4 115 4 26 5-66 4-27 4-7 4-60 8-6 5 80 4 95 4-33 4-17 8 42 5-63 4 0 4 24 4-53 4 59 4-85 5 140 4-97 4-43 4 14 13 134 4-19 4 50 8-15 5-1 4-105 4-7 4-19 4 50 4-75 5 127 8-61 4 2 4 96 9 7 4-29 4-35 4 93 4 29 4 38 5-4 4-99 4 105 4-107 4 7 4 72 5-11 4 19 4-70 4 76 4-54 4-39 5 63 4 20 4 15 4-61 4-75 9-50 4 66 4-4 4 31 4-78 5-8 4-67 4 59 4-119 4 86 4 77 5 21 4-51 4 21 4-94 4-59 4 45 9-3 4-85 4-14 4 73 4-82 5 107 4 81 8 30 4-193 4 157 5-32 4 69 4-63 4-19 4 77 5-7 4 1 4-86 8 101 4-38 5-26 4 47 4-55 4 78 4-82 4 4 5 78 4 23 4 10 8-10 4-9 5 18 4 60 4 32 4-64 4-3 4-83 5 14 4 104 4-70 4 55 8-79 5 11 4 6 4 79 4 26 4 2 5-22 4-36 4-11 8 42"/>
<path style="marker:url(#m0)" d="M175 616l4 32 4 66 5-130 4 123 4-37 4 10 4-30 9 45 4-13 4 25 4-13 4-8 4 3 5 31 4-60 4-40 4-3 4 55 5-17 4 11 4 16 4 51 4-45 4 39 5-37 4 16 4-9 4-32 4 78 4-33 5 9 4 67 4-45 4 48 4-141 4 28 5-127 4 132 4-45 4 57 4-2 4-36 5 5 4 8 4 29 4-158 4-56 4 4 5 99 4 91 8 8 4-107 5 0 4-136 4 36 8 112 4 99 5-91 4-125 8 134 4 73 4-39 5 38 4-74 4-51 4 21 4-100 4 106 5-56 4 105 4-51 4 24 4-5 4 11 5 96 4-4 4 54 4-58 4-140 4 82 5 54 4-72 4-8 4 26 4 13 4 21 5-9 4-5 8 14 4 32 5-125 4 69 4 11 4-27 4 28 4-31 5 23 4-49 8 22 4 40 4-45 5-9 4 100 4-116 4 81 4-43 4 14 5 76 4-130 4 52 4-14 4 52 4 2 5-29 4 42 4-105 4 71 4-43 4 33 5 61 4-55 4-2 4-40 4 67 5-104 4 1 4-62 4-14 4 73 4-34 5 44 4-9 4-126 8 24 4 39 5-46 4 41 4 24 4-55 4 54 4 37 5 6 4-46 4 167 4-160 4 22 4-99 9 217 4-39 4 114 4-91 4-66 9 50 4-109 4 76 4 86 5-90 4-41 8 87 4 57 4-116 5 133 4-78 4-16 12-34 5-68 4 96 4 17 8-49 4-21 5 109 4-2 4 9 4-15 4 8 4 0 9 11 4-24 4 62 4-45 4-32 5-30 4-7 4 89 4-28 4 24 4-25 5-50 4 11 4 9 4 63 4-58 5 1 4-55 4 33 4-8 4 35 4 71 5-110 4 86 4-27 4-12 4-28 9 21 4 18 4-77 4-56 4 48 4-19 5-11 8-74 4-13 4-14 4 90 5-107 4 30 4-66 4 82 4 38 4-69 5 29 4 59 8 36 4-163 5-4 4 9 4-59 4-5 8 226 5-16 4 96 4-135 4 68 4 6 4-49 5 43 4-22 8 2 4 3 4 25 5-24 4-22 4-4 4-5 4-31 4 47 5 41 4-122 4 37 4-98 4 109 4 4 5 41 4-27 4 21 4 90 4-73 5-30 4-11 4-17 4 85 4-28 4 10 5-21 4-2 4-13 4-20 4 12 4 31 5-14 4 17 4-14 4-49 4 52 4 48 5-11 4 6 4-30 4 49 4 12 4-31 5 60 4-53 4 35 4-53 4 65 4 110 5-62 8-17 4 31 4-112 4 100 5-36 4 9 4-13 4-29 4-31 5 30 4-34 4-69 4 7 4 6 4-99 5-18 4-36 4 70 4-18 4 91 4-14 5-168 4 117 4 21 4-14 4 58 4 71 5-88 8 84 8-4 4-22 5-54 4-61 4 30 4 48 4 27 4-83 5 68 8 9 4 37 4-28 5-37 8 98 4-90 4-92 9 16 8 72 8 14 4 15 5-51 8 7 4-14 4-51 4 43 5 32 4-7 4 106 4-22 4 52 4-95 5 26 4 68 4-32 4 18 4 50 4 35 5-40 4 4 4 49 4-57 4 37 5-36 4 41 4-25 4-11 4 33 4-36 5 52 4-16 4-3 4-18 4-54 4 47 5-22 4 81 4-74 4 62 4-95 4 26 5 37 4-21 8-107 4-21 4-40 5-8 4-107 4 28 4-18 4 0 13 75 4 86 4 16 4 19 5-61 4 119 4-200 4 80 4-177 4 174 5 171 4 4 4-76 4-49 4-10 4-76 5-47 8 107 4 80 4-14 4-8 5 11 4 5 8-37 4-8 4-27 5 29 4-57 4 101 4-75 4-22 4 6 5 62 4 18 4 30 4 15 4 42 4-101 5 71 4-76 4-26 4-34 4-21 5 64 4-67 4 112 4-38 4-6 4 7 5 75 4 53 4-49 4-32 4-38 4 84 5 16 4 39 4 11 4-112 4 127 4-121 5 12 4 53 4-22 4 34 4-72 4 37 5-20 4-48 8 117 4-61 4-30 5-108 4 65 4-10 4 61 4 1 5 20 8-44 4-93 4 73 4-134 5 96 4 125 4-38 4-35 4-10 4-72 5-48 4 68 12-40 4-6 5 33 4-130 4 191 4 19 4-61 4 108 5-177 4 160 4-75 4 72 4-78 4-31 5 116 4-26 4-8 4-84 9 103 4-51 4-32 4 27 4-35 4 60 5-81 4 30 4 64 4 27 4 22 4-34 5 14 4 0 4 5 4 60 4 43 4-74 5 4 4-84 4 3 4 102 4-44 4 25 5-28 4-37 4 8 4 3 4 95 4-13 5 12 4-32 4-49 4-15 4-34 4 46 5-48"/>
<path style="marker:url(#m10)" d="M176 681l8 85 4-152 4 180 4-23 5-23 4-77 4 11 4 53 4-11 4 74 13-54 4 64 4-65 4-67 5 99 4-12 4-24 4 3 4-19 4 60 5-32 4 59 4-32 4-2 4-9 4-16 5 63 4-58 4 1 4 50 4-42 5 50 4-83 4 82 4-214 4 184 4-88 9 103 4-119 4 48 4 25 4-51 5-87 4-12 4-63 4 104 4 79 4-135 9 27 4-29 4-97 4 49 4-20 5 143 4 56 4-115 4-122 4 149 4 29 5 33 4-29 4 50 4-47 4-50 5 0 4-77 4 74 4-54 4 152 4-100 5 75 4-61 4 86 4 7 4 13 4 56 5-22 4-173 4 139 4 29 8-114 5 48 4 0 4-8 4 11 4 24 4-71 5 74 4 20 4-76 8 64 4-58 5 69 4-49 4 14 4-61 4 15 4-7 5 115 4-74 4 73 4 21 9-4 4-56 4 37 4 29 4-105 4 56 5 14 4 22 4 8 4-4 4 3 4-97 5 98 4-103 4 58 4 59 4-30 9-21 4-23 4-40 4 3 4-151 4 46 5 57 4 29 4-25 4 3 4-103 4-41 5 59 4-23 4-44 4 97 4-51 5-10 4 71 4 15 4 20 4-50 4 139 5-138 8-32 4 102 4 4 4 50 5 22 4-32 4-85 4 119 4-73 4-62 5 111 4 71 4-81 8-31 4 5 5 102 4-131 4 95 4-67 4 26 4-60 5 103 4-11 4-172 4 120 9 56 4-90 4-10 4 71 4 50 4-11 5-21 4 28 8-3 4-8 4-36 5 49 4-27 4-18 4-14 4-33 4 88 5-30 4 69 4-58 4-30 4 19 4 46 5 17 4-27 4 29 4-84 4 61 4-56 5 72 4 23 4-98 4 74 4-34 4 15 5-50 4-25 4 76 4 36 4-141 5-1 4 51 4-70 4 99 4-51 4-31 5-86 12-31 4-6 4-37 5 57 8-15 12 11 5 160 4-234 4 18 4-57 4 40 4-83 5 212 12 90 4-125 4 127 5-92 4 16 4 47 13-56 4 1 4 68 4-32 4 10 4-36 5 17 4 47 4-7 4-16 4-56 4-16 5-132 4 137 4-2 4 22 4-20 4 60 5 29 8-67 4-24 4 8 9 131 4-106 4 29 4 43 4-79 4 28 5 55 4-9 4 12 4 38 4-93 5-4 4 43 8 85 4-39 4-2 5 49 4 3 8-1 8-17 5-80 4 82 4 31 4 3 4-19 9 26 4-133 4 138 4-30 4-49 4-2 5-39 8 55 4-89 4-83 4 31 5 29 4-129 4 6 4-63 4 62 5-1 4 75 4-40 4-149 4 67 4 39 5 34 4 52 4 19 4 0 4-89 4 161 5 25 4 29 4-77 4-52 4-108 4 118 5-12 4 30 4-35 4 57 4-47 4 15 5 61 4-29 4-37 4 125 4-54 4-52 5-106 4 70 4-17 4-21 4 110 4-79 5 34 4 40 4-46 4 49 4-67 9-35 4 12 4 124 4-99 4 117 5-22 4 50 4-103 4 40 4 45 4 63 5-14 4 5 4 47 4-13 4-2 4 3 5-54 4 63 4-61 4 50 4-24 4 24 13 15 4-10 8-45 5 22 4-44 4-8 4 81 4-48 5 63 4-97 4 1 4 62 8-128 5-44 4 30 4-34 4 0 4-129 4 61 5-96 4 26 4-18 4 142 4-52 4 68 5-47 4 54 4 29 4 34 4-183 4 58 5-167 4 244 4 138 4-21 4-89 4-34 5-3 4-10 4-69 4 11 4 143 5-6 4 18 4-14 4 1 4-13 4 11 5-57 4 32 4-47 4 29 4-79 4 179 5-145 4 32 4-45 4 81 4 81 9-56 12 35 4-5 4 18 5-111 4-18 4 62 4-77 4 106 4-62 9 42 4 30 4 87 4-40 4 14 5-108 4 117 4-2 4 25 4-3 5-96 4 96 4-81 4 3 4 89 4-22 5 0 4-35 4 48 4-30 4-43 4 46 5-3 4 29 4-61 4-90 4 41 4-30 5 45 4 25 4 25 4-87 4 75 4-145 5 132 4-170 4 44 4 131 4-37 4-34 5 6 4-80 4-31 4 68 4 70 9-148 4 67 4-15 4-134 4 220 5-11 4-2 4 29 4-132 8 38 5 90 4-59 4-49 4 132 4-47 4-4 5-83 4 129 4-28 4-27 4 34 4-19 5-87 4 79 4 29 4-62 8 72 5 12 4-21 4 40 4-41 4 25 5 20 4 53 4-66 4-12 4-28 4-25 5 107 4-44 8-2 4-19 4-9 5-4 4 93 4-20 4 31 4-27 4-39 5 12 4-9 4 46 4-24"/>
<path style="marker:url(#m20)" d="M176 597l4 18 8-41 5 90 4-72 4 42 4-8 4-16 4 14 5-13 4-12 8 65 4-83 5 116 4-83 4-58 4 1 4 62 4 9 5 45 4-27 4 38 4-17 4 43 4-33 5 6 4-13 4-16 4 75 4-49 4-8 5 73 8-29 4-144 8-90 5 160 4-79 4 15 4-31 4-53 4-27 5 123 4-127 4-84 4-62 9 155 4 68 4-102 4-86 4 106 4 6 5-101 4-82 4-32 12 166 5-170 8 232 4 37 4 2 4 89 5-106 4-155 4 61 4-39 4 96 4-4 5 103 4-135 4 89 4 9 4-26 4 90 5 4 4 62 4-28 4-118 9 122 4-57 8 15 4-19 4 20 5-15 4 4 4-25 4 38 4 43 4-55 5 31 4-2 4 13 4-21 4-19 4 7 9 2 4-23 4 47 4-19 4-18 5-9 4-9 4 55 4-42 8 78 5-83 4 66 4-20 4 38 4 30 4-78 5 48 4-82 4 23 4 4 4-22 5 73 4-27 4-98 4 51 4 3 4-91 9-116 4 46 4 65 4-26 4 45 5-135 4-32 4 32 4-41 4 91 4-33 5-39 4 26 4 2 4 6 4 89 13 54 4-60 4-42 4-28 4 91 5-158 8 282 4-43 4-26 5-49 4 32 4-44 4 79 4-38 4 33 5-20 4 50 4-31 4 90 4-81 4 24 5-73 4 40 4-25 4 49 4-25 4-63 5 113 4 4 4-52 4 10 4-36 4 93 5-26 4 43 4-48 4 27 4-17 9 45 4 3 4 0 4-5 4 0 5-89 4 51 4 72 4-32 4-9 4 24 5-21 4-11 4 21 4 22 4-29 9-39 4 30 4-109 4 115 4 59 4-105 5 93 4-93 4 6 4 18 4-21 4-5 5-26 4-67 4-38 4-7 4 8 4 7 5-90 8-14 4 69 4-5 5-35 4-13 4-24 8-86 4 119 5-74 4-10 4 1 4 90 4-73 4 11 5-93 4 68 8 141 4 75 9-135 4-28 4 165 4-26 4-13 4-66 5 59 4 45 4 1 8-84 4 47 5 37 4-52 4 3 4 5 4 31 4 7 5-97 4 49 4-63 4 54 4 48 5-35 4 24 4 12 4 76 8-55 5 10 4-17 4 51 4-57 4-11 4-12 5-29 4 62 4-37 4 24 4 38 4 33 5-49 4 11 4-32 4 58 4 65 4-38 5 22 4-26 4-4 4 70 4-61 4 93 9-142 4 18 4 93 4 28 5 8 4-55 4 13 4-32 4-41 4-1 9 86 4-34 4-10 4-67 4-50 5 48 4-176 4 58 4-151 4-16 4 79 5-20 4 55 4 0 4 62 4-202 4-49 5 119 4-35 4 122 4 59 4-121 4 24 5 32 4 90 4 71 4-60 4-23 5-25 4-62 4-21 4 86 4 47 4-89 5 98 4-64 4 56 4-18 4 52 4-84 5 129 4-95 4-19 4-19 4 8 4 3 5 31 4 54 4-54 4 48 4 33 4-51 5-37 4 45 4-19 4-84 4 77 4 18 5-6 4 77 4 5 4 49 4-97 4 7 5 82 4-29 8 97 4-10 5-11 4-33 4 80 4-48 4 51 4-25 5 32 8-45 4 22 4-31 4 22 9-29 4 33 4-113 4 107 4-24 5 64 8-66 4-58 4-13 4 7 5 45 4-52 4-114 4-86 4 76 4-25 5-109 4 7 4-51 4 69 4-68 5 43 4 124 4-74 4 15 4 53 4 79 5-9 8-50 4-143 4 169 4 15 5 86 4-24 4-51 4-52 4 16 4-120 9 188 4 27 4-45 4 44 4 16 5 7 4-80 4 68 4-11 4-15 4-2 5-22 8-21 4 28 4-3 5 40 4-15 8 55 4 62 4-59 5 41 4-107 4-4 4-23 8 56 5-58 4 79 4-27 4 17 4 14 4 39 5 43 4-43 4-12 4-9 4 47 4 25 5 44 4-5 4-68 4 107 4-120 4 3 5 55 4 0 4-32 4-1 4 42 9-74 4 19 4 28 4-84 4-2 5-111 8 82 4 75 4-61 4 10 5-7 8-128 4 33 4-29 4 46 5 60 4 40 4-16 4-10 4-61 4-34 5 5 4 6 4-78 4-50 4-66 4 130 5-22 4 68 4-26 4 2 4 46 4-79 5 132 4-2 4 43 4-63 4-4 5 35 4 36 4-14 4-56 4 56 4 38 5-79 4 35 4-3 4-37 4 83 4-99 5 26 4 51 4 54 4-33 4 6 4-14 5 28 4 2 4 64 4 37 4-79 4-6 5-40 4-14 4 90 4-40 4 12 4-26 5-30 4 8 4 19 8 69 5 7 4-22 4-128 4 31 4-12 4 62 5-70"/>
<path style="marker:url(#m5)" d="M175 603l4 35 5 56 4-119 4 132 4-60 4 33 5-26 4-9 4 35 4-3 4 3 4-9 5 4 4-28 4 42 4-55 4-46 4 54 5 12 4-2 4 3 4 22 4 44 4-43 5 60 4-49 4-5 4 6 4-3 4 32 5-13 4-3 4 83 4-57 8-107 5 98 4-183 4 150 4-18 4 36 4 6 5-76 4 44 4 5 8-103 5-32 4-42 4 130 4 82 4-126 4 158 5-105 4-73 4-91 4 85 4-20 4 139 5-4 4-77 4-79 4 100 4 21 4 48 5-26 4 57 4-34 4-40 4-54 4-72 5 85 8 84 4-90 4 13 4 6 5 39 4 28 4 15 4 48 4-44 5-144 4 47 4 47 4-65 4-14 4 38 9 21 4-5 4-10 4-17 4 34 5 40 4-101 12 38 4 32 5-78 4 75 4-62 8 27 4-15 5-3 4 6 4 54 4-58 4 93 4-81 5 68 4 38 4-139 4 91 4-55 5 67 4 3 4-66 8-24 4 78 5-65 8 108 4-57 4-12 4 7 5 36 4-121 8-92 4 40 4 93 5-18 4 2 4 1 4-141 4 14 4 57 5-2 4-28 4 56 4-19 4 17 4 58 5-1 4 14 4-27 4 115 4-100 4 9 5-70 4 121 4 66 4-23 4 81 5-94 4-54 4 100 4-47 4-114 4 92 5 89 4-133 8 17 4 20 4 68 5-119 4 138 4-110 4 33 4-59 9-11 4-85 4 115 4-1 4 3 4-18 5-50 4 108 4-36 4 33 4-47 4 31 5-1 4 22 8-34 4 35 5 2 4-49 4-62 4 67 4 41 4-12 5 14 4-23 4-19 4-15 4 15 4 54 5-36 8-52 4 15 4-17 4 21 5 90 4-102 4 58 4-37 4 36 4-40 5-13 4 116 4-28 4-107 4-50 4 25 5 8 4-45 4 2 4 15 4-37 5-40 4 204 4-226 4 35 4-21 4 75 5 41 8-33 4 71 4-73 4 130 9-223 4 24 4 73 4-140 4 197 5-3 4 0 4 123 4-155 4 119 4-108 5 39 4 47 4-29 4-48 4 1 4 20 5-23 4 24 4-28 4-21 4 18 4-30 5 17 4 26 4-76 4 21 4-103 5 89 4 3 4 25 8-8 4 88 5-45 4-25 4-17 4-37 4 70 4-13 5-19 4-39 4 39 4 10 4-36 9 35 4 8 4 38 4-46 4-40 4 89 5 13 4 8 8-5 4-4 4 71 5-54 4 39 4-64 8-18 5 104 4 46 4-9 4-4 4-29 4 53 5-111 4 56 4 1 4-20 4 27 4-51 5 5 4 7 4-35 4-102 4 37 4 68 5-156 4 30 4-81 4 93 4-14 4 53 5-16 4-135 4 86 4-17 4 60 4 69 5 26 4-3 4-110 4 204 9-42 8-70 8-35 4-17 5 74 4-97 4 63 4-40 4 26 4 32 5 3 4-58 4 159 4-73 4-108 4-67 5 43 4-23 4 35 4 18 4-11 4 32 5 27 4-52 4-15 4 16 4-29 9-1 4 31 4-34 4 118 4-44 5 73 4-88 4 23 4 44 4 0 4-15 5 76 4 8 4-2 4-2 4 27 4-47 5 55 4-35 4 33 4-18 4 5 4 7 5-43 4 36 8-46 4 40 4-60 5 49 8 89 4-89 4 23 4-90 5 36 4 57 4-12 4-92 4-12 4-9 5-38 4-20 4-145 4 98 4-21 5-12 4 4 4 165 4-102 4 67 4 9 5 31 8 77 4-172 4 32 4-147 5 245 4 70 4 17 4-71 4-56 4 39 5-89 4-49 4 24 4 112 4 26 4-1 5 0 4-40 4 35 4-62 4-1 4 29 5-71 4 41 4-59 4 87 4-71 5-14 4-2 4 22 4 47 4 33 4 6 5 21 4-74 4 53 4-89 4-39 4-1 9 78 4-74 4 87 4-47 4 21 5 7 4 68 4 27 4-55 4 6 4-16 5 55 4-6 4 73 4-21 4-64 4 93 5-77 4-29 4 77 13-60 4 45 4-56 4-20 4 58 4-3 5-1 4-73 4-62 4 81 8 25 5-4 8-25 8-88 4 98 5-143 8 226 12-54 5-88 4-37 4 101 4 54 4-104 4-15 5 75 4-77 4-105 4 220 4-24 4 2 5 57 4-179 4 129 4-59 4 73 5-83 4-36 4 140 4-54 4-3 4-105 5 72 4 41 4-69 4 4 13 34 4-41 4-19 4 60 4 34 4-16 5-11 4 16 4 3 4 9 4 64 4 28 5-81 4 5 4-73 4 3 4 68 4-31 5 40 4-40 4-23 4 10 9 98 4-6 4-7 4-26 4-84 4-13 5-13 4 73"/>
<path style="marker:url(#m14)" d="M176 696l8 78 4-163 4 178 5-61 4 7 4-29 4-22 4 59 4-8 5 4 4 5 4-21 4 11 4 76 4-71 9 21 4 17 4-34 4 1 4 7 5 45 4-26 4 36 4 14 4-38 4-27 5 4 4 55 4-60 8 57 5-36 4 46 4-109 4 113 4-227 4 157 5-51 4 1 4 75 4-108 4 11 4 6 5-15 4-80 4-46 4-49 8 183 5-157 4 215 4-143 8-147 4-23 5 72 4 96 8 0 4-133 4 148 13 24 4 57 4-39 5-26 4-37 8 18 4-68 4 122 5-46 4-14 4 12 4 48 4 56 4-25 5 85 4-25 4-178 4 145 4 50 4-95 5-19 4 62 4-28 4-11 4 7 4 16 5-35 4 78 12-47 4 43 13-69 4 48 4-62 4 12 5 2 4 88 4-54 4 41 4 17 5-71 4 131 4-62 4 2 4 52 4-122 5 72 8 22 4 20 4-40 4 24 5-84 4 98 4-136 4 72 4 69 4-24 5-37 8-21 4-52 4 36 4-115 5-10 4 72 4-1 4-23 4-32 4-77 5-34 4 49 4-5 4-61 4 66 5-20 4-5 4 72 4 4 4 15 4-61 5 167 4-153 4-28 4-55 4 148 4 17 5 35 4 59 4-68 4-81 4 104 4-50 5-88 4 81 4 68 4-77 4-32 4 51 5 18 4 82 4-106 4 91 4-74 4 46 5-67 8 117 4-189 4 122 5-22 4 64 4-65 4-23 4 105 4 50 5-37 4-43 4 41 4-37 4 40 4-8 5-44 4 84 4-4 4-65 4-9 4-38 5 71 4-5 4 47 4-15 4-46 4 8 5 7 4 56 4-32 4 58 4-79 4 10 5-33 4 71 4 34 4-112 4 83 5-67 4 49 4-70 4 1 8 25 5-66 8 27 4-39 4 28 4-27 5-39 4-64 4-65 4 165 4-170 4 18 5-47 4 91 4 6 8-47 4 69 5-46 4 106 4-161 4-27 4-36 4-42 5-24 4 215 4 40 4-8 4 79 4-91 5 61 4-23 4-34 8 37 5-22 4 5 4 3 4 20 4-17 4 17 5-11 4 5 4 34 8-9 9-67 8 20 4-24 4 50 4-12 5 31 4 44 4-11 4-26 8-49 5 88 4 56 4-97 4 33 4 20 4-83 5 49 4-2 4 18 4 4 9 3 4-29 4 34 4 36 4 45 4 2 5-47 8 48 4-25 4 40 4-36 5 20 4-72 4 68 4 39 4-33 4-1 9 40 4-109 4 105 8-91 9-50 4 8 4 60 4-78 4-94 5 13 4 30 4-98 4-8 4-91 5 80 4-1 4 70 4-12 4-171 4 35 5 104 4-10 4 60 4 19 4-60 4-26 5 132 4 19 4 53 4-107 4-45 4-69 5 53 4 9 8-37 4 102 4-43 5 31 4 47 4 3 8 110 9-144 4-88 4 67 4-26 4 17 9-13 4 32 4 51 4-26 4 4 9-23 4-18 4 16 4 96 4-90 5 89 4 4 8-53 4 40 4 28 5 65 4 1 4 0 4 47 4-21 4-22 5 44 4-67 4 58 4-44 4 45 4-29 5 49 4-2 4-63 4 60 4-26 4 19 5-41 4 4 4-37 4-14 4 98 5-95 4 80 4-62 4-11 4 29 4-46 5-49 4-37 4 37 4-91 8-133 9 11 4-4 4-20 4 150 4-109 5 66 4 43 4 34 4-34 4 77 4-187 5 73 4-175 4 245 4 113 4-7 4-80 5-28 4 5 4-84 4-65 4 52 5 101 4 56 4 22 4 18 4-49 4-2 5-12 4-24 4 40 8-28 4-63 5 155 4-101 4-1 4-23 4 70 4 92 5-15 4-38 4 62 8-52 4 10 5 17 4-137 8 46 4-74 9 63 4-2 4 49 4 38 4 84 5-39 4-56 4-26 4 82 4 25 4 12 5-3 4-89 4 97 4-64 4-28 4 92 5-25 4 27 4-56 4 55 4-27 13 2 4 6 4-49 4-100 4 85 5-74 4 55 4-10 4 51 4-104 4 36 5-108 4 127 4-168 4 74 4 103 4-19 5-38 4-2 4-66 4-47 4 66 5 69 4-88 4-81 4 2 4 66 4-144 5 171 4 61 4-96 4 146 4-199 4 118 5-30 4 63 4-64 4-18 8 83 5-9 4-80 4 104 4-7 4-44 9 49 4-103 4 74 4 20 4-22 4 33 5 14 4 60 4-73 4 49 4-31 5 12 4 58 4 40 4-88 4 7 4-37 5-23 4 103 4-39 4 30 4 9 4-74 5 29 8 79 4-19 4 10 4-15 5-29 4 28 4-19 4 47 4-49"/>
<path style="marker:url(#m23)" d="M176 634l4 20 4 59 5-129 4 143 4-50 4-15 4-31 4 8 5 58 4-19 4 1 4 2 8-12 5 53 4-82 4-43 4 33 4 45 5-24 12 109 4-64 4 51 5-36 4-9 4 1 4-4 4 43 4-34 9 63 4-40 4 48 4-125 4 54 5-153 4 130 4-95 4 79 4 5 4-102 5-5 4 96 4-51 4-90 4-72 4 20 5 101 4 64 4-183 4 191 4-60 5-34 4-128 4 5 12 147 5-26 8 16 4 31 4 26 4 3 9-10 4-133 4 21 4-36 4 77 5-53 4 159 4-115 8 47 4-14 5 106 4-4 4 40 4-23 4-134 4 61 5 53 4-59 4-42 4 61 4 3 4-12 13-15 4 64 4 24 5-94 4 38 4 23 4-33 4 43 4-79 5 76 4-66 4 7 4-6 4 45 9-25 4 85 4-98 8 22 4 49 5 73 4-132 4 47 4-14 4 30 4 13 5-72 4 80 4-90 4 71 4-75 4 33 5 88 4-24 4-29 4 1 4-37 5-96 4 19 4-94 4 44 4 85 4-70 5 46 4-56 4-85 4-2 4 18 4 43 5-35 4-20 4 59 4-42 4 57 4 68 5-2 4-88 4 190 4-159 4-24 4-43 5 130 4 50 4 25 4 60 4-95 4-27 5-3 4 33 4-94 4 66 4 68 5-77 4-39 4 75 4 3 4 47 4-96 5 81 4-64 4 23 4-36 4 27 4 11 5-91 4 92 4 0 4 18 4-37 4-22 5 85 4-11 4 21 4-34 4 54 4-49 5 36 4-5 4 2 4 32 4-14 4-45 5-48 4 11 4 99 4-51 4 76 4-63 5-40 4 37 4-17 4 86 4-63 5 8 4-43 8-34 4 29 4 117 9-38 4-53 4 13 4-30 4-24 5 54 4-17 4-88 4-37 4 59 4-72 5 22 8-48 4-43 4 2 4 109 5-136 4 12 4-47 4 115 4-62 4-14 5 17 4 46 8 102 4-223 5 39 4-19 4-52 4-25 4 199 4 45 5-14 4 88 4-84 4 52 4-54 4-32 5 78 8-38 4-8 4-18 4 37 5-43 8 15 4 23 4-38 4 22 5 31 4-67 4 15 4-121 4 133 9 20 4-29 4 56 8 34 5-51 4-19 4-5 4 61 8-15 9-10 4-16 4-14 4 11 4 16 5 23 4 20 4-29 4-32 4 56 4 40 5-8 4-8 4 11 4 50 4-16 4-24 5 44 4-62 4-4 4-14 4 61 4 73 9-71 4 28 4 20 4-92 4 64 5-55 4 37 4-9 4-35 4 1 5-26 4-8 8-60 8-157 5 60 4-44 4 33 4 42 4 50 4-33 5-189 4 71 4 57 4 20 8 96 5-71 4-15 4 155 4-24 4 40 4-63 5-68 4-37 4-15 12 4 5 81 4 2 4 40 4 18 4-8 5-65 4 185 8-181 4-53 4 6 5-11 4 42 4 26 4-5 4 27 4 32 5-10 4-81 4 52 4 1 4-67 4 13 9 11 4 135 4-4 4 43 4-113 9 96 4 7 4 10 4 47 4 18 5 21 4-20 4 24 4-67 4 62 5-62 4 86 4-50 4 4 4 16 4-30 5 41 4-18 8-25 4-19 4-11 5 8 4 99 4-81 4 46 4-134 4 30 5 53 4-19 4-76 4-57 4-15 4-33 5 1 8-99 4-46 4 52 4-43 5 150 4-54 4 47 4-8 4 75 5-31 4 70 4-161 4 37 4-157 4 199 5 130 4 4 4-61 4-34 4 35 4-110 5-55 4 52 4 103 4 62 4-57 4 36 5 3 4 0 4-40 4-7 4 21 4-42 5 18 4-57 4 137 4-115 4-13 4-5 5 87 4 34 4-10 4 2 4 41 4-66 5 72 8-82 4-54 4-4 5 52 4-81 4 116 4-38 4 7 4 7 5 66 4 56 4-51 4-25 4-46 9 119 8 33 4-77 4 97 4-122 5 5 4 85 4-19 4 19 4-85 4 65 5-28 4-53 4 61 4 19 4 10 4-66 5-103 4 61 4-35 4 49 4-1 5 47 4-72 4-29 4-51 4 66 4-125 13 194 8-58 4-77 5-34 4 61 4 32 4-38 4-80 4-1 5 36 4-107 4 156 4 41 4-46 4 96 5-173 4 122 4-27 4 61 4-79 4-2 5 93 4-24 4 13 4-99 9 108 4-73 4-20 4 40 4-28 4 51 5-32 4-15 4 72 4 23 4 9 4-33 5 21 4-9 4-5 4 82 4 37 4-75 5 5 4-78 4-4 4 104 4-28 4 8 5-27 16 73 4-2 5 1 8-109 4 37 4-32 4 51 5-81"/>
<path style="marker:url(#m21)" d="M177 651l4-2 4-30 5-32 4 14 4 33 4 59 4-14 4-90 5 19 8 28 4-2 4-19 4 24 5-35 4 60 4-114 4 8 4 3 4 72 5 16 4 11 4 89 4-91 4 41 4 38 5-47 4 28 4-15 4 48 4-28 5 2 4-1 4-19 4 57 4-111 4 15 5-140 4 38 4-66 4 59 4 122 4-90 5-2 4 29 4-92 4 13 4-146 4 10 5-4 4 85 4-33 4-61 4 198 9-200 8-50 4 121 4-102 4 93 5 0 4 67 4-33 4 49 4-74 5-13 4 13 4 65 4 63 4-195 4 40 5 2 4 35 4 13 4 5 4 13 4 56 5 32 4 54 4-47 4-42 4 16 4 61 5-8 4-52 4-1 4-25 4 40 4-2 5 18 4 7 4 32 8-31 4-29 9 82 4-29 4 6 4-38 5-23 4 25 4-36 4 19 8 13 5-41 4 94 4-73 4 27 4 102 4-22 5 38 4-103 4 14 4 2 4 32 4-24 5 33 4-50 4-43 4 44 4-42 4 71 5 59 4-38 4-53 4-47 4 23 4-50 5-39 4-5 4-147 4 110 4-35 4-101 5 30 4-8 8 92 4-37 5 10 4 30 4-126 4 60 4 106 4-138 5 147 4 58 4-83 4-8 4-59 4 44 5 24 4 73 4-59 4 32 4-12 4-40 9 107 4 0 4-13 4 28 9-73 4 113 4-71 4 125 4-91 4-1 5 51 4-29 4-38 4 28 4-59 5 17 4 41 4-26 4-52 4 44 4 4 5 74 4-60 4 37 4 29 4-55 4 36 5 13 4 17 4-58 8 60 4-53 5 30 4-28 4 62 4-68 4 30 4-6 5-23 4 38 4 18 4 30 4-62 4-23 5-34 4 46 4 11 4 16 4 34 5-74 4 47 4-15 4 13 4 52 4-76 5 49 4-110 4-19 4 9 4 7 4 10 5-106 4 3 4-17 4 12 4-102 4 73 5 48 4-85 4-51 4 85 4-129 4 62 5-1 4 44 4 89 4-121 4-38 4-14 5-54 4-1 4 35 4 219 4-26 4-56 13 64 4-62 9 76 8-45 4 97 4-40 4 70 5-35 4-116 4 79 4-34 4 58 4-28 5 24 4-40 4 3 4-112 4 8 4-5 5 85 4 102 4-54 4 71 4-33 4-27 5-12 4-17 4-6 4-35 4 0 4-2 5 55 4-7 4-13 8 15 9 9 4 32 4-26 4 87 4 56 9-37 4-61 4 49 4-7 4-12 5 42 4-44 4 31 4-81 4 70 4-12 5-39 8 68 4-1 4-34 4-12 5 39 4-24 4 29 4 22 4-51 4-26 5-155 4-19 4-53 4 129 4-160 5-56 4 46 8 97 4 22 4-49 5-87 4 66 4-8 8 170 4-21 9-119 4 46 4 156 4-45 4 22 5-89 4 19 4-96 4 71 4-39 4-5 5 86 4-68 4 44 4 16 4-10 4 13 5 11 4 30 4-36 4-42 9 4 4-21 4 64 4-46 4 45 4 72 5-90 4 0 4 55 8-73 4 25 5-25 8 59 4 15 4-13 4 22 5 54 4-67 4 88 4 41 4-3 9 2 4 53 4 6 4-18 4 2 4-53 5 58 4-29 4 70 4-14 4-81 4 71 5-63 4-47 4-38 4 17 4 131 5-52 8-2 4-69 4 51 4-56 5 38 8-51 4-98 4-19 4-48 5-109 4 115 8-40 4-26 4-33 5 52 8 93 4 26 4-7 4-5 5 59 4-46 4-39 4-116 4 184 4 75 5-34 4-130 4 91 4-55 4-76 5 28 4 114 8-3 4-30 4 35 5 34 4-48 8 55 4-31 4 18 5-35 4 61 4 6 4-49 4-22 4-9 5 121 4-17 4 41 4-22 4 12 9-58 4 19 4-93 4 20 4-23 4 97 5-97 4 60 4 0 4 28 4 18 5 30 4 20 4-42 4-16 4 10 4 13 5 63 4 19 8-26 4-1 4-20 5-15 4 26 4-4 4 24 4-34 4 10 5-76 4 28 4 110 4-36 4-72 4-47 5-35 4 59 4-3 8 21 4-10 5-54 4-74 4 5 4 73 4-54 4 82 5-11 4 29 4 3 4-34 4-82 5 32 4-71 4 114 4-107 4-39 4-27 5 26 8 114 4-8 4-86 4 54 5-36 4 79 4-7 4 10 4 24 9 22 4-24 4 23 4-24 4 33 4-45 5-7 4-12 4 11 4 24 4 8 4 23 5-27 4 130 4-88 4-6 4 19 5 79 4-88 4 52 4 33 4 24 4-20 5-72 4-17 4 18 4 16 4 23 9-65 4 49 4-9 8 66 4 4 5-39 4-30 4-46 4-29 4 71 4-33 5-46"/>
<path style="marker:url(#m13)" d="M177 735l4 7 4-7 4-60 4 27 5 31 4 59 4-39 4-79 4 73 4 62 5-62 4 21 4-87 4 63 4-24 4 61 5-105 8 83 4 20 4-19 4-2 9 9 4 18 4-13 4-24 4 34 5 32 4-11 4 19 4-9 4-18 9 27 4-79 4 57 4-133 4 42 5-31 4-54 4 154 4-91 4 4 4 129 5-217 4 38 4-65 4 3 4-17 4 79 5-77 4 54 4 70 4-157 4-30 4-104 5 121 4 85 8-57 4-25 4 106 5 69 4-82 4-65 4 222 4-180 5 50 4 79 4-228 4 158 4-68 4 15 5 37 4-8 4 27 4 20 4 38 4 35 5 6 4-122 4 49 4 66 4-2 4-111 5 55 4-44 4 56 4 46 4-42 4-36 5 32 4 23 4-28 4-57 4 115 4-24 5-39 4 53 4-50 4 51 4-49 9-7 4 73 4-24 4-44 4 63 5-9 4 36 4 23 4-3 4 8 4-56 5-34 4 58 4 28 4-54 4 38 4-25 5-35 4 33 4-19 4-11 4 73 4-4 5-38 4-50 4 13 4 3 4-13 4-122 5-69 4 137 4-94 4-68 4 101 4-145 5 82 4 1 4-28 8 36 5 24 4-71 4 99 4-68 4 141 4 11 5-81 4-38 4 56 4-70 4 42 4 109 5-132 4 76 8-92 4 166 4-32 5-7 4-63 4 90 4-69 4-77 4 141 5-34 4 119 4-132 4-10 4 60 4 12 5-44 4-5 4 13 4-22 4-7 5 42 8 59 8-18 4-13 5-10 4 60 4-30 4-25 4 97 9-142 8 107 4-66 4 81 4-104 5 62 4-76 4 43 4 8 8 51 5 11 4-3 4 28 4-6 4-64 4 60 5 13 4-31 4 35 4-59 4 62 5-103 4 83 4-5 4-18 4-17 9-35 4-57 8 104 4-55 4-103 5-58 4 77 4-109 4 88 4 47 4-126 5-106 4 139 4-51 4-58 4 53 4 94 5 24 4-23 4-106 4-70 4-52 4 68 5 34 4 187 8-98 4 133 4-137 5 19 4 5 4-26 4 93 4-58 9 46 4 18 4 23 4-31 9 56 4-60 4 47 4-86 4 30 4-47 5-12 4-103 4 16 4 58 4 79 4 39 5 13 4 27 4-14 4-91 4 82 4-23 5 77 4-130 4 64 4-13 4 36 4-47 5-1 4 53 4-56 4 25 4 14 5-5 4-9 4 64 4 49 4-25 4 8 5-51 4 16 12 41 9-2 4 15 8 22 4-59 4 65 5 2 4 3 4-147 4 123 4 10 4-109 5 96 4-63 4 23 4 5 4-146 13 68 4-274 4 76 4 6 5-79 4 121 4 17 4 29 8-64 5-41 4-4 4 197 4-35 4 3 4-103 5 128 4 25 4-64 4 97 4-142 4 47 5-132 4 71 4 14 4-105 4 148 4-62 5 58 4 32 4 15 4-33 8 37 5-35 8-5 4-60 8 102 5-9 8 36 4-87 4 26 9-46 4 28 4-13 4 75 4 42 5-19 4 0 4-38 4-26 4 168 4-77 5 48 4 27 4 8 4-20 4 5 4 34 5 19 4-59 4 31 4-53 4 58 4-64 5 82 4-11 4-85 4 98 4-40 4-59 5-2 4 21 4 56 4-51 4 66 5-32 4-52 4 17 4 16 4 29 4-32 5-80 4 28 4-80 4-80 4-59 4 51 5-73 4 25 8-27 4 76 4 8 5 182 4-125 4 5 4 32 4-28 4-57 5 35 4-162 4 209 4 125 4-64 4-88 5-24 8-71 4-46 4 143 5-16 8-8 4 135 8-113 5 68 4-37 4-25 4 50 4-49 4 67 5-13 4-17 4-50 4 15 4 165 4-89 5 37 4 1 4 6 4 21 4-44 4 6 5-24 4 25 4-52 4 52 4-106 4 88 5-49 4 89 8 31 8-56 5-22 4 71 4 9 4 43 4 0 5-4 4-13 4 22 8-85 4 74 5 11 4 1 4-31 4 40 4-101 4 61 5 22 4 6 4-2 4-109 4-11 4 8 9 46 4-4 4 15 4-14 4-171 5 14 4 120 4-60 4 23 4 71 4-62 5-18 8-76 8-8 5 127 4-143 8-51 4 55 9 11 4 14 4 9 4 17 4-81 4 107 5 21 4-36 4 37 4-18 4 44 4-39 5 7 8-10 4 105 4-165 4 65 5-77 4 55 4 73 4 12 4-90 4 125 5 9 4-97 4 66 4 39 4-96 9 134 4-35 4-3 4-33 4-44 5 90 4 22 4-60 4 35 4-36 4 44 5-34 4-10 4 56 4 11 4 12 4-42 5-24 4 32 4 26 4 5 4-76"/>
<path style="marker:url(#m4)" d="M180 716l5-52 4-55 4 35 4 37 4 113 5-80 4-76 4 65 4 32 4-50 9-52 4 86 4-83 4 35 4-92 4-9 5 26 4 90 4-30 4 32 4 61 4-89 5 41 4 42 4-16 4 35 4-34 4 28 5 10 4-22 4 12 4-30 4 85 4-114 5 8 4-119 4 67 4-9 4-57 4 126 5-54 4 7 4 153 4-236 4 73 5-107 4 43 4-36 8 19 4 116 5 32 4-144 4-37 4-132 4 145 4 91 5-59 8-23 4 88 4 59 4-65 5-74 4 183 4-115 4 33 4 43 9-66 8-51 4 42 4-46 9 22 4 58 4 38 4-2 4-92 5 6 4 71 4-39 4-78 4 67 4-66 5 79 4-16 4 18 4-8 4 26 4 10 5-61 8 34 4 33 4-69 4 25 5-20 4 1 4-2 4-3 4-6 4 45 5 8 4-113 4 83 4-17 4 19 4 58 5 23 4 20 4-111 8-1 5 33 4-13 4 14 4-27 4-2 4 24 5-15 4 2 4 130 4-76 4 17 4-17 5-26 4-95 4 40 4-57 8 96 5-111 4-45 4 105 4-157 4 90 4-23 5 39 8 0 4 32 4-74 4 74 5-24 4 87 4 58 4-96 4 13 4 58 5-106 8 121 4-91 4 34 5 19 4-95 4 171 4-45 4-46 4-40 5 77 4-44 4-60 4 83 4-39 4 128 5-86 4-22 4 23 4 2 4-21 4-13 5-28 4 24 4-15 4-14 4-43 4 67 5-9 4 81 4-5 4-43 4 24 4 8 5-31 4 27 4 11 4-70 4 103 9-84 4 52 4-68 4 56 4-59 5 29 4 21 4-54 4 64 4 12 4 15 5-74 4 5 4-24 4-2 4 64 4-40 5 102 4-102 4 78 8 49 4-35 5-13 12-110 4-30 4 91 5-22 4 9 4-85 4-53 4 70 5-85 4 53 4 48 4-68 8 56 5-67 4-22 4 27 4 123 4 9 4-18 5-92 4-26 4-123 8 191 9 63 4-63 4 119 4-140 4 27 9-20 4 82 4-37 4-2 4 14 4-4 5 24 4-48 4-78 4 75 4 1 4 28 5-77 4 95 8-107 4-117 5 8 4 57 4 60 4 59 4-15 4 57 5-36 4-32 8-79 4 130 4-133 5 88 4-54 4 20 4 28 4-29 4 64 5-55 4 34 4-33 4 1 4-3 4 88 5 69 4-52 4-65 4 9 4 9 4 22 5 7 4 34 4-35 4 21 4-54 5 75 4-10 4-2 4 57 4 42 4-2 5-138 4 91 8-82 4 89 4-36 5 17 4-15 4-69 4-16 4-77 4 118 5-238 4 86 4-30 4-61 4 138 4 27 5 67 4-189 4 56 4-37 4 47 4 140 5 13 4 1 4-128 4 191 4-10 9-26 4-90 4 0 8-43 5 34 4-122 4 120 4-64 4 79 4 22 5-13 4-27 8 54 4-78 4-70 5-10 4 32 4-16 4 43 4-12 4 95 5-16 4-103 4 17 4 30 4-57 4-2 5 7 4 30 4 24 4 10 4 27 5-41 4 12 8 6 4 109 4 3 5 3 4-8 4 28 4 16 4 24 9-15 8-13 4-32 4 61 4 21 5-92 4 73 4-17 4-95 4-15 4 29 5 122 4-66 4 55 4-30 4-96 9 41 4 31 4 13 4-51 4 22 4-98 5-58 4-44 4 62 4-83 4 44 5 19 4-86 4 106 4 36 4 142 4-88 5 7 4-26 4 20 4-36 4 45 4-118 5 120 4 119 4-81 4-92 4 16 4 14 5-83 4-54 4 134 4-34 4 23 4-19 5 95 4 28 4-103 4 43 4-33 4-38 5 5 4-26 4 70 4 0 4-38 5-42 4-10 4 120 4-17 4 40 4-15 5 8 4-18 4-29 4 16 4-73 4 21 5-69 4 110 4-87 4 10 4 45 4 50 5 20 4-8 4 20 4-52 4 3 4 8 5 30 12 34 4-2 4 12 5-53 4-5 4 38 8 47 5-51 4-11 8-11 4 110 4-49 5-38 4-65 4-16 4 13 4 24 4 29 5 17 4 30 4-106 4-89 8 122 9 4 4 115 4-85 4-20 9-59 4-8 8 145 4-130 4-78 5 7 4 67 4-60 4 41 4 28 4-25 5 20 4-33 4 119 4-13 4-53 5 21 12-3 4 0 4 40 5-50 4 26 4-99 4 63 4-57 4 12 5 60 4-3 4-43 8 91 4-64 5 80 4 24 4-85 4 52 4 32 4 21 5-16 4-83 4 3 4 8 4 28 4 6 5-31 4-3 4 18 4-13 4 18 5 47 4 14 4-5 4-70 4-21 4-71 5 57 4-9 4-22"/>
<path style="marker:url(#m18)" d="M177 629l4-9 4-44 4-5 5-18 4 78 4 15 4 5 4-82 4 7 5-7 4 14 4 1 4 21 4 7 4-13 5 25 4-90 4-9 4 51 4 72 5-21 4 16 4 67 4-94 8 83 5-17 4 20 4-11 4 27 4-11 4-20 5-3 4-3 4 52 4-114 4-56 4-84 5 45 4-111 4 85 4 107 4-26 4-11 5-26 4-63 8-141 8-23 5 104 4-20 4-85 4 198 4-148 4-39 5-58 8 185 4-188 4 109 5 24 4 45 4-44 4 125 4-109 4-87 5 35 4 138 4 24 4-178 4 5 4 7 5 7 4 77 4 26 4-61 4 95 4 25 5 80 8-93 4 35 4 35 4 15 5-71 4-54 4 18 8 11 4 66 5 29 4 15 4 9 4-28 4-13 5 2 4 31 4-30 4 30 4-29 4-23 9 12 4-7 4 16 4-12 4-11 5 49 4-68 4 25 4 77 4 60 4-26 5-82 12 7 4-41 4 69 5-32 4-67 4 52 4-17 4 44 9 32 4-58 4-59 8-53 5-43 4 13 8-99 4 23 4-130 5-4 4 78 4-42 4 151 4-88 4 56 5-37 4-92 4 59 4 119 4-106 4 93 5 93 4-64 4-59 4-53 4 61 4 0 5 54 4-3 4 33 8-62 9 133 4-36 4 6 4 62 4-119 5-2 4 117 4-58 4 112 4-125 4 50 5 54 4-57 4-34 4 44 4-96 4 42 5 56 4-51 4 0 4 31 4-5 9-5 4 89 4 25 4-102 4 81 4-36 5 54 4-48 4 103 4-84 4-45 4 24 5-4 4 44 4-31 4 27 4-14 4-23 5 46 4 6 4 18 4-49 4-14 5-65 8 107 4-58 4 63 4-77 5 35 4 27 4-7 4 60 4-134 4 82 5-147 4 31 4 3 4-25 4-136 4-24 5 95 4-1 4 44 4-160 4 37 4 85 5-38 4-85 4 62 4-91 4 47 4-8 5 22 4 101 4-181 4-34 4 36 5-43 8 14 4 247 4-25 4-61 5 72 4-48 4 1 4-29 4-35 4 117 5-90 4-5 4 118 4-6 4 64 4-47 5-59 4 71 4-122 4 106 13-14 4-17 4-60 4 9 4 1 4 28 5 106 4-47 8 58 4-42 5 7 4-80 4 4 8 8 4-36 5 92 4-25 4 7 4 0 4 15 9 9 4 8 4-22 4 83 4 81 4-61 5-71 4 39 4-6 4 29 4-84 4 85 5-21 4 56 4-122 4 63 4-3 4-36 5 81 8 33 4-88 4 40 4 43 5-79 4 13 4 31 4-61 4 27 5-220 4-34 4-11 4 85 4-75 4-73 5 56 4 38 4 64 4-14 4-23 4-96 5 27 4 3 4 16 4 197 4-90 4-6 5-85 4 16 4 219 4-73 4 49 4-71 5 7 4-106 4 78 4-57 4-1 9 2 4 73 4-32 4 15 4 24 5 5 8-8 4-11 4-11 4 13 5-56 4 90 4-59 4 65 4 26 4-54 5 11 4 22 4-49 4 13 4 11 4 4 5 74 4-43 8-12 8 82 5-34 4 46 4 60 4-13 8 2 5 53 4 17 4-41 4 45 4-66 5 44 4-23 4 56 4 6 4-113 4 98 9-112 4-20 4 6 4 133 4-58 5 39 4-65 8-9 4-75 4 41 5 41 4-91 4-164 4 66 4-68 4-67 5 106 4-113 4 64 4-47 4-4 4 74 5 12 4 0 4 63 4 11 4-12 4 67 5-54 4-43 8 71 4 71 5 9 4-163 4 117 4-79 4-80 4 25 5 123 4-6 4 18 4-20 4 9 4 19 5-25 4 68 4-22 4-18 4 11 4-16 5 62 4-24 4-54 4-11 4 7 4 90 5 4 4 23 4-1 4-4 4-17 4-19 5 10 4-96 8 18 4 64 9-49 4 32 4 60 4-7 9-8 4-8 4 2 4 18 4-7 4 64 5 26 4-57 4 15 4 29 8-73 5 53 4 22 4 6 4-49 4-29 9 8 4 79 4-62 4-53 4-32 4-26 5 35 4 58 4-38 4 17 4-4 9-125 4-11 4 92 4-52 4 78 5-7 4 40 4-18 4-85 4-37 4 29 5-58 4 113 12-158 4 28 5-14 4 94 4-12 8-55 4 2 5 74 4-6 4 26 4 10 4 25 4-18 5 3 4 12 4-33 4 39 4 19 5-79 4-14 4 40 4 12 4 4 4 21 5-35 4 122 4-69 4 3 4 17 4 75 5-92 4 51 8 41 4-14 4-77 5 14 12 27 4-39 4-5 5 27 4 3 4 17 4 44 4 18 4-39 5-17 4-58 4-19 4 13 4-8 4-15"/>
<path style="marker:url(#m9)" d="M177 733l4-14 4-25 4-57 4 37 4 30 5 65 4-55 4-45 4 17 4 79 4-64 9-56 4 80 8 15 9-104 4 49 4 40 4-11 4 36 4 41 5-71 4 43 4 24 4-27 4 44 4-30 5 43 4-4 4-27 4-15 4 2 5 42 4-104 4 16 4-89 4 41 4 3 5-67 4 152 4-95 4 2 4 133 4-225 5 45 4-69 4 14 4-9 4 98 4-40 5 37 4 81 4-176 4-55 4-67 4 151 5 32 4-15 4-55 4 2 4 102 9-1 4-93 4 200 4-84 4-12 5 66 4-176 4 135 4-132 8 85 5-49 8 72 4 13 4 69 4-13 5-99 4 2 4 50 4 7 13-101 4 58 4 12 4-5 4-20 4 49 5-4 4-41 4-25 4 81 4-2 4-41 5 33 8-33 4-6 4 4 4-26 5 71 4-6 4-67 8 88 5 2 4 71 4-21 4 14 4-64 4-10 5 34 4 34 8-22 4-4 4-29 5 7 4-32 4 14 4 100 4-27 4-22 5-54 4-8 4-53 4-4 4-59 4-63 9 65 4-94 4 174 4-189 4 84 5-45 4 26 4-13 4 33 4 34 5-76 4 120 4-93 4 148 4 17 4-99 5 39 8-37 4-8 4 134 4-147 5 48 4 16 4-96 4 165 4-38 4 0 5-82 4 97 4-66 4-33 4 100 4-47 5 89 4-74 4-15 4 29 4 16 4-25 5-19 4-36 4 5 4 4 4 20 5-75 4 97 4-23 4 64 4-20 4-32 5 69 8-61 4 32 4 33 4-111 5 134 4-18 4-50 4 62 4-87 4 68 5-88 4 34 4 44 4-74 4 109 4 5 5 0 4 37 4-57 4-7 4 43 4-13 5-70 4 98 4-46 4-4 4-47 4 110 5-23 4-13 4 32 4-28 4-127 9 14 4 40 4-70 4-6 4-74 5 53 4-92 4 73 4 76 4-96 4-146 5 131 4-11 4-20 4-5 4 161 9 34 4-150 4-30 4-131 4 168 4 32 5 126 4-49 4-79 4 112 4-125 4 59 9-70 4 96 4-19 4-43 5 24 4 19 4 17 4-36 4-77 4 135 5-56 4 9 4-65 4 88 8-105 9-82 4 39 4 103 4 26 4-24 5 65 4-13 4-69 4 19 4-46 4 108 5-118 4 52 8 1 4-23 4 0 5 86 4-64 4 12 4-24 4 47 5-12 4 53 4 83 4-27 4 8 4-55 5-7 4 30 4 48 4 6 4-16 4-34 5 5 4 42 4 32 4-54 8 50 5 0 4-152 4 144 4-13 4-96 4 91 5-66 4 26 4-3 4-69 4 0 4-124 5 108 4-223 4 53 4 25 4-94 5 180 4-8 4 53 4-104 8-50 5 15 4 149 4-6 4-7 4-88 4 172 5 17 4-71 4 68 4-100 4-20 4-103 5 58 8-74 4 150 4-109 4 88 5 6 4 29 4-21 4 31 4-16 4-41 5-69 4 43 4-46 4-31 4 92 4 15 5 36 4 12 4-104 4 33 4 6 5-43 4-21 4 46 4 69 4 6 4 66 5-42 4-62 4 0 4 102 8 27 5 44 4 15 4-47 4 15 4 35 4 11 5-55 4 26 4-35 4 56 4-47 4 77 5 1 4-90 4 66 4-8 4-71 4-6 5 14 4 70 4-45 4 50 4-4 5-113 4 58 4-14 4 33 4 2 4-55 5-1 4-89 8-104 4 24 4-48 5 18 4 90 4-146 4 118 4 39 9 45 4-6 4-14 4 46 4-51 4 103 5-201 4 137 4 112 4-67 4-91 4 17 5-51 8-89 4 126 4-14 5 36 4-45 4 75 4 8 4-62 4 57 5-45 4-19 4 21 4-41 4 60 4 4 5-52 4-8 4-26 4 168 4-77 4 44 5 11 4-8 4-5 4-26 4-6 4-20 5 14 4-79 4 117 4-121 4 56 4 20 9 114 4-15 8-72 4-16 5 46 4 40 4 58 4-6 9-49 4 33 4-16 4-66 4 83 4-7 5 33 4-20 4 0 4-87 4 47 4 66 5-26 4 11 4-107 4-26 8 26 5 34 4 6 4 31 4-82 4-119 4 70 5 72 4-76 4 38 4 91 4-93 4 0 5 4 4-40 4-10 4-24 4 117 5-120 4-39 4 29 4 57 4-62 4 36 5-3 4 22 4-16 4-37 4 140 4-5 5-101 4 69 4-42 4 50 4-37 4 29 5 41 4-86 4 114 4-184 4 88 4-73 5 22 4 99 4-31 4-61 4 138 4-39 5-60 4 81 4 32 4-121 9 136 4-27 4 6 4-62 4-39 4 65 5 48 4-44 4-19 4 8 4 45 4-55 5 34 4 20 4 2 4 31 4-49 4-13 5 41 4 0 4-31 4-37"/>
<path style="marker:url(#m2)" d="M176 696l9-18 4-50 4 8 4 52 4 94 4-72 5-80 4 70 4 56 4-62 4-23 4-26 5 58 4-56 8-87 4-13 4 64 5 54 4 5 4 33 4 33 4-86 4 64 5 19 4-9 4 25 4-9 4 26 5 7 8-20 4-28 4 85 4-122 5-3 4-78 4 49 4 11 4-64 4 143 5-76 4-21 8-84 4 71 4-105 5 58 8 20 4-15 4 32 4 77 5-153 4-68 4-71 4 136 4 32 9-20 4-36 4 120 4 40 4-68 9 121 4-98 4 0 4 43 4-166 9 116 4-58 4 37 4-34 4 57 5-15 4 49 4 63 4-21 4-87 4 7 5 76 4-40 4-59 4 25 4-78 4 90 5 6 4 7 4-15 4 33 4 9 4-10 5-60 4 58 4 32 4-60 9-26 4 19 4 12 4-41 4-2 4 30 5 18 4-72 4 93 4-17 4 33 4 21 5-8 4 27 4-90 4 7 4-18 4 44 5-9 4 25 8-28 4-20 4 12 5 24 4 115 4-62 4-14 4-11 4-10 5-60 4-7 8-158 4 143 4-45 5-82 4 61 4-94 4 114 13-57 4 40 4-25 4-2 4 61 5-49 4 148 4-20 4-41 4-54 4 77 5-61 4 12 4 95 4-133 4 71 4 28 5-101 4 164 4-43 4-31 4-24 4 62 5-60 8 56 4-44 4 127 4-103 9 44 4-29 4-19 4-9 5-23 4-10 4 8 4 8 4-50 4 76 5-35 8 88 4-32 4-5 9-15 4 48 8-76 4 110 4-57 5-23 4 37 4-61 4 62 4-69 4 23 5 13 4-39 4 74 4-20 4 32 4-51 5-2 4-68 4 10 4 77 4-37 5 87 4-94 4 81 4-56 4 90 4-9 5-26 4 62 4-63 4-126 4 25 4 36 5 16 4-123 4 41 4-53 4 37 4-92 5 88 4 32 4-105 4-79 4 109 4-92 5 45 4 50 4 123 4-47 4 60 4-111 5-99 4-66 4 102 4-2 4 179 5-67 4-56 4 137 4-102 4 26 4-20 5-40 4 130 4-68 4-6 4 14 4 13 5 30 4-11 4-108 4 86 4-10 4 22 5-79 4 102 4-86 4-17 4-112 4 4 5 59 4 83 4 43 4-14 4 55 4-18 5-56 4-14 4-24 4 97 4-109 4 48 5-34 4 30 4-53 4 15 4 75 5-25 4 8 4-30 4-16 4 7 4 59 5 79 4-34 4-6 4-71 4 26 4 47 9 16 4-24 4 20 4-87 4 131 5 5 8 13 4 1 4 60 9-92 4 25 4-92 4 104 4-56 4 31 5-17 4-107 4 79 4-161 4 83 5-173 4 57 4-34 4-44 4 162 4 3 5-11 4-165 4 153 4-80 4 35 4 155 5-8 4-4 4-102 4 176 4-26 4-55 5 57 4-129 4 52 4-125 4 34 4 40 5-98 4 125 4-65 4 42 4 61 9-44 4 52 4 24 4-73 4-77 5-10 4 24 4-25 4 63 4-7 4 67 5 16 4-108 4 31 4-1 4-54 4 22 5-2 4 77 8 50 4-35 4-52 5 16 4 44 4-11 4 31 4 78 4-9 5-3 4-10 8 47 4-38 4 37 5-49 4 50 4-68 4 63 4 37 4-99 5 91 8-119 4-6 4 10 5 121 4-68 4 72 4-51 4-78 4 68 5-33 4 68 4-32 8-74 4-50 5-64 4-64 4 56 4-74 4 56 4 8 5-88 4 119 4 4 4 129 4-79 4 15 5 16 4 12 4-67 4 20 4-167 9 343 4-75 8-86 4-43 5-25 4-46 4 134 4-41 4 33 9 62 4 31 4-108 4 72 4-50 4-36 5-9 4 14 4 14 8-5 4-32 5 4 8 90 4 41 8-14 5-4 4-18 4-7 4-69 4 38 4-85 5 101 4-92 4 30 4 38 9 115 4-40 4 20 4-69 4 4 4 19 5 19 4 39 4 18 4-10 4-34 4 33 5-57 4-21 4 57 4-3 4 25 4-32 5 10 4-76 4 34 4 122 4-35 4-34 5-93 4-15 4 31 4 5 4 48 4 1 5 14 4-65 4-114 4 60 4 100 5-56 4 27 4 81 4-74 4 2 4-27 5-75 4 34 4-24 4 135 4-133 4-75 5 34 4 23 4-27 4 50 4 30 4-25 5 38 4-111 4 126 4 1 4-17 4 24 5-28 4 27 8-28 4 26 4-11 5 49 4-116 4 50 4-46 4 36 4 51 5-7 4-46 4 108 4-28 4-33 5 40 4 41 4-84 4 56 4 36 4 18 5-29 4-50 4-22 4 19 4 62 4-44 5-16 4-12 4 17 8 9 4 57 5 0 4-13 4-39 4-34 4-54 4 40 5-11 4-37"/>
<path style="marker:url(#m23)" d="M177 688l4 0 4-27 5-49 8 48 4 72 4-42 4-47 5 11 4 49 4-29 4-23 4-10 5 47 4-71 4 37 8-91 4 38 5 50 4 26 4 21 4 37 4-68 4 50 5 17 4-12 4 22 4-33 4 46 4 13 5-25 4-23 4 23 4 49 4-121 4-1 5-88 4 33 4-16 4-41 4 153 4-96 5 25 4 78 4-179 4 78 4-121 5 24 4-47 4 125 4-83 4 39 4 55 5-95 4-81 8-12 4 93 4-31 5 18 4-27 8 150 4-62 4-31 5 108 4-72 4 26 4 93 4-237 4 102 5-22 4 8 4 7 4 1 4 21 4 9 5 70 4 60 4-49 4-63 4-15 5 88 8-97 4 34 13 2 8 15 4 47 4-1 4-22 5-42 4 42 8-15 4 25 9-31 4-19 4-22 4 8 4 69 4-26 5-55 4 106 4-44 4 0 4 64 4 14 5 49 8-133 4 6 4 40 5 11 4 12 4-60 4 5 4 43 4-15 5-21 4 98 4-47 4-23 4-19 4-38 5-66 4 4 4-38 4-106 4 154 4-68 5-58 4 31 8-31 4 33 4-1 5-5 8-29 4 6 4 82 4-86 9 141 4-8 4-69 4 97 4-64 5-18 4 104 4-77 4 60 4-15 5-123 4 211 4-26 4-75 4-21 4 69 5-67 4-35 4 116 4-81 4 161 9-98 4 39 4-12 4-42 4-19 4-31 5 7 4 45 4-14 8 31 4-23 5 82 4-32 4 3 4-1 4-11 4-14 5 43 4 7 4-66 4 119 4-40 5-81 4 67 8 7 4-77 4 30 5 9 4-30 4 81 8-18 4-19 5 4 8-20 4 31 4-30 4 58 5-36 4 33 4-32 4 55 4 7 9 27 12-159 4 6 4-100 5 1 4 27 4-39 4 0 9 42 4-10 4-91 4-68 4 108 4-83 5 18 4 39 4 74 4 44 4-3 4-140 5-51 4-55 4 82 4 24 4 160 4-24 5-43 4 74 4-83 4 59 4-34 4-47 5 104 4-55 4 10 4 42 4-20 4 58 5-61 4-105 4 112 4-43 4 65 4-68 5 69 4-50 4-13 8-112 5 51 4 51 4 78 4-35 4 47 4-16 5-10 4-27 4-48 4 94 4-88 4 16 5 20 4-2 4-4 4-46 4 119 4-72 5 54 4-44 8-22 8 178 5-64 4 1 4-63 4 35 4 78 4-17 5 11 4-19 8-15 4 39 5 43 8 2 4-25 4 37 4-132 5 58 4 47 4-89 4 66 4-28 4 11 5-38 4-79 8-111 4 102 4-205 5 53 4-10 4-32 4 126 4 28 4-68 9 0 4-51 4 29 4 170 4-54 9-73 4 155 4 1 4-56 5 100 4-137 4 8 4-103 4 42 4 6 5-52 4 107 4-29 4 47 4 30 4-53 5 31 4 50 4-7 4-84 4-31 4-3 5 20 4-49 4 85 4-34 4 77 4 25 5-97 4-5 4 37 4-47 4-24 4 35 5 14 4 45 4 44 4-25 4-18 4-4 5 44 4 24 8 71 4-12 5-10 4 22 4 28 4 35 4-44 4 29 5-67 4 48 4-36 8 98 9-35 4-39 4-63 4-9 4 38 9 18 4 58 4-30 4-68 4 15 4-3 5 44 4-6 4-99 4-25 4-69 4-28 5-69 4 66 4-95 8 68 5-74 4 74 4 12 4 114 4-12 4-20 5 10 4 8 4-74 4-13 4-121 4 250 5 61 4-22 4-114 4 62 4-39 4-57 5-63 4 129 4-11 4 16 4-33 4 72 5 52 4-82 4 51 4-33 8-31 5-14 4 59 4-3 8-48 5 3 4 100 4-25 4 58 4-12 4-16 5 5 8-32 4-53 4 24 4-38 5 60 4-76 4 51 4-19 4 63 4 45 5-28 4 41 4-84 4 0 4 32 4 42 5 82 4-19 4-1 4-41 4 17 4-54 5-24 4 51 4 22 8-20 5-2 4-77 4 40 4 107 4-20 4-27 5-95 4-2 4 0 4 7 4 30 4 24 5 14 4-96 4-97 4 47 4 61 4-42 5 48 4 62 4-46 4-18 4-5 4-71 5 18 8 95 4-148 4-36 4 19 5 26 4-38 4 77 4 12 8 6 5-122 4 190 4-21 4-49 4 24 5-6 4 37 4-15 4 8 4 20 4-25 5-5 4-53 4 35 4-41 4 16 4 30 5 24 4-37 4 122 4-67 4-15 4 56 9-31 8 103 4-28 4 2 5-91 4-1 4 45 8-6 4-7 5-21 4 33 4-5 4 14 4 47 5 2 4-10 4-42 4-29 4-23 4 29 5 8 4-67"/>
<path style="marker:url(#m14)" d="M177 710l4 9 4-7 4-41 4 24 5 27 4 43 4-13 8-7 4 42 5-57 4 1 4-38 4 44 4-22 4 15 5-62 4 13 4 50 4 23 9 7 4 47 4-59 4 20 4 20 4-23 5 48 4-39 4 28 4 16 4-16 9-30 4 40 4-56 4 43 4-150 4 58 5-33 4-75 4 149 4-74 4 6 4 111 5-187 4 69 4-104 4 21 4-79 4 94 5-43 8 101 4-128 4-36 4-115 5 90 4 93 4-12 8-29 5 98 4 16 4-53 4-40 4 134 4-15 5-42 4 94 4-230 4 187 4-105 4 4 9 27 8 63 4 18 4 46 5-19 4-76 4 11 4 71 4 34 4-124 5 42 8 30 4 2 4-15 4-6 5 20 4 17 4-42 4-27 4 63 9-12 4 21 8 43 4-88 5 45 4-45 4 43 4 20 4-63 4 67 9 25 4 58 4-29 4 25 4-48 5-68 4 58 4 25 4-43 4 44 4-39 5-18 4 20 4-12 8 67 4-16 5-35 4-22 4 1 8-11 5-125 4-82 4 142 4-109 4-39 13 32 4 3 4-16 4-6 4 14 5 13 4-90 4 111 4-27 8 123 5-63 4-65 4 72 4-37 4-7 4 99 5-119 4 85 4 2 4-82 4 164 9-65 4-44 4 98 4-42 4-97 9 55 4 143 8-99 4 40 5-11 4 9 4-42 4 10 4-44 4 35 5 30 4-83 4 88 4-62 4 104 9-49 4 86 4-50 4-9 4 75 4-50 5-80 4 110 4-24 4-16 4 47 4-92 5 64 4-88 4 58 4 1 4-26 4 97 5-34 4 48 4 7 4-35 9 11 4 35 4-42 4 15 4-29 4 32 5-102 4 109 4-28 4 8 4 1 4 1 5-111 4 5 4 25 4 8 4-45 4-43 5-86 4 70 4-79 4 39 4-1 4-60 5-115 8 102 4-20 4 27 4 129 5-14 4-26 4-41 4-170 4-30 5 74 4 18 4 193 4-53 4-1 4 28 5-65 4 63 4-40 4-29 4 95 4-7 5-21 4 9 4 22 4 38 4-47 4-77 5 143 4-74 4 43 4-49 4 52 4-56 5-33 4-115 4 14 4 46 4 92 4 55 5-26 4 55 4 0 4-86 4 70 5-40 4 95 4-162 4 49 4 11 4 27 5-9 4-15 4 56 4-47 4 36 4-36 5 32 4 6 4 53 4 38 4-41 4 7 5-35 4 39 4 24 4-35 4 51 4-10 5 2 4-43 4 74 4-4 4-22 4 19 9 7 4-136 4 96 4 20 4-98 5 89 4-51 4 5 4-39 4-45 5 40 8-66 4-225 4 90 4-19 5-94 4 150 4 35 4-17 4-166 4 118 9-36 4 185 4-27 4 12 4-110 5 167 4-17 4-54 4 87 4-128 4 25 5-142 4 89 4 12 4-76 4 150 4-94 13 137 4-60 4 57 5 19 4-98 4-52 4 53 4-56 4 17 5 76 4-4 4 44 4 22 4-125 9 58 12-51 4 56 4 38 5 38 4-32 4-60 4 4 4 154 9-34 4 62 4-4 4-2 4-3 4 21 5 30 4-64 4 20 4-26 4 63 5-66 4 82 4-17 8 18 4-47 5-69 4 10 4-9 4 85 4-54 4 65 9-102 4 39 4 51 4 0 4-57 5-38 4 39 4-130 4-64 4-35 4 27 5-106 4 41 4 48 4-115 4 133 4 7 5 132 4-69 4-1 4 15 8-96 5-33 4-109 4 225 4 139 4-88 5-68 4-6 4-11 4-57 4-43 4 120 5-22 8 5 4 105 4 16 4-92 5 69 4-38 4-19 4 29 4-59 4 72 5-2 4-13 4-44 4-10 4 143 4-64 5 46 4 12 4 16 4 8 4-31 4-16 5-19 4-6 8 33 4-107 5 84 4-43 4 78 4 38 8-3 5-56 4-11 4 45 4 64 4-2 4 17 5 5 4-51 4 27 4 1 4-62 9 89 4-1 4-16 4 19 4-74 4 0 5 69 4-23 4 18 4-88 4-36 4-7 5 14 4 33 4 27 4 10 4-46 5-151 4 31 4 105 4-80 4 63 4 63 5-78 4-12 4-3 4-72 4 10 4-39 5 134 4-134 4-46 4 18 4 6 4-2 5 48 4 16 4-32 4 44 4-83 4 161 5-38 4-21 4 13 4-21 4 52 4-26 5 15 4 34 4-36 4 68 4-138 4 65 5-59 4 9 4 118 4-34 4-61 5 128 4-41 4-49 4 58 4 46 4-93 5 57 4 62 4-32 8-42 4-29 5 95 4-10 4-43 4 33 4-25 4 29 5-37 4 21 8 25 8-25 5 7 4 55 4-29 4-38 4 0"/>
<path style="marker:url(#m5)" d="M176 676l5 10 4-6 4-91 4 44 4 40 4 39 5-27 4-62 4 37 4 7 4-5 4 1 5-38 4 53 4-71 4 30 4-87 4 9 5 33 4 74 4-7 4 35 4 39 4-97 5 67 4 29 4-33 4 38 4-11 4 7 5 19 4 6 4-42 4 19 4 55 5-119 4 9 4-105 4 34 4 10 4-50 9 67 8 145 4-235 4 93 5-103 4 32 4-18 4 121 4-61 4 50 5 65 4-152 4-27 4-105 4 137 4 22 5 14 4-36 4-21 4 93 4 74 4-81 5-84 4 208 4-171 4 72 4 55 9-39 4-106 4 12 4 58 4-76 5 83 4-29 4 55 4 43 4-3 4-106 5-11 4 88 4-46 4-102 4 75 4-92 5 104 4-25 4 2 4 32 4 2 4 8 5-12 4-31 4 9 4 37 4-29 4 11 5-28 4 19 8-33 4 7 4 20 5 10 4-49 4 57 4-9 9 66 4 0 4 19 4-92 4-12 4 0 5 41 4-21 4 57 4-57 4-11 4 31 5-19 4 36 8 30 4-31 4 4 9-78 8-35 4-113 4 193 5-94 4-64 4 119 4-152 4 79 4-12 5 28 4-27 4 57 4 52 4-79 5 104 4-80 4 138 4 30 4-124 4 75 5-4 4-109 4 20 4 122 4-132 4 74 5 4 4-88 4 167 4-28 8-77 5 49 4-37 4-81 4 92 4-39 4 82 5-19 4-62 8 63 4-49 4-7 5-45 8 12 4 16 9 33 4-48 4 87 4-80 4 39 4 38 5-42 4 7 4 17 4 10 4-61 4 132 5-69 4-78 4 79 4-60 4 76 4-68 5 7 4 30 4-57 4 75 8 2 5-39 4 3 4-76 4 90 4 17 4-69 5 105 4-86 4 60 4-30 4 25 4 53 5-47 4 60 4-68 4-55 4 1 5 6 4-37 4 14 4-75 4-5 4 36 5-55 4 43 4 14 4-73 8 40 5 0 4-47 4 20 4 150 8 32 5-149 4-3 4-98 8 163 4 140 5-64 4-76 4 116 8-85 4-28 5-24 4 72 4-17 4-38 4 38 5 8 4 0 4-26 4-135 4 87 9 37 4-55 4 79 4-60 4-23 4-108 5-11 4 40 4 52 4 96 4-38 4 17 5-1 4-17 4-34 4-34 4 62 4-62 5 10 4 9 4 38 4-37 4 6 4 34 5-13 4 10 4-10 4 13 4 5 5 67 4 56 4-39 4-15 4-36 9 52 4 19 4-2 4-7 4-5 4-63 5 101 4-57 4-20 4 105 4-14 4 37 5-122 4 66 4 33 4-85 4 67 4 13 5-20 4 2 4-113 4 54 4-86 4 85 5-197 4-4 12 113 4 37 5 23 4-131 4 68 4-80 4 34 5 161 4-20 4 1 4-108 4 157 4 22 5-45 4 23 4-69 4-5 4-144 4 71 5 20 4-95 4 120 4-50 4 41 4 46 5-8 8 36 4-7 4-84 4-82 5 22 4-10 4 2 4 48 4-40 4 79 5 19 4-94 4 14 4 32 4-73 5 32 4-15 4 11 4 45 4 10 4 4 5-35 4 25 4 69 4-45 4 66 4 33 5-9 4 4 4 35 4 26 4 10 4-22 5 17 4-65 4 49 4-58 4 89 4 14 5-98 4 69 4-22 4-86 4 15 4 1 5 101 4-48 4 39 4-57 4-69 5 79 4-36 4 37 4 0 4-53 4-33 5-37 8-115 4 84 4-73 4 58 9-99 4 140 4 7 4 187 4-126 5 3 8 36 4-56 4 102 4-190 5 137 4 136 4-102 4-62 4-7 4 27 5-69 4-102 4 141 4-38 4 54 5-47 4 86 4 33 4-105 4 52 4-45 5-31 4-2 4 14 4 60 4-32 4-30 5-21 4-3 8 72 8 21 5 20 4-31 4-31 4 13 4-99 4 51 5-54 12 56 4 7 4 44 9 18 4 1 4-9 8 11 5-30 4 101 4 8 4-30 4-11 5 24 4-50 4-8 4 41 4 7 4 26 5-33 4 25 4-116 4 74 4 87 4-40 5-47 4-97 8 47 4 14 4 12 5 47 4-25 4-24 4-113 4 27 4 75 5-34 4 43 4 99 4-70 4-4 4 0 5-67 4 16 4-21 4 113 4-127 9-10 4 12 4-10 4 21 4 37 5-29 4 18 4-47 4 129 4 2 4-63 5 36 4-36 4 27 4-39 4 6 4 55 5-66 4 42 4-105 4 35 4-31 4 22 5 30 4-4 4-35 8 58 4-19 5 56 4 42 4-84 4 39 4 45 5 21 4-21 4-68 4-11 4 10 4 19 5 17 4-26 4-22 4 35 4-8 4 6 5 82 4-20 4-27 4-48 4-32 9 0 4 9 4-21"/>
<path style="marker:url(#m20)" d="M177 647l4-15 4-23 5-31 4-13 4 89 4 4 4 2 4-85 5 15 4 21 4-2 4-12 8 54 5-86 4 71 4-85 4 1 4 23 4 73 5-34 4 57 4 33 4-63 4 40 4 36 5-26 4 29 4-10 4 6 4-29 4 14 5-8 4 20 4 40 4-144 4-26 5-62 4 27 8-30 4 123 4-59 5-25 4 16 4-34 4-20 4-155 4-2 5 4 4 91 8-46 4 126 9-169 4-107 4 2 4 195 4-150 4 87 5 16 4 73 4-5 4 38 4-101 4-21 5 22 4 95 4 51 8-150 4-21 5 58 4 40 4 3 4-46 4 68 5 50 4 50 8-89 4 21 4 26 5 23 4-78 4-1 4 2 4 19 4-11 5 74 4-16 4 45 4 3 4-20 4-23 5-12 4 30 4 6 4 8 4-39 4 10 5-5 4-28 4 20 4 40 4-16 4-40 5 56 4-37 4 3 4 83 4 13 5 14 4-91 4 9 4 2 4-36 4 47 5 31 4-47 4-61 4 68 4-34 4 29 5 85 4-58 4 8 4-99 4-42 4 1 5 4 4-58 4-148 4 129 4-17 4-132 5 35 4-14 4-4 4 116 4-62 4 60 9-103 4 18 4 114 4-100 5 67 4 115 4-66 4-65 4-37 4 77 5 8 8 28 8-10 4-21 5 171 4-39 8-22 4 41 4-98 5 4 4 98 4-62 4 133 4-120 4 40 13-17 4 0 4-49 4 5 5 50 4 7 4-39 4 27 4 4 4 85 5-86 4 56 4 8 4-74 4 46 5-5 8-6 4 90 4-62 4-50 5 38 4 5 4 40 4-57 4 40 4 12 5-58 4 30 4 48 4 1 4-75 4 13 5-57 8 91 4-66 4 92 4-83 5 47 4-4 4-35 4 91 4-107 4 65 5-163 4 26 4-13 4 53 9-112 4-3 4 13 4 3 4-96 4 45 5 56 4-41 4-89 4 87 4-127 4 30 5 50 4 24 4 85 4-175 4-3 4 26 5-55 4-49 4 44 4 269 4-37 4-60 5 91 4-111 4 48 4-64 8 97 5-62 4-14 4 113 8 36 5-53 4-63 4 9 4 0 4 64 4-15 5 1 4-6 4-4 4-101 4 24 4 16 5 2 4 117 4-63 4 72 4-16 4-17 5 9 4-30 4-29 4 6 4-23 4 1 5 41 4 5 4 14 4-6 4-32 4 74 5-29 4 6 4-14 4 103 4 46 5-31 4-49 4-9 8 29 4 0 5 43 4-43 4-6 4-61 4 61 4-34 5-17 4 108 4-62 4 29 4-57 4-30 5 91 4-19 4-9 4 40 4-65 4-4 5-177 4-60 4-12 4 53 4-35 4-75 5 20 4 45 4 81 4 29 4-70 4-90 5 50 4-8 4-17 4 229 4-61 5-60 4-33 4 22 4 151 4-58 4 50 5-53 4 18 8-63 4-40 4 1 5 105 4-63 4 39 4-7 4-3 4 6 5 34 4 28 4-46 4-34 4 4 4 1 5-45 4 95 4-83 4 72 4 59 4-82 5 15 4 10 4-31 4-2 4 2 5-5 8 53 4 12 4-18 9 86 4-59 4 67 4 21 8 33 5 2 4 26 4 38 4-39 4 28 4-66 5 49 4-23 4 49 4 18 4-79 4 50 5-57 4-38 4-8 4 2 4 137 4-71 5 43 4-82 4-82 4 69 4-44 9 59 4-89 4-130 4 59 4-98 5-59 4 102 4-92 4 41 4 4 4-59 5 51 4 42 4 31 4-7 4 12 4 5 5 78 4-69 4-24 12 123 5-8 4-120 4 81 4-65 4-72 4 55 5 85 4 20 4 16 4-29 4-7 4 59 5-43 4 40 4 13 4-16 4-4 5-27 4 48 4-1 4-63 4 5 4 8 5 102 4 1 4 15 4-6 4 14 4 3 5-54 4 7 4-121 8 23 9 12 8 51 4 52 4 22 4 0 5-24 4-5 4-20 4 32 4-19 4 99 5 29 4-71 4 16 4 21 4-62 5-2 4 29 4 24 4 7 4-62 4 25 5-80 4 35 8 49 8-107 5 10 4 5 4 40 4-11 4 30 4-13 9-147 4 11 4 83 4-48 4 68 5 8 4 21 4-6 4-46 4-71 4 2 5-45 4 137 4-126 4-59 4-14 5 38 4 5 4 118 4-38 4-73 4 8 9 68 4 17 4-14 4 66 4-10 5 4 4-16 4 14 4-45 4 43 4-10 5-27 4-8 4 3 4 28 4 14 4 38 5-50 4 137 4-46 4-41 4 31 4 64 5-79 4 36 4 33 4 32 4-27 4-75 5-16 4 26 4-8 4 23 4-14 5-2 4 35 4-10 4 12 4 29 4 16 5-28 4-41 4-40 4-13 4 30 4-39 5 13"/>
<path style="marker:url(#m10)" d="M177 743l4 1 4-34 8-44 4 60 5 72 12-100 4 69 4-41 5 11 4-58 4 59 4-22 4 44 4-107 5 16 8 85 4-1 4 33 5 22 4-59 4 46 4-18 4-3 4 36 5-37 4 40 4-21 4 32 4-46 4-12 5 55 4-85 4 33 4-105 4 48 4-24 5-71 4 167 4-99 4 9 4 123 4-189 5 25 4-108 4 76 12 15 5 44 4 13 4-132 8-145 4 119 5 68 4-39 4-15 4-7 4 106 5 53 4-70 4-60 4 167 4-88 4 33 5 61 4-198 4 132 4-106 8 85 5-52 4 89 4-44 4 55 4 29 4 38 5-135 4 32 4 55 8-91 4-5 5 11 4 42 4 51 4-47 4-12 4 45 5 16 4-69 4-31 4 97 4-5 5-47 12 60 4-71 4 37 5-53 4 103 4-34 4-45 4 54 4 21 5 26 4 49 8-28 8-68 5-4 4 72 4-32 4 1 8-44 5 40 4-2 4-44 4 83 4-27 4 10 5-21 4-46 4-14 4 38 4-150 5-69 4 110 4-25 4-96 4 159 4-200 5 80 4-9 4 25 4-39 4 51 4 37 5-49 4 54 4-58 4 128 4 31 4-81 9-25 4-36 8 119 4-130 5 73 4 20 4-77 4 105 4 36 4-33 5-62 4 91 4-48 4-66 4 108 4-69 5 132 4-100 4-7 4 54 4-11 5-25 4-23 4 7 4-21 4-16 4 49 9 32 4-70 4 104 4-22 4-32 5 65 4-34 4-24 4 62 4-5 4-97 5 121 4 0 8-22 4-92 4 90 5-84 4 22 4-4 4-27 4 115 4-4 5 23 4 9 4-29 4-22 13-14 4 65 4-64 4 70 4-101 5 67 4 26 4-3 4-14 4-4 4-72 5-59 4 48 8 0 4-61 4-84 5 91 4-111 4 82 4 26 4-93 4-112 5 145 4-30 4-41 4 39 4 78 4 58 5 4 4-149 4-22 4-117 4 126 5 83 4 120 4-85 4-44 4 138 4-147 9 14 4-29 4 100 4-27 4-38 5 34 4 4 4 7 4 42 4-132 4 162 5-86 8-25 4 41 4-78 4-8 5-102 4 6 4 49 4 87 4 45 4-29 5 62 4-24 4-28 4 21 8 63 5-153 4 59 4 2 4 16 4 9 5-45 4 72 4-41 4 12 4-31 9 50 12 77 4 2 4-22 5 2 4 27 8 6 4 28 4-27 5-27 4 35 4-1 4-25 8 50 5-14 4-118 4 112 4-5 4-69 4 73 5-48 4 13 4 5 4-151 4 117 5-169 4 123 8-173 4 48 4-136 13 242 4-181 4 93 4-90 5 33 4 166 4-23 4 19 4-135 4 196 5-8 4-39 4 37 4-87 4 8 4-107 5 29 4 21 4-91 4 132 4-58 4 54 5 51 8-53 4 31 4 27 5-59 4-76 4 67 4-34 4-17 9 67 4 51 4 6 4-107 4 37 4 36 5-70 4 12 4 17 4 34 4 33 4 47 5-54 4-32 4 0 4 126 4-74 9 135 4-6 4-40 4-3 4 62 4-16 5-37 4 23 4-18 8-16 5 62 4 4 4-103 4 114 4-63 4-48 5 22 4 6 4 61 4-44 4 53 4-22 5-73 4 24 4 13 4 52 4-57 4-38 5 22 4-122 4-37 4-53 4 13 4-40 5 21 4 87 4-122 4 98 4 31 4 113 5-61 4-17 8 37 4-87 4 77 5-186 4 183 4 124 4-89 4-102 5 38 4-19 4-57 4-68 8 114 5 43 4-49 4 118 4 19 4-109 9 25 4-17 4 46 4-40 4 41 4-35 5-20 4-23 4 4 4 170 4-88 4 44 5-21 4 17 4 1 4-19 4-8 4-42 5 55 4-65 4 54 4-96 4 103 5-50 4 70 4 79 8-31 4-69 5-23 4 41 4 42 4 29 4 17 4 6 5-51 4 29 4-34 4-42 4 67 4 28 5 13 4-31 4-14 4-43 4 50 4 34 5-2 4 0 4-98 4-41 4 9 4 50 5-7 4 34 4 30 4-64 4-167 5 69 4 80 4-52 4-7 4 119 4-88 5-39 4 9 4-47 4 20 4-19 4 112 5-118 4-55 4 36 4 24 4-42 4 29 5 40 4-13 4-5 4-13 4 105 4 5 5-88 4 65 4-47 4 74 4-48 9 12 4-12 4 89 4-177 4 81 4-77 5 21 4 100 4 6 4-79 4 122 5-14 4-61 4 27 4 56 4-87 4 45 5 67 4-19 4-6 4-46 4-37 4 78 5 43 4-57 4-11 4-8 4 39 4-29 5 1 4 47 4 23 4-23 8-41 5 47 4 13 4-21 4-46"/>
<path style="marker:url(#m0)" d="M176 680l8 6 5-67 4 18 4 44 4 48 4-27 9 0 4 16 4-43 4 13 4-58 5 28 4-29 4 59 4-133 4 8 4 28 5 66 8 23 4 63 4-78 4 35 5 43 4-36 4 32 4 2 4-15 4 10 5 31 12 23 4-143 4 39 5-88 4 23 4 10 4-63 4 152 4-95 9 175 4-224 4 36 4-117 5 92 4-104 4 78 4 14 4 42 4 72 9-241 4-77 4 132 4 72 4-39 5-26 4 19 4 91 4 14 4-62 4-16 5 103 4-48 4 29 4 57 4-210 4 169 5-78 4-11 4 13 4-15 4 62 4-38 5 90 4 35 4 23 4-134 4-6 5 68 4-46 4-27 4 25 4-58 4 94 5-35 4 31 4-12 4 24 4 26 4-39 5-41 4 42 4 51 4-69 4 33 4-65 5 53 4-36 4-16 4-6 4 68 4-7 5-81 4 88 4-24 4-27 4 91 4 6 5 13 4-68 4-38 4 33 4 14 5 12 8-59 8 52 9-4 4 104 4-75 8-39 9-90 4 0 4-22 4-69 4 133 9-161 4 133 4-152 8 73 4-7 5-11 4 65 4-9 4-56 4 91 4-63 5 100 4 29 4-47 4-77 4 110 4-45 5 19 4 91 4-135 4 86 4 3 5-107 8 128 4-66 4-8 4 30 5-23 4-51 8 73 4 108 4-77 5-8 4 19 4-10 4-3 8-47 5-12 4 34 4-10 4-52 8 42 5 98 4-49 4 7 4 22 4-18 4 4 5 42 4-16 4-79 4 127 4-50 9-7 4-70 4 71 4-54 4 25 5 3 4-35 4 79 8-33 4-15 5 7 4-43 4 39 4 14 4-31 4 103 9-6 4-89 4 62 8-66 5 75 4-12 4-110 4 29 4 22 4-13 5-43 8-68 4-1 4-49 5 51 4 11 4-59 4-94 4 110 4-60 5 35 8 108 4 32 4 34 4-119 5-84 4-93 4 83 4 24 4 196 4-41 5-69 4 110 4-60 4 5 4-22 4-39 5 101 4-53 4-5 4 43 4 3 4 18 5-30 4-124 4 81 4-21 4 67 4-64 5 69 4-63 4-17 4-107 4 5 5 51 4 25 4 101 4-16 4 31 4-17 5-19 4-21 4-30 4 80 8-41 5-43 4 22 4 7 4-16 4 43 4-23 5 34 8-30 4-23 4 102 4 51 5 4 4-86 8 23 4 14 4 22 5 22 4-17 4-4 8 12 5 15 4-23 4 76 4-44 4 49 4-136 9 92 4-76 4 85 4-39 4 15 5-34 4-93 4 5 4-47 4 66 4-212 5 58 4 10 4-60 4 132 4 11 4 3 5-178 4 175 4-71 8 198 4-48 5-5 4-90 4 171 4-8 4-47 5 74 4-166 4 30 4-116 4 87 4-3 5-84 4 110 4-45 4 62 4 5 4 21 5-32 8 34 4-62 4-46 4 2 5-5 4-6 4 54 4 9 4 65 4-6 5-91 4 45 4-31 4-27 4 2 4-3 5 45 4 1 4 48 8-74 4 24 5 62 4-7 4 68 4 39 4-11 5-4 4 4 4 17 4 34 4-36 4 12 5-40 4 73 4-96 4 105 4 25 4-113 5 69 4-32 4-67 4 3 4-5 4 109 5-30 8 9 4-82 4 33 4-9 5 64 4-10 4-65 4-80 4-34 4-15 5-116 8 19 8 52 5-104 4 112 4 12 4 192 13-73 4-11 4-98 4 1 4-153 4 270 5 108 4-94 8-48 4-37 9-98 8 105 4 31 4-46 4 97 5 16 4-92 4 67 4-61 4-6 4-4 5-1 4 42 4 16 4-44 4-24 5 4 4 129 4-59 4 49 4-10 4-6 5 27 4-62 4 17 4-65 4 28 4-75 5 108 4-96 4 41 4 1 4 45 4 55 5-6 4-4 8-44 4 1 9 78 4 42 4-10 4-39 4 27 4-55 5-28 4 77 4-10 4 26 4-32 5-37 4-65 4 72 4 93 4-26 4-53 5-56 4-60 4 47 4 46 4 16 4 7 5 4 4-99 4-80 4 44 4 67 4-15 5 22 4 72 4-51 4-1 4-35 4-57 5 24 4-32 8 2 4-71 4-8 5 63 4 8 4 25 4 28 4-66 4 38 5-78 4 136 4 35 4-60 4 18 5 4 4 10 4-19 4-10 4 33 4-19 5 41 4-115 4 63 4-52 4 21 4 45 5 2 4-40 4 120 4-26 4-63 4 69 5 52 4-101 4 45 4 55 4-1 4-4 5-72 4-7 4 12 4 29 4-1 4-25 5-41 4 50 4 1 4 5 4 60 5-3 4-5 4-63 4-34 4-14 4 15 5 16 4-48"/>
<path style="marker:url(#m16)" d="M177 678l4 13 4-38 4-53 5 47 4 36 4 45 4-36 4-63 4 27 5 55 4-57 4 20 4-18 4 38 4-59 5 37 4-81 4 9 4 29 4 56 4 38 5-4 4 36 4-45 4 31 4 6 9 40 4-52 4 42 4-11 4 14 4-25 5-17 4 66 4-113 4-16 4-97 5 34 4-12 4-32 12 74 5 43 4-141 4 25 4-174 4 67 4-48 5 111 4-94 4 66 4 103 4-178 4-38 5-89 4 23 4 144 4-103 4 66 4 18 5 76 4-46 4 45 4-66 4 92 4-22 5 31 4 70 4-234 4 76 4-24 4 15 5 30 4 69 4-18 4 52 4 13 5 70 4-41 4-64 4 23 4 67 4-24 9-66 4-17 4 73 8 20 5-19 4 27 4 0 4-19 4-37 4 40 5 42 4-42 4 26 4-49 4 28 9-44 8 53 4 2 4-69 4 86 5 6 4 7 4 78 4-15 4 51 5-74 4-26 4 12 4 19 4-4 4 33 9-83 4 21 4-55 4 40 4 108 5-51 4-36 4 2 4-68 4-80 4-19 5-4 4-102 4 90 4-25 4-111 4 69 5-60 8 65 4-21 4-20 4 30 5-42 4-15 4 77 4-59 4 83 5 63 4-35 8-115 4 72 4-14 5 98 4-40 4 57 4-63 4-35 4 152 5-33 8-41 4 93 4-128 4 11 5 92 4-31 4 86 4-74 4-6 4 45 5 14 4-48 4 8 4-62 4 34 4 3 5 11 4-57 4 86 4-53 4 119 4-63 5 12 4 32 4-2 4-16 4 26 5 6 4-69 4 113 4-51 4-67 9 35 4 55 4-86 4 36 4 16 4-23 5 97 4-17 4 12 4-2 4-35 4-16 5 61 8-16 4 51 4-111 4 77 5-91 4 146 4-39 4-35 4 17 4-42 5-135 4 33 8-30 4-65 5 5 4-54 4 50 4-90 8 56 5-44 4-85 4 92 4-110 4 75 4-12 5 72 4 56 4-122 4-31 4-37 4-52 5 69 4-32 4 246 4-52 4-66 4 77 5-43 4 27 4-26 4-22 4 54 4-39 5 24 4 69 4 5 4 46 4-63 5-49 4 61 4-27 4 28 4-33 4 51 5-43 4 13 4-135 4 12 4 56 4 56 5 79 4-34 4 55 4-33 4-11 4-68 5-11 4 130 4-135 4 70 4 6 4-42 5 13 4 12 4 68 4-46 4 18 4-30 5 27 4-42 4 107 4 94 4-57 4 4 5-41 4-8 4 36 4 59 4 6 5-39 8-7 8 85 4-105 5 83 4-19 4 28 4-120 4 35 9-66 4 67 4-23 4-2 4-33 9-113 4-58 4 64 4-188 4 21 4-22 5 23 4 100 8-26 4-91 4 48 5-4 4-41 4 196 4 1 4-39 5-96 4 120 4 65 4-22 4 30 4-84 9-126 4 74 4 20 4-63 4 105 5-56 4 57 8 14 4 5 4 52 5-24 4-30 4-47 4-12 4-6 4-10 9 53 4 98 4-4 4-102 4 39 5-2 4-63 4 25 4 1 9 56 4 50 4 0 4-50 4-4 4 81 5-23 4 71 4 46 4 22 4-42 4 10 5 44 4 8 4-26 4 14 4-48 4 58 5-48 4 89 4-15 4-98 4 82 4-11 5-84 4-12 4 18 4 91 4-60 4 62 5-47 4-87 4 43 4 4 4 34 5-32 4-63 4-45 4-34 4-66 4-81 9-40 4 91 4-43 4-38 4 56 5 44 4 89 4-16 4-18 4 20 4-2 5-57 4 14 4-179 4 243 4 132 4-86 5-108 4 43 8-96 4-27 4 149 5-35 4 48 4-32 4 77 4 33 4-103 5 62 4-43 4-14 4 27 4-46 5 44 4 32 4-25 4-44 4 0 4 108 5-35 8 34 4 2 4 15 4-59 5 47 4-27 4-2 4-113 4 118 4-97 5 46 4 15 4 66 4 67 4-36 4 31 5-98 4 7 4 24 4 65 4 72 4-25 5 14 4-77 4 79 4-34 4-74 5 69 4 28 4 16 4-43 4 5 4-86 5 72 4 49 4-6 4-12 4-135 4-15 5 25 4-12 4 43 4 36 4-32 4-87 5-85 4 34 4 64 4-49 4 55 4 82 5-60 4-10 4-34 4-36 4-1 4-30 5 89 4-125 4-44 4 8 4 50 5-40 4 83 4 1 4-63 4 19 9 123 4-18 4-47 4 38 4-12 4 27 5 4 4-9 4 8 4-31 4 65 4-97 5 59 4-63 4 8 4 56 4 1 4-52 5 156 4-56 4-40 4 61 4 44 4-106 5 68 4 67 4-13 4-25 4-61 4-28 5 27 4 34 4 17 4-60 4-6 5 40 4 0 4 10 4 50 4 4 4 29 5-52 4-20 4 29 4-16 4 14 4-84"/>
<path style="marker:url(#m7)" d="M176 638l5-2 4 0 4-35 4-5 4 43 4 25 5 15 4-65 4-19 4 15 4-3 4 17 5 6 4 20 4-60 4 66 4-103 9 59 4 77 4-31 4 50 4 35 5-82 4 73 8-9 4 45 4-47 5 43 4 9 4-20 4-22 4-14 4 61 5-144 4 49 4-110 4 19 4-7 4-30 5 145 4-64 12-52 4 40 5-92 4 44 4 4 4 73 4-83 5 71 4 53 4-142 12-22 9 53 4-28 4 0 4 98 4 48 5-57 4-85 4 170 4-114 4 29 4 71 5-187 4 118 4-75 4 45 4-5 4-52 9 36 4 49 4 66 8-137 5 8 4 58 4-13 4-70 4-26 4 9 5 44 4-46 4 56 4 18 4 15 5 17 4-42 4-3 4 9 4 15 4-14 9 0 4-9 4 11 4-5 4-30 5 43 4-2 4-49 4 76 4-37 4 14 5 98 4-15 4 45 4-103 8-8 5 67 8-11 4-32 4-24 4 26 5-22 4 20 4 97 8-92 5-27 4-25 4-47 4-20 4-13 9 56 4-59 4-70 4 127 4-172 4 120 5-23 4 11 4-3 8 74 4-67 5 118 4-101 4 170 4 24 4-100 4 40 5-36 4-28 4 28 4 97 4-119 4 27 5 55 8 24 4-32 4-34 5-63 4 97 4-53 4-90 4 117 4-45 5 91 4-77 4-44 4 63 4-49 4-29 5 18 4-66 4 32 4 29 4-21 4-30 5 5 4 19 4 98 8-38 4 37 5-76 4 31 4 10 4 46 4-66 4 106 5-94 4-48 4 81 8 19 5-47 4 5 4 25 8 31 4-8 5 22 4-47 4 45 4-81 4 44 4-1 5-22 4 106 4-88 8-5 9 86 4-45 4 35 4-109 4-55 4 1 5 31 4-9 4-68 4 0 4-18 4 48 5-84 4 106 4 6 4-67 4-104 4 142 5-36 4-24 4 62 4 119 4 13 5 21 4-154 8-114 4 110 4 77 5 101 4-13 4-116 8 26 4 15 5-37 4-24 4 102 4-52 4-6 4 30 5-65 4 71 4-45 4-106 4 87 4-32 5 40 4-58 4 28 4-45 4-10 4-95 5-5 4 69 4 22 4 84 4-71 5 45 4-6 4 7 4-63 4-14 4 64 5-71 4-12 4 23 4 41 4 20 4-8 5 7 4 3 4 37 4-20 4 4 4-11 5 77 4 83 4-48 4-48 4 27 4-2 5 16 4-2 4 47 4-35 4 13 4-35 5 42 4 29 4-51 4 40 4 4 9-96 4 42 4 49 4-79 4 99 5-50 8 5 4-70 8-126 5 148 4-257 4 86 4-41 4-28 4 132 9 103 4-107 4 54 4-85 4 3 9 155 4 39 8 13 4 41 5-70 4 38 4-121 4 11 4-93 4 57 5 2 4-89 4 109 4-39 4 31 5 32 4-9 4-57 4 21 4 38 4-65 5-55 4-34 4 57 4-68 4 102 4-69 5 60 4 33 4-79 4 13 4 28 4-31 5-8 4 28 4-21 4 65 4-20 4 40 5-54 4 34 4 30 8 54 4 26 5 25 4-8 4 21 4 27 4 33 5-28 4 12 4-46 4 47 4-35 4 76 5-7 8-32 4-43 4-57 4 9 5 1 8 45 4 63 4-55 4-107 5 82 4-44 4 61 4 16 4-53 4-63 5-12 4-63 4-68 4 61 4-43 4 21 5 82 4-151 4 114 4 42 4 139 5-109 4 73 4-34 4 14 4-60 4 101 5-175 8 234 4-77 4-57 4 8 5-15 4-55 4-71 4 122 4-15 4-6 5 0 4 89 4 14 4-101 4 41 4-34 5-42 4 29 4-27 4 9 4 34 4-40 5-26 4 11 4 119 8 5 4-17 5 4 4-20 4-30 4 7 4-75 5-37 4 14 4 94 4-76 4 29 4 13 5 46 4 18 4 12 8-34 4 6 5 32 4 29 4 55 4 7 4-14 4-20 5 36 8-90 4 52 4 22 9-16 4 5 4-108 4 32 4 129 4-31 5-80 4-53 4-22 4 41 4 18 5 32 4-12 4-7 4-37 4-90 4 20 5 92 4-22 4 20 4 110 4-75 4-14 5-16 4-45 4 24 4-17 4 117 9-188 4 88 4-10 4-44 4 31 4 36 5-21 4 25 4-30 4 61 4 22 4-56 5 11 4-19 4 38 4-16 4-43 5 63 8 8 4-108 4 11 4-21 5 20 4 22 4 18 4-61 4 136 4-62 5 3 4 1 4 77 4-89 4 37 4 25 5 49 4-34 4-84 4 22 4-18 4 26 5 22 4-40 4-4 4 26 4 15 4 5 5 43 4 12 4-29 4-36 4-24 5-1 4-13 4 1 4-1"/>
<path style="marker:url(#m22)" d="M177 664l4 14 4-33 5-54 4 32 4 34 4 56 4-36 4-63 5-12 4 81 4-4 4-53 4-4 4 32 5-48 4 66 4-108 4-2 4 5 5 111 4-5 4-1 4 66 4-99 4 76 5 16 4-9 4 26 4-51 4 38 4 14 5-10 12 12 4-133 4 40 5-120 4 99 4-99 4 18 4 131 4-81 5 3 4 74 4-151 4 34 4-113 4 25 5-66 4 103 4-34 4 28 4 111 5-149 8-176 4 107 4 99 4-100 5 71 4-19 4 89 4 9 4-11 4-71 5 57 4-51 4 76 4 82 4-208 4 99 5-46 4 18 4 63 4-50 4 34 9 78 4 48 4-12 4-86 4 22 4 51 5-10 4-68 4-12 4-18 4 62 4-9 5 54 8-2 4 21 4-46 5-17 4 41 4 13 4-38 4 44 4-37 5-20 4 10 4-36 4 19 4 65 4-22 9 16 4-23 4-21 4 91 4 27 5-28 4-42 4-34 4 36 4-4 4 11 5 14 4-47 4-43 4 67 4-38 4 34 5 74 4-36 4-4 4-53 4-40 9-73 4-41 4-83 4 84 4 4 9-70 4-48 4 67 4 26 4-40 5-1 4 63 4-42 4-35 4 86 4-64 5 58 4 123 4-61 4-104 4 56 4-5 5 10 4 91 4-87 8 42 4-61 5 157 4-28 4-29 4-20 4 88 5-117 4-42 4 131 4-20 4 87 4-106 5-6 4 76 4-34 4-30 4 11 4-67 5 49 4 17 4-16 4-37 4 74 4-36 5 87 4-49 4 10 4 28 4-15 4 3 5 8 4 18 4-69 4 118 4-48 4-53 5 33 4-52 4 60 4-50 4 33 4-10 5-23 4 38 8 35 4-8 5-44 4-23 4 5 4 39 4-29 4 99 5-97 4 57 4-53 4 67 4 12 4-53 5 42 8-171 4 42 4-16 4 6 5-66 4 1 4-14 4 31 8-63 5 38 4-33 4-103 4 94 4-63 4-14 5 66 4 69 4 37 4-68 4-79 5-23 4-85 4 9 4 97 4 168 4-26 5-35 4 63 4-82 4 49 4-52 4-21 5 67 4-7 4-4 4 63 4-17 4 45 5-50 4-97 4 112 4-61 4 56 4-43 5 68 4-65 4-16 4-81 4-22 4 45 5 61 4 105 4-66 4 65 9-39 8-80 4 66 4-51 4 32 5-9 4-4 4-13 4 9 4 75 4-61 5 50 4-42 4 37 4-41 4 69 4 87 5-54 4-22 4-25 4 21 4 40 4-20 5 27 4-29 4 31 4-81 4 91 9-55 4 79 4-10 8-62 4 47 5 47 8-31 4-28 4-22 5 13 4-159 4-19 4-70 8-55 5-11 4 9 4 11 4 115 4 6 4-76 5-109 4 97 4-19 4 13 8 145 5-6 4-77 4 95 4 62 4-47 4 76 5-129 4 15 4-109 4 54 4 10 4-46 5 114 4-69 4 62 4 42 9-47 4 2 4 52 8-92 4 11 5-8 4-34 4 67 4-89 4 151 4 15 13-75 4-46 4 20 4 8 5 41 4 10 4 12 4 12 4-61 4 56 5 31 4-36 4 83 4 28 4 8 4 16 5-2 4 25 4 16 4-37 4 23 5-55 4 56 4-59 8 93 4-65 5 36 4-7 4-98 4 33 4-19 4 109 5-49 4 55 4-73 4-75 4 70 4-22 5 45 4-16 4-87 4-43 4-42 4-44 5-97 4 84 4-46 4 27 4-31 4-43 5 86 4 28 4 93 4-64 4 20 9 30 4-33 4-39 4-125 4 205 5 125 4-78 4-96 4 41 4-23 4-83 5-11 4 118 4 2 4 37 4-68 4 92 5 15 4-88 4 85 4-51 4-17 4 17 5-17 4 18 4 34 4-17 4-43 4 0 5 114 4-41 4 51 4 4 8-13 5-37 4 19 8-59 9 49 4-107 4 49 4 20 4 50 4 46 9-8 4-61 4 13 4 25 4 19 5 63 4-5 4 2 4-26 4 22 4-69 5-22 8 80 4 20 4-57 4 35 5-116 4 74 4 85 4-34 4-32 4-105 5 10 4-4 4 36 4 33 4-2 5 4 4-74 4-81 4 20 4 67 4-32 5 42 8 30 4-8 4-42 4-62 5 32 4-62 4 149 4-129 4-75 4-2 5 60 4-37 4 75 4 11 4-66 4 37 5-53 4 131 4 2 8 6 4-6 5 22 4-25 4 7 8 4 5 40 4-106 4 27 4-16 4 24 4 24 5 0 4-13 4 125 4-77 4-14 4 66 5 41 4-89 4 23 4 71 4 12 4-29 9-75 4 17 4 19 4 24 4-38 5-3 4-1 4 21 4 7 4 49 4-7 5 0 4-69 4-33 4 34 4-23 4-25 5 8"/>
<path style="marker:url(#m12)" d="M177 730l8-2 4-59 4 29 5 64 4 32 4-55 4-63 4 66 4 44 5-52 4 39 4-96 4 96 4-20 4 25 5-100 4 13 4 62 4 2 4 11 4 7 5 41 4-62 4 46 4-13 4-24 4 59 9-12 4 12 4-1 4-18 4-9 5 29 4-83 4 29 4-91 4 36 4-54 5-20 4 155 4-110 4 29 4 87 5-182 4 40 4-77 4 28 4-63 4 114 5-64 4 54 4 35 4-118 4-91 4-64 9 168 4-37 4-4 4-8 4 119 5 67 4-98 4-45 4 198 4-147 4 15 5 118 4-204 4 51 4 16 4-14 4 23 5-25 4 52 4 25 4 30 4 38 5 14 4-101 8 78 4 17 4-120 5 56 4-33 4 49 4-1 4-10 4-2 5 28 4 9 4-39 4-59 4 105 4 15 5-75 4 35 4-19 4 64 4-57 4 18 5-41 4 74 4-9 4-56 4 68 4-2 9 53 8 2 4-23 5-71 4 44 4 22 4 10 4-11 4-24 5-14 4 12 4-15 4-3 4 70 4-12 5-10 8-31 4-57 4 24 4-114 5-61 4 121 4-99 4-78 4 166 4-198 5 112 4-50 4 33 4-10 4 15 4 20 5-63 4 95 4-76 4 128 4 35 5-56 4-78 4 105 4-105 4 49 4 92 5-137 4 86 4-19 4-93 4 192 4-56 5-16 4-55 4 107 4-54 4-72 4 125 9 92 4-94 4-55 4 46 4 9 5-29 4-22 4 21 4-22 4-13 4 63 5-62 4 79 4-84 4 97 4-15 4-9 5 40 4-24 4-11 4 94 4-47 5-108 4 115 4-12 4-45 4 72 4-71 5 46 4-73 4 18 4 38 4-42 4 81 9 35 4-33 8-33 4 46 5 15 4-42 4 40 4-62 4 73 4-112 5 103 8-4 4 0 4-21 4-82 9-6 4 77 4-29 4-109 5-86 4 85 4-129 8 143 4-111 5-135 4 132 4-88 4 41 4 16 4 141 5-3 8-84 4-65 4-127 4 84 5 91 4 125 4-64 4-30 4 106 4-109 5 54 4-7 4-50 4 94 8-40 5 42 4 12 4-1 4 7 4-93 5 139 4-26 4 20 4-93 4 59 4-101 5-10 4-122 4 29 4 66 4 118 4 9 5-3 4-3 4 54 4-107 4 81 4-37 5 74 4-152 4 61 4 10 4 41 4-25 5-14 4 37 8-8 4-47 4 63 5-23 4 77 4 27 4-25 4 23 4-77 9 70 4 10 4 10 4-6 5-10 4-8 4 28 4-1 4-5 4-6 5 33 4-21 4-139 4 91 4 46 4-112 5 102 4-64 4 10 4 7 4-115 4 74 5-144 4 129 4-237 4 39 4 46 4-110 5 150 4-16 4 69 4-175 4 94 4-66 5 11 4 173 4-34 4 25 4-118 5 171 4-1 4-70 4 56 4-79 4 12 5-108 4 49 4 30 4-113 4 112 4-29 5 55 4 63 4 0 4-27 4-13 4 21 5-50 8 25 4-77 4-20 4 141 5-26 4 33 4 3 4-96 4 33 4-6 5-29 4-1 4-2 4 87 4 8 5 36 4-30 4-63 4 17 4 140 4-58 5 24 4 69 4 14 4-39 4-10 4 21 5 39 4-40 4-2 4-44 4 78 4-52 5 55 4-1 4-103 4 118 4-55 9-47 4 36 4 62 4-76 4 72 4-39 5-75 4 38 4 22 4 9 4-6 4-66 5 14 4-59 4-114 4-55 4 48 5-84 4 28 4 105 4-136 4 100 4 59 5 108 4-69 4-27 4 5 4 0 4-81 5 59 8 10 4 167 4-100 4-92 5 42 4-41 4-22 4-87 4 132 4-17 5 44 4-58 4 126 4 33 13-93 4-20 4 63 4-82 4 83 9-48 4-22 4-8 4 153 4-80 5 62 4-14 4 15 8-15 4 0 5-52 4 30 4-40 4 94 4-139 4 75 5-47 4 100 4 36 4 28 4-27 4-73 5-25 4 84 4 12 4 34 4-9 4 12 5-40 4 34 4-12 4-77 4 71 5 25 4-4 4-12 4 18 4-67 4 35 5 16 4 8 4-18 4-78 4-32 4 7 5 13 4 28 4 6 4 18 4-15 4-182 5 82 4 76 4-55 4 1 4 89 4-92 5-21 8-47 4 22 4-12 4 116 5-131 8-18 4-10 4-13 5 29 4 37 4-24 4 13 4-71 4 121 5 30 4-35 4 16 4-29 4 62 4-31 5 9 4 23 4-38 4 121 4-196 4 77 5-48 4 8 4 86 4 25 4-108 9 145 4-92 4 53 4 55 4-102 4 52 5 56 4-27 4 8 4-42 4-33 4 92 5 10 4-57 4 43 4-27 4 28 5-38 4-17 4 69 4-17 4 15 4-37 5-6 4 57 4-7 4 7 4-73"/>
<path style="marker:url(#m3)" d="M185 698l4-80 4 61 4 34 4 62 4-58 5-69 4 57 4 61 4-68 4-15 4-31 5 40 4-42 4 32 4-116 4 8 5 14 4 72 4 30 4 0 4 77 4-136 5 57 8 27 4 24 4 0 4 25 5 16 8-63 8 100 4-117 9-74 4 20 4 35 4-84 9 49 4 25 4 127 8-145 4-108 5 32 4-38 4 97 4-67 9 120 4-128 4-79 4-76 4 132 4 63 5-40 4-1 4-31 4 87 8 7 5-29 4 166 4-143 4 43 4 64 4-190 5 122 4-49 4-32 4 49 4-24 4 43 5-14 4 71 4 31 4-1 4-121 4 19 5 70 4-19 4-96 4 73 4-100 4 119 5 7 4-23 4-8 4 42 4-24 5-8 4-61 4 64 4 34 4-59 4 29 5-30 8-9 4-30 4 18 4 31 5-12 4-51 8 52 4-3 4 93 5-24 4 61 4-83 4-53 4-7 4 72 5-6 4-11 4-38 4-17 4 39 4 28 5-14 4 119 4-77 4 4 4-34 9-84 4 73 4-107 4-77 4 139 5-62 4-66 4 54 8-14 4-52 5 28 4-1 4 50 4 44 4-114 4 98 5-61 4 153 4 24 4-88 4 14 4 40 5-91 4-2 4 109 4-107 4 92 4-38 5-114 4 181 4 0 4-50 4-60 5 83 4-27 4-61 4 86 4-26 4 105 5-105 4-7 4 64 4-25 4-39 4 5 5-65 4 33 4-9 4 14 4-36 4 87 5-52 4 106 4-40 4-22 4 21 13-7 4-10 4-49 4 121 4-35 5-81 4 86 4-80 4 47 4-58 4 24 5 21 4-52 4 84 4-22 4 23 5-52 4-9 4-13 4 14 4 41 4-6 5 76 4-120 4 107 4-87 4 78 4 20 5-44 4 55 4 2 4-149 4-8 4 26 9-60 4 28 4-43 4 27 4-93 5 125 8-98 4-101 4 168 4-62 5-44 4 20 4 157 4-7 4 44 5-123 4-107 4-55 4 96 4 49 4 150 5-52 4-56 4 106 4-100 4 55 4-57 5-43 4 145 4-70 4-30 4 43 4-2 5 13 4-7 4-126 4 98 4-15 4 45 5-60 4 61 4-67 4-53 4-95 9 83 4 49 4 72 4-67 4 89 5-24 4-43 4-25 4-58 4 145 4-114 5 58 4-24 4-1 4-11 4 2 4 52 5-29 4 31 4-36 4 8 4-16 4 57 5 88 4-39 4-42 4-35 4 33 9 10 4 59 8-38 4-52 4 152 5-30 8 12 4 22 4 10 5-134 8 82 4-55 4 63 4-51 5 24 4-15 4-74 4 63 4-110 4 46 5-191 4 37 4 3 4-73 4 156 4 14 5 45 4-174 4 98 4-57 8 205 5-55 4 11 4-90 4 127 4 58 4-82 5 34 4-88 4 24 4-111 4 44 4 27 5-82 4 87 8 31 4 26 9-37 4 64 4-30 4-62 9-64 4 37 4-28 4 54 4-19 4 98 5-28 4-106 4 50 4-5 4-31 4-4 5 6 4 50 4-3 4 26 4 16 4-64 5 26 8 13 4 83 8 18 5-10 4 19 4 41 4 14 4-33 5 17 4-78 4 69 4-32 4 44 4 25 5-78 4 67 4-36 4-65 4 1 4 14 5 79 4-45 4 70 4-49 4-68 4 45 5 10 4 46 4-32 4-67 8-70 5-65 4-49 4 61 4-85 4 61 4 49 5-124 4 83 4 55 4 150 4-97 5 28 8-42 4-28 4 73 4-158 5 151 4 125 4-90 8-65 4-18 5-30 4-69 4 136 4-22 4 2 9 88 4 17 4-129 4 60 4-23 4-44 5 22 8 24 4 8 4-24 4-56 5 13 4 114 4-26 4 38 4-20 4 25 9-61 8-36 4 20 5-76 4 87 4-89 4 58 4 15 4 31 9 40 4-5 4-47 4-1 4 11 5 13 4 77 4 4 4-34 4 17 9-42 4-13 8 60 4 1 4-23 5 0 4-72 8 144 4-39 4-33 5-61 4-18 4-14 4 42 4 59 5-12 4 5 4-92 8-43 4 124 5-68 4 31 4 110 4-109 4 10 4 4 5-48 4-26 4-35 4 147 4-151 4-12 5 49 8-40 4 48 4 31 9-10 4-63 4 136 4 2 4-73 4 33 5-25 4 32 4 1 4-8 4 38 5-66 4 35 8-42 4-37 4-2 5 75 4-23 4-44 4 165 4-104 4-10 5 60 8-49 4 44 4 56 4 0 5-19 8-71 4-10 4 53 4 4 5-26 4-38 4 35 4-17 8 87 5 3 4-18 4-39 4-63 4-20 5 36 4-36 4-16"/>
<path style="marker:url(#m19)" d="M177 644l4-31 4-34 4-21 5-5 4 64 4 47 4-13 4-73 4-10 5 24 4 3 4-4 4 5 4 15 5-54 4 85 4-87 4-23 4 53 4 89 5-36 4-2 4 87 4-122 4 99 4 4 5 0 4-5 4 4 4-2 4-25 4 42 5-28 4 6 4 47 4-143 4-20 4-106 9-37 4 74 4 101 4-34 4 9 5-34 8-66 4-128 4-27 5 12 4 85 4-60 4-22 4 172 4-108 5-85 4-71 4-10 4 205 4-218 4 150 5 0 4 109 4-66 4 64 4-85 4-54 5 12 4 125 4 25 4-182 4 8 4 33 5 13 4 57 4 21 8 21 4 89 5 37 4-93 4-1 4 31 4-6 9-21 4-60 4 52 4 39 4-24 5 56 4 15 4 17 4 3 4-28 4-11 5 3 4 11 4 14 4 15 4-33 4-23 5 17 4-5 4 18 4-10 4 20 4-47 5 54 4-40 4-13 4 89 4 19 4 24 5-80 4-16 4 13 4-17 4 16 4 31 5-29 4-45 4 6 4-9 4 59 5 74 4-75 4-27 4-42 4-26 4-50 5-30 8-187 4 82 4 64 4-189 5 60 4 31 4-41 4 134 4-69 4 86 5-50 4-98 4 57 4 124 4-139 4 81 5 134 4-56 4-73 4-102 4 142 4-11 5 11 4 37 4 21 4-52 4 1 5 139 4-7 4-50 4 12 4 49 4-92 9 77 4-42 4 105 4-148 4 89 5 33 4-35 16-54 5 64 4-51 4-4 4 44 4-7 4 62 5-61 8 72 4-75 4 65 4-38 5 52 4-47 8 18 4-31 5 42 4-13 4 30 4-36 4 46 4-27 5-22 4 45 4 4 4 9 4-39 4-16 5-74 4 37 4 89 4-73 8 12 5 26 4 1 4-48 4 92 4-38 4-2 5-144 4 40 4 0 4-24 4-134 4 43 5 78 4-35 4-4 4-134 4 62 5 63 4-35 4-60 4 51 4-101 9 2 4 88 4 61 4-221 4 34 4 31 5-26 4-74 4 71 4 228 4-30 4-71 5 126 4-83 4 17 4-66 4 0 4 88 5-80 4 32 4 67 4 34 4 59 4-16 5-126 4 92 8-24 4 2 4-3 5-11 4-2 4-82 4-12 4 39 5-8 4 139 4-21 8-18 4 0 5 5 4-21 4-3 4-50 4-11 4 17 5 73 4-30 4 5 4 3 4 8 4 37 5-24 4 4 4-15 4 91 4 54 4-19 5-60 4-2 4 26 4 9 4-57 4 92 5-43 4-14 4-64 4 76 4-47 5-30 4 84 4-28 4 52 4-56 4-35 5 87 4-29 4-19 4 78 4-101 4-4 5-188 4-11 4-89 4 135 8-206 5 91 8 118 8-53 4-117 5 101 4-23 4-13 4 170 4-15 4-25 5-47 4-30 4 200 4-45 4 15 5-51 4 22 4-121 4 51 8-26 5 87 4-51 4 56 4 8 4-42 4 31 5-20 4 103 4-99 4 6 4-41 4 41 9 23 4-46 4 54 4 44 4-60 5-10 4 26 4-63 4 25 4 3 4 18 5 73 4-20 4 11 4-41 4 32 4 54 5-65 4 91 4 29 4 3 4 16 9 37 4 20 4-22 4 8 4-52 5 39 4-16 4 61 12-21 5-41 4-51 4-6 4-56 4 158 4-53 5 35 4-99 4-47 4 64 4-36 4-6 9-21 4-168 4 85 4-72 4-86 5 83 4-101 4 103 4-54 4-51 5 103 4-3 4 19 4 26 8 15 5 62 4-51 4-16 4-129 4 181 4 73 9-165 4 121 4-72 4-78 4 47 5 90 4 16 4 3 4-17 4-9 4 38 5-21 8 58 4-25 4 14 4-21 5 16 8-55 4 21 4-20 5 99 4 14 4 15 4 7 4-17 4 0 5-34 4 21 4-128 4 47 4-18 4 94 5-79 4 24 4 28 4 31 4 19 4-17 5 3 4-10 4 4 4 38 8 45 5 26 4-52 4 10 4 13 4-67 4 34 5 14 4 19 4 15 4-20 4-30 9-19 4 88 4-36 4-78 4-87 5 26 4 30 4 27 4-24 4 13 4 43 5-98 4-48 4-4 8 58 4 42 5-26 4 68 4-13 4-85 4-17 4-4 5-78 4 138 4-103 4-84 4-5 4 51 5 6 4 101 4-39 4-58 4 23 9 49 4 10 4 13 4 38 4 0 5 8 4 7 4-15 4-60 8 62 9-51 4 27 4 13 4 22 4 14 5-33 4 108 4-36 4-20 4 8 4 80 5-72 4 34 4 28 4 27 4-31 4-69 5 3 4 17 4 17 4 8 8-51 5 33 4 7 4 17 4 54 4-16 5-10 4-67 4-64 4-28 4 79 4-19 5-10"/>
<path style="marker:url(#m15)" d="M177 726l4-8 4-9 4-63 4 24 5 45 4 74 4-54 4-63 4 38 4 68 5-74 4 7 4-31 8 39 5 13 4-89 4 3 4 99 4 11 4-24 5 39 4 15 4-50 4 50 8-48 5 64 4-23 4 23 4 2 4 12 4-55 5 13 4 44 4-90 4 7 4-79 4 43 5 0 4-129 4 191 4-75 4-13 4 139 5-239 8-43 4 4 4-13 5 121 4-69 4 9 4 48 4-97 4-66 5-105 4 46 4 129 4-47 8-17 5 112 4-1 4 6 4-78 4 163 4-91 5 12 4 86 4-207 4 138 4-13 4-38 9 10 4 57 4-4 4 52 4 38 5 10 4-126 4 27 8 100 5-123 4 47 4-42 4 63 4 32 4-30 5-8 8 36 4-41 4-30 9 81 4-27 4 22 4-51 4 60 4-60 5 41 4-49 4 62 4 8 4-84 4 82 9 70 4 16 4 1 4-8 4-24 5-73 4 31 4 71 4-15 4-29 4-7 5-33 8 8 4-8 4 91 9-63 4-33 4-20 4-36 4 7 5-57 4-100 4 140 4-83 4-81 4 76 5-151 4 106 4-14 4 24 4-40 4 25 5 25 4-65 4 87 4-51 4 116 4-14 5-79 4-23 4 27 4 10 4 6 4 104 5-118 4 69 8-73 4 180 5-39 4-65 4-31 4 97 4-49 4-47 5 99 4-38 4 127 4-110 4-15 4 37 5 27 4-31 4-12 4-22 4 0 4-12 5 40 4-67 4 91 4-57 4 101 9-35 4 45 4 6 4-58 4 56 4-1 5-87 4 96 4-19 4-52 4 96 5-111 4 66 4-76 4 34 4 30 4-45 5 97 4 3 4 4 4-16 4 7 4-41 5 35 4 49 4-67 4 73 4-70 4 44 5-98 4 115 4-16 4 2 4 17 4-39 5-125 4-7 4 29 4 22 4-49 4-60 5-50 4 57 8 16 4-32 4-89 5-84 4 82 4-81 4 59 4 9 5 126 4-28 4-35 4-68 4-95 4-36 5 59 4 3 4 208 4-53 4-6 4 53 5-58 4 30 4-31 4-29 4 97 4-21 5 0 4 26 4 2 4 22 4-19 4-121 5 132 4-30 4 22 4-36 4 88 4-100 5-15 4-104 8 81 4 71 5 51 4-5 4 46 4-26 4-59 4 6 5-34 4 95 4-106 4 72 4-45 4 34 5-12 4-32 4 108 4-68 4 28 4-12 5 22 4-9 4 55 4 56 4-11 9-62 4 37 4 10 4 45 4-16 4 5 5-27 4-30 4 77 4-12 4-75 5 80 4 15 4 15 4-134 4 80 4-2 5-80 4 46 4-19 4 25 4-17 4-85 5-13 4-79 4 55 4-223 4 78 9-58 4 133 4 3 4-29 4-171 4 148 5-47 4-20 4 205 4-38 4 26 4-119 5 151 4 14 4-40 4 65 4-134 5 58 4-136 4 70 4 8 4-84 4 132 5-68 4 62 4 42 4 16 4-35 4 35 5 28 4-80 4-64 4 6 4 25 4-34 5 94 4 3 4 47 4-11 4-110 4 57 5-1 4-78 4 47 4 3 4 78 4 4 5 11 4 10 4-66 4 10 4 84 9 41 4 65 4-3 4-42 4 19 5 15 4 8 4-31 4 39 4-86 4 92 5-54 4 77 4-5 4-119 4 129 4-54 5-59 4-12 4 20 4 79 8 8 5-23 4-103 4 21 4 31 4 38 4-40 5-49 4-24 4-91 4-29 4-70 4 81 5-113 4 43 4 27 4-82 4 66 5-28 4 193 4-61 4-27 4 10 4 1 5-54 4-31 4-128 4 220 4 139 4-62 5-94 4 13 4-9 4-68 4-58 4 143 5-9 4 14 4-37 4 101 4 28 4-81 5 80 4-63 4-23 4-8 4-7 4 53 5 27 4-60 4-25 4 7 4 126 5-42 4 46 8-22 4 27 4-22 5 10 8-40 4-75 4 120 4-105 5 41 4 0 4 48 4 62 4 2 4 8 5-79 4-6 4 36 4 58 4 45 4-18 5 14 4-41 4 31 4-35 4-54 4 68 5 12 4 29 12-110 4 46 5 56 4-12 8-89 4-23 5-11 4 27 4 22 4 13 4 3 4-92 5-99 4 33 4 118 4-90 4 25 4 110 5-102 8 26 4-101 4 18 4-50 5 168 4-173 4-70 4 14 4 50 4-36 9 89 4-45 4 10 4-85 4 178 5-14 4-35 4 23 4 2 4 37 5-20 4 0 8-6 4 84 4-133 9-12 4 41 4 85 4 2 4-75 5 125 8-82 4 74 4 15 4-88 5 56 4 78 4-42 4-9 4-49 4-25 9 88 4-24 4-7 4-10 4 6 5 1 4 12 4 46 4 1 13-47 8 33 4 31 4-101"/>
<path style="marker:url(#m11)" d="M177 746l4 8 4-28 4-74 4 27 4 55 5 55 4-50 8 5 4 36 4-39 5 16 4-72 4 71 4 0 4-7 5-78 4 17 4 70 4 4 4-8 4 13 5 39 4-64 4 50 8-10 9 9 4 4 4 14 12-31 5 42 4-77 4 39 4-131 4 49 4-13 5-46 4 150 4-109 4-12 4 127 4-182 5 53 8-65 4-43 4 111 5-101 4 70 4 82 8-218 9 17 4 85 4-44 8-36 4 134 5 6 4-28 4-70 4 199 4-150 9 124 4-210 4 135 4-76 4 17 4 79 5-74 4 46 4 20 4 34 4 26 4 6 9-70 4 58 4 28 4-137 5 63 4-43 4 57 4 38 4-71 4 21 5 23 4 10 4-55 4-16 4 82 4 3 5-53 4 56 4-52 4 52 4-70 4 78 5-89 4 68 4-4 4-27 4 55 4 35 5-5 4 34 4 3 4-17 4-18 4-67 5 52 4 22 8 11 4-37 4-2 5-9 4 1 4-29 4 88 4-8 5-48 4-15 4 15 4-57 4 32 4-108 5-83 4 124 4-85 4-83 4 150 4-164 5 54 4-16 4 41 4-35 4 45 4 19 5-82 4 119 4-64 4 155 8-103 5-1 4 50 8-57 4 113 4-137 5 47 4 45 4-115 4 164 4 0 5-69 4-34 4 113 4-90 4-25 4 82 5-18 4 110 4-100 4-25 4 56 4-26 5-12 4-30 4 21 4-43 4 30 4 54 5-86 4 105 4-78 4 75 8-11 5 46 4-32 4-29 4 74 4-2 4-115 5 134 4-24 4-46 4 64 4-109 5 64 4-63 4 26 4 24 4-51 4 110 5-15 4 5 4 23 4-31 4-41 9 91 4-56 4 33 4-39 4 22 4-71 5 107 4-33 4 8 4 8 4 3 9-145 4 46 4 61 4-19 4-108 4-83 5 96 4-141 4 60 4 70 4-86 4-131 5 176 4-122 4 50 4 15 4 76 9 44 4-154 4-9 4-133 4 138 9 225 4-104 4-52 4 105 4-52 5-8 4-17 4-29 4 111 8-45 5 6 4 32 4-13 4 30 4-116 4 139 5-50 4 33 4-97 8 24 4-41 5-108 4 18 4 48 4 155 4-14 5-22 4 44 4-15 4-47 4 30 4 2 5 43 8-22 4-76 4 67 4-24 5-25 4 84 4-51 4-23 4-2 4 28 17 82 4 8 4-43 5 13 4-6 4 59 4-5 4 13 4-41 5-59 4 91 4 11 4-52 4 68 5-11 4-6 4-122 4 103 4-7 9 17 4-53 4 19 8-129 4 27 5-95 4 112 4-216 4 43 4 33 4-124 5 165 4 22 4 75 4-233 4 85 4-35 9 167 4-36 4 28 4-123 4 180 5 0 4-45 4 65 4-116 4 21 4-127 5 78 4 30 4-117 4 135 4-53 5 79 4 15 4 66 4-65 4-16 4 25 5-62 4-30 4 38 4-54 4 1 4 120 5-23 4 13 4-6 4-87 4 37 4 16 5-41 4 0 4 10 4 41 4 45 4 2 5-12 4-66 8 169 4-69 9 107 4-22 4-20 4 12 4 26 5 25 12-80 4 72 4-68 5 76 4-16 4-95 4 102 4-36 4-75 5 23 4 14 4 81 4-74 4 57 4-20 5-62 4 43 4-16 4 38 4-20 4-63 5 10 4-85 4-71 4-34 4 37 4-70 5 1 4 112 4-148 4 127 9 171 4-145 4 16 4 40 8-75 5 62 4-169 4 149 4 181 4-123 4-97 5 21 4 2 4-21 4-106 4 138 4-35 5 56 4-41 4 123 4-3 4-98 4 71 5-46 4-23 4 50 4-60 4 85 4-40 5-38 4-24 4 5 4 174 4-90 17 63 4-32 4-13 5-35 4 32 4-52 4 75 4-94 4 70 9 22 4 73 4 5 4-15 4-90 9 44 4 48 4 15 4 10 4 3 5-62 4 68 4-56 4-49 4 63 4 35 5 5 4-2 4 5 4-55 4 4 4 41 5 12 4 0 4-124 4-14 4 6 5 23 4 26 4 8 4 38 4-38 4-159 5 35 4 108 4-77 4 19 4 118 4-115 5-12 4 14 4-80 4 6 4 7 4 128 5-163 4-54 4 22 4 72 4-57 4 26 5 51 4-27 4 2 4-48 4 138 4 17 5-92 4 64 4-31 4 37 4-19 5 14 4 8 4-25 4 83 4-142 4 38 5-54 4 21 4 92 4 20 4-100 4 147 5-26 4-86 4 79 4 39 4-104 4 61 5 58 4-26 4 2 4-42 4-40 4 80 5 35 4-67 4 39 4-8 4 3 4 1 5-14 4 30 8-3 4 6 5-26 4 49 4-15 4 5 4-60"/>
<path style="marker:url(#m6)" d="M176 634l5 18 4-43 4-19 4 4 4 62 4 31 5-6 4-106 4 23 4 7 4 5 4 20 5-3 4-8 4-36 4 82 4-113 4 12 5 20 4 91 4-15 4 11 4 51 4-67 5 51 4 17 4-29 4 34 9 23 4-24 4 16 4-23 4-1 9-73 4 33 4-114 4 32 4 15 4-40 5 165 4-106 4 27 4 129 4-193 4 33 5-81 4 25 4-41 4 96 4-28 4 79 9-120 4-11 4-109 4 168 4 14 5-40 4-7 4-31 4 111 4 52 5-66 4-74 4 183 4-131 4 53 4 87 5-203 4 116 4-90 4-10 4 17 4 1 5 21 4 14 4 42 8 42 4-128 5 11 4 63 4-20 4-69 4 23 4-40 5 41 4-31 4 39 4 5 4 32 4 6 5-27 4-26 4 30 4 40 4-47 5 37 4-49 4 15 4-19 4 16 4-45 5 40 4-5 4-38 4 74 4-57 4 23 5 70 4 23 4-14 4-67 4 8 4 20 5 10 4 2 4 3 4-20 4 0 4 20 9-36 4 116 4-60 4 4 4-47 5-23 4-42 4 20 4-57 4-78 5 152 4-54 4-54 8-52 4 98 5-42 4 55 4-54 4 47 4 30 4-28 5 78 4-87 4 151 4 52 4-127 9 24 4-25 4-25 4 143 4-166 4 117 5-16 4-89 4 143 8-58 4-47 9 35 4-74 4 93 4-64 4 128 5-146 4 39 4 17 4-17 4-17 5 4 4-65 4 17 4 33 4-27 4-34 5 63 4-34 4 88 4-104 4 62 4 27 5-31 4 7 4-8 4 50 4-46 4 100 5-51 4-88 4 77 4-36 4 52 9-55 4 16 4-25 4 50 4 11 4 9 5-49 4-8 4-48 4 54 4 24 5-25 8-28 4 67 4-20 4 45 5 28 4-42 4 42 4-80 4-100 4 39 5 27 4-21 4-84 4 35 4-25 4 15 5-37 4 89 4 24 8-203 4 174 13-56 4 144 4 34 4-3 5-141 4 17 4-149 4 158 4 45 5 118 4-74 8 93 4-143 9-15 4-18 4 105 4-60 4-25 4 27 5 9 4-7 4-14 4-107 4 27 4-19 5 84 4-44 4 30 4-47 4-15 4-96 5 7 4 16 4 53 4 94 4-56 4 28 5 5 8-18 4-68 4 46 4-48 9 10 4 47 4-5 4-20 5 1 4 24 4 29 4-22 4 21 4-30 5 85 4 68 4-32 4-47 4 3 9 31 4-25 4 61 4-26 4-29 4-36 5 58 8-31 4 85 4-36 4 34 5-65 4 25 8-45 4 97 4-27 5 2 4-10 4-131 4 66 4-64 5 46 4-165 4 38 4-5 8 77 5 49 8-63 4 18 4-84 4 52 5 136 4 9 8-103 4 133 4 15 5-25 4 19 4-82 4 8 4-128 4 57 5 34 4-104 4 105 4-35 4 67 4-13 9-27 4 45 4 2 4-53 5-56 4-25 4 10 4-40 4 81 4-67 5 72 4 43 4-90 4 10 4 38 4-57 5 4 4 22 4-31 4 92 4-61 4 58 5-44 4 42 4 23 4-50 4 101 4 21 9 19 4 0 4 43 4 11 4-13 5 19 4-50 4 29 4-26 4 66 4 20 5-87 4 48 4-39 4-50 4-11 5 11 4 99 4-29 4 24 4-62 4-68 5 83 4-41 4 28 8-55 4 8 5-75 4-35 4-60 4 65 4-76 4 44 5 53 4-118 4 113 4 18 4 212 4-142 5 42 4-6 4 12 4-64 4 56 4-159 5 145 4 134 4-89 4-100 4 43 5-26 4-30 4-104 4 143 4-33 4 41 5-74 4 103 4 50 4-115 4 59 4-55 5-23 4 5 4-15 8 61 4-68 5-4 4 18 4 80 4-4 4 17 4 1 5 3 4-16 4-46 8-78 4 18 5-24 4 90 4-67 4 12 4 41 5 27 4 19 8-20 4 26 4-25 5 29 4-1 4 76 4 17 4-48 4-18 5 43 4-76 4 18 4 54 4-33 4 18 5-10 4-11 4-93 4 72 4 97 4-54 5-45 4-58 4-20 4 19 4 44 4 3 5 28 4-10 4-80 4-63 4 55 5 63 4-24 4 40 4 92 4-63 4-19 5 7 4-78 4 34 4 1 4 98 4-125 5-73 4 103 4-37 4-23 4 21 4 53 9-6 8 71 4-4 4-63 5 15 4-21 4 25 4-17 4-31 4 57 5-41 4 44 4-108 4 47 4-25 4-3 5 31 8-19 4 107 4-59 5-18 4 24 4 63 4-68 4 28 4 38 9-7 4-84 4 25 4-12 4 41 5-11 4-1 4-32 4 25 4 26 4-2 5 39 4 14 4-39 4-28 4-34 4-79 5 65 4 34 4-55"/>
<path style="marker:url(#m17)" d="M177 643l8-37 4-46 5 10 4 72 4 34 8-72 4-22 5 4 4-8 4 49 4-23 4 21 4-31 5 57 4-101 4 1 4 21 4 80 4-35 5 30 4 56 4-73 4 64 4 17 4-44 5 41 4 3 4-3 4-19 4 16 5-19 4 17 4 46 4-129 4-30 4-61 5 3 4-65 4 70 8 49 4 1 5-54 4-12 4 2 8-179 4 30 5 74 4-27 4-65 4 154 4-124 4-69 9-52 4 171 4-159 4 122 4-22 5 74 4-25 4 75 4-76 4-94 5 20 4 152 4 50 4-215 4 10 9 38 4 79 4-1 4-70 4 136 4 19 5 79 4-132 4 36 4 9 4 34 4 16 5-57 4-41 8 70 4-31 4 54 5 9 4 2 4 17 4 8 4-43 4-3 5 48 4-23 8-5 4 2 5-15 4-16 4 16 4 29 4-29 4-32 5 71 4-47 4 20 4 79 8 8 5-69 4-16 4-8 4 51 4-18 4 19 5-17 4-69 4 48 4-62 4 84 4 60 5-40 4-20 4-61 4-82 4 16 4 16 5-73 4-124 4 72 4 29 4-174 4 16 5 48 4-12 4 112 4-61 4 45 5-3 4-80 4-3 4 130 4-111 4 48 5 173 4-104 4-60 4-90 4 155 4-60 5 78 4 6 4 4 4-15 4-13 4 161 5-40 4-67 4 30 4 52 4-83 4-28 5 110 4-13 4 81 4-156 4 84 4 48 5-15 4-100 4 68 4-77 4 38 5 47 4-40 4-21 4 45 4-7 4 86 5-86 4 75 4-12 4-51 4 34 4 27 5 17 4-46 4 91 4-70 4-51 4 55 5-18 4 29 4-36 4 21 4 9 4-23 5 38 4 29 4-10 4-63 4-29 4 4 5 15 4 45 4-39 4 62 4-118 5 72 4 15 4-2 4 47 4-70 4 22 5-111 4 7 8-24 4-45 4-61 9 58 4 42 4-176 4 72 9 14 4-74 4 97 4-140 4 38 4-6 5 60 4 86 4-162 4-3 4 7 9-109 4 62 4 245 4-50 4-65 4 93 5-48 4 8 4-71 4 0 4 99 5-78 4 9 4 122 8 40 4-8 5-103 4 83 4-93 4 101 4-47 4 29 5-33 4 2 4-83 4 8 4 9 4 25 5 131 4-50 4 42 4 5 4-29 4-45 9 20 4-37 4 7 4-31 4 72 5-4 4-34 4 53 4-20 4 49 5-40 4 25 4-24 4 67 4 86 4-34 5-48 4 3 4-1 4 28 4-45 4 45 5-11 4 22 4-107 4 116 4-11 4-45 5 44 4 6 4 20 4-102 4 68 4 22 5-56 4 9 4 36 4-37 4-38 4-129 5 2 4-90 4 89 4-96 9-10 8 67 4 34 4-73 4-76 13 39 4 176 4-21 4-14 13 107 4-56 8-39 5 11 4-107 4 53 4-24 4 19 4 71 5-51 4 44 4 19 12-1 5 45 4-78 4 13 4-38 4 20 4-58 9 45 4 55 4 60 4-87 5 18 4 16 4-66 4 44 4 3 4 33 5 31 4 6 4-3 4-31 4 30 4 40 5-44 4 75 8 56 4-20 4 5 5 47 4 18 4-20 4-6 8 3 5-38 4 55 4 29 4-97 4 62 4-42 5-40 4-29 4 9 4 117 4-64 5 41 4-17 4-93 4 58 4 7 4-28 5 25 4-81 4-78 8-64 4-99 5 89 4-128 4 109 4-1 4-79 4 73 5 25 4 113 4-54 4 24 4-45 4 66 5-57 4-24 4-116 4 191 4 98 4-43 5-90 4 49 4-68 4-45 4-8 5 119 8 25 4-44 4 68 4 6 5-61 4 64 8-32 4 4 4-1 5 14 4 18 4-48 4-20 4-5 4 105 5-3 4 33 4-7 4 21 4-41 4-28 5 24 4-72 4 17 4-62 4 94 4-77 5 35 4 41 4 30 4 41 4-10 5 6 4-61 8 31 4 14 4 75 5 26 4-31 4-25 4 28 4-71 4-8 5 69 4-1 4 32 4-76 4-5 4-50 5 14 4 126 4-77 4-54 4-41 4 7 5-2 4 47 4 2 4 4 4 3 4-117 5-25 4-1 4 86 4-37 4 43 4 11 5 27 4-11 4-48 4-63 4 29 5-72 4 142 4-112 4-29 4-60 4 56 5-3 4 81 4-28 4-41 4 35 4-10 5 72 4-8 4-4 4 38 4-2 4 25 5-39 4 25 4-49 4 48 4-14 4-46 5 17 4-14 4 25 4 25 4 21 4-46 5 110 8-58 4 41 4 49 5-83 4 42 4 42 8-2 4-68 5-14 4 0 8 40 4-6 4-16 5-7 4 27 4 12 4 54 4 4 4-30 5-26 4-59 4 3 4 14 4-6 4-27"/>
<path style="marker:url(#m8)" d="M181 667l4-32 4-16 4-6 9 104 4-18 4-62 4 5 4 33 9-23 4-24 4 50 4-25 4 36 4-130 9 82 4 47 4 13 4 7 4 50 5-75 4 58 4 32 4-31 4 46 4-33 5 27 4-10 4 26 4-31 4-12 4 55 5-106 4 33 4-117 4 34 4-16 4-48 5 149 4-68 4-18 4 158 4-224 5 42 4-78 4 29 4-82 4 146 4-51 5 72 4 42 4-159 4-16 4-78 4 159 5 26 4-44 4-31 8 77 4 67 5-52 4-95 8 69 4 18 4 82 5-213 4 158 4-59 4-23 4 39 4-70 5 47 4 31 4 29 4 44 4 56 5-144 4-31 4 72 4-8 4-99 4 75 5-100 4 74 4-13 4 15 4 3 4 42 5 5 4-31 4-32 4 21 4 40 4-12 5-11 4-47 8 20 8-1 5 32 4 28 4-74 4 83 4 26 4-3 5 58 4-19 4 52 4-83 4-50 5 59 4 20 4-9 4 20 4-63 4 44 5-12 4-36 4-12 4 95 4-12 4-24 9-40 4-92 4 40 4-85 4-36 9 34 4-71 4 117 4-147 4 60 5 1 8 20 4 54 4 12 4-63 9 22 4 127 4 34 4-79 4 24 5 33 4-67 4 6 4 103 4-139 5 67 4 17 4-77 4 111 4-18 4-18 5-54 4 44 4-48 4-47 4 100 4-41 5 119 4-104 4-27 4 60 4-22 4-13 5-25 4-33 4-17 4 38 4-1 4-55 5 77 4-51 4 97 4-39 4 8 4 36 5-44 4 1 4 2 4 55 4-78 5 123 4-44 4-87 4 93 4-59 9-19 4 37 4 10 4-41 4 80 4 13 5 13 4 13 4-22 4-52 4 21 4 36 5-24 4 96 8-42 4-104 4 161 5-14 4-80 4 45 4-47 4-100 4 1 5 2 4 16 4-12 4-74 4-42 5 15 4-27 12 12 4-86 5 109 4-43 4-11 4 32 4 165 4 1 5-1 8-121 4-145 4 125 4 52 5 126 4-38 4-37 8-11 4-14 9-40 4 106 4-65 4 10 4 19 5-7 4 15 4-48 4-80 4 67 5-8 4 24 4-43 4 93 4-105 4-3 5-125 8 40 4 29 4 103 4-45 5 72 4-38 4-8 4-40 4-51 4 94 5-81 4 26 4 2 4 21 4 11 4-10 5 62 4-35 4 1 4-5 8 38 5 53 4 90 4-32 4-15 4-47 4 27 5 47 4 6 4 30 4-57 4 14 5-19 8 103 4-73 4 45 4-24 5 33 4-130 4 74 4-11 4-76 4 89 5-29 4 9 4-22 4-89 4 25 4-74 5 92 4-231 4 57 4 4 4-74 4 191 5-8 4 66 4-152 4 87 4-72 4 32 5 98 4 17 4 14 4-106 4 176 5-35 4-33 4 56 4-122 4 26 4-148 5 89 4 6 4-112 4 121 4-50 4 51 5 13 4 30 4-59 4 40 4 28 4-85 5-52 4-30 4 41 4-46 4 93 9 31 4 29 4-106 4 43 4-2 4-64 5 36 4-23 4 59 4 17 4 9 5 35 4-72 4 38 4 29 4-10 4 70 5 50 4 22 4-24 4 26 4 12 4 8 5-32 4 20 4-32 4 75 4-62 9 88 8-24 4-40 4-76 4 38 5-31 4 89 8 27 4-59 4-63 5 32 4 11 4 32 8-69 4 4 5-128 4-34 4-27 4 44 4-98 5 45 8-51 4 112 4 62 4 144 9-133 4 15 8-26 4 117 5-197 4 137 4 117 4-115 4-72 4 21 5-8 4-44 4-81 4 139 4-47 9 2 4 110 4 17 4-102 4 49 4-28 5-46 4 4 4-7 8 64 5-63 4-18 4-7 4 124 4-46 4 58 5-17 4-1 4-12 4-35 4 26 4-69 5 17 8 35 4-87 4 56 4-6 5 70 4 49 4-18 4 8 4-63 4-20 5 61 4 69 4 57 4-22 4 29 4-85 5 58 4-61 4-35 4 62 4 11 5 17 4-25 4 1 4-80 8 144 5-30 4-18 4-90 4-45 4 50 4-35 5 68 4-5 4 33 4-89 4-111 4 30 5 113 4-62 4 23 4 114 8-107 5-19 4-11 4 17 8 79 4-112 5-69 4 63 4 19 4-56 4 47 5 26 4-2 4-18 4 0 4 82 4 27 5-79 4 28 4-44 4 47 4-17 4 5 5 23 4-48 4 58 4-135 4 67 4-60 5 21 4 67 4-12 4-67 4 137 4-73 5-8 4 64 4 40 4-104 4 54 4 61 5-2 4-27 4-73 4-18 4 12 4 37 5 11 4-46 4 7 4 7 4 17 5 44 4 49 4-23 4 12 4-57 4-20 9-6 4-5 4-47"/>
<path style="marker:url(#m1)" d="M176 692l4 5 5-5 4-63 4 26 4 44 4 55 4-37 5-68 4 42 4 56 4-37 4-12 4-54 5 63 4-48 4-5 8-112 4 48 5 83 4-1 4 19 4 35 4-58 4 46 9-9 4 48 4-23 4 12 4 42 9-48 4-6 4 70 4-120 9-99 4 79 4 6 4-93 4 177 5-94 4-4 4 129 4-219 4 49 4-84 5 72 4-49 4 57 4-43 4 53 4 71 5-151 4-43 4-101 4 94 4 113 4-50 5-23 4-14 4 137 4-3 4-39 4-76 5 214 4-158 4 28 4 96 4-202 4 122 5-83 4 19 4 18 4 2 4 33 5-14 4 62 4 37 4 29 4-103 4-4 5 61 4-33 4-86 4 60 4-61 4 92 5 2 4-12 4-9 4 38 4 7 4-36 5-55 4 55 4 64 4-56 4 15 4-60 5 20 4-22 4-30 4 13 4 40 4 4 5-74 4 77 4 11 4 15 4 48 5 18 4-25 4-37 8-60 9 48 12-17 4-14 4 22 5 39 4 55 4-27 4 7 4-72 4-25 5-39 4-3 4-41 4-37 8 39 5-89 4 83 4-109 4 76 4 10 4-8 5-20 4 50 4 12 4-64 4 135 5-114 4 124 4 18 4-52 4-64 4 95 5-50 4 25 4 88 4-137 4 54 9-89 4 206 4-47 4-54 4-34 4 72 5-33 4-64 4 93 4-9 8 11 5-9 4 28 4-1 8-49 9 3 4-5 4 10 4-46 4 63 5-47 4 90 4-11 4-17 4 30 4-24 5-32 4 13 4 50 4-78 4 111 4-39 5-79 4 109 4-80 4 44 4-72 4 20 5 29 4-59 4 68 4 19 4-9 4-36 5 9 4-82 4 77 4 29 4-59 4 83 5-97 4 106 4-64 8 76 4-50 5 86 4-50 4-128 4 20 4 33 5-18 4-48 4-8 4-48 8-67 5 112 4-6 4-68 4-71 4 98 4-74 5 24 4 24 4 153 4-7 4 0 4-122 5-77 4-74 4 54 8 242 4-75 5-7 8 1 4-2 4 17 4-84 5 165 4-27 4-74 4 35 4 3 5 44 4-42 4-91 4 79 4-26 4 23 5-39 4 76 8-83 4-120 4 0 5 63 4 55 4 74 4-16 4 63 4-40 5-43 4-13 4-52 4 128 4-112 4 80 5-72 4 7 4 12 4-16 4 61 4-58 5 35 4-20 4 8 4-17 4 76 5 88 4-44 4-42 4-1 4-25 9 40 4 35 8-15 4-53 4 76 5 34 4-49 4 82 4-17 4 7 4-110 5 55 4 51 4-114 4 91 4-33 4 31 5-2 8-54 4-144 4 91 4-189 5 31 4-17 4-50 4 153 4 26 4-42 5-147 8 79 4-12 4 199 5-56 4 30 4-88 8 143 4-47 5 53 4-113 4 20 4-119 4 71 4 6 5-72 4 113 4-66 4 58 4 21 4 3 5-21 4 68 4-5 4-68 4-77 4 7 5-8 4 2 4 88 4-23 4 82 4-32 9-37 4 9 4-49 4-20 5 11 4 45 4-2 4 53 4-10 4-53 5 24 4 60 4-34 4 93 4-7 4 24 5 1 4-10 4 23 8-6 4 33 5-69 4 56 4-54 4 84 4 5 4-82 5 56 4-37 4-59 4-6 4 15 4 103 5-37 8 0 4-96 4 62 5-5 4 47 4 11 4-96 4 18 4-86 5-43 4-89 4 64 4-78 4 59 4 23 5-99 4 123 4-26 4 212 4-125 4 2 5 3 4 16 4-82 4-5 8 93 5 154 4-86 8-103 4 33 4-87 5-77 4 148 4-20 4 10 4-56 4 131 5 27 4-115 4 60 4-29 4-27 5 15 4-13 8 65 4-77 4-31 5 2 4 125 4-16 4 34 4-15 4 7 5-19 4-24 4 26 4-69 4 32 4-61 9-19 4 38 4 6 8 115 5-30 4 19 4-42 4-10 4 11 4 20 5 58 4 9 8-22 4 10 5-37 4-34 4 53 4 17 4 5 4 0 5-19 4-92 4 74 4 66 4-15 4-22 13-76 4-5 4 51 4 12 5 11 8-183 4 51 8 14 5 35 8 58 4-25 4-31 13-60 4 127 4-141 4-27 5-47 4 91 4-28 4 34 4 17 9 9 4-99 4 133 4 43 4-51 4-15 5-1 4 35 4-23 4 8 4-11 4 8 5 42 4-117 4 37 4-28 4 16 4 52 5 27 4-62 4 120 4-52 4-29 4 69 5 33 8-39 8 41 9-68 4-21 4-5 13 33 4-8 4 11 4 0 4 17 4 37 5 13 16-117 9 24 4-41"/>
</g>
<path clip-path="url(#c1)" d="M173.5 620.8L174.6 617.6L175.6 631.9L176.6 692.5L177.7 718.0L178.7 675.9L179.8 661.9L180.8 704.3L181.9 679.0L182.9 704.2L183.9 725.7L185.0 682.8L186.0 607.9L187.1 585.7L188.1 590.0L189.2 610.0L190.2 680.1L191.2 698.2L192.3 728.6L193.3 643.5L194.4 623.6L195.4 628.2L196.5 717.4L197.5 689.5L198.5 747.2L199.6 743.5L200.6 714.7L201.7 767.3L202.7 692.3L203.8 627.5L204.8 658.8L205.8 710.1L206.9 728.9L207.9 679.5L209.0 656.7L210.0 643.8L211.1 703.4L212.1 713.5L213.1 710.7L214.2 694.1L215.2 689.7L216.3 698.6L217.3 685.8L218.4 754.3L219.4 777.3L220.4 769.6L221.5 724.7L222.5 694.5L223.6 729.2L224.6 658.0L225.7 691.5L226.7 683.6L227.7 753.4L228.8 732.9L229.8 692.6L230.9 640.1L231.9 675.9L233.0 680.5L234.0 684.8L235.0 703.2L236.1 730.5L237.1 712.0L238.2 733.7L239.2 657.5L240.3 622.3L241.3 630.8L242.3 680.9L243.4 673.2L244.4 657.2L245.5 610.7L246.5 593.2L247.6 563.6L248.6 602.3L249.6 646.2L250.7 648.1L251.7 577.1L252.8 605.6L253.8 646.3L254.9 678.1L255.9 620.2L256.9 681.4L258.0 662.9L259.0 669.4L260.1 682.8L261.1 664.8L262.2 650.3L263.2 657.9L264.2 704.6L265.3 732.3L266.3 675.6L267.4 696.1L268.4 707.7L269.5 722.0L270.5 737.7L271.5 764.0L272.6 742.6L273.6 695.0L274.7 679.9L275.7 709.6L276.8 679.9L277.8 663.7L278.8 745.1L279.9 752.4L280.9 719.4L282.0 704.1L283.0 734.2L284.1 728.3L285.1 753.4L286.1 791.4L287.2 763.5L288.2 739.5L289.3 730.1L290.3 725.1L291.4 750.5L292.4 726.3L293.4 783.6L294.5 725.0L295.5 674.2L296.6 713.5L297.6 742.5L298.7 722.4L299.7 727.7L300.7 792.0L301.8 773.2L302.8 710.1L303.9 745.3L304.9 716.0L306.0 787.3L307.0 745.9L308.0 756.2L309.1 735.4L310.1 785.9L311.2 804.0L312.2 804.0L313.3 804.1L314.3 757.5L315.3 801.8L316.4 783.4L317.4 739.6L318.5 740.7L319.5 734.0L320.6 747.3L321.6 797.4L322.6 804.7L323.7 759.3L324.7 710.2L325.8 674.1L326.8 680.0L327.9 690.0L328.9 724.7L329.9 767.0L331.0 721.0L332.0 660.7L333.1 609.0L334.1 563.1L335.2 606.7L336.2 657.8L337.2 715.7L338.3 700.6L339.3 654.3L340.4 705.0L341.4 702.3L342.5 662.9L343.5 643.0L344.5 757.7L345.6 774.0L346.6 675.1L347.7 590.5L348.7 755.1L349.8 741.8L350.8 736.4L351.8 739.6L352.9 725.1L353.9 718.6L355.0 655.6L356.0 646.2L357.1 613.3L358.1 604.2L359.1 668.0L360.2 650.7L361.2 646.4L362.3 666.9L363.3 673.3L364.4 783.0L365.4 719.2L366.4 748.3L367.5 658.0L368.5 577.1L369.6 561.3L370.6 561.0L371.7 555.6L372.7 613.0L373.7 583.9L374.8 621.4L375.8 509.6L376.9 496.7L377.9 505.2L379.0 538.1L380.0 487.5L381.0 569.8L382.1 613.4L383.1 635.4L384.2 602.7L385.2 494.8L386.3 557.4L387.3 622.6L388.3 665.7L389.4 599.2L390.4 510.6L391.5 506.3L392.5 475.7L393.6 562.5L394.6 552.2L395.6 699.5L396.7 668.1L397.7 586.2L398.8 590.4L399.8 654.1L400.9 600.7L401.9 658.8L402.9 728.0L404.0 716.7L405.0 550.6L406.1 524.6L407.1 481.2L408.2 491.9L409.2 449.9L410.2 469.4L411.3 454.0L412.3 361.7L413.4 416.4L414.4 378.9L415.5 394.4L416.5 530.6L417.5 479.7L418.6 476.6L419.6 429.6L420.7 493.7L421.7 554.1L422.8 560.2L423.8 536.0L424.8 633.6L425.9 667.2L426.9 555.7L428.0 656.7L429.0 603.5L430.1 564.5L431.1 517.0L432.1 627.2L433.2 562.3L434.2 456.5L435.3 506.8L436.3 568.6L437.3 546.9L438.4 608.3L439.4 613.3L440.5 668.4L441.5 582.5L442.6 606.1L443.6 641.4L444.6 618.8L445.7 608.1L446.7 651.5L447.8 599.6L448.8 589.1L449.9 642.3L450.9 649.9L451.9 550.2L453.0 593.0L454.0 723.1L455.1 688.9L456.1 707.2L457.2 667.7L458.2 606.7L459.2 623.4L460.3 596.6L461.3 662.7L462.4 670.0L463.4 566.6L464.5 617.5L465.5 557.9L466.5 547.0L467.6 570.2L468.6 675.5L469.7 662.7L470.7 579.7L471.8 474.9L472.8 471.1L473.8 529.0L474.9 546.4L475.9 593.2L477.0 627.6L478.0 539.6L479.1 585.4L480.1 517.7L481.1 563.4L482.2 677.8L483.2 583.8L484.3 649.4L485.3 553.2L486.4 582.3L487.4 521.5L488.4 574.3L489.5 590.1L490.5 645.5L491.6 635.2L492.6 600.9L493.7 556.5L494.7 494.2L495.7 526.5L496.8 606.1L497.8 606.6L498.9 653.1L499.9 611.4L501.0 608.7L502.0 609.5L503.0 605.0L504.1 630.1L505.1 684.5L506.2 658.3L507.2 602.3L508.3 624.2L509.3 703.8L510.3 713.0L511.4 678.9L512.4 731.1L513.5 754.3L514.5 727.8L515.6 732.1L516.6 725.2L517.6 705.4L518.7 611.4L519.7 654.9L520.8 604.2L521.8 563.7L522.9 620.3L523.9 642.1L524.9 640.0L526.0 619.9L527.0 678.3L528.1 677.3L529.1 642.8L530.2 685.2L531.2 646.0L532.2 627.2L533.3 575.4L534.3 621.0L535.4 589.0L536.4 576.3L537.5 591.5L538.5 610.8L539.5 633.6L540.6 645.2L541.6 657.1L542.7 656.0L543.7 573.0L544.8 577.1L545.8 666.4L546.8 642.6L547.9 650.6L548.9 648.4L550.0 671.8L551.0 661.5L552.1 635.4L553.1 596.4L554.1 635.9L555.2 666.0L556.2 661.3L557.3 671.1L558.3 644.8L559.4 670.2L560.4 631.7L561.4 605.5L562.5 579.9L563.5 633.6L564.6 674.7L565.6 673.1L566.7 681.7L567.7 699.3L568.7 685.2L569.8 725.2L570.8 697.0L571.9 712.4L572.9 659.8L574.0 675.8L575.0 648.7L576.0 594.0L577.1 600.4L578.1 658.9L579.2 654.6L580.2 658.1L581.3 657.5L582.3 683.9L583.3 658.5L584.4 670.4L585.4 702.0L586.5 681.4L587.5 662.6L588.6 638.4L589.6 637.0L590.6 632.1L591.7 619.4L592.7 676.2L593.8 673.6L594.8 682.1L595.9 692.5L596.9 620.7L597.9 615.8L599.0 578.2L600.0 696.1L601.1 677.5L602.1 647.0L603.2 668.9L604.2 621.8L605.2 621.2L606.3 627.2L607.3 616.5L608.4 667.5L609.4 628.8L610.5 589.8L611.5 600.0L612.5 591.0L613.6 607.8L614.6 615.9L615.7 662.8L616.7 645.5L617.8 666.1L618.8 665.5L619.8 649.3L620.9 628.6L621.9 619.1L623.0 657.8L624.0 626.1L625.1 634.6L626.1 615.2L627.1 584.6L628.2 621.4L629.2 674.8L630.3 699.3L631.3 667.3L632.4 661.8L633.4 628.0L634.4 599.7L635.5 668.1L636.5 696.5L637.6 682.1L638.6 703.2L639.7 677.7L640.7 637.2L641.7 630.7L642.8 647.7L643.8 744.3L644.9 767.5L645.9 695.4L647.0 677.3L648.0 724.4L649.0 710.5L650.1 702.0L651.1 770.9L652.2 772.3L653.2 721.0L654.3 692.0L655.3 616.4L656.3 668.5L657.4 672.4L658.4 721.9L659.5 671.2L660.5 644.9L661.6 643.2L662.6 668.3L663.6 663.7L664.7 664.3L665.7 689.2L666.8 685.0L667.8 696.3L668.9 711.0L669.9 733.9L670.9 731.8L672.0 727.3L673.0 709.0L674.1 725.0L675.1 675.8L676.2 685.7L677.2 702.6L678.2 691.5L679.3 691.9L680.3 741.5L681.4 679.4L682.4 645.8L683.5 608.0L684.5 636.8L685.5 666.8L686.6 719.4L687.6 785.9L688.7 726.2L689.7 677.9L690.8 687.5L691.8 650.8L692.8 617.3L693.9 685.3L694.9 733.4L696.0 750.8L697.0 683.0L698.0 693.8L699.1 716.4L700.1 751.6L701.2 756.1L702.2 789.2L703.3 773.9L704.3 681.1L705.3 726.8L706.4 728.1L707.4 756.2L708.5 713.8L709.5 715.1L710.6 723.0L711.6 692.6L712.6 676.6L713.7 683.2L714.7 679.6L715.8 655.4L716.8 673.0L717.9 694.7L718.9 670.2L719.9 661.2L721.0 609.0L722.0 611.2L723.1 595.8L724.1 592.5L725.2 605.3L726.2 592.5L727.2 607.1L728.3 548.7L729.3 519.9L730.4 513.2L731.4 550.7L732.5 569.1L733.5 501.0L734.5 529.9L735.6 486.6L736.6 512.7L737.7 552.6L738.7 619.6L739.8 613.8L740.8 481.5L741.8 557.6L742.9 563.3L743.9 534.8L745.0 607.5L746.0 602.5L747.1 596.5L748.1 470.6L749.1 499.9L750.2 506.5L751.2 554.8L752.3 545.9L753.3 546.4L754.4 476.9L755.4 452.1L756.4 427.8L757.5 516.2L758.5 444.3L759.6 472.4L760.6 531.3L761.7 566.8L762.7 467.7L763.7 490.3L764.8 499.8L765.8 448.6L766.9 471.8L767.9 514.5L769.0 504.8L770.0 495.5L771.0 464.2L772.1 470.3L773.1 488.7L774.2 445.1L775.2 472.9L776.3 505.1L777.3 538.5L778.3 494.3L779.4 513.4L780.4 511.5L781.5 517.4L782.5 524.9L783.6 517.3L784.6 486.4L785.6 465.0L786.7 506.7L787.7 464.6L788.8 536.5L789.8 558.6L790.9 569.3L791.9 531.7L792.9 589.4L794.0 505.1L795.0 557.4L796.1 560.3L797.1 617.9L798.2 640.9L799.2 532.7L800.2 491.5L801.3 536.0L802.3 620.9L803.4 623.1L804.4 647.3L805.5 712.4L806.5 586.9L807.5 702.1L808.6 602.6L809.6 557.6L810.7 529.0L811.7 591.6L812.8 598.6L813.8 545.5L814.8 593.3L815.9 427.9L816.9 559.5L818.0 468.8L819.0 573.7L820.1 575.8L821.1 519.7L822.1 608.3L823.2 578.5L824.2 541.7L825.3 581.1L826.3 666.1L827.4 680.7L828.4 562.1L829.4 654.8L830.5 674.2L831.5 556.7L832.6 656.5L833.6 686.6L834.7 728.8L835.7 622.0L836.7 676.6L837.8 621.9L838.8 641.3L839.9 624.0L840.9 644.9L842.0 615.7L843.0 588.2L844.0 520.9L845.1 521.2L846.1 594.9L847.2 642.9L848.2 704.7L849.3 663.6L850.3 639.9L851.3 644.0L852.4 654.2L853.4 633.3L854.5 603.0L855.5 561.1L856.6 619.8L857.6 576.9L858.6 543.7L859.7 607.2L860.7 579.5L861.8 612.7L862.8 706.8L863.9 711.3L864.9 667.7L865.9 592.7L867.0 612.1L868.0 596.7L869.1 606.9L870.1 664.9L871.2 645.6L872.2 567.4L873.2 563.1L874.3 602.3L875.3 637.1L876.4 640.3L877.4 664.6L878.5 716.7L879.5 648.6L880.5 655.1L881.6 613.5L882.6 639.0L883.7 690.4L884.7 714.4L885.8 733.1L886.8 659.4L887.8 618.8L888.9 614.4L889.9 655.3L891.0 680.6L892.0 720.2L893.1 713.0L894.1 646.9L895.1 658.8L896.2 681.4L897.2 635.5L898.3 667.9L899.3 728.8L900.4 745.6L901.4 664.2L902.4 668.6L903.5 666.8L904.5 634.9L905.6 624.8L906.6 654.0L907.7 597.4L908.7 594.6L909.7 620.7L910.8 632.5L911.8 650.7L912.9 652.7L913.9 637.6L915.0 595.4L916.0 605.3L917.0 567.1L918.1 550.9L919.1 606.7L920.2 618.3L921.2 671.4L922.3 639.1L923.3 608.7L924.3 680.7L925.4 615.3L926.4 625.8L927.5 627.7L928.5 693.9L929.6 680.6L930.6 645.4L931.6 583.5L932.7 610.3L933.7 577.9L934.8 627.5L935.8 658.8L936.9 650.5L937.9 606.3L938.9 611.2L940.0 600.1L941.0 603.0L942.1 672.6L943.1 704.4L944.2 712.6L945.2 667.7L946.2 679.1L947.3 685.5L948.3 680.1L949.4 724.6L950.4 709.0L951.5 711.7L952.5 661.6L953.5 684.2L954.6 680.2L955.6 686.9L956.7 696.6L957.7 731.3L958.7 744.5L959.8 717.6L960.8 705.2L961.9 661.0L962.9 680.9L964.0 697.7L965.0 669.6L966.0 700.4L967.1 672.0L968.1 713.3L969.2 703.1L970.2 705.2L971.3 704.4L972.3 704.3L973.3 707.2L974.4 684.0L975.4 665.5L976.5 681.0L977.5 633.9L978.6 749.4L979.6 777.1L980.6 735.9L981.7 753.2L982.7 710.1L983.8 710.8L984.8 725.0L985.9 701.8L986.9 729.6L987.9 729.4L989.0 681.2L990.0 634.3L991.1 681.2L992.1 637.9L993.2 649.2L994.2 723.5L995.2 638.7L996.3 614.0L997.3 635.4L998.4 624.8L999.4 606.4L1000.5 630.4L1001.5 712.0L1002.5 709.6L1003.6 626.2L1004.6 626.2L1005.7 681.0L1006.7 627.3L1007.8 672.7L1008.8 759.7L1009.8 735.6L1010.9 653.4L1011.9 668.4L1013.0 666.3L1014.0 699.7L1015.1 668.1L1016.1 716.7L1017.1 695.2L1018.2 649.0L1019.2 620.7L1020.3 653.4L1021.3 714.9L1022.4 685.9L1023.4 714.8L1024.4 738.5L1025.5 708.9L1026.5 693.3L1027.6 704.6L1028.6 705.3L1029.7 719.7L1030.7 768.1L1031.7 715.4L1032.8 676.0L1033.8 691.6L1034.9 660.1L1035.9 728.7L1037.0 683.0L1038.0 742.6L1039.0 742.5L1040.1 689.2L1041.1 686.1L1042.2 683.4L1043.2 648.1L1044.3 659.5L1045.3 708.7L1046.3 726.1L1047.4 686.3L1048.4 690.0L1049.5 655.7L1050.5 620.1L1051.6 636.3L1052.6 707.9L1053.6 704.0L1054.7 642.4L1055.7 667.8L1056.8 663.4L1057.8 691.8L1058.9 724.1L1059.9 771.0L1060.9 773.8L1062.0 734.8L1063.0 657.7L1064.1 663.7L1065.1 681.8L1066.2 704.5L1067.2 765.4L1068.2 749.4L1069.3 754.5L1070.3 741.8L1071.4 728.6L1072.4 695.7L1073.5 665.7L1074.5 675.5L1075.5 726.1L1076.6 713.4L1077.6 780.4L1078.7 770.6L1079.7 739.0L1080.8 678.6L1081.8 759.7L1082.8 743.5L1083.9 695.1L1084.9 648.4L1086.0 735.7L1087.0 693.4L1088.1 678.1L1089.1 756.0L1090.1 778.1L1091.2 656.8L1092.2 703.1L1093.3 721.7L1094.3 747.1L1095.4 700.6L1096.4 671.0L1097.4 628.1L1098.5 622.6L1099.5 606.6L1100.6 546.7L1101.6 586.0L1102.7 620.3L1103.7 701.3L1104.7 682.3L1105.8 623.7L1106.8 631.3L1107.9 581.1L1108.9 577.3L1110.0 603.9L1111.0 641.4L1112.0 642.0L1113.1 482.9L1114.1 581.0L1115.2 590.1L1116.2 536.4L1117.3 507.1L1118.3 550.3L1119.3 553.4L1120.4 535.2L1121.4 547.4L1122.5 519.2L1123.5 518.7L1124.6 542.8L1125.6 574.1L1126.6 502.2L1127.7 532.8L1128.7 499.1L1129.8 511.2L1130.8 468.9L1131.9 480.3L1132.9 590.7L1133.9 572.8L1135.0 592.8L1136.0 558.6L1137.1 608.7L1138.1 530.6L1139.2 447.5L1140.2 532.2L1141.2 533.3L1142.3 442.1L1143.3 482.3L1144.4 478.8L1145.4 469.4L1146.5 466.9L1147.5 412.7L1148.5 384.1L1149.6 453.1L1150.6 462.0L1151.7 513.4L1152.7 496.7L1153.8 514.9L1154.8 540.5L1155.8 538.6L1156.9 421.6L1157.9 430.5L1159.0 487.5L1160.0 438.6L1161.1 463.0L1162.1 526.7L1163.1 459.5L1164.2 470.4L1165.2 488.6L1166.3 469.3L1167.3 504.4L1168.4 538.8L1169.4 571.2L1170.4 579.5L1171.5 500.6L1172.5 530.0L1173.6 596.4L1174.6 523.7L1175.7 518.7L1176.7 585.7L1177.7 619.6L1178.8 617.7L1179.8 477.1L1180.9 445.2L1181.9 522.9L1183.0 465.6L1184.0 514.6L1185.0 413.1L1186.1 416.4L1187.1 449.2L1188.2 452.9L1189.2 407.9L1190.3 348.2L1191.3 378.7L1192.3 393.6L1193.4 348.4L1194.4 410.8L1195.5 413.2L1196.5 347.7L1197.6 351.6L1198.6 437.5L1199.6 496.2L1200.7 509.7L1201.7 536.8L1202.8 614.8L1203.8 594.5L1204.9 563.9L1205.9 596.5L1206.9 591.0L1208.0 590.3L1209.0 629.7L1210.1 588.1L1211.1 559.3L1212.2 530.0L1213.2 616.1L1214.2 677.8L1215.3 612.5L1216.3 570.6L1217.4 543.9L1218.4 536.6L1219.4 548.6L1220.5 635.0L1221.5 666.6L1222.6 612.3L1223.6 592.6L1224.7 556.0L1225.7 563.9L1226.7 573.3L1227.8 569.0L1228.8 628.3L1229.9 527.8L1230.9 551.9L1232.0 520.3L1233.0 576.0L1234.0 576.4L1235.1 642.2L1236.1 621.6L1237.2 546.5L1238.2 543.8L1239.3 574.2L1240.3 601.5L1241.3 539.4L1242.4 516.6L1243.4 569.2L1244.5 579.5L1245.5 551.8L1246.6 564.2L1247.6 584.4L1248.6 618.7L1249.7 607.5L1250.7 619.6L1251.8 583.2L1252.8 606.7L1253.9 605.4L1254.9 588.1L1255.9 605.0L1257.0 643.5L1258.0 670.9L1259.1 655.5L1260.1 580.8L1261.2 591.9L1262.2 575.1L1263.2 569.8L1264.3 568.7L1265.3 490.5L1266.4 509.6L1267.4 527.2L1268.5 545.6L1269.5 560.8L1270.5 537.4L1271.6 577.6L1272.6 584.0L1273.7 563.8L1274.7 497.8L1275.8 572.8L1276.8 566.5L1277.8 617.6L1278.9 632.5L1279.9 662.8L1281.0 601.0L1282.0 580.0L1283.1 567.1L1284.1 537.4L1285.1 612.1L1286.2 640.8L1287.2 586.3L1288.3 457.1L1289.3 537.3L1290.4 568.9L1291.4 554.4L1292.4 493.0L1293.5 539.1L1294.5 549.6L1295.6 461.7L1296.6 445.5L1297.7 434.0L1298.7 446.1L1299.7 447.2L1300.8 514.1L1301.8 550.0L1302.9 433.0L1303.9 504.1L1305.0 498.1L1306.0 543.5L1307.0 505.7L1308.1 526.8L1309.1 551.9L1310.2 593.5L1311.2 562.1L1312.3 578.6L1313.3 582.5L1314.3 570.6L1315.4 627.9L1316.4 616.7L1317.5 608.1L1318.5 613.6L1319.6 600.8L1320.6 587.6L1321.6 635.7L1322.7 671.7L1323.7 668.4L1324.8 597.5L1325.8 573.3L1326.9 631.8L1327.9 630.3L1328.9 590.4L1330.0 603.0L1331.0 588.9L1332.1 599.7L1333.1 598.8L1334.2 542.8L1335.2 564.6L1336.2 583.9L1337.3 562.8L1338.3 563.5L1339.4 540.1L1340.4 532.7L1341.5 567.6L1342.5 565.1L1343.5 632.5L1344.6 647.3L1345.6 608.6L1346.7 572.1L1347.7 613.0L1348.8 549.6L1349.8 562.6L1350.8 547.5L1351.9 617.5L1352.9 607.0L1354.0 595.8L1355.0 591.3L1356.1 612.4L1357.1 571.3L1358.1 568.0L1359.2 620.9L1360.2 628.5L1361.3 577.8L1362.3 598.6L1363.4 577.6L1364.4 564.3L1365.4 574.0L1366.5 588.1L1367.5 630.6L1368.6 577.7L1369.6 564.9L1370.7 587.9L1371.7 589.1L1372.7 584.1L1373.8 650.5L1374.8 595.5L1375.9 575.0L1376.9 582.6L1378.0 578.4L1379.0 554.7L1380.0 598.6L1381.1 602.8L1382.1 602.5L1383.2 597.6L1384.2 628.0L1385.3 642.6L1386.3 595.3L1387.3 607.4L1388.4 621.8L1389.4 599.4L1390.5 599.9L1391.5 539.9L1392.6 556.9L1393.6 555.1L1394.6 590.4L1395.7 665.7L1396.7 683.8L1397.8 617.0L1398.8 668.0L1399.9 643.9L1400.9 639.7L1401.9 655.2L1403.0 745.8L1404.0 712.2L1405.1 702.2L1406.1 677.6L1407.2 700.3L1408.2 658.7L1409.2 659.9L1410.3 692.4L1411.3 687.4L1412.4 625.4L1413.4 590.9L1414.5 658.1L1415.5 647.5L1416.5 650.1L1417.6 651.6L1418.6 703.6L1419.7 648.0L1420.7 643.3L1421.8 644.2L1422.8 694.0L1423.8 698.2L1424.9 734.2L1425.9 706.1L1427.0 665.8L1428.0 710.2L1429.1 693.7L1430.1 708.7L1431.1 714.0L1432.2 741.7L1433.2 740.9L1434.3 669.1L1435.3 668.5L1436.4 686.4L1437.4 664.0L1438.4 691.3L1439.5 700.1L1440.5 691.8L1441.6 634.6L1442.6 660.0L1443.7 649.4L1444.7 683.0L1445.7 696.6L1446.8 707.6L1447.8 739.1L1448.9 772.3L1449.9 792.0L1451.0 789.8L1452.0 792.1L1453.0 795.5L1454.1 796.2L1455.1 796.9L1456.2 763.5L1457.2 741.5L1458.3 793.6L1459.3 742.3L1460.3 767.4L1461.4 783.7L1462.4 778.2L1463.5 757.6L1464.5 733.5L1465.6 771.3L1466.6 751.2L1467.6 805.3L1468.7 806.0L1469.7 803.6L1470.8 695.8L1471.8 681.8L1472.9 667.6L1473.9 668.1L1474.9 654.2L1476.0 733.6L1477.0 764.4L1478.1 736.7L1479.1 710.6L1480.1 729.3L1481.2 736.5L1482.2 739.9L1483.3 757.2L1484.3 728.2L1485.4 687.8L1486.4 649.0L1487.4 643.0L1488.5 641.1L1489.5 693.4L1490.6 751.5L1491.6 729.8L1492.7 635.6L1493.7 665.2L1494.7 700.8L1495.8 659.0L1496.8 617.8L1497.9 653.1L1498.9 708.8L1500.0 565.3L1501.0 640.8L1502.0 667.1L1503.1 689.8L1504.1 649.0L1505.2 686.1L1506.2 628.7L1507.3 608.0L1508.3 521.8L1509.3 530.5L1510.4 551.7L1511.4 620.3L1512.5 671.9L1513.5 652.7L1514.6 570.3L1515.6 538.9L1516.6 596.1L1517.7 594.9L1518.7 610.5L1519.8 599.1L1520.8 577.4L1521.9 458.9L1522.9 432.4L1523.9 402.2L1525.0 413.0L1526.0 454.2L1527.1 477.9L1528.1 450.5L1529.2 433.9L1530.2 425.0L1531.2 410.6L1532.3 448.5L1533.3 438.9L1534.4 589.3L1535.4 472.9L1536.5 388.7L1537.5 421.4L1538.5 440.8L1539.6 483.7L1540.6 512.3L1541.7 588.9L1542.7 564.5L1543.8 557.8L1544.8 550.1L1545.8 558.9L1546.9 565.3L1547.9 553.8L1549.0 516.8L1550.0 422.8L1551.1 448.5L1552.1 354.0L1553.1 360.4L1554.2 353.0L1555.2 391.7L1556.3 444.5L1557.3 507.2L1558.4 478.8L1559.4 546.8L1560.4 480.1L1561.5 462.1L1562.5 483.8L1563.6 477.6L1564.6 497.8L1565.7 441.5L1566.7 497.8L1567.7 564.4L1568.8 577.8L1569.8 640.1L1570.9 714.6L1571.9 730.9L1573.0 607.5L1574.0 618.4L1575.0 572.2L1576.1 560.3L1577.1 535.7L1578.2 616.8L1579.2 657.9L1580.3 550.2L1581.3 487.1L1582.3 513.7L1583.4 589.0L1584.4 573.9L1585.5 664.3L1586.5 690.9L1587.6 551.6L1588.6 537.0L1589.6 648.6L1590.7 663.4L1591.7 615.6L1592.8 662.1L1593.8 673.1L1594.9 619.6L1595.9 585.1L1596.9 573.8L1598.0 604.5L1599.0 686.1L1600.1 632.2L1601.1 675.1L1602.2 536.9L1603.2 555.1L1604.2 475.8L1605.3 478.3L1606.3 481.2L1607.4 582.3L1608.4 548.4L1609.5 523.6L1610.5 511.5L1611.5 474.9L1612.6 491.7L1613.6 496.4L1614.7 546.2L1615.7 535.0L1616.8 487.8L1617.8 483.3L1618.8 596.4L1619.9 539.3L1620.9 539.6L1622.0 476.2L1623.0 501.0L1624.1 460.2L1625.1 542.1L1626.1 532.8L1627.2 583.0L1628.2 584.0L1629.3 580.9L1630.3 611.2L1631.4 530.6L1632.4 536.9L1633.4 555.7L1634.5 501.1L1635.5 588.9L1636.6 574.3L1637.6 640.2L1638.7 595.9L1639.7 620.9L1640.7 625.3L1641.8 605.9L1642.8 600.5L1643.9 611.0L1644.9 622.0L1646.0 588.9L1647.0 582.7L1648.0 565.1L1649.1 594.8L1650.1 610.6L1651.2 605.8L1652.2 736.8L1653.3 644.0L1654.3 723.2L1655.3 692.5L1656.4 665.4L1657.4 652.0L1658.5 677.1L1659.5 650.2L1660.6 560.7L1661.6 585.5L1662.6 498.7L1663.7 518.6L1664.7 489.3L1665.8 521.6L1666.8 547.7L1667.9 501.9L1668.9 508.3L1669.9 505.1L1671.0 502.8L1672.0 466.7L1673.1 497.1L1674.1 518.2L1675.2 491.6L1676.2 458.4L1677.2 537.4L1678.3 505.7L1679.3 516.7L1680.4 547.1L1681.4 570.4L1682.5 563.7L1683.5 631.2L1684.5 583.3L1685.6 543.8L1686.6 561.4L1687.7 591.9L1688.7 640.1L1689.8 585.8L1690.8 632.7L1691.8 629.6L1692.9 622.9L1693.9 625.1L1695.0 633.5L1696.0 631.4L1697.1 585.7L1698.1 570.9L1699.1 541.3L1700.2 512.6L1701.2 525.4L1702.3 563.4L1703.3 585.5L1704.4 540.0L1705.4 593.7L1706.4 562.1L1707.5 583.9L1708.5 539.9L1709.6 541.5L1710.6 574.6L1711.7 529.5L1712.7 506.8L1713.7 545.3L1714.8 535.8L1715.8 537.0L1716.9 574.3L1717.9 572.6L1719.0 529.6L1720.0 545.5L1721.0 559.4L1722.1 566.9L1723.1 574.1L1724.2 619.5L1725.2 587.9L1726.3 603.5L1727.3 568.2L1728.3 599.7L1729.4 596.8L1730.4 647.9L1731.5 669.5L1732.5 674.3L1733.6 615.3L1734.6 662.8L1735.6 659.4L1736.7 635.6L1737.7 634.8L1738.8 725.5L1739.8 698.7L1740.8 599.5L1741.9 606.6L1742.9 593.5L1744.0 601.1L1745.0 600.8L1746.1 730.4L1747.1 662.5L1748.1 648.0L1749.2 646.5L1750.2 697.0L1751.3 639.4L1752.3 673.3L1753.4 660.0L1754.4 706.6L1755.4 688.6L1756.5 732.1L1757.5 717.7L1758.6 722.8L1759.6 680.5L1760.7 724.8L1761.7 767.1L1762.7 739.5L1763.8 748.0L1764.8 753.6L1765.9 772.7L1766.9 763.4L1768.0 805.6L1769.0 782.1L1770.0 734.5L1771.1 725.9L1772.1 773.2L1773.2 775.9L1774.2 744.9L1775.3 789.8L1776.3 768.3L1777.3 782.1L1778.4 778.0L1779.4 813.8L1780.5 784.3L1781.5 806.8L1782.6 788.3L1783.6 807.8L1784.6 792.9L1785.7 739.1L1786.7 748.1L1787.8 706.3L1788.8 759.0L1789.9 796.4L1790.9 760.4L1791.9 773.2L1793.0 753.7L1794.0 745.0L1795.1 722.0L1796.1 739.8L1797.2 807.6L1798.2 812.0L1799.2 803.2L1800.3 813.3L1801.3 787.9L1802.4 760.4L1803.4 728.2L1804.5 770.0L1805.5 836.2L1806.5 797.7L1807.6 804.4L1808.6 793.9L1809.7 758.3L1810.7 805.0L1811.8 837.3L1812.8 837.4L1813.8 789.6L1814.9 762.8L1815.9 716.0L1817.0 726.5L1818.0 740.7L1819.1 805.6L1820.1 815.1L1821.1 722.9L1822.2 800.2L1823.2 779.8L1824.3 769.4L1825.3 775.4L1826.4 822.8L1827.4 838.2L1828.4 703.5L1829.5 766.0L1830.5 736.7L1831.6 750.4L1832.6 702.2L1833.7 767.2L1834.7 779.3L1835.7 757.5L1836.8 719.6L1837.8 766.0L1838.9 785.7L1839.9 732.5L1841.0 797.3L1842.0 838.2L1843.0 792.8L1844.1 736.3L1845.1 753.9L1846.2 795.7L1847.2 814.0L1848.3 838.2L1849.3 819.7L1850.3 782.7L1851.4 751.3L1852.4 762.0L1853.5 781.0L1854.5 704.7L1855.6 823.1L1856.6 815.2L1857.6 700.1L1858.7 703.0L1859.7 781.4L1860.8 718.5L1861.8 731.8L1862.9 775.8L1863.9 754.7L1864.9 742.2L1866.0 733.0L1867.0 750.4L1868.1 752.1L1869.1 770.6L1870.2 790.2L1871.2 829.8L1872.2 805.1L1873.3 716.3L1874.3 747.7L1875.4 639.4L1876.4 653.7L1877.5 651.3L1878.5 704.1L1879.5 647.4L1880.6 631.5L1881.6 641.8L1882.7 686.2L1883.7 683.7L1884.8 689.3L1885.8 632.3L1886.8 596.0L1887.9 580.8L1888.9 561.0L1890.0 572.0L1891.0 556.5L1892.1 609.2L1893.1 622.7L1894.1 571.0L1895.2 478.4L1896.2 452.9L1897.3 436.0L1898.3 434.1L1899.4 529.2L1900.4 533.2L1901.4 482.3L1902.5 470.9L1903.5 467.4L1904.6 400.3L1905.6 422.9L1906.7 477.4L1907.7 499.0L1908.7 476.0L1909.8 477.5L1910.8 456.3L1911.9 518.1L1912.9 485.9L1914.0 536.5L1915.0 456.2L1916.0 430.1L1917.1 497.0L1918.1 518.8L1919.2 572.8L1920.2 528.0L1921.3 586.8L1922.3 614.5L1923.3 511.3L1924.4 508.6L1925.4 520.8L1926.5 598.4L1927.5 558.6L1928.6 701.6L1929.6 704.4L1930.6 616.5L1931.7 595.0L1932.7 624.7L1933.8 522.2L1934.8 560.4L1935.9 637.1L1936.9 615.1L1937.9 546.4L1939.0 588.1L1940.0 592.4L1941.1 647.8L1942.1 593.9L1943.2 647.9L1944.2 687.2L1945.2 629.7L1946.3 580.6L1947.3 508.6L1948.4 502.4L1949.4 540.6L1950.5 624.3L1951.5 659.6L1952.5 545.2L1953.6 529.2L1954.6 459.9L1955.7 393.6L1956.7 380.5L1957.8 424.1L1958.8 560.1L1959.8 467.9L1960.9 572.6L1961.9 645.5L1963.0 653.2L1964.0 702.5L1965.1 752.0L1966.1 784.2L1967.1 696.6L1968.2 691.2L1969.2 720.3L1970.3 694.6L1971.3 664.1L1972.4 651.0L1973.4 668.2L1974.4 604.3L1975.5 635.4L1976.5 647.6L1977.6 616.7L1978.6 619.6L1979.7 730.8L1980.7 661.3L1981.7 642.3L1982.8 604.7L1983.8 604.5L1984.9 591.9L1985.9 557.9L1987.0 549.2L1988.0 569.0L1989.0 495.4L1990.1 500.7L1991.1 482.5L1992.2 476.7L1993.2 503.8L1994.3 528.8L1995.3 618.9L1996.3 591.2L1997.4 591.8L1998.4 614.7L1999.5 596.9L2000.5 588.3L2001.5 662.6L2002.6 684.5L2003.6 606.9L2004.7 676.3L2005.7 642.3L2006.8 682.4L2007.8 589.6L2008.8 704.4L2009.9 721.2L2010.9 684.2L2012.0 707.9L2013.0 698.5L2014.1 700.3L2015.1 685.0L2016.1 716.6L2017.2 669.4L2018.2 634.7L2019.3 680.3L2020.3 616.5L2021.4 618.4L2022.4 613.6L2023.4 639.4L2024.5 672.5L2025.5 605.3L2026.6 648.7L2027.6 634.8L2028.7 628.8L2029.7 667.2L2030.7 675.2L2031.8 658.6L2032.8 601.2L2033.9 599.1L2034.9 629.3L2036.0 611.1L2037.0 611.9L2038.0 720.5L2039.1 655.4L2040.1 642.2L2041.2 615.3L2042.2 594.0L2043.3 576.9L2044.3 589.2L2045.3 654.3L2046.4 712.8L2047.4 632.2L2048.5 710.7L2049.5 657.4L2050.6 641.7L2051.6 610.7L2052.6 604.3L2053.7 639.5L2054.7 602.2L2055.8 610.9L2056.8 575.9L2057.9 586.3L2058.9 564.7L2059.9 633.4L2061.0 592.3L2062.0 595.9L2063.1 585.5L2064.1 607.7L2065.2 669.9L2066.2 707.9L2067.2 750.8L2068.3 756.9L2069.3 705.0L2070.4 678.4L2071.4 683.7L2072.5 715.7L2073.5 700.7L2074.5 715.2L2075.6 742.2L2076.6 694.3L2077.7 705.0L2078.7 706.5L2079.8 725.9L2080.8 748.0L2081.8 752.6L2082.9 717.6L2083.9 654.5L2085.0 649.6L2086.0 657.0L2087.1 718.6L2088.1 734.2L2089.1 737.6L2090.2 723.7L2091.2 681.3L2092.3 676.8L2093.3 653.0L2094.4 713.6L2095.4 697.3L2096.4 723.4L2097.5 697.0L2098.5 655.4L2099.6 656.7L2100.6 669.4L2101.7 666.8L2102.7 626.8L2103.7 686.5L2104.8 665.3L2105.8 588.5L2106.9 554.4L2107.9 598.8L2109.0 578.2L2110.0 624.2L2111.0 662.7L2112.1 694.6L2113.1 613.1L2114.2 628.1L2115.2 582.6L2116.3 587.1L2117.3 568.6L2118.3 712.2L2119.4 694.2L2120.4 633.2L2121.5 583.9L2122.5 631.0L2123.6 639.7L2124.6 640.8L2125.6 660.2L2126.7 671.8L2127.7 657.9L2128.8 691.4L2129.8 687.8L2130.9 719.5L2131.9 642.4L2132.9 772.8L2134.0 730.9L2135.0 710.0L2136.1 722.3L2137.1 736.7L2138.2 771.7L2139.2 752.8L2140.2 793.8L2141.3 770.8L2142.3 729.5L2143.4 760.8L2144.4 746.0L2145.5 678.9L2146.5 699.0L2147.5 665.8L2148.6 700.5L2149.6 666.7L2150.7 719.0L2151.7 703.5L2152.8 670.8L2153.8 690.4L2154.8 750.5L2155.9 794.6L2156.9 743.2L2158.0 771.9L2159.0 778.4L2160.1 720.3L2161.1 782.3L2162.1 836.9L2163.2 837.0L2164.2 837.2L2165.3 832.4L2166.3 797.2L2167.4 816.5L2168.4 768.2L2169.4 816.0L2170.5 832.9L2171.5 786.3L2172.6 738.5L2173.6 719.6L2174.7 758.0L2175.7 772.4L2176.7 839.2L2177.8 839.4L2178.8 808.1L2179.9 822.3L2180.9 779.1L2182.0 718.8L2183.0 748.7L2184.0 772.7L2185.1 787.9L2186.1 709.0L2187.2 694.3L2188.2 738.2L2189.3 721.6L2190.3 800.8L2191.3 766.8L2192.4 774.6L2193.4 749.1L2194.5 767.3L2195.5 775.7L2196.6 776.3L2197.6 782.7L2198.6 789.8L2199.7 808.6L2200.7 761.3L2201.8 766.2L2202.8 762.8L2203.9 775.6L2204.9 743.3L2205.9 810.0L2207.0 785.8L2208.0 775.1L2209.1 727.6L2210.1 733.2L2211.2 741.5L2212.2 694.0L2213.2 733.4L2214.3 779.6L2215.3 722.9L2216.4 735.3L2217.4 693.3L2218.5 712.7L2219.5 769.7L2220.5 841.0L2221.6 840.7L2222.6 790.1L2223.7 803.4L2224.7 808.1L2225.8 802.5L2226.8 792.9L2227.8 838.8L2228.9 806.3L2229.9 757.4L2231.0 717.6L2232.0 736.5L2233.1 697.5L2234.1 687.2L2235.1 736.7L2236.2 660.9L2237.2 668.9L2238.3 657.8L2239.3 684.0L2240.4 700.4L2241.4 693.5L2242.4 731.0L2243.5 735.4L2244.5 660.5L2245.6 690.0L2246.6 688.1L2247.7 705.8L2248.7 703.4L2249.7 744.2L2250.8 766.8L2251.8 726.7L2252.9 730.4L2253.9 760.2L2255.0 814.4L2256.0 704.4L2257.0 734.3L2258.1 756.5L2259.1 648.0L2260.2 689.2L2261.2 655.3L2262.2 672.6L2263.3 622.8L2264.3 693.1L2265.4 695.2L2266.4 577.6L2267.5 557.7L2268.5 560.3L2269.5 592.5L2270.6 619.3L2271.6 726.6L2272.7 570.1L2273.7 710.2L2274.8 691.6L2275.8 747.3L2276.8 645.1L2277.9 535.2L2278.9 648.8L2280.0 710.2L2281.0 672.1L2282.1 619.1L2283.1 665.8L2284.1 687.0L2285.2 677.2L2286.2 735.2L2287.3 766.5L2288.3 719.7L2289.4 703.0L2290.4 714.5L2291.4 700.7L2292.5 676.0L2293.5 766.1L2294.6 677.4L2295.6 686.8L2296.7 679.0L2297.7 728.3L2298.7 674.2L2299.8 679.5L2300.8 706.7L2301.9 669.6L2302.9 609.2L2304.0 593.1L2305.0 605.0L2306.0 557.3L2307.1 533.9L2308.1 615.8L2309.2 654.6L2310.2 587.1L2311.3 634.8L2312.3 594.3L2313.3 603.9L2314.4 679.7L2315.4 687.2L2316.5 713.1L2317.5 592.9L2318.6 548.5L2319.6 600.3L2320.6 588.8L2321.7 586.4L2322.7 503.5L2323.8 544.3L2324.8 535.8L2325.9 595.3L2326.9 547.7L2327.9 552.5L2329.0 546.2L2330.0 616.2L2331.1 596.8L2332.1 581.2L2333.2 587.5L2334.2 533.4L2335.2 488.4L2336.3 453.2L2337.3 539.7L2338.4 549.0L2339.4 590.1L2340.5 637.1L2341.5 608.1L2342.5 673.2L2343.6 648.6L2344.6 707.4L2345.7 637.7L2346.7 609.3L2347.8 575.5L2348.8 616.8L2349.8 589.7L2350.9 569.6L2351.9 706.7L2353.0 716.4L2354.0 614.5L2355.1 609.7L2356.1 628.3L2357.1 515.9L2358.2 527.2L2359.2 630.6L2360.3 699.2L2361.3 687.0L2362.4 684.7L2363.4 730.4L2364.4 670.4L2365.5 639.6L2366.5 698.7L2367.6 696.9L2368.6 664.9L2369.7 697.8L2370.7 644.8L2371.7 614.1L2372.8 594.9L2373.8 628.6L2374.9 651.4L2375.9 648.9L2377.0 615.9L2378.0 596.7L2379.0 648.9L2380.1 663.3L2381.1 738.5L2382.2 715.5L2383.2 678.1L2384.3 657.0L2385.3 663.3L2386.3 680.7L2387.4 669.8L2388.4 706.7L2389.5 666.4L2390.5 684.7L2391.6 656.2L2392.6 642.0L2393.6 587.3L2394.7 586.7L2395.7 702.3L2396.8 617.0L2397.8 601.6L2398.9 662.1L2399.9 671.3L2400.9 638.5L2402.0 661.4L2403.0 707.0L2404.1 714.2L2405.1 692.7L2406.2 650.1L2407.2 636.6L2408.2 598.9L2409.3 600.9L2410.3 646.9L2411.4 628.8L2412.4 649.9L2413.5 707.1L2414.5 619.3L2415.5 660.5L2416.6 599.8L2417.6 722.2L2418.7 651.0L2419.7 606.1L2420.8 608.2L2421.8 627.6L2422.8 608.5L2423.9 686.6L2424.9 701.6L2426.0 695.5L2427.0 633.5L2428.1 632.8L2429.1 675.6L2430.1 648.8L2431.2 632.4L2432.2 625.3L2433.3 637.5L2434.3 623.8L2435.4 711.9L2436.4 696.5L2437.4 760.8L2438.5 703.9L2439.5 754.3L2440.6 702.1L2441.6 711.4L2442.7 722.9L2443.7 692.6L2444.7 744.3L2445.8 676.4L2446.8 726.8L2447.9 738.3L2448.9 714.1L2450.0 736.1L2451.0 709.6L2452.0 707.1L2453.1 723.7L2454.1 784.0L2455.2 774.2L2456.2 724.1L2457.3 693.1L2458.3 682.5L2459.3 683.1L2460.4 683.1L2461.4 742.2L2462.5 742.8L2463.5 727.7L2464.6 750.5L2465.6 765.3L2466.6 800.1L2467.7 779.8L2468.7 791.9L2469.8 829.4L2470.8 781.6L2471.9 796.4L2472.9 762.1L2473.9 759.8L2475.0 778.6L2476.0 793.7L2477.1 780.2L2478.1 745.5L2479.2 729.5L2480.2 693.4L2481.2 670.7L2482.3 661.9L2483.3 679.2L2484.4 691.9L2485.4 679.3L2486.5 700.5L2487.5 715.1L2488.5 712.4L2489.6 711.4L2490.6 776.3L2491.7 766.2L2492.7 765.2L2493.8 739.5L2494.8 733.5L2495.8 736.3L2496.9 734.0L2497.9 750.9L2499.0 768.4L2500.0 721.6L2501.1 746.4L2502.1 701.2L2503.1 713.9L2504.2 707.8L2505.2 723.6L2506.3 711.3L2507.3 708.1L2508.4 728.7L2509.4 714.5L2510.4 677.3L2511.5 696.0L2512.5 717.1L2513.6 730.5L2514.6 686.4L2515.7 706.1L2516.7 743.1L2517.7 768.2L2518.8 768.7L2519.8 784.8L2520.9 803.8L2521.9 795.0L2522.9 792.9L2524.0 790.9L2525.0 797.9L2526.1 799.5L2527.1 813.2L2528.2 808.4L2529.2 798.2L2530.2 793.7L2531.3 791.4L2532.3 774.6L2533.4 751.3L2534.4 774.3L2535.5 765.3L2536.5 736.2L2537.5 738.6L2538.6 738.8L2539.6 732.3L2540.7 717.8L2541.7 755.4L2542.8 752.7L2543.8 710.7L2544.8 701.3L2545.9 700.6L2546.9 695.0L2548.0 690.3L2549.0 715.3L2550.1 723.1L2551.1 693.1L2552.1 665.6L2553.2 671.0L2554.2 649.7L2555.3 683.9" fill="none" stroke="#f2f0f2" stroke-opacity="0.92" stroke-width="2.9" stroke-linejoin="round"/>
<rect x="173" y="142" width="2381" height="731" fill="none" stroke="#3a3d52" stroke-width="2.1"/>
<path d="M163 873.0H172M163 741.5H172M163 610.0H172M163 478.5H172M163 347.0H172M163 215.5H172" stroke="#e0e4ec" stroke-width="2" fill="none"/>
<path d="M173.0 874V883M554.7 874V883M935.3 874V883M1315.9 874V883M1696.5 874V883M2078.2 874V883M2458.8 874V883" stroke="#8a8a8a" stroke-width="2" fill="none"/>
<rect x="2247.4" y="156.2" width="293.4" height="51.3" rx="5" fill="#1a1d2e" fill-opacity="0.9" stroke="#33364a" stroke-width="2.4"/>
<path d="M2257 180.5H2316" stroke="#dcdcdf" stroke-width="3.1"/>
<defs><linearGradient id="gh" x1="0" y1="1" x2="0" y2="0">
<stop offset="0.0000" stop-color="#ff6666"/>
<stop offset="0.0208" stop-color="#ff7966"/>
<stop offset="0.0417" stop-color="#ff8c66"/>
<stop offset="0.0625" stop-color="#ff9f66"/>
<stop offset="0.0833" stop-color="#ffb266"/>
<stop offset="0.1042" stop-color="#ffc666"/>
<stop offset="0.1250" stop-color="#ffd966"/>
<stop offset="0.1458" stop-color="#ffec66"/>
<stop offset="0.1667" stop-color="#ffff66"/>
<stop offset="0.1875" stop-color="#ecff66"/>
<stop offset="0.2083" stop-color="#d9ff66"/>
<stop offset="0.2292" stop-color="#c6ff66"/>
<stop offset="0.2500" stop-color="#b2ff66"/>
<stop offset="0.2708" stop-color="#9fff66"/>
<stop offset="0.2917" stop-color="#8cff66"/>
<stop offset="0.3125" stop-color="#79ff66"/>
<stop offset="0.3333" stop-color="#66ff66"/>
<stop offset="0.3542" stop-color="#66ff79"/>
<stop offset="0.3750" stop-color="#66ff8c"/>
<stop offset="0.3958" stop-color="#66ff9f"/>
<stop offset="0.4167" stop-color="#66ffb2"/>
<stop offset="0.4375" stop-color="#66ffc6"/>
<stop offset="0.4583" stop-color="#66ffd9"/>
<stop offset="0.4792" stop-color="#66ffec"/>
<stop offset="0.5000" stop-color="#66ffff"/>
<stop offset="0.5208" stop-color="#66ecff"/>
<stop offset="0.5417" stop-color="#66d9ff"/>
<stop offset="0.5625" stop-color="#66c6ff"/>
<stop offset="0.5833" stop-color="#66b2ff"/>
<stop offset="0.6042" stop-color="#669fff"/>
<stop offset="0.6250" stop-color="#668cff"/>
<stop offset="0.6458" stop-color="#6679ff"/>
<stop offset="0.6667" stop-color="#6666ff"/>
<stop offset="0.6875" stop-color="#7966ff"/>
<stop offset="0.7083" stop-color="#8c66ff"/>
<stop offset="0.7292" stop-color="#9f66ff"/>
<stop offset="0.7500" stop-color="#b266ff"/>
<stop offset="0.7708" stop-color="#c666ff"/>
<stop offset="0.7917" stop-color="#d966ff"/>
<stop offset="0.8125" stop-color="#ec66ff"/>
<stop offset="0.8333" stop-color="#ff66ff"/>
<stop offset="0.8542" stop-color="#ff66ec"/>
<stop offset="0.8750" stop-color="#ff66d9"/>
<stop offset="0.8958" stop-color="#ff66c6"/>
<stop offset="0.9167" stop-color="#ff66b2"/>
<stop offset="0.9375" stop-color="#ff669f"/>
<stop offset="0.9583" stop-color="#ff668c"/>
<stop offset="0.9792" stop-color="#ff6679"/>
<stop offset="1.0000" stop-color="#ff6666"/>
</linearGradient>
<linearGradient id="gr" x1="0" y1="1" x2="0" y2="0">
<stop offset="0.0000" stop-color="#fff5f0"/>
<stop offset="0.0312" stop-color="#fff0e8"/>
<stop offset="0.0625" stop-color="#feeae1"/>
<stop offset="0.0938" stop-color="#fee5d9"/>
<stop offset="0.1250" stop-color="#fee0d2"/>
<stop offset="0.1562" stop-color="#fdd7c6"/>
<stop offset="0.1875" stop-color="#fdcdb9"/>
<stop offset="0.2188" stop-color="#fcc4ad"/>
<stop offset="0.2500" stop-color="#fcbba1"/>
<stop offset="0.2812" stop-color="#fcb095"/>
<stop offset="0.3125" stop-color="#fca689"/>
<stop offset="0.3438" stop-color="#fc9c7d"/>
<stop offset="0.3750" stop-color="#fc9272"/>
<stop offset="0.4062" stop-color="#fc8767"/>
<stop offset="0.4375" stop-color="#fb7d5d"/>
<stop offset="0.4688" stop-color="#fb7353"/>
<stop offset="0.5000" stop-color="#fb694a"/>
<stop offset="0.5312" stop-color="#f85d42"/>
<stop offset="0.5625" stop-color="#f5523a"/>
<stop offset="0.5938" stop-color="#f24633"/>
<stop offset="0.6250" stop-color="#ee3a2c"/>
<stop offset="0.6562" stop-color="#e53228"/>
<stop offset="0.6875" stop-color="#dc2924"/>
<stop offset="0.7188" stop-color="#d32020"/>
<stop offset="0.7500" stop-color="#ca181d"/>
<stop offset="0.7812" stop-color="#c1161b"/>
<stop offset="0.8125" stop-color="#b71319"/>
<stop offset="0.8438" stop-color="#ad1117"/>
<stop offset="0.8750" stop-color="#a30f15"/>
<stop offset="0.9062" stop-color="#940b13"/>
<stop offset="0.9375" stop-color="#840711"/>
<stop offset="0.9688" stop-color="#75030f"/>
<stop offset="1.0000" stop-color="#67000d"/>
</linearGradient></defs>
<rect x="2579" y="142" width="36" height="731" fill="url(#gh)" stroke="#3a3d52" stroke-width="2"/>
<path d="M2616 873.0H2625.3M2616 690.2H2625.3M2616 507.5H2625.3M2616 324.8H2625.3M2616 172.5H2625.3" stroke="#e0e4ec" stroke-width="2" fill="none"/>
<rect x="173" y="1114" width="2381" height="876" fill="#1a1d2e"/>
<clipPath id="c2"><rect x="173" y="1114" width="2381" height="876"/></clipPath>
<g clip-path="url(#c2)" shape-rendering="crispEdges" stroke="none">
<path fill="#fff0e9" d="M1023 1432h5v96h-5zM1042 1432h6v96h-6zM1101 1432h6v96h-6zM776 1188h5v96h-5z"/>
<path fill="#ffede5" d="M1127 1554h6v96h-6zM1108 1432h5v96h-5z"/>
<path fill="#ffebe2" d="M1029 1432h6v96h-6zM1049 1432h5v96h-5zM1088 1432h6v96h-6zM2539 1310h5v96h-5zM561 1188h6v96h-6zM574 1188h6v96h-6zM652 1188h6v96h-6z"/>
<path fill="#feeae0" d="M776 1310h5v96h-5zM1029 1310h6v96h-6zM1121 1310h5v96h-5zM1641 1310h5v96h-5zM2500 1310h5v96h-5zM2519 1310h6v96h-6zM600 1188h6v96h-6zM620 1188h5v96h-5z"/>
<path fill="#fee8dd" d="M854 1432h5v96h-5zM906 1432h5v96h-5zM1082 1432h5v96h-5zM815 1310h5v96h-5zM1114 1310h6v96h-6zM1160 1310h5v96h-5z"/>
<path fill="#fee6da" d="M808 1432h6v96h-6zM932 1432h5v96h-5zM1173 1432h5v96h-5zM1212 1432h5v96h-5zM1225 1432h5v96h-5zM1238 1432h5v96h-5zM1862 1432h6v96h-6zM737 1310h5v96h-5zM873 1310h6v96h-6zM1069 1310h5v96h-5zM1134 1310h5v96h-5zM1634 1310h6v96h-6zM2018 1310h6v96h-6zM594 1188h5v96h-5z"/>
<path fill="#fee5d8" d="M951 1432h6v96h-6zM1069 1432h5v96h-5zM1095 1432h5v96h-5zM1147 1432h5v96h-5zM1205 1432h6v96h-6zM1830 1432h5v96h-5zM555 1310h5v96h-5zM977 1310h6v96h-6zM984 1310h5v96h-5zM431 1188h5v96h-5zM763 1188h5v96h-5z"/>
<path fill="#fee3d6" d="M1055 1919h6v96h-6zM1758 1554h6v96h-6zM678 1432h6v96h-6zM1062 1432h6v96h-6zM1075 1432h6v96h-6zM1134 1432h5v96h-5zM236 1310h5v96h-5zM529 1310h5v96h-5zM711 1310h5v96h-5zM743 1310h6v96h-6zM828 1310h5v96h-5zM971 1310h5v96h-5zM1095 1310h5v96h-5zM1140 1310h6v96h-6zM1173 1310h5v96h-5zM646 1188h5v96h-5zM659 1188h5v96h-5zM769 1188h6v96h-6z"/>
<path fill="#fee1d4" d="M795 1432h6v96h-6zM1114 1432h6v96h-6zM1179 1432h6v96h-6zM1186 1432h5v96h-5zM1888 1432h6v96h-6zM561 1310h6v96h-6zM613 1310h6v96h-6zM698 1310h5v96h-5zM821 1310h6v96h-6zM847 1310h6v96h-6zM854 1310h5v96h-5zM932 1310h5v96h-5zM1075 1310h6v96h-6zM1199 1310h5v96h-5zM1218 1310h6v96h-6zM2012 1310h5v96h-5zM2461 1310h5v96h-5zM2506 1310h6v96h-6zM275 1188h5v96h-5zM281 1188h6v96h-6zM477 1188h5v96h-5zM548 1188h6v96h-6zM581 1188h5v96h-5zM607 1188h5v96h-5zM613 1188h6v96h-6z"/>
<path fill="#fedfd0" d="M958 1919h5v96h-5zM964 1919h6v96h-6zM971 1919h5v96h-5zM1010 1919h5v96h-5zM1029 1919h6v96h-6zM1049 1919h5v96h-5zM1368 1675h5v96h-5zM977 1554h6v96h-6zM1010 1554h5v96h-5zM782 1432h6v96h-6zM1121 1432h5v96h-5zM1199 1432h5v96h-5zM522 1310h6v96h-6zM548 1310h6v96h-6zM704 1310h6v96h-6zM724 1310h5v96h-5zM750 1310h5v96h-5zM769 1310h6v96h-6zM893 1310h5v96h-5zM919 1310h5v96h-5zM1010 1310h5v96h-5zM1101 1310h6v96h-6zM1108 1310h5v96h-5zM1127 1310h6v96h-6zM1147 1310h5v96h-5zM1647 1310h6v96h-6zM2513 1310h5v96h-5zM483 1188h6v96h-6zM535 1188h6v96h-6zM639 1188h6v96h-6z"/>
<path fill="#fedccd" d="M1082 1919h5v96h-5zM750 1432h5v96h-5zM821 1432h6v96h-6zM886 1432h6v96h-6zM893 1432h5v96h-5zM899 1432h6v96h-6zM925 1432h6v96h-6zM1036 1432h5v96h-5zM1055 1432h6v96h-6zM1153 1432h6v96h-6zM1192 1432h6v96h-6zM1218 1432h6v96h-6zM1296 1432h6v96h-6zM535 1310h6v96h-6zM730 1310h6v96h-6zM756 1310h6v96h-6zM1003 1310h6v96h-6zM1036 1310h5v96h-5zM1055 1310h6v96h-6zM1192 1310h6v96h-6zM2526 1310h5v96h-5zM210 1188h5v96h-5zM379 1188h5v96h-5zM398 1188h6v96h-6zM450 1188h6v96h-6zM509 1188h6v96h-6z"/>
<path fill="#fed9c9" d="M1361 1675h6v96h-6zM1042 1554h6v96h-6zM1140 1554h6v96h-6zM698 1432h5v96h-5zM789 1432h5v96h-5zM841 1432h5v96h-5zM873 1432h6v96h-6zM919 1432h5v96h-5zM945 1432h5v96h-5zM990 1432h6v96h-6zM1127 1432h6v96h-6zM1140 1432h6v96h-6zM587 1310h6v96h-6zM782 1310h6v96h-6zM899 1310h6v96h-6zM925 1310h6v96h-6zM945 1310h5v96h-5zM1042 1310h6v96h-6zM1049 1310h5v96h-5zM1179 1310h6v96h-6zM1231 1310h6v96h-6zM1543 1310h6v96h-6zM1654 1310h5v96h-5z"/>
<path fill="#fdd7c6" d="M951 1919h6v96h-6zM977 1919h6v96h-6zM990 1919h6v96h-6zM1023 1919h5v96h-5zM1108 1919h5v96h-5zM802 1675h5v96h-5zM1088 1675h6v96h-6zM997 1554h5v96h-5zM1003 1554h6v96h-6zM1108 1554h5v96h-5zM1121 1554h5v96h-5zM535 1432h6v96h-6zM737 1432h5v96h-5zM769 1432h6v96h-6zM847 1432h6v96h-6zM958 1432h5v96h-5zM1166 1432h6v96h-6zM906 1310h5v96h-5zM912 1310h6v96h-6zM938 1310h6v96h-6zM1016 1310h6v96h-6zM1166 1310h6v96h-6zM1186 1310h5v96h-5zM177 1188h6v96h-6zM392 1188h5v96h-5zM678 1188h6v96h-6z"/>
<path fill="#fdd3c1" d="M873 1919h6v96h-6zM1062 1919h6v96h-6zM1101 1919h6v96h-6zM782 1675h6v96h-6zM958 1554h5v96h-5zM1049 1554h5v96h-5zM516 1432h5v96h-5zM756 1432h6v96h-6zM776 1432h5v96h-5zM815 1432h5v96h-5zM828 1432h5v96h-5zM880 1432h5v96h-5zM1231 1432h6v96h-6zM1257 1432h6v96h-6zM1290 1432h5v96h-5zM1843 1432h5v96h-5zM1869 1432h5v96h-5zM2174 1432h6v96h-6zM516 1310h5v96h-5zM542 1310h5v96h-5zM581 1310h5v96h-5zM620 1310h5v96h-5zM717 1310h6v96h-6zM886 1310h6v96h-6zM997 1310h5v96h-5zM1023 1310h5v96h-5zM1082 1310h5v96h-5zM1088 1310h6v96h-6zM1153 1310h6v96h-6zM1251 1310h5v96h-5zM1660 1310h6v96h-6zM190 1188h6v96h-6zM411 1188h6v96h-6zM418 1188h5v96h-5zM424 1188h6v96h-6zM457 1188h5v96h-5zM522 1188h6v96h-6zM568 1188h5v96h-5zM587 1188h6v96h-6z"/>
<path fill="#fdd0bc" d="M561 1919h6v96h-6zM847 1919h6v96h-6zM906 1919h5v96h-5zM912 1919h6v96h-6zM1003 1919h6v96h-6zM1016 1919h6v96h-6zM1036 1919h5v96h-5zM1095 1919h5v96h-5zM1231 1919h6v96h-6zM1251 1919h5v96h-5zM1296 1919h6v96h-6zM529 1675h5v96h-5zM1075 1554h6v96h-6zM1765 1554h5v96h-5zM555 1432h5v96h-5zM743 1432h6v96h-6zM802 1432h5v96h-5zM834 1432h6v96h-6zM867 1432h5v96h-5zM912 1432h6v96h-6zM938 1432h6v96h-6zM997 1432h5v96h-5zM1836 1432h6v96h-6zM1856 1432h5v96h-5zM1875 1432h6v96h-6zM2181 1432h5v96h-5zM477 1310h5v96h-5zM594 1310h5v96h-5zM763 1310h5v96h-5zM808 1310h6v96h-6zM880 1310h5v96h-5zM951 1310h6v96h-6zM990 1310h6v96h-6zM1062 1310h6v96h-6zM1257 1310h6v96h-6zM1283 1310h6v96h-6zM1426 1310h6v96h-6zM1524 1310h5v96h-5zM2422 1310h5v96h-5zM184 1188h5v96h-5zM288 1188h5v96h-5zM385 1188h6v96h-6zM463 1188h6v96h-6zM470 1188h6v96h-6zM516 1188h5v96h-5zM542 1188h5v96h-5zM555 1188h5v96h-5zM626 1188h6v96h-6zM665 1188h6v96h-6zM672 1188h5v96h-5z"/>
<path fill="#fdcdb9" d="M867 1919h5v96h-5zM932 1919h5v96h-5zM984 1919h5v96h-5zM1075 1919h6v96h-6zM1225 1919h5v96h-5zM977 1797h6v96h-6zM808 1675h6v96h-6zM1166 1675h6v96h-6zM1179 1675h6v96h-6zM964 1554h6v96h-6zM1134 1554h5v96h-5zM1147 1554h5v96h-5zM672 1432h5v96h-5zM691 1432h6v96h-6zM717 1432h6v96h-6zM763 1432h5v96h-5zM984 1432h5v96h-5zM1160 1432h5v96h-5zM2168 1432h5v96h-5zM639 1310h6v96h-6zM795 1310h6v96h-6zM860 1310h6v96h-6zM958 1310h5v96h-5zM964 1310h6v96h-6zM1212 1310h5v96h-5zM1225 1310h5v96h-5zM1517 1310h6v96h-6zM242 1188h6v96h-6zM496 1188h6v96h-6zM503 1188h5v96h-5zM730 1188h6v96h-6z"/>
<path fill="#fdcab5" d="M568 1919h5v96h-5zM587 1919h6v96h-6zM711 1919h5v96h-5zM860 1919h6v96h-6zM997 1919h5v96h-5zM1042 1919h6v96h-6zM1069 1919h5v96h-5zM398 1675h6v96h-6zM568 1675h5v96h-5zM685 1675h5v96h-5zM756 1675h6v96h-6zM1355 1675h5v96h-5zM1036 1554h5v96h-5zM1062 1554h6v96h-6zM1095 1554h5v96h-5zM1329 1554h5v96h-5zM522 1432h6v96h-6zM977 1432h6v96h-6zM1882 1432h5v96h-5zM2194 1432h5v96h-5zM2207 1432h5v96h-5zM2545 1432h6v96h-6zM184 1310h5v96h-5zM463 1310h6v96h-6zM490 1310h5v96h-5zM568 1310h5v96h-5zM574 1310h6v96h-6zM646 1310h5v96h-5zM665 1310h6v96h-6zM691 1310h6v96h-6zM834 1310h6v96h-6zM1205 1310h6v96h-6zM1504 1310h6v96h-6zM1511 1310h5v96h-5zM1953 1310h6v96h-6zM197 1188h5v96h-5zM203 1188h6v96h-6zM301 1188h5v96h-5zM353 1188h5v96h-5zM359 1188h6v96h-6zM366 1188h5v96h-5zM437 1188h6v96h-6zM743 1188h6v96h-6z"/>
<path fill="#fdc7b2" d="M574 1919h6v96h-6zM756 1919h6v96h-6zM769 1919h6v96h-6zM1238 1919h5v96h-5zM1244 1919h6v96h-6zM1309 1919h6v96h-6zM1342 1919h5v96h-5zM990 1797h6v96h-6zM516 1675h5v96h-5zM600 1675h6v96h-6zM815 1675h5v96h-5zM1160 1675h5v96h-5zM971 1554h5v96h-5zM1023 1554h5v96h-5zM1270 1554h6v96h-6zM1778 1554h5v96h-5zM685 1432h5v96h-5zM711 1432h5v96h-5zM860 1432h6v96h-6zM971 1432h5v96h-5zM1244 1432h6v96h-6zM1283 1432h6v96h-6zM503 1310h5v96h-5zM600 1310h6v96h-6zM626 1310h6v96h-6zM841 1310h5v96h-5zM1296 1310h6v96h-6zM1381 1310h5v96h-5zM1400 1310h6v96h-6zM1530 1310h6v96h-6zM1537 1310h5v96h-5zM1966 1310h6v96h-6zM2415 1310h6v96h-6zM2428 1310h6v96h-6zM2480 1310h6v96h-6zM2532 1310h6v96h-6zM216 1188h6v96h-6zM262 1188h5v96h-5zM268 1188h6v96h-6zM340 1188h5v96h-5zM490 1188h5v96h-5zM529 1188h5v96h-5zM691 1188h6v96h-6z"/>
<path fill="#fcc4ad" d="M555 1919h5v96h-5zM581 1919h5v96h-5zM763 1919h5v96h-5zM899 1919h6v96h-6zM945 1919h5v96h-5zM1088 1919h6v96h-6zM1212 1919h5v96h-5zM1277 1919h5v96h-5zM1283 1919h6v96h-6zM1322 1919h6v96h-6zM1153 1797h6v96h-6zM1231 1797h6v96h-6zM594 1675h5v96h-5zM743 1675h6v96h-6zM1016 1675h6v96h-6zM1062 1675h6v96h-6zM1173 1675h5v96h-5zM1186 1675h5v96h-5zM1029 1554h6v96h-6zM1153 1554h6v96h-6zM1238 1554h5v96h-5zM724 1432h5v96h-5zM964 1432h6v96h-6zM1303 1432h5v96h-5zM1940 1432h6v96h-6zM2148 1432h6v96h-6zM483 1310h6v96h-6zM789 1310h5v96h-5zM802 1310h5v96h-5zM867 1310h5v96h-5zM1244 1310h6v96h-6zM1335 1310h6v96h-6zM1368 1310h5v96h-5zM1374 1310h6v96h-6zM1830 1310h5v96h-5zM1992 1310h6v96h-6zM2474 1310h5v96h-5zM223 1188h5v96h-5zM229 1188h6v96h-6zM327 1188h5v96h-5zM372 1188h6v96h-6zM405 1188h5v96h-5zM633 1188h5v96h-5z"/>
<path fill="#fcc2aa" d="M717 1919h6v96h-6zM886 1919h6v96h-6zM1127 1919h6v96h-6zM1134 1919h5v96h-5zM1257 1919h6v96h-6zM1582 1919h6v96h-6zM997 1797h5v96h-5zM1095 1797h5v96h-5zM1160 1797h5v96h-5zM1173 1797h5v96h-5zM1608 1797h6v96h-6zM392 1675h5v96h-5zM450 1675h6v96h-6zM763 1675h5v96h-5zM984 1675h5v96h-5zM1023 1675h5v96h-5zM1127 1675h6v96h-6zM1147 1675h5v96h-5zM1016 1554h6v96h-6zM1069 1554h5v96h-5zM1101 1554h6v96h-6zM1114 1554h6v96h-6zM1160 1554h5v96h-5zM1212 1554h5v96h-5zM1225 1554h5v96h-5zM1283 1554h6v96h-6zM1290 1554h5v96h-5zM1322 1554h6v96h-6zM1335 1554h6v96h-6zM2266 1554h5v96h-5zM659 1432h5v96h-5zM1016 1432h6v96h-6zM2415 1432h6v96h-6zM457 1310h5v96h-5zM496 1310h6v96h-6zM633 1310h5v96h-5zM659 1310h5v96h-5zM685 1310h5v96h-5zM1238 1310h5v96h-5zM1303 1310h5v96h-5zM1550 1310h5v96h-5zM1576 1310h5v96h-5zM1823 1310h6v96h-6zM1836 1310h6v96h-6zM1986 1310h5v96h-5zM2441 1310h6v96h-6zM2454 1310h6v96h-6zM2467 1310h6v96h-6zM249 1188h5v96h-5z"/>
<path fill="#fcbea5" d="M327 1919h5v96h-5zM730 1919h6v96h-6zM828 1919h5v96h-5zM834 1919h6v96h-6zM1270 1919h6v96h-6zM1303 1919h5v96h-5zM1335 1919h6v96h-6zM1348 1919h6v96h-6zM1355 1919h5v96h-5zM1426 1919h6v96h-6zM268 1797h6v96h-6zM1055 1797h6v96h-6zM1166 1797h6v96h-6zM242 1675h6v96h-6zM444 1675h5v96h-5zM535 1675h6v96h-6zM555 1675h5v96h-5zM587 1675h6v96h-6zM717 1675h6v96h-6zM769 1675h6v96h-6zM776 1675h5v96h-5zM958 1675h5v96h-5zM1108 1675h5v96h-5zM1199 1675h5v96h-5zM1205 1675h6v96h-6zM1055 1554h6v96h-6zM1010 1432h5v96h-5zM1251 1432h5v96h-5zM1914 1432h6v96h-6zM2122 1432h6v96h-6zM2155 1432h5v96h-5zM2161 1432h6v96h-6zM1387 1310h6v96h-6zM1439 1310h6v96h-6zM1784 1310h6v96h-6zM2350 1310h6v96h-6zM2435 1310h5v96h-5zM2493 1310h6v96h-6zM320 1188h6v96h-6zM346 1188h6v96h-6zM444 1188h5v96h-5zM698 1188h5v96h-5zM724 1188h5v96h-5z"/>
<path fill="#fcbba1" d="M288 1919h5v96h-5zM535 1919h6v96h-6zM542 1919h5v96h-5zM776 1919h5v96h-5zM1218 1919h6v96h-6zM1264 1919h5v96h-5zM1316 1919h5v96h-5zM1400 1919h6v96h-6zM1407 1919h5v96h-5zM1563 1919h5v96h-5zM1595 1919h6v96h-6zM1140 1797h6v96h-6zM1238 1797h5v96h-5zM1342 1797h5v96h-5zM353 1675h5v96h-5zM385 1675h6v96h-6zM457 1675h5v96h-5zM463 1675h6v96h-6zM470 1675h6v96h-6zM483 1675h6v96h-6zM711 1675h5v96h-5zM795 1675h6v96h-6zM1153 1675h6v96h-6zM1869 1675h5v96h-5zM984 1554h5v96h-5zM1231 1554h6v96h-6zM1244 1554h6v96h-6zM1264 1554h5v96h-5zM1394 1554h5v96h-5zM548 1432h6v96h-6zM704 1432h6v96h-6zM1329 1432h5v96h-5zM1335 1432h6v96h-6zM1849 1432h6v96h-6zM1947 1432h5v96h-5zM2129 1432h5v96h-5zM2135 1432h6v96h-6zM2187 1432h6v96h-6zM1270 1310h6v96h-6zM1277 1310h5v96h-5zM1290 1310h5v96h-5zM1608 1310h6v96h-6zM1797 1310h6v96h-6zM1817 1310h5v96h-5zM1843 1310h5v96h-5zM1973 1310h5v96h-5zM1979 1310h6v96h-6zM1999 1310h5v96h-5zM2448 1310h5v96h-5zM255 1188h6v96h-6zM704 1188h6v96h-6z"/>
<path fill="#fcb89e" d="M411 1919h6v96h-6zM529 1919h5v96h-5zM548 1919h6v96h-6zM821 1919h6v96h-6zM1140 1919h6v96h-6zM1290 1919h5v96h-5zM1569 1919h6v96h-6zM1576 1919h5v96h-5zM314 1797h5v96h-5zM535 1797h6v96h-6zM587 1797h6v96h-6zM945 1797h5v96h-5zM1069 1797h5v96h-5zM1108 1797h5v96h-5zM437 1675h6v96h-6zM509 1675h6v96h-6zM977 1675h6v96h-6zM1010 1675h5v96h-5zM1101 1675h6v96h-6zM1140 1675h6v96h-6zM1374 1675h6v96h-6zM2500 1675h5v96h-5zM815 1554h5v96h-5zM1218 1554h6v96h-6zM1309 1554h6v96h-6zM1771 1554h6v96h-6zM2272 1554h6v96h-6zM2279 1554h5v96h-5zM477 1432h5v96h-5zM529 1432h5v96h-5zM594 1432h5v96h-5zM665 1432h6v96h-6zM730 1432h6v96h-6zM1264 1432h5v96h-5zM1277 1432h5v96h-5zM1921 1432h5v96h-5zM2142 1432h5v96h-5zM2239 1432h6v96h-6zM2552 1432h5v96h-5zM203 1310h6v96h-6zM470 1310h6v96h-6zM607 1310h5v96h-5zM678 1310h6v96h-6zM1264 1310h5v96h-5zM1413 1310h6v96h-6zM1452 1310h6v96h-6zM1810 1310h6v96h-6zM2103 1310h5v96h-5zM236 1188h5v96h-5z"/>
<path fill="#fcb499" d="M431 1919h5v96h-5zM509 1919h6v96h-6zM522 1919h6v96h-6zM802 1919h5v96h-5zM841 1919h5v96h-5zM880 1919h5v96h-5zM925 1919h6v96h-6zM1114 1919h6v96h-6zM1602 1919h5v96h-5zM236 1797h5v96h-5zM815 1797h5v96h-5zM834 1797h6v96h-6zM899 1797h6v96h-6zM1179 1797h6v96h-6zM1218 1797h6v96h-6zM177 1675h6v96h-6zM190 1675h6v96h-6zM197 1675h5v96h-5zM229 1675h6v96h-6zM255 1675h6v96h-6zM431 1675h5v96h-5zM542 1675h5v96h-5zM548 1675h6v96h-6zM574 1675h6v96h-6zM678 1675h6v96h-6zM789 1675h5v96h-5zM971 1675h5v96h-5zM1069 1675h5v96h-5zM1114 1675h6v96h-6zM1244 1675h6v96h-6zM1082 1554h5v96h-5zM542 1432h5v96h-5zM620 1432h5v96h-5zM646 1432h5v96h-5zM1003 1432h6v96h-6zM1270 1432h6v96h-6zM1895 1432h5v96h-5zM652 1310h6v96h-6zM672 1310h5v96h-5zM1309 1310h6v96h-6zM1329 1310h5v96h-5zM1582 1310h6v96h-6zM1595 1310h6v96h-6zM1960 1310h5v96h-5zM2005 1310h6v96h-6zM2389 1310h6v96h-6zM711 1188h5v96h-5zM737 1188h5v96h-5z"/>
<path fill="#fcb296" d="M314 1919h5v96h-5zM359 1919h6v96h-6zM398 1919h6v96h-6zM854 1919h5v96h-5zM893 1919h5v96h-5zM1153 1919h6v96h-6zM301 1797h5v96h-5zM470 1797h6v96h-6zM594 1797h5v96h-5zM724 1797h5v96h-5zM743 1797h6v96h-6zM1147 1797h5v96h-5zM1192 1797h6v96h-6zM1212 1797h5v96h-5zM2402 1797h6v96h-6zM2435 1797h5v96h-5zM2454 1797h6v96h-6zM333 1675h6v96h-6zM418 1675h5v96h-5zM496 1675h6v96h-6zM522 1675h6v96h-6zM912 1675h6v96h-6zM951 1675h6v96h-6zM997 1675h5v96h-5zM1003 1675h6v96h-6zM1121 1675h5v96h-5zM1856 1675h5v96h-5zM756 1554h6v96h-6zM834 1554h6v96h-6zM990 1554h6v96h-6zM1257 1554h6v96h-6zM1316 1554h5v96h-5zM613 1432h6v96h-6zM626 1432h6v96h-6zM1660 1432h6v96h-6zM1927 1432h6v96h-6zM2083 1432h6v96h-6zM2200 1432h6v96h-6zM2226 1432h6v96h-6zM2259 1432h6v96h-6zM2272 1432h6v96h-6zM190 1310h6v96h-6zM210 1310h5v96h-5zM216 1310h6v96h-6zM444 1310h5v96h-5zM450 1310h6v96h-6zM509 1310h6v96h-6zM1316 1310h5v96h-5zM1407 1310h5v96h-5zM1446 1310h5v96h-5zM1478 1310h6v96h-6zM1602 1310h5v96h-5zM1888 1310h6v96h-6zM1895 1310h5v96h-5zM1901 1310h6v96h-6zM1908 1310h5v96h-5zM1940 1310h6v96h-6zM2025 1310h5v96h-5zM2207 1310h5v96h-5zM2487 1310h5v96h-5zM294 1188h6v96h-6zM314 1188h5v96h-5z"/>
<path fill="#fcae92" d="M242 1919h6v96h-6zM255 1919h6v96h-6zM262 1919h5v96h-5zM516 1919h5v96h-5zM724 1919h5v96h-5zM750 1919h5v96h-5zM815 1919h5v96h-5zM919 1919h5v96h-5zM1173 1919h5v96h-5zM1329 1919h5v96h-5zM1381 1919h5v96h-5zM1433 1919h5v96h-5zM1615 1919h5v96h-5zM1628 1919h5v96h-5zM275 1797h5v96h-5zM457 1797h5v96h-5zM490 1797h5v96h-5zM574 1797h6v96h-6zM906 1797h5v96h-5zM919 1797h5v96h-5zM984 1797h5v96h-5zM1023 1797h5v96h-5zM1029 1797h6v96h-6zM1042 1797h6v96h-6zM1075 1797h6v96h-6zM1121 1797h5v96h-5zM1127 1797h6v96h-6zM1186 1797h5v96h-5zM1199 1797h5v96h-5zM1225 1797h5v96h-5zM2350 1797h6v96h-6zM2357 1797h5v96h-5zM320 1675h6v96h-6zM346 1675h6v96h-6zM424 1675h6v96h-6zM652 1675h6v96h-6zM691 1675h6v96h-6zM737 1675h5v96h-5zM964 1675h6v96h-6zM990 1675h6v96h-6zM1029 1675h6v96h-6zM1055 1675h6v96h-6zM1095 1675h5v96h-5zM1134 1675h5v96h-5zM1218 1675h6v96h-6zM1238 1675h5v96h-5zM1251 1675h5v96h-5zM821 1554h6v96h-6zM847 1554h6v96h-6zM854 1554h5v96h-5zM873 1554h6v96h-6zM938 1554h6v96h-6zM1277 1554h5v96h-5zM1296 1554h6v96h-6zM568 1432h5v96h-5zM587 1432h6v96h-6zM1316 1432h5v96h-5zM1322 1432h6v96h-6zM1934 1432h5v96h-5zM223 1310h5v96h-5zM1361 1310h6v96h-6zM1791 1310h5v96h-5zM1875 1310h6v96h-6zM1914 1310h6v96h-6zM2077 1310h5v96h-5zM2109 1310h6v96h-6zM2376 1310h6v96h-6zM685 1188h5v96h-5zM717 1188h6v96h-6z"/>
<path fill="#fcab8f" d="M704 1919h6v96h-6zM782 1919h6v96h-6zM1121 1919h5v96h-5zM1186 1919h5v96h-5zM1394 1919h5v96h-5zM1413 1919h6v96h-6zM1589 1919h5v96h-5zM1862 1919h6v96h-6zM262 1797h5v96h-5zM320 1797h6v96h-6zM463 1797h6v96h-6zM568 1797h5v96h-5zM633 1797h5v96h-5zM711 1797h5v96h-5zM730 1797h6v96h-6zM808 1797h6v96h-6zM938 1797h6v96h-6zM1010 1797h5v96h-5zM1732 1797h6v96h-6zM2181 1797h5v96h-5zM2376 1797h6v96h-6zM236 1675h5v96h-5zM249 1675h5v96h-5zM268 1675h6v96h-6zM314 1675h5v96h-5zM405 1675h5v96h-5zM411 1675h6v96h-6zM581 1675h5v96h-5zM613 1675h6v96h-6zM672 1675h5v96h-5zM834 1675h6v96h-6zM860 1675h6v96h-6zM899 1675h6v96h-6zM1036 1675h5v96h-5zM1082 1675h5v96h-5zM1225 1675h5v96h-5zM1407 1675h5v96h-5zM1862 1675h6v96h-6zM2513 1675h5v96h-5zM2519 1675h6v96h-6zM841 1554h5v96h-5zM906 1554h5v96h-5zM932 1554h5v96h-5zM945 1554h5v96h-5zM1179 1554h6v96h-6zM1303 1554h5v96h-5zM1355 1554h5v96h-5zM1361 1554h6v96h-6zM561 1432h6v96h-6zM1309 1432h6v96h-6zM1348 1432h6v96h-6zM1687 1432h5v96h-5zM1778 1432h5v96h-5zM1901 1432h6v96h-6zM2213 1432h6v96h-6zM2220 1432h5v96h-5zM2279 1432h5v96h-5zM2474 1432h5v96h-5zM2539 1432h5v96h-5zM177 1310h6v96h-6zM379 1310h5v96h-5zM1342 1310h5v96h-5zM1472 1310h5v96h-5zM1491 1310h6v96h-6zM1628 1310h5v96h-5zM1778 1310h5v96h-5zM1947 1310h5v96h-5zM2096 1310h6v96h-6zM2122 1310h6v96h-6z"/>
<path fill="#fca78b" d="M301 1919h5v96h-5zM346 1919h6v96h-6zM353 1919h5v96h-5zM379 1919h5v96h-5zM405 1919h5v96h-5zM418 1919h5v96h-5zM424 1919h6v96h-6zM444 1919h5v96h-5zM600 1919h6v96h-6zM698 1919h5v96h-5zM737 1919h5v96h-5zM743 1919h6v96h-6zM789 1919h5v96h-5zM938 1919h6v96h-6zM1361 1919h6v96h-6zM1491 1919h6v96h-6zM1556 1919h6v96h-6zM1621 1919h6v96h-6zM190 1797h6v96h-6zM216 1797h6v96h-6zM385 1797h6v96h-6zM431 1797h5v96h-5zM444 1797h5v96h-5zM529 1797h5v96h-5zM542 1797h5v96h-5zM561 1797h6v96h-6zM600 1797h6v96h-6zM620 1797h5v96h-5zM698 1797h5v96h-5zM821 1797h6v96h-6zM854 1797h5v96h-5zM880 1797h5v96h-5zM886 1797h6v96h-6zM912 1797h6v96h-6zM932 1797h5v96h-5zM971 1797h5v96h-5zM1062 1797h6v96h-6zM1335 1797h6v96h-6zM1465 1797h6v96h-6zM2148 1797h6v96h-6zM216 1675h6v96h-6zM262 1675h5v96h-5zM359 1675h6v96h-6zM372 1675h6v96h-6zM379 1675h5v96h-5zM477 1675h5v96h-5zM490 1675h5v96h-5zM607 1675h5v96h-5zM633 1675h5v96h-5zM659 1675h5v96h-5zM724 1675h5v96h-5zM841 1675h5v96h-5zM932 1675h5v96h-5zM1042 1675h6v96h-6zM1192 1675h6v96h-6zM1270 1675h6v96h-6zM1849 1675h6v96h-6zM2545 1675h6v96h-6zM828 1554h5v96h-5zM886 1554h6v96h-6zM893 1554h5v96h-5zM925 1554h6v96h-6zM951 1554h6v96h-6zM1088 1554h6v96h-6zM1387 1554h6v96h-6zM1400 1554h6v96h-6zM574 1432h6v96h-6zM1342 1432h5v96h-5zM1628 1432h5v96h-5zM1700 1432h5v96h-5zM1713 1432h5v96h-5zM1908 1432h5v96h-5zM2070 1432h6v96h-6zM2096 1432h6v96h-6zM2233 1432h5v96h-5zM2454 1432h6v96h-6zM2487 1432h5v96h-5zM2493 1432h6v96h-6zM385 1310h6v96h-6zM1355 1310h5v96h-5zM1465 1310h6v96h-6zM1569 1310h6v96h-6zM1589 1310h5v96h-5zM2070 1310h6v96h-6zM2090 1310h5v96h-5zM2129 1310h5v96h-5zM2545 1310h6v96h-6zM756 1188h6v96h-6z"/>
<path fill="#fca588" d="M210 1919h5v96h-5zM249 1919h5v96h-5zM294 1919h6v96h-6zM307 1919h6v96h-6zM340 1919h5v96h-5zM385 1919h6v96h-6zM477 1919h5v96h-5zM503 1919h5v96h-5zM594 1919h5v96h-5zM1608 1919h6v96h-6zM255 1797h6v96h-6zM327 1797h5v96h-5zM366 1797h5v96h-5zM424 1797h6v96h-6zM477 1797h5v96h-5zM496 1797h6v96h-6zM516 1797h5v96h-5zM522 1797h6v96h-6zM678 1797h6v96h-6zM737 1797h5v96h-5zM750 1797h5v96h-5zM756 1797h6v96h-6zM763 1797h5v96h-5zM1134 1797h5v96h-5zM1290 1797h5v96h-5zM1348 1797h6v96h-6zM1459 1797h5v96h-5zM1595 1797h6v96h-6zM1634 1797h6v96h-6zM1862 1797h6v96h-6zM2155 1797h5v96h-5zM2161 1797h6v96h-6zM2194 1797h5v96h-5zM2311 1797h6v96h-6zM2318 1797h5v96h-5zM2415 1797h6v96h-6zM2532 1797h6v96h-6zM210 1675h5v96h-5zM223 1675h5v96h-5zM281 1675h6v96h-6zM503 1675h5v96h-5zM821 1675h6v96h-6zM828 1675h5v96h-5zM867 1675h5v96h-5zM886 1675h6v96h-6zM906 1675h5v96h-5zM945 1675h5v96h-5zM1257 1675h6v96h-6zM763 1554h5v96h-5zM769 1554h6v96h-6zM789 1554h5v96h-5zM1368 1554h5v96h-5zM1374 1554h6v96h-6zM431 1432h5v96h-5zM444 1432h5v96h-5zM503 1432h5v96h-5zM581 1432h5v96h-5zM600 1432h6v96h-6zM1582 1432h6v96h-6zM1647 1432h6v96h-6zM1654 1432h5v96h-5zM1752 1432h5v96h-5zM2252 1432h6v96h-6zM2292 1432h5v96h-5zM2331 1432h5v96h-5zM197 1310h5v96h-5zM372 1310h6v96h-6zM1322 1310h6v96h-6zM1420 1310h5v96h-5zM1459 1310h5v96h-5zM1498 1310h5v96h-5zM1719 1310h6v96h-6zM1804 1310h5v96h-5zM1882 1310h5v96h-5zM1927 1310h6v96h-6zM2200 1310h6v96h-6zM307 1188h6v96h-6zM750 1188h5v96h-5z"/>
<path fill="#fca183" d="M177 1919h6v96h-6zM190 1919h6v96h-6zM203 1919h6v96h-6zM229 1919h6v96h-6zM268 1919h6v96h-6zM281 1919h6v96h-6zM333 1919h6v96h-6zM457 1919h5v96h-5zM483 1919h6v96h-6zM490 1919h5v96h-5zM1147 1919h5v96h-5zM1179 1919h6v96h-6zM1205 1919h6v96h-6zM2402 1919h6v96h-6zM210 1797h5v96h-5zM223 1797h5v96h-5zM229 1797h6v96h-6zM249 1797h5v96h-5zM405 1797h5v96h-5zM450 1797h6v96h-6zM607 1797h5v96h-5zM639 1797h6v96h-6zM704 1797h6v96h-6zM841 1797h5v96h-5zM893 1797h5v96h-5zM951 1797h6v96h-6zM958 1797h5v96h-5zM1016 1797h6v96h-6zM1101 1797h6v96h-6zM1368 1797h5v96h-5zM1374 1797h6v96h-6zM1400 1797h6v96h-6zM1797 1797h6v96h-6zM1940 1797h6v96h-6zM1960 1797h5v96h-5zM2142 1797h5v96h-5zM2233 1797h5v96h-5zM2239 1797h6v96h-6zM2363 1797h6v96h-6zM2441 1797h6v96h-6zM2448 1797h5v96h-5zM2467 1797h6v96h-6zM2526 1797h5v96h-5zM2545 1797h6v96h-6zM203 1675h6v96h-6zM288 1675h5v96h-5zM561 1675h6v96h-6zM893 1675h5v96h-5zM925 1675h6v96h-6zM938 1675h6v96h-6zM1075 1675h6v96h-6zM1400 1675h6v96h-6zM795 1554h6v96h-6zM860 1554h6v96h-6zM912 1554h6v96h-6zM1251 1554h5v96h-5zM1348 1554h6v96h-6zM437 1432h6v96h-6zM496 1432h6v96h-6zM652 1432h6v96h-6zM1368 1432h5v96h-5zM1478 1432h6v96h-6zM1589 1432h5v96h-5zM1739 1432h5v96h-5zM1765 1432h5v96h-5zM2038 1432h5v96h-5zM2103 1432h5v96h-5zM2480 1432h6v96h-6zM2526 1432h5v96h-5zM281 1310h6v96h-6zM359 1310h6v96h-6zM1394 1310h5v96h-5zM1485 1310h5v96h-5zM1921 1310h5v96h-5zM1934 1310h5v96h-5zM2051 1310h5v96h-5zM2305 1310h5v96h-5zM2357 1310h5v96h-5zM2383 1310h5v96h-5zM2409 1310h5v96h-5zM333 1188h6v96h-6z"/>
<path fill="#fc9d7f" d="M808 1919h6v96h-6zM1166 1919h6v96h-6zM1498 1919h5v96h-5zM1511 1919h5v96h-5zM242 1797h6v96h-6zM281 1797h6v96h-6zM340 1797h5v96h-5zM346 1797h6v96h-6zM353 1797h5v96h-5zM359 1797h6v96h-6zM411 1797h6v96h-6zM437 1797h6v96h-6zM626 1797h6v96h-6zM802 1797h5v96h-5zM847 1797h6v96h-6zM1003 1797h6v96h-6zM1049 1797h5v96h-5zM1088 1797h6v96h-6zM1205 1797h6v96h-6zM1303 1797h5v96h-5zM1420 1797h5v96h-5zM1563 1797h5v96h-5zM1615 1797h5v96h-5zM1693 1797h6v96h-6zM1719 1797h6v96h-6zM1739 1797h5v96h-5zM1791 1797h5v96h-5zM1849 1797h6v96h-6zM2187 1797h6v96h-6zM2279 1797h5v96h-5zM2370 1797h5v96h-5zM2513 1797h5v96h-5zM301 1675h5v96h-5zM646 1675h5v96h-5zM730 1675h6v96h-6zM1049 1675h5v96h-5zM1212 1675h5v96h-5zM1381 1675h5v96h-5zM1413 1675h6v96h-6zM2539 1675h5v96h-5zM678 1554h6v96h-6zM685 1554h5v96h-5zM802 1554h5v96h-5zM808 1554h6v96h-6zM867 1554h5v96h-5zM1166 1554h6v96h-6zM210 1432h5v96h-5zM398 1432h6v96h-6zM607 1432h5v96h-5zM1615 1432h5v96h-5zM1986 1432h5v96h-5zM2044 1432h6v96h-6zM2057 1432h6v96h-6zM2266 1432h5v96h-5zM2461 1432h5v96h-5zM2532 1432h6v96h-6zM229 1310h6v96h-6zM1433 1310h5v96h-5zM1680 1310h6v96h-6zM2064 1310h5v96h-5zM2083 1310h6v96h-6zM2161 1310h6v96h-6zM2279 1310h5v96h-5z"/>
<path fill="#fc9b7c" d="M392 1919h5v96h-5zM463 1919h6v96h-6zM496 1919h6v96h-6zM626 1919h6v96h-6zM1192 1919h6v96h-6zM1199 1919h5v96h-5zM1368 1919h5v96h-5zM1374 1919h6v96h-6zM1387 1919h6v96h-6zM1452 1919h6v96h-6zM1908 1919h5v96h-5zM2292 1919h5v96h-5zM2383 1919h5v96h-5zM197 1797h5v96h-5zM398 1797h6v96h-6zM646 1797h5v96h-5zM717 1797h6v96h-6zM789 1797h5v96h-5zM795 1797h6v96h-6zM828 1797h5v96h-5zM925 1797h6v96h-6zM1407 1797h5v96h-5zM1446 1797h5v96h-5zM1478 1797h6v96h-6zM1556 1797h6v96h-6zM1680 1797h6v96h-6zM1687 1797h5v96h-5zM2331 1797h5v96h-5zM2344 1797h5v96h-5zM2383 1797h5v96h-5zM366 1675h5v96h-5zM639 1675h6v96h-6zM847 1675h6v96h-6zM919 1675h5v96h-5zM1264 1675h5v96h-5zM1947 1675h5v96h-5zM2526 1675h5v96h-5zM711 1554h5v96h-5zM782 1554h6v96h-6zM919 1554h5v96h-5zM1192 1554h6v96h-6zM1713 1554h5v96h-5zM1732 1554h6v96h-6zM405 1432h5v96h-5zM1595 1432h6v96h-6zM1641 1432h5v96h-5zM1719 1432h6v96h-6zM1758 1432h6v96h-6zM1771 1432h6v96h-6zM1817 1432h5v96h-5zM1953 1432h6v96h-6zM2051 1432h5v96h-5zM2090 1432h5v96h-5zM2350 1432h6v96h-6zM2389 1432h6v96h-6zM2409 1432h5v96h-5zM2422 1432h5v96h-5zM327 1310h5v96h-5zM392 1310h5v96h-5zM405 1310h5v96h-5zM1615 1310h5v96h-5zM2038 1310h5v96h-5zM2194 1310h5v96h-5zM2220 1310h5v96h-5zM2226 1310h6v96h-6zM2331 1310h5v96h-5zM2370 1310h5v96h-5z"/>
<path fill="#fc9777" d="M216 1919h6v96h-6zM320 1919h6v96h-6zM437 1919h6v96h-6zM639 1919h6v96h-6zM795 1919h6v96h-6zM1420 1919h5v96h-5zM1439 1919h6v96h-6zM1446 1919h5v96h-5zM1960 1919h5v96h-5zM1966 1919h6v96h-6zM2305 1919h5v96h-5zM2337 1919h6v96h-6zM2409 1919h5v96h-5zM372 1797h6v96h-6zM379 1797h5v96h-5zM483 1797h6v96h-6zM555 1797h5v96h-5zM659 1797h5v96h-5zM672 1797h5v96h-5zM685 1797h5v96h-5zM769 1797h6v96h-6zM776 1797h5v96h-5zM782 1797h6v96h-6zM860 1797h6v96h-6zM1036 1797h5v96h-5zM1264 1797h5v96h-5zM1316 1797h5v96h-5zM1329 1797h5v96h-5zM1602 1797h5v96h-5zM1621 1797h6v96h-6zM1706 1797h6v96h-6zM1778 1797h5v96h-5zM1804 1797h5v96h-5zM1823 1797h6v96h-6zM1908 1797h5v96h-5zM1973 1797h5v96h-5zM1999 1797h5v96h-5zM2096 1797h6v96h-6zM2122 1797h6v96h-6zM2213 1797h6v96h-6zM2272 1797h6v96h-6zM2409 1797h5v96h-5zM2487 1797h5v96h-5zM2539 1797h5v96h-5zM294 1675h6v96h-6zM307 1675h6v96h-6zM327 1675h5v96h-5zM340 1675h5v96h-5zM626 1675h6v96h-6zM698 1675h5v96h-5zM1231 1675h6v96h-6zM1329 1675h5v96h-5zM1387 1675h6v96h-6zM229 1554h6v96h-6zM353 1554h5v96h-5zM880 1554h5v96h-5zM1173 1554h5v96h-5zM463 1432h6v96h-6zM633 1432h5v96h-5zM639 1432h6v96h-6zM1361 1432h6v96h-6zM1576 1432h5v96h-5zM1745 1432h6v96h-6zM1979 1432h6v96h-6zM2116 1432h5v96h-5zM2246 1432h5v96h-5zM2428 1432h6v96h-6zM2467 1432h6v96h-6zM2519 1432h6v96h-6zM301 1310h5v96h-5zM1556 1310h6v96h-6zM1563 1310h5v96h-5zM1693 1310h6v96h-6zM1869 1310h5v96h-5zM2057 1310h6v96h-6zM2135 1310h6v96h-6z"/>
<path fill="#fc9474" d="M197 1919h5v96h-5zM223 1919h5v96h-5zM236 1919h5v96h-5zM366 1919h5v96h-5zM470 1919h6v96h-6zM1459 1919h5v96h-5zM1465 1919h6v96h-6zM1791 1919h5v96h-5zM1856 1919h5v96h-5zM1986 1919h5v96h-5zM1999 1919h5v96h-5zM2266 1919h5v96h-5zM2519 1919h6v96h-6zM184 1797h5v96h-5zM333 1797h6v96h-6zM392 1797h5v96h-5zM509 1797h6v96h-6zM581 1797h5v96h-5zM652 1797h6v96h-6zM964 1797h6v96h-6zM1114 1797h6v96h-6zM1322 1797h6v96h-6zM1381 1797h5v96h-5zM1472 1797h5v96h-5zM1550 1797h5v96h-5zM1628 1797h5v96h-5zM1758 1797h6v96h-6zM1817 1797h5v96h-5zM1830 1797h5v96h-5zM1843 1797h5v96h-5zM1875 1797h6v96h-6zM2103 1797h5v96h-5zM2168 1797h5v96h-5zM2200 1797h6v96h-6zM2252 1797h6v96h-6zM2285 1797h6v96h-6zM2292 1797h5v96h-5zM2298 1797h6v96h-6zM2324 1797h6v96h-6zM2480 1797h6v96h-6zM184 1675h5v96h-5zM750 1675h5v96h-5zM873 1675h6v96h-6zM1342 1675h5v96h-5zM1940 1675h6v96h-6zM216 1554h6v96h-6zM268 1554h6v96h-6zM516 1554h5v96h-5zM743 1554h6v96h-6zM776 1554h5v96h-5zM184 1432h5v96h-5zM385 1432h6v96h-6zM411 1432h6v96h-6zM418 1432h5v96h-5zM424 1432h6v96h-6zM457 1432h5v96h-5zM1485 1432h5v96h-5zM1634 1432h6v96h-6zM1667 1432h6v96h-6zM1674 1432h5v96h-5zM2031 1432h6v96h-6zM2318 1432h5v96h-5zM2396 1432h5v96h-5zM2513 1432h5v96h-5zM242 1310h6v96h-6zM275 1310h5v96h-5zM288 1310h5v96h-5zM294 1310h6v96h-6zM320 1310h6v96h-6zM353 1310h5v96h-5zM418 1310h5v96h-5zM1348 1310h6v96h-6zM1621 1310h6v96h-6zM2031 1310h6v96h-6zM2187 1310h6v96h-6zM2266 1310h5v96h-5z"/>
<path fill="#fc9070" d="M184 1919h5v96h-5zM372 1919h6v96h-6zM607 1919h5v96h-5zM652 1919h6v96h-6zM1517 1919h6v96h-6zM1537 1919h5v96h-5zM1778 1919h5v96h-5zM2194 1919h5v96h-5zM2207 1919h5v96h-5zM2285 1919h6v96h-6zM2370 1919h5v96h-5zM2376 1919h6v96h-6zM2415 1919h6v96h-6zM2493 1919h6v96h-6zM2539 1919h5v96h-5zM418 1797h5v96h-5zM548 1797h6v96h-6zM1277 1797h5v96h-5zM1309 1797h6v96h-6zM1361 1797h6v96h-6zM1394 1797h5v96h-5zM1452 1797h6v96h-6zM1569 1797h6v96h-6zM1654 1797h5v96h-5zM1765 1797h5v96h-5zM1784 1797h6v96h-6zM1895 1797h5v96h-5zM1901 1797h6v96h-6zM1927 1797h6v96h-6zM1934 1797h5v96h-5zM1953 1797h6v96h-6zM2070 1797h6v96h-6zM2129 1797h5v96h-5zM2135 1797h6v96h-6zM2174 1797h6v96h-6zM2207 1797h5v96h-5zM2226 1797h6v96h-6zM2396 1797h5v96h-5zM2493 1797h6v96h-6zM2500 1797h5v96h-5zM2506 1797h6v96h-6zM275 1675h5v96h-5zM665 1675h6v96h-6zM1296 1675h6v96h-6zM1394 1675h5v96h-5zM1459 1675h5v96h-5zM1524 1675h5v96h-5zM1713 1675h5v96h-5zM2441 1675h6v96h-6zM190 1554h6v96h-6zM236 1554h5v96h-5zM320 1554h6v96h-6zM548 1554h6v96h-6zM899 1554h6v96h-6zM1817 1554h5v96h-5zM203 1432h6v96h-6zM470 1432h6v96h-6zM490 1432h5v96h-5zM509 1432h6v96h-6zM1693 1432h6v96h-6zM1732 1432h6v96h-6zM2025 1432h5v96h-5zM2109 1432h6v96h-6zM2324 1432h6v96h-6zM2363 1432h6v96h-6zM2448 1432h5v96h-5zM307 1310h6v96h-6zM411 1310h6v96h-6zM437 1310h6v96h-6zM1667 1310h6v96h-6zM1706 1310h6v96h-6zM1771 1310h6v96h-6zM1856 1310h5v96h-5zM2044 1310h6v96h-6zM2213 1310h6v96h-6zM2259 1310h6v96h-6zM2272 1310h6v96h-6zM2311 1310h6v96h-6zM2396 1310h5v96h-5zM2402 1310h6v96h-6z"/>
<path fill="#fc8e6e" d="M1160 1919h5v96h-5zM1478 1919h6v96h-6zM1504 1919h6v96h-6zM1524 1919h5v96h-5zM1745 1919h6v96h-6zM1901 1919h6v96h-6zM2142 1919h5v96h-5zM2324 1919h6v96h-6zM2363 1919h6v96h-6zM2428 1919h6v96h-6zM203 1797h6v96h-6zM294 1797h6v96h-6zM307 1797h6v96h-6zM665 1797h6v96h-6zM691 1797h6v96h-6zM1355 1797h5v96h-5zM1700 1797h5v96h-5zM1836 1797h6v96h-6zM1856 1797h5v96h-5zM1966 1797h6v96h-6zM1979 1797h6v96h-6zM2305 1797h5v96h-5zM2337 1797h6v96h-6zM2519 1797h6v96h-6zM704 1675h6v96h-6zM1537 1675h5v96h-5zM1628 1675h5v96h-5zM1693 1675h6v96h-6zM1888 1675h6v96h-6zM1895 1675h5v96h-5zM2025 1675h5v96h-5zM2044 1675h6v96h-6zM275 1554h5v96h-5zM327 1554h5v96h-5zM659 1554h5v96h-5zM665 1554h6v96h-6zM691 1554h6v96h-6zM704 1554h6v96h-6zM750 1554h5v96h-5zM1752 1554h5v96h-5zM1836 1554h6v96h-6zM190 1432h6v96h-6zM450 1432h6v96h-6zM1381 1432h5v96h-5zM1426 1432h6v96h-6zM2077 1432h5v96h-5zM2298 1432h6v96h-6zM2376 1432h6v96h-6zM249 1310h5v96h-5zM424 1310h6v96h-6zM431 1310h5v96h-5zM1674 1310h5v96h-5zM1745 1310h6v96h-6zM1849 1310h6v96h-6zM2168 1310h5v96h-5zM2252 1310h6v96h-6z"/>
<path fill="#fc8a6a" d="M275 1919h5v96h-5zM450 1919h6v96h-6zM1485 1919h5v96h-5zM1530 1919h6v96h-6zM1732 1919h6v96h-6zM2051 1919h5v96h-5zM2129 1919h5v96h-5zM2148 1919h6v96h-6zM2220 1919h5v96h-5zM2350 1919h6v96h-6zM2532 1919h6v96h-6zM2552 1919h5v96h-5zM503 1797h5v96h-5zM873 1797h6v96h-6zM1283 1797h6v96h-6zM1485 1797h5v96h-5zM1511 1797h5v96h-5zM1745 1797h6v96h-6zM1921 1797h5v96h-5zM2038 1797h5v96h-5zM2064 1797h5v96h-5zM2090 1797h5v96h-5zM2220 1797h5v96h-5zM2246 1797h5v96h-5zM2259 1797h6v96h-6zM2389 1797h6v96h-6zM2461 1797h5v96h-5zM854 1675h5v96h-5zM1608 1675h6v96h-6zM1621 1675h6v96h-6zM1667 1675h6v96h-6zM1680 1675h6v96h-6zM1706 1675h6v96h-6zM1953 1675h6v96h-6zM1992 1675h6v96h-6zM2506 1675h6v96h-6zM288 1554h5v96h-5zM314 1554h5v96h-5zM457 1554h5v96h-5zM477 1554h5v96h-5zM561 1554h6v96h-6zM646 1554h5v96h-5zM698 1554h5v96h-5zM717 1554h6v96h-6zM1186 1554h5v96h-5zM1342 1554h5v96h-5zM1439 1554h6v96h-6zM1719 1554h6v96h-6zM1804 1554h5v96h-5zM2200 1554h6v96h-6zM177 1432h6v96h-6zM333 1432h6v96h-6zM392 1432h5v96h-5zM1355 1432h5v96h-5zM1608 1432h6v96h-6zM1621 1432h6v96h-6zM1680 1432h6v96h-6zM1706 1432h6v96h-6zM1791 1432h5v96h-5zM1960 1432h5v96h-5zM1966 1432h6v96h-6zM2064 1432h5v96h-5zM2506 1432h6v96h-6zM314 1310h5v96h-5zM333 1310h6v96h-6zM398 1310h6v96h-6zM1713 1310h5v96h-5zM1726 1310h5v96h-5zM1732 1310h6v96h-6zM2116 1310h5v96h-5zM2142 1310h5v96h-5zM2246 1310h5v96h-5zM2344 1310h5v96h-5zM2363 1310h6v96h-6z"/>
<path fill="#fc8767" d="M613 1919h6v96h-6zM633 1919h5v96h-5zM1543 1919h6v96h-6zM1719 1919h6v96h-6zM1758 1919h6v96h-6zM1843 1919h5v96h-5zM1953 1919h6v96h-6zM2038 1919h5v96h-5zM2109 1919h6v96h-6zM2122 1919h6v96h-6zM2233 1919h5v96h-5zM2239 1919h6v96h-6zM2396 1919h5v96h-5zM2526 1919h5v96h-5zM2545 1919h6v96h-6zM613 1797h6v96h-6zM867 1797h5v96h-5zM1082 1797h5v96h-5zM1413 1797h6v96h-6zM1439 1797h6v96h-6zM1641 1797h5v96h-5zM1647 1797h6v96h-6zM1726 1797h5v96h-5zM1752 1797h5v96h-5zM1810 1797h6v96h-6zM1947 1797h5v96h-5zM2012 1797h5v96h-5zM2083 1797h6v96h-6zM2109 1797h6v96h-6zM2422 1797h5v96h-5zM2428 1797h6v96h-6zM880 1675h5v96h-5zM1322 1675h6v96h-6zM1348 1675h6v96h-6zM1452 1675h6v96h-6zM1797 1675h6v96h-6zM1934 1675h5v96h-5zM1999 1675h5v96h-5zM2109 1675h6v96h-6zM197 1554h5v96h-5zM509 1554h6v96h-6zM1602 1554h5v96h-5zM1784 1554h6v96h-6zM1849 1554h6v96h-6zM1888 1554h6v96h-6zM1927 1554h6v96h-6zM1947 1554h5v96h-5zM216 1432h6v96h-6zM1472 1432h5v96h-5zM1491 1432h6v96h-6zM1504 1432h6v96h-6zM1530 1432h6v96h-6zM1784 1432h6v96h-6zM2435 1432h5v96h-5zM2441 1432h6v96h-6zM255 1310h6v96h-6zM2239 1310h6v96h-6zM2318 1310h5v96h-5z"/>
<path fill="#fc8464" d="M1550 1919h5v96h-5zM1784 1919h6v96h-6zM1817 1919h5v96h-5zM1849 1919h6v96h-6zM1947 1919h5v96h-5zM2025 1919h5v96h-5zM2103 1919h5v96h-5zM2213 1919h6v96h-6zM2252 1919h6v96h-6zM2357 1919h5v96h-5zM2435 1919h5v96h-5zM2467 1919h6v96h-6zM2474 1919h5v96h-5zM2500 1919h5v96h-5zM2506 1919h6v96h-6zM2513 1919h5v96h-5zM1270 1797h6v96h-6zM1433 1797h5v96h-5zM1491 1797h6v96h-6zM1543 1797h6v96h-6zM1589 1797h5v96h-5zM1713 1797h5v96h-5zM1882 1797h5v96h-5zM1992 1797h6v96h-6zM2025 1797h5v96h-5zM2031 1797h6v96h-6zM2051 1797h5v96h-5zM2116 1797h5v96h-5zM2474 1797h5v96h-5zM620 1675h5v96h-5zM1277 1675h5v96h-5zM1309 1675h6v96h-6zM1335 1675h6v96h-6zM1530 1675h6v96h-6zM1563 1675h5v96h-5zM1569 1675h6v96h-6zM1615 1675h5v96h-5zM1660 1675h6v96h-6zM1784 1675h6v96h-6zM1791 1675h5v96h-5zM1810 1675h6v96h-6zM2135 1675h6v96h-6zM2415 1675h6v96h-6zM2422 1675h5v96h-5zM2532 1675h6v96h-6zM262 1554h5v96h-5zM294 1554h6v96h-6zM301 1554h5v96h-5zM411 1554h6v96h-6zM483 1554h6v96h-6zM1407 1554h5v96h-5zM1537 1554h5v96h-5zM1674 1554h5v96h-5zM1706 1554h6v96h-6zM1856 1554h5v96h-5zM1875 1554h6v96h-6zM1914 1554h6v96h-6zM1934 1554h5v96h-5zM1940 1554h6v96h-6zM2233 1554h5v96h-5zM2448 1554h5v96h-5zM2506 1554h6v96h-6zM2526 1554h5v96h-5zM242 1432h6v96h-6zM372 1432h6v96h-6zM483 1432h6v96h-6zM1394 1432h5v96h-5zM1452 1432h6v96h-6zM1517 1432h6v96h-6zM1726 1432h5v96h-5zM1810 1432h6v96h-6zM2285 1432h6v96h-6zM2305 1432h5v96h-5zM2344 1432h5v96h-5zM2500 1432h5v96h-5zM366 1310h5v96h-5zM1739 1310h5v96h-5zM1765 1310h5v96h-5zM1862 1310h6v96h-6zM2148 1310h6v96h-6zM2155 1310h5v96h-5zM2292 1310h5v96h-5z"/>
<path fill="#fc8060" d="M620 1919h5v96h-5zM1700 1919h5v96h-5zM1765 1919h5v96h-5zM1797 1919h6v96h-6zM1804 1919h5v96h-5zM1882 1919h5v96h-5zM1934 1919h5v96h-5zM2246 1919h5v96h-5zM2318 1919h5v96h-5zM2389 1919h6v96h-6zM2422 1919h5v96h-5zM2448 1919h5v96h-5zM2480 1919h6v96h-6zM288 1797h5v96h-5zM1244 1797h6v96h-6zM1296 1797h6v96h-6zM1660 1797h6v96h-6zM1667 1797h6v96h-6zM1674 1797h5v96h-5zM1771 1797h6v96h-6zM1986 1797h5v96h-5zM2044 1797h6v96h-6zM2057 1797h6v96h-6zM1426 1675h6v96h-6zM1582 1675h6v96h-6zM1732 1675h6v96h-6zM1921 1675h5v96h-5zM1927 1675h6v96h-6zM2005 1675h6v96h-6zM2031 1675h6v96h-6zM2142 1675h5v96h-5zM2148 1675h6v96h-6zM346 1554h6v96h-6zM392 1554h5v96h-5zM398 1554h6v96h-6zM450 1554h6v96h-6zM535 1554h6v96h-6zM594 1554h5v96h-5zM626 1554h6v96h-6zM730 1554h6v96h-6zM1199 1554h5v96h-5zM1205 1554h6v96h-6zM1426 1554h6v96h-6zM1628 1554h5v96h-5zM1791 1554h5v96h-5zM1830 1554h5v96h-5zM1921 1554h5v96h-5zM2031 1554h6v96h-6zM2038 1554h5v96h-5zM2220 1554h5v96h-5zM2226 1554h6v96h-6zM2487 1554h5v96h-5zM223 1432h5v96h-5zM1400 1432h6v96h-6zM1999 1432h5v96h-5zM2311 1432h6v96h-6zM2337 1432h6v96h-6zM2233 1310h5v96h-5z"/>
<path fill="#fb7d5d" d="M659 1919h5v96h-5zM691 1919h6v96h-6zM1667 1919h6v96h-6zM1693 1919h6v96h-6zM1771 1919h6v96h-6zM1810 1919h6v96h-6zM2005 1919h6v96h-6zM2044 1919h6v96h-6zM2070 1919h6v96h-6zM2083 1919h6v96h-6zM2200 1919h6v96h-6zM2226 1919h6v96h-6zM2298 1919h6v96h-6zM2344 1919h5v96h-5zM2441 1919h6v96h-6zM2454 1919h6v96h-6zM2487 1919h5v96h-5zM177 1797h6v96h-6zM1251 1797h5v96h-5zM1387 1797h6v96h-6zM2018 1797h6v96h-6zM1303 1675h5v96h-5zM1316 1675h5v96h-5zM1439 1675h6v96h-6zM1472 1675h5v96h-5zM1550 1675h5v96h-5zM1654 1675h5v96h-5zM1745 1675h6v96h-6zM1830 1675h5v96h-5zM1882 1675h5v96h-5zM1901 1675h6v96h-6zM2012 1675h5v96h-5zM2116 1675h5v96h-5zM2181 1675h5v96h-5zM2272 1675h6v96h-6zM2311 1675h6v96h-6zM2389 1675h6v96h-6zM210 1554h5v96h-5zM255 1554h6v96h-6zM424 1554h6v96h-6zM431 1554h5v96h-5zM463 1554h6v96h-6zM503 1554h5v96h-5zM613 1554h6v96h-6zM737 1554h5v96h-5zM1550 1554h5v96h-5zM1667 1554h6v96h-6zM1693 1554h6v96h-6zM2025 1554h5v96h-5zM2077 1554h5v96h-5zM2174 1554h6v96h-6zM2539 1554h5v96h-5zM255 1432h6v96h-6zM1374 1432h6v96h-6zM1387 1432h6v96h-6zM1511 1432h5v96h-5zM1823 1432h6v96h-6zM1973 1432h5v96h-5zM2383 1432h5v96h-5zM2402 1432h6v96h-6zM1700 1310h5v96h-5zM2174 1310h6v96h-6zM2285 1310h6v96h-6z"/>
<path fill="#fb7a5a" d="M685 1919h5v96h-5zM1713 1919h5v96h-5zM1726 1919h5v96h-5zM1739 1919h5v96h-5zM1830 1919h5v96h-5zM1836 1919h6v96h-6zM1888 1919h6v96h-6zM1940 1919h6v96h-6zM2064 1919h5v96h-5zM2077 1919h5v96h-5zM2181 1919h5v96h-5zM2311 1919h6v96h-6zM2461 1919h5v96h-5zM1257 1797h6v96h-6zM1576 1797h5v96h-5zM1582 1797h6v96h-6zM1914 1797h6v96h-6zM2266 1797h5v96h-5zM1556 1675h6v96h-6zM1576 1675h5v96h-5zM1758 1675h6v96h-6zM1804 1675h5v96h-5zM1817 1675h5v96h-5zM1973 1675h5v96h-5zM2018 1675h6v96h-6zM2038 1675h5v96h-5zM2083 1675h6v96h-6zM2318 1675h5v96h-5zM177 1554h6v96h-6zM242 1554h6v96h-6zM281 1554h6v96h-6zM444 1554h5v96h-5zM529 1554h5v96h-5zM542 1554h5v96h-5zM587 1554h6v96h-6zM1420 1554h5v96h-5zM1530 1554h6v96h-6zM1543 1554h6v96h-6zM1576 1554h5v96h-5zM1882 1554h5v96h-5zM1901 1554h6v96h-6zM1986 1554h5v96h-5zM2044 1554h6v96h-6zM2051 1554h5v96h-5zM2090 1554h5v96h-5zM2213 1554h6v96h-6zM2500 1554h5v96h-5zM2513 1554h5v96h-5zM236 1432h5v96h-5zM353 1432h5v96h-5zM379 1432h5v96h-5zM1537 1432h5v96h-5zM1797 1432h6v96h-6zM2018 1432h6v96h-6zM340 1310h5v96h-5zM1752 1310h5v96h-5zM2181 1310h5v96h-5zM2324 1310h6v96h-6z"/>
<path fill="#fb7757" d="M665 1919h6v96h-6zM678 1919h6v96h-6zM1647 1919h6v96h-6zM1706 1919h6v96h-6zM1869 1919h5v96h-5zM1875 1919h6v96h-6zM1992 1919h6v96h-6zM2090 1919h5v96h-5zM2116 1919h5v96h-5zM2135 1919h6v96h-6zM1498 1797h5v96h-5zM1869 1797h5v96h-5zM2005 1797h6v96h-6zM2077 1797h5v96h-5zM1465 1675h6v96h-6zM1491 1675h6v96h-6zM1504 1675h6v96h-6zM1700 1675h5v96h-5zM1739 1675h5v96h-5zM1914 1675h6v96h-6zM2122 1675h6v96h-6zM2266 1675h5v96h-5zM2279 1675h5v96h-5zM2324 1675h6v96h-6zM2402 1675h6v96h-6zM2435 1675h5v96h-5zM249 1554h5v96h-5zM307 1554h6v96h-6zM379 1554h5v96h-5zM405 1554h5v96h-5zM470 1554h6v96h-6zM522 1554h6v96h-6zM555 1554h5v96h-5zM620 1554h5v96h-5zM652 1554h6v96h-6zM724 1554h5v96h-5zM1446 1554h5v96h-5zM1569 1554h6v96h-6zM1595 1554h6v96h-6zM1654 1554h5v96h-5zM1660 1554h6v96h-6zM1680 1554h6v96h-6zM1739 1554h5v96h-5zM1797 1554h6v96h-6zM1810 1554h6v96h-6zM1823 1554h6v96h-6zM1862 1554h6v96h-6zM2096 1554h6v96h-6zM2194 1554h5v96h-5zM2467 1554h6v96h-6zM2480 1554h6v96h-6zM1459 1432h5v96h-5zM1498 1432h5v96h-5zM1524 1432h5v96h-5zM1569 1432h6v96h-6zM1602 1432h5v96h-5zM1992 1432h6v96h-6zM2357 1432h5v96h-5zM262 1310h5v96h-5zM2298 1310h6v96h-6zM2337 1310h6v96h-6z"/>
<path fill="#fb7353" d="M1634 1919h6v96h-6zM1823 1919h6v96h-6zM1895 1919h5v96h-5zM2259 1919h6v96h-6zM1426 1797h6v96h-6zM1888 1797h6v96h-6zM1420 1675h5v96h-5zM1433 1675h5v96h-5zM1446 1675h5v96h-5zM1543 1675h6v96h-6zM1687 1675h5v96h-5zM1966 1675h6v96h-6zM2090 1675h5v96h-5zM2252 1675h6v96h-6zM2285 1675h6v96h-6zM2448 1675h5v96h-5zM184 1554h5v96h-5zM203 1554h6v96h-6zM359 1554h6v96h-6zM366 1554h5v96h-5zM568 1554h5v96h-5zM672 1554h5v96h-5zM1381 1554h5v96h-5zM1413 1554h6v96h-6zM1433 1554h5v96h-5zM1556 1554h6v96h-6zM1582 1554h6v96h-6zM1621 1554h6v96h-6zM1726 1554h5v96h-5zM1843 1554h5v96h-5zM1908 1554h5v96h-5zM2168 1554h5v96h-5zM197 1432h5v96h-5zM1407 1432h5v96h-5zM1420 1432h5v96h-5zM1804 1432h5v96h-5z"/>
<path fill="#fb7151" d="M1472 1919h5v96h-5zM1927 1919h6v96h-6zM1973 1919h5v96h-5zM1979 1919h6v96h-6zM2012 1919h5v96h-5zM2031 1919h6v96h-6zM2187 1919h6v96h-6zM2279 1919h5v96h-5zM2331 1919h5v96h-5zM1498 1675h5v96h-5zM1511 1675h5v96h-5zM1517 1675h6v96h-6zM1674 1675h5v96h-5zM1719 1675h6v96h-6zM1765 1675h5v96h-5zM1778 1675h5v96h-5zM1823 1675h6v96h-6zM1875 1675h6v96h-6zM1908 1675h5v96h-5zM1960 1675h5v96h-5zM2051 1675h5v96h-5zM2103 1675h5v96h-5zM2174 1675h6v96h-6zM2213 1675h6v96h-6zM2305 1675h5v96h-5zM2428 1675h6v96h-6zM2454 1675h6v96h-6zM223 1554h5v96h-5zM340 1554h5v96h-5zM437 1554h6v96h-6zM639 1554h6v96h-6zM1504 1554h6v96h-6zM1511 1554h5v96h-5zM1869 1554h5v96h-5zM1973 1554h5v96h-5zM1992 1554h6v96h-6zM1999 1554h5v96h-5zM2155 1554h5v96h-5zM2187 1554h6v96h-6zM2396 1554h5v96h-5zM2474 1554h5v96h-5zM2493 1554h6v96h-6zM2519 1554h6v96h-6zM2532 1554h6v96h-6zM1413 1432h6v96h-6zM346 1310h6v96h-6zM1687 1310h5v96h-5z"/>
<path fill="#fb6d4d" d="M646 1919h5v96h-5zM1660 1919h6v96h-6zM1680 1919h6v96h-6zM2057 1919h6v96h-6zM1504 1797h6v96h-6zM1530 1797h6v96h-6zM1283 1675h6v96h-6zM1478 1675h6v96h-6zM1634 1675h6v96h-6zM1641 1675h5v96h-5zM1726 1675h5v96h-5zM1752 1675h5v96h-5zM2161 1675h6v96h-6zM2298 1675h6v96h-6zM2383 1675h5v96h-5zM2409 1675h5v96h-5zM2467 1675h6v96h-6zM2493 1675h6v96h-6zM490 1554h5v96h-5zM496 1554h6v96h-6zM1452 1554h6v96h-6zM1524 1554h5v96h-5zM1895 1554h5v96h-5zM2103 1554h5v96h-5zM2116 1554h5v96h-5zM2161 1554h6v96h-6zM2181 1554h5v96h-5zM2207 1554h5v96h-5zM314 1432h5v96h-5zM1439 1432h6v96h-6zM2012 1432h5v96h-5zM2370 1432h5v96h-5zM268 1310h6v96h-6zM1758 1310h6v96h-6z"/>
<path fill="#fb694a" d="M1641 1919h5v96h-5zM1914 1919h6v96h-6zM1921 1919h5v96h-5zM1290 1675h5v96h-5zM1843 1675h5v96h-5zM1979 1675h6v96h-6zM2129 1675h5v96h-5zM2207 1675h5v96h-5zM333 1554h6v96h-6zM581 1554h5v96h-5zM607 1554h5v96h-5zM1498 1554h5v96h-5zM1589 1554h5v96h-5zM2331 1554h5v96h-5zM2461 1554h5v96h-5zM320 1432h6v96h-6zM340 1432h5v96h-5zM346 1432h6v96h-6zM1543 1432h6v96h-6zM1550 1432h5v96h-5zM1556 1432h6v96h-6zM1563 1432h5v96h-5zM2005 1432h6v96h-6z"/>
<path fill="#fa6648" d="M672 1919h5v96h-5zM1674 1919h5v96h-5zM1752 1919h5v96h-5zM2155 1919h5v96h-5zM1517 1797h6v96h-6zM1589 1675h5v96h-5zM1986 1675h5v96h-5zM2070 1675h6v96h-6zM2096 1675h6v96h-6zM2155 1675h5v96h-5zM2168 1675h5v96h-5zM2259 1675h6v96h-6zM2292 1675h5v96h-5zM2357 1675h5v96h-5zM418 1554h5v96h-5zM633 1554h5v96h-5zM1472 1554h5v96h-5zM1517 1554h6v96h-6zM1615 1554h5v96h-5zM1745 1554h6v96h-6zM2083 1554h6v96h-6zM2454 1554h6v96h-6zM1446 1432h5v96h-5zM1465 1432h6v96h-6z"/>
<path fill="#f96245" d="M1654 1919h5v96h-5zM1687 1919h5v96h-5zM1524 1797h5v96h-5zM1537 1797h5v96h-5zM2064 1675h5v96h-5zM2226 1675h6v96h-6zM2344 1675h5v96h-5zM2461 1675h5v96h-5zM1563 1554h5v96h-5zM1608 1554h6v96h-6zM1687 1554h5v96h-5zM1700 1554h5v96h-5zM2012 1554h5v96h-5zM2018 1554h6v96h-6zM2064 1554h5v96h-5zM2070 1554h6v96h-6zM2337 1554h6v96h-6zM2350 1554h6v96h-6zM2545 1554h6v96h-6zM229 1432h6v96h-6zM359 1432h6v96h-6z"/>
<path fill="#f85f43" d="M2018 1919h6v96h-6zM2161 1919h6v96h-6zM2168 1919h5v96h-5zM2272 1919h6v96h-6zM1485 1675h5v96h-5zM1595 1675h6v96h-6zM1647 1675h6v96h-6zM2396 1675h5v96h-5zM1465 1554h6v96h-6zM1953 1554h6v96h-6zM1960 1554h5v96h-5zM1979 1554h6v96h-6zM2005 1554h6v96h-6zM2135 1554h6v96h-6zM2305 1554h5v96h-5zM2311 1554h6v96h-6zM2344 1554h5v96h-5zM2363 1554h6v96h-6zM2428 1554h6v96h-6zM281 1432h6v96h-6zM327 1432h5v96h-5zM1433 1432h5v96h-5z"/>
<path fill="#f75b40" d="M2174 1919h6v96h-6zM1771 1675h6v96h-6zM2057 1675h6v96h-6zM2246 1675h5v96h-5zM2350 1675h6v96h-6zM2363 1675h6v96h-6zM2474 1675h5v96h-5zM385 1554h6v96h-6zM2252 1554h6v96h-6zM2298 1554h6v96h-6zM2357 1554h5v96h-5zM2409 1554h5v96h-5zM2435 1554h5v96h-5zM249 1432h5v96h-5zM262 1432h5v96h-5z"/>
<path fill="#f6583e" d="M2096 1919h6v96h-6zM2077 1675h5v96h-5zM2200 1675h6v96h-6zM2129 1554h5v96h-5zM2292 1554h5v96h-5zM2370 1554h5v96h-5zM2402 1554h6v96h-6zM2441 1554h6v96h-6zM268 1432h6v96h-6zM275 1432h5v96h-5zM366 1432h5v96h-5z"/>
<path fill="#f5533b" d="M1602 1675h5v96h-5zM1836 1675h6v96h-6zM2187 1675h6v96h-6zM2220 1675h5v96h-5zM2233 1675h5v96h-5zM2239 1675h6v96h-6zM2331 1675h5v96h-5zM574 1554h6v96h-6zM600 1554h6v96h-6zM1647 1554h6v96h-6zM1966 1554h6v96h-6zM2109 1554h6v96h-6zM2142 1554h5v96h-5zM2285 1554h6v96h-6zM2389 1554h6v96h-6zM2422 1554h5v96h-5z"/>
<path fill="#f4503a" d="M1478 1554h6v96h-6zM1634 1554h6v96h-6zM2324 1554h6v96h-6z"/>
<path fill="#f34c37" d="M2194 1675h5v96h-5zM2337 1675h6v96h-6zM2487 1675h5v96h-5zM1485 1554h5v96h-5zM1491 1554h6v96h-6zM2122 1554h6v96h-6zM2246 1554h5v96h-5zM2383 1554h5v96h-5z"/>
<path fill="#f24734" d="M372 1554h6v96h-6zM2148 1554h6v96h-6zM2376 1554h6v96h-6zM2415 1554h6v96h-6z"/>
<path fill="#f14432" d="M2376 1675h6v96h-6zM2057 1554h6v96h-6zM2318 1554h5v96h-5zM301 1432h5v96h-5z"/>
<path fill="#f0402f" d="M2370 1675h5v96h-5zM2239 1554h6v96h-6zM2259 1554h6v96h-6z"/>
<path fill="#f03d2d" d="M307 1432h6v96h-6z"/>
<path fill="#ed392b" d="M2480 1675h6v96h-6z"/>
<path fill="#eb372a" d="M1459 1554h5v96h-5zM1641 1554h5v96h-5zM294 1432h6v96h-6z"/>
<path fill="#d92523" d="M288 1432h5v96h-5z"/>
</g>
<path d="M374.7 1114V1990M563.3 1114V1990M765.0 1114V1990M960.2 1114V1990M1161.8 1114V1990M1357.0 1114V1990M1558.7 1114V1990M1760.3 1114V1990M1955.5 1114V1990M2157.2 1114V1990M2352.3 1114V1990" stroke="#6a6d82" stroke-opacity="0.3" stroke-width="1.2" fill="none"/>
<rect x="173" y="1114" width="2381" height="876" fill="none" stroke="#3a3d52" stroke-width="2.1"/>
<path d="M163 1918.2H172M163 1796.3H172M163 1674.5H172M163 1552.6H172M163 1430.8H172M163 1308.9H172M163 1187.1H172M273.8 1991V2000M469.0 1991V2000M664.2 1991V2000M862.6 1991V2000M1061.0 1991V2000M1259.4 1991V2000M1457.8 1991V2000M1659.5 1991V2000M1857.9 1991V2000M2056.3 1991V2000M2254.7 1991V2000M2453.2 1991V2000" stroke="#8a8a8a" stroke-width="2" fill="none"/>
<rect x="2579.3" y="1114" width="43.4" height="876" fill="url(#gr)" stroke="#3a3d52" stroke-width="2"/>
<path d="M2623.7 1990.0H2633M2623.7 1814.8H2633M2623.7 1639.6H2633M2623.7 1464.4H2633M2623.7 1289.2H2633M2623.7 1114.0H2633" stroke="#e0e4ec" stroke-width="2" fill="none"/>
<g style="filter:opacity(1)">
<text x="137.1" y="883.2" font-size="27.10" fill="#e0e4ec" textLength="17.2" lengthAdjust="spacingAndGlyphs">0</text>
<text x="82.9" y="751.7" font-size="27.10" fill="#e0e4ec" textLength="68.9" lengthAdjust="spacingAndGlyphs">5000</text>
<text x="65.7" y="620.2" font-size="27.10" fill="#e0e4ec" textLength="86.2" lengthAdjust="spacingAndGlyphs">10000</text>
<text x="65.7" y="488.7" font-size="27.10" fill="#e0e4ec" textLength="86.2" lengthAdjust="spacingAndGlyphs">15000</text>
<text x="65.7" y="357.2" font-size="27.10" fill="#e0e4ec" textLength="86.2" lengthAdjust="spacingAndGlyphs">20000</text>
<text x="65.7" y="225.7" font-size="27.10" fill="#e0e4ec" textLength="86.2" lengthAdjust="spacingAndGlyphs">25000</text>
<text x="138.5" y="914.8" font-size="27.10" fill="#8a8a8a" textLength="69.0" lengthAdjust="spacingAndGlyphs">2020</text>
<text x="520.2" y="914.8" font-size="27.10" fill="#8a8a8a" textLength="69.0" lengthAdjust="spacingAndGlyphs">2021</text>
<text x="900.8" y="914.8" font-size="27.10" fill="#8a8a8a" textLength="69.0" lengthAdjust="spacingAndGlyphs">2022</text>
<text x="1281.4" y="914.8" font-size="27.10" fill="#8a8a8a" textLength="69.0" lengthAdjust="spacingAndGlyphs">2023</text>
<text x="1662.0" y="914.8" font-size="27.10" fill="#8a8a8a" textLength="69.0" lengthAdjust="spacingAndGlyphs">2024</text>
<text x="2043.7" y="914.8" font-size="27.10" fill="#8a8a8a" textLength="69.0" lengthAdjust="spacingAndGlyphs">2025</text>
<text x="2424.3" y="914.8" font-size="27.10" fill="#8a8a8a" textLength="69.0" lengthAdjust="spacingAndGlyphs">2026</text>
<text x="47.1" y="806.6" font-size="35.80" fill="#e0e4ec" font-weight="bold" stroke="#e0e4ec" stroke-width="0.9" stroke-linejoin="round" textLength="596.6" lengthAdjust="spacingAndGlyphs" transform="rotate(-90 47.1 806.6)">Natural Gas Generation (MW)</text>
<text x="818.0" y="52.6" font-size="41.70" fill="#ffffff" font-weight="bold" stroke="#ffffff" stroke-width="0.9" stroke-linejoin="round" textLength="1090.5" lengthAdjust="spacingAndGlyphs">California Grid: Hourly Natural Gas Generation</text>
<text x="993.0" y="101.0" font-size="41.70" fill="#ffffff" font-weight="bold" stroke="#ffffff" stroke-width="0.9" stroke-linejoin="round" textLength="742.0" lengthAdjust="spacingAndGlyphs">Updated through April 03, 2026</text>
<text x="2337.6" y="190.0" font-size="27.10" fill="#e0e4ec" textLength="190.3" lengthAdjust="spacingAndGlyphs">Daily Average</text>
<text x="2636.3" y="882.2" font-size="25.00" fill="#e0e4ec" textLength="152.7" lengthAdjust="spacingAndGlyphs">0 (midnight)</text>
<text x="2636.3" y="699.5" font-size="25.00" fill="#e0e4ec" textLength="52.2" lengthAdjust="spacingAndGlyphs">6am</text>
<text x="2636.3" y="516.7" font-size="25.00" fill="#e0e4ec" textLength="118.7" lengthAdjust="spacingAndGlyphs">12 (noon)</text>
<text x="2636.3" y="333.9" font-size="25.00" fill="#e0e4ec" textLength="52.9" lengthAdjust="spacingAndGlyphs">6pm</text>
<text x="2636.3" y="181.7" font-size="25.00" fill="#e0e4ec" textLength="29.5" lengthAdjust="spacingAndGlyphs">23</text>
<text x="2822.3" y="590.8" font-size="27.10" fill="#e0e4ec" textLength="163.5" lengthAdjust="spacingAndGlyphs" transform="rotate(-90 2822.3 590.8)">Hour of Day</text>
<text x="77.2" y="1929.4" font-size="29.20" fill="#e0e4ec" textLength="73.6" lengthAdjust="spacingAndGlyphs">2020</text>
<text x="77.2" y="1807.5" font-size="29.20" fill="#e0e4ec" textLength="73.6" lengthAdjust="spacingAndGlyphs">2021</text>
<text x="77.2" y="1685.7" font-size="29.20" fill="#e0e4ec" textLength="73.6" lengthAdjust="spacingAndGlyphs">2022</text>
<text x="77.2" y="1563.8" font-size="29.20" fill="#e0e4ec" textLength="73.6" lengthAdjust="spacingAndGlyphs">2023</text>
<text x="77.2" y="1442.0" font-size="29.20" fill="#e0e4ec" textLength="73.6" lengthAdjust="spacingAndGlyphs">2024</text>
<text x="77.2" y="1320.1" font-size="29.20" fill="#e0e4ec" textLength="73.6" lengthAdjust="spacingAndGlyphs">2025</text>
<text x="77.2" y="1198.3" font-size="29.20" fill="#e0e4ec" textLength="73.6" lengthAdjust="spacingAndGlyphs">2026</text>
<text x="255.6" y="2030.0" font-size="25.00" fill="#8a8a8a" textLength="36.5" lengthAdjust="spacingAndGlyphs">Jan</text>
<text x="447.8" y="2030.0" font-size="25.00" fill="#8a8a8a" textLength="42.3" lengthAdjust="spacingAndGlyphs">Feb</text>
<text x="641.6" y="2030.0" font-size="25.00" fill="#8a8a8a" textLength="45.2" lengthAdjust="spacingAndGlyphs">Mar</text>
<text x="842.0" y="2030.0" font-size="25.00" fill="#8a8a8a" textLength="41.2" lengthAdjust="spacingAndGlyphs">Apr</text>
<text x="1036.1" y="2030.0" font-size="25.00" fill="#8a8a8a" textLength="49.7" lengthAdjust="spacingAndGlyphs">May</text>
<text x="1240.4" y="2030.0" font-size="25.00" fill="#8a8a8a" textLength="38.0" lengthAdjust="spacingAndGlyphs">Jun</text>
<text x="1443.3" y="2030.0" font-size="25.00" fill="#8a8a8a" textLength="29.0" lengthAdjust="spacingAndGlyphs">Jul</text>
<text x="1636.1" y="2030.0" font-size="25.00" fill="#8a8a8a" textLength="46.8" lengthAdjust="spacingAndGlyphs">Aug</text>
<text x="1835.4" y="2030.0" font-size="25.00" fill="#8a8a8a" textLength="45.1" lengthAdjust="spacingAndGlyphs">Sep</text>
<text x="2035.7" y="2030.0" font-size="25.00" fill="#8a8a8a" textLength="41.2" lengthAdjust="spacingAndGlyphs">Oct</text>
<text x="2231.3" y="2030.0" font-size="25.00" fill="#8a8a8a" textLength="46.8" lengthAdjust="spacingAndGlyphs">Nov</text>
<text x="2430.3" y="2030.0" font-size="25.00" fill="#8a8a8a" textLength="45.8" lengthAdjust="spacingAndGlyphs">Dec</text>
<text x="1258.1" y="2072.4" font-size="33.30" fill="#8a8a8a" font-weight="bold" stroke="#8a8a8a" stroke-width="0.9" stroke-linejoin="round" textLength="212.2" lengthAdjust="spacingAndGlyphs">Day of Year</text>
<text x="923.5" y="1037.4" font-size="38.00" fill="#ffffff" font-weight="bold" stroke="#ffffff" stroke-width="0.9" stroke-linejoin="round" textLength="879.7" lengthAdjust="spacingAndGlyphs">Daily Natural Gas as % of Gross Demand</text>
<text x="739.5" y="1081.0" font-size="38.00" fill="#ffffff" font-weight="bold" stroke="#ffffff" stroke-width="0.9" stroke-linejoin="round" textLength="1246.5" lengthAdjust="spacingAndGlyphs">Each Strip = One Year, Color Intensity = Gas Dependence</text>
<text x="2644.3" y="1999.2" font-size="25.00" fill="#e0e4ec" textLength="14.0" lengthAdjust="spacingAndGlyphs">0</text>
<text x="2644.3" y="1824.0" font-size="25.00" fill="#e0e4ec" textLength="28.5" lengthAdjust="spacingAndGlyphs">20</text>
<text x="2644.3" y="1648.8" font-size="25.00" fill="#e0e4ec" textLength="28.5" lengthAdjust="spacingAndGlyphs">40</text>
<text x="2644.3" y="1473.6" font-size="25.00" fill="#e0e4ec" textLength="28.5" lengthAdjust="spacingAndGlyphs">60</text>
<text x="2644.3" y="1298.4" font-size="25.00" fill="#e0e4ec" textLength="28.5" lengthAdjust="spacingAndGlyphs">80</text>
<text x="2644.3" y="1123.2" font-size="25.00" fill="#e0e4ec" textLength="43.6" lengthAdjust="spacingAndGlyphs">100</text>
<text x="2722.2" y="1677.2" font-size="27.10" fill="#e0e4ec" textLength="246.3" lengthAdjust="spacingAndGlyphs" transform="rotate(-90 2722.2 1677.2)">Gas % of Demand</text>
</g>
</svg>
</body></html>
